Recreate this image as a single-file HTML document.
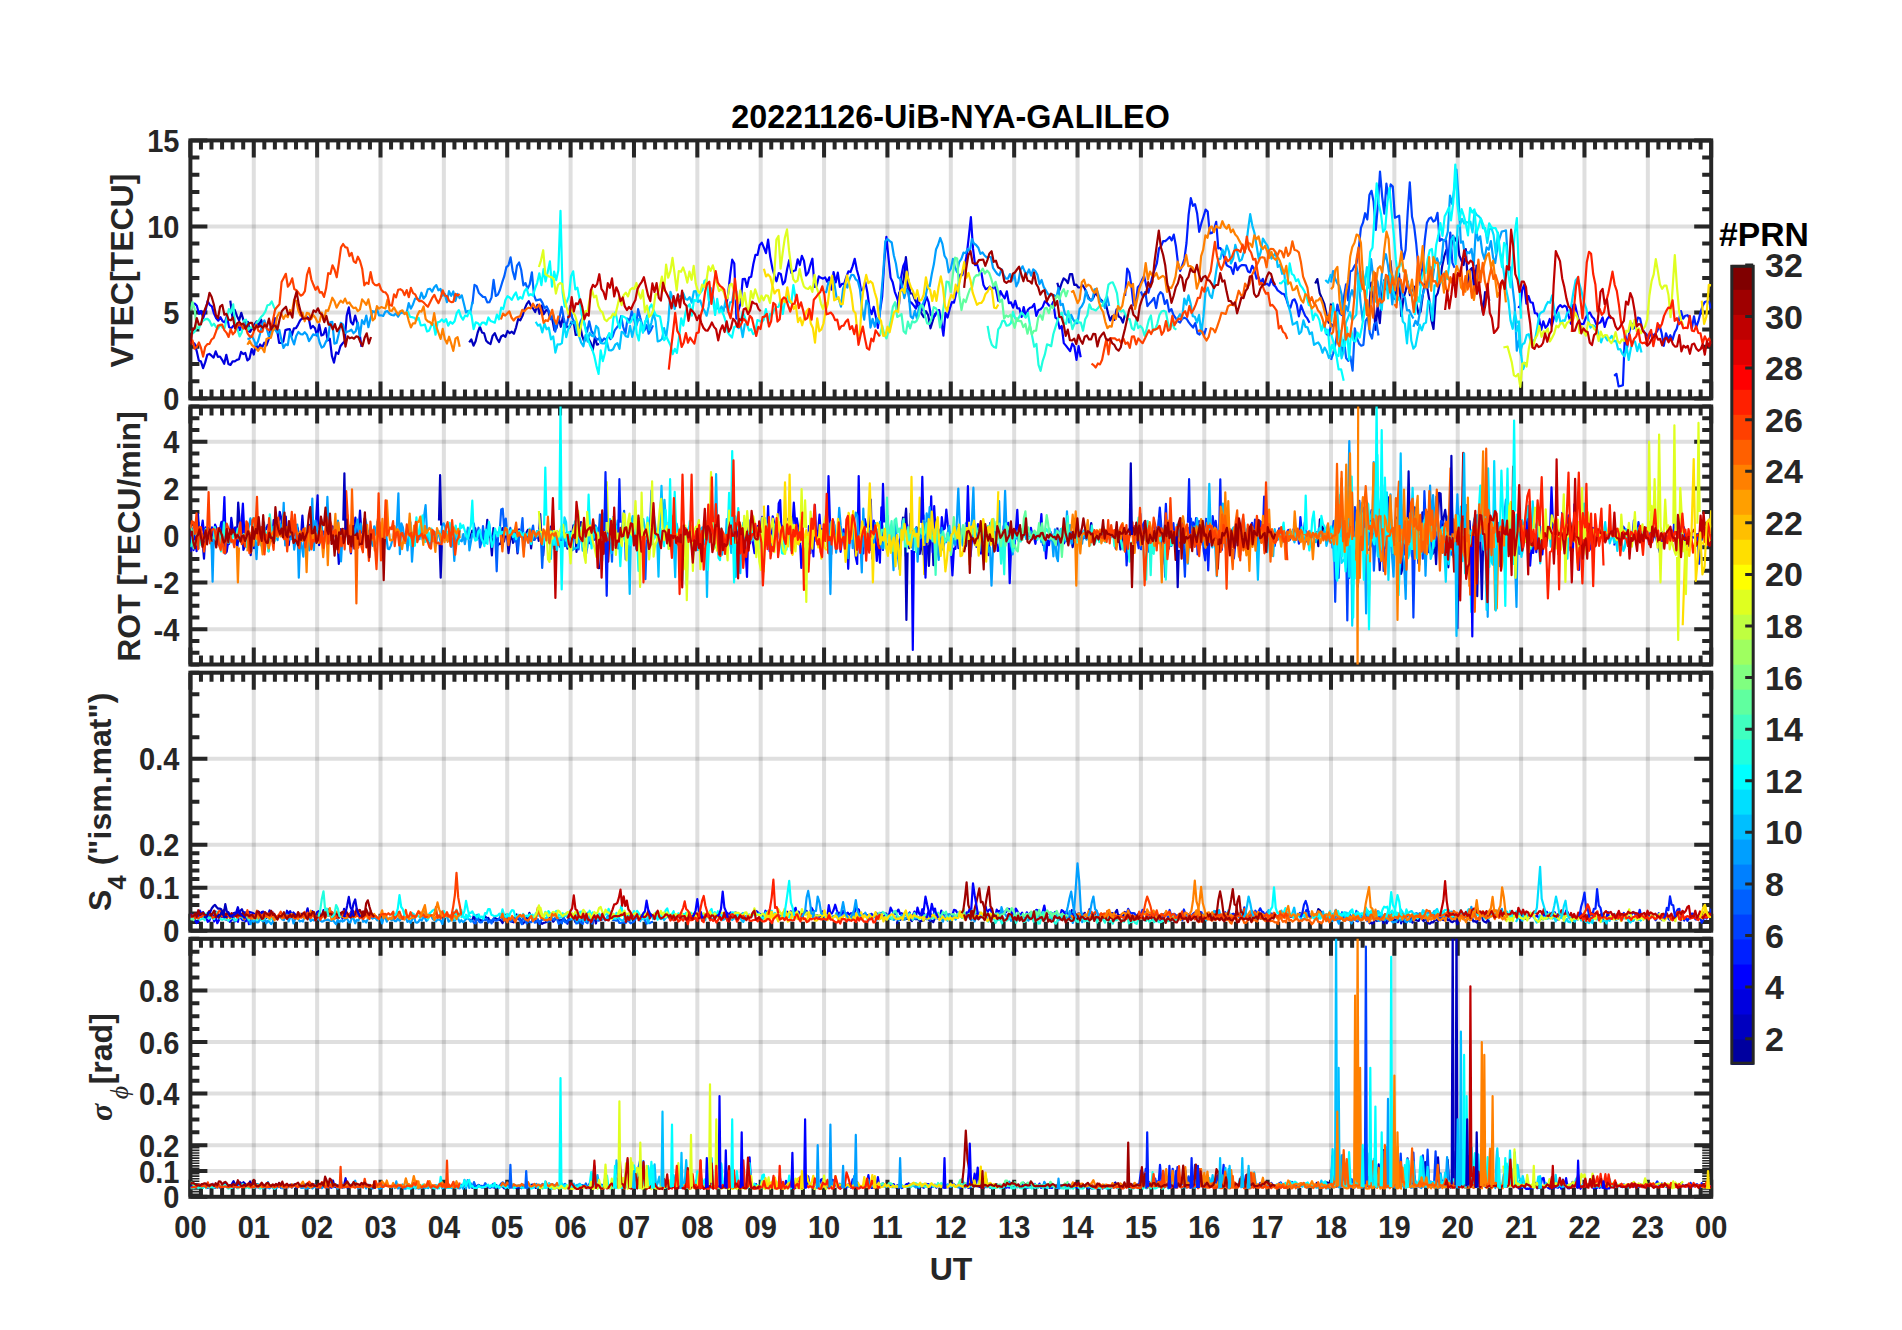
<!DOCTYPE html><html><head><meta charset="utf-8"><style>
html,body{margin:0;padding:0;background:#fff;width:1902px;height:1330px;overflow:hidden}
text{font-family:"Liberation Sans",sans-serif;font-weight:bold}
.tl{font-size:29px;fill:#262626}
.yl{font-size:32px;fill:#262626}
</style></head><body>
<svg width="1902" height="1330" viewBox="0 0 1902 1330" style="position:absolute;left:0;top:0">
<rect width="1902" height="1330" fill="#fff"/>
<clipPath id="c0"><rect x="190.4" y="140.4" width="1520.8" height="258.0"/></clipPath>
<path d="M253.77 140.4V398.4M317.13 140.4V398.4M380.50 140.4V398.4M443.87 140.4V398.4M507.23 140.4V398.4M570.60 140.4V398.4M633.97 140.4V398.4M697.33 140.4V398.4M760.70 140.4V398.4M824.07 140.4V398.4M887.43 140.4V398.4M950.80 140.4V398.4M1014.17 140.4V398.4M1077.53 140.4V398.4M1140.90 140.4V398.4M1204.27 140.4V398.4M1267.63 140.4V398.4M1331.00 140.4V398.4M1394.37 140.4V398.4M1457.73 140.4V398.4M1521.10 140.4V398.4M1584.47 140.4V398.4M1647.83 140.4V398.4" stroke="#262626" stroke-opacity="0.15" stroke-width="4" fill="none"/>
<path d="M190.4 312.40H1711.2M190.4 226.40H1711.2" stroke="#262626" stroke-opacity="0.15" stroke-width="4" fill="none"/>
<path d="M190.40 140.4v17.0M190.40 398.4v-17.0M200.96 140.4v9.0M200.96 398.4v-9.0M211.52 140.4v9.0M211.52 398.4v-9.0M222.08 140.4v9.0M222.08 398.4v-9.0M232.64 140.4v9.0M232.64 398.4v-9.0M243.21 140.4v9.0M243.21 398.4v-9.0M253.77 140.4v17.0M253.77 398.4v-17.0M264.33 140.4v9.0M264.33 398.4v-9.0M274.89 140.4v9.0M274.89 398.4v-9.0M285.45 140.4v9.0M285.45 398.4v-9.0M296.01 140.4v9.0M296.01 398.4v-9.0M306.57 140.4v9.0M306.57 398.4v-9.0M317.13 140.4v17.0M317.13 398.4v-17.0M327.69 140.4v9.0M327.69 398.4v-9.0M338.26 140.4v9.0M338.26 398.4v-9.0M348.82 140.4v9.0M348.82 398.4v-9.0M359.38 140.4v9.0M359.38 398.4v-9.0M369.94 140.4v9.0M369.94 398.4v-9.0M380.50 140.4v17.0M380.50 398.4v-17.0M391.06 140.4v9.0M391.06 398.4v-9.0M401.62 140.4v9.0M401.62 398.4v-9.0M412.18 140.4v9.0M412.18 398.4v-9.0M422.74 140.4v9.0M422.74 398.4v-9.0M433.31 140.4v9.0M433.31 398.4v-9.0M443.87 140.4v17.0M443.87 398.4v-17.0M454.43 140.4v9.0M454.43 398.4v-9.0M464.99 140.4v9.0M464.99 398.4v-9.0M475.55 140.4v9.0M475.55 398.4v-9.0M486.11 140.4v9.0M486.11 398.4v-9.0M496.67 140.4v9.0M496.67 398.4v-9.0M507.23 140.4v17.0M507.23 398.4v-17.0M517.79 140.4v9.0M517.79 398.4v-9.0M528.36 140.4v9.0M528.36 398.4v-9.0M538.92 140.4v9.0M538.92 398.4v-9.0M549.48 140.4v9.0M549.48 398.4v-9.0M560.04 140.4v9.0M560.04 398.4v-9.0M570.60 140.4v17.0M570.60 398.4v-17.0M581.16 140.4v9.0M581.16 398.4v-9.0M591.72 140.4v9.0M591.72 398.4v-9.0M602.28 140.4v9.0M602.28 398.4v-9.0M612.84 140.4v9.0M612.84 398.4v-9.0M623.41 140.4v9.0M623.41 398.4v-9.0M633.97 140.4v17.0M633.97 398.4v-17.0M644.53 140.4v9.0M644.53 398.4v-9.0M655.09 140.4v9.0M655.09 398.4v-9.0M665.65 140.4v9.0M665.65 398.4v-9.0M676.21 140.4v9.0M676.21 398.4v-9.0M686.77 140.4v9.0M686.77 398.4v-9.0M697.33 140.4v17.0M697.33 398.4v-17.0M707.89 140.4v9.0M707.89 398.4v-9.0M718.46 140.4v9.0M718.46 398.4v-9.0M729.02 140.4v9.0M729.02 398.4v-9.0M739.58 140.4v9.0M739.58 398.4v-9.0M750.14 140.4v9.0M750.14 398.4v-9.0M760.70 140.4v17.0M760.70 398.4v-17.0M771.26 140.4v9.0M771.26 398.4v-9.0M781.82 140.4v9.0M781.82 398.4v-9.0M792.38 140.4v9.0M792.38 398.4v-9.0M802.94 140.4v9.0M802.94 398.4v-9.0M813.51 140.4v9.0M813.51 398.4v-9.0M824.07 140.4v17.0M824.07 398.4v-17.0M834.63 140.4v9.0M834.63 398.4v-9.0M845.19 140.4v9.0M845.19 398.4v-9.0M855.75 140.4v9.0M855.75 398.4v-9.0M866.31 140.4v9.0M866.31 398.4v-9.0M876.87 140.4v9.0M876.87 398.4v-9.0M887.43 140.4v17.0M887.43 398.4v-17.0M897.99 140.4v9.0M897.99 398.4v-9.0M908.56 140.4v9.0M908.56 398.4v-9.0M919.12 140.4v9.0M919.12 398.4v-9.0M929.68 140.4v9.0M929.68 398.4v-9.0M940.24 140.4v9.0M940.24 398.4v-9.0M950.80 140.4v17.0M950.80 398.4v-17.0M961.36 140.4v9.0M961.36 398.4v-9.0M971.92 140.4v9.0M971.92 398.4v-9.0M982.48 140.4v9.0M982.48 398.4v-9.0M993.04 140.4v9.0M993.04 398.4v-9.0M1003.61 140.4v9.0M1003.61 398.4v-9.0M1014.17 140.4v17.0M1014.17 398.4v-17.0M1024.73 140.4v9.0M1024.73 398.4v-9.0M1035.29 140.4v9.0M1035.29 398.4v-9.0M1045.85 140.4v9.0M1045.85 398.4v-9.0M1056.41 140.4v9.0M1056.41 398.4v-9.0M1066.97 140.4v9.0M1066.97 398.4v-9.0M1077.53 140.4v17.0M1077.53 398.4v-17.0M1088.09 140.4v9.0M1088.09 398.4v-9.0M1098.66 140.4v9.0M1098.66 398.4v-9.0M1109.22 140.4v9.0M1109.22 398.4v-9.0M1119.78 140.4v9.0M1119.78 398.4v-9.0M1130.34 140.4v9.0M1130.34 398.4v-9.0M1140.90 140.4v17.0M1140.90 398.4v-17.0M1151.46 140.4v9.0M1151.46 398.4v-9.0M1162.02 140.4v9.0M1162.02 398.4v-9.0M1172.58 140.4v9.0M1172.58 398.4v-9.0M1183.14 140.4v9.0M1183.14 398.4v-9.0M1193.71 140.4v9.0M1193.71 398.4v-9.0M1204.27 140.4v17.0M1204.27 398.4v-17.0M1214.83 140.4v9.0M1214.83 398.4v-9.0M1225.39 140.4v9.0M1225.39 398.4v-9.0M1235.95 140.4v9.0M1235.95 398.4v-9.0M1246.51 140.4v9.0M1246.51 398.4v-9.0M1257.07 140.4v9.0M1257.07 398.4v-9.0M1267.63 140.4v17.0M1267.63 398.4v-17.0M1278.19 140.4v9.0M1278.19 398.4v-9.0M1288.76 140.4v9.0M1288.76 398.4v-9.0M1299.32 140.4v9.0M1299.32 398.4v-9.0M1309.88 140.4v9.0M1309.88 398.4v-9.0M1320.44 140.4v9.0M1320.44 398.4v-9.0M1331.00 140.4v17.0M1331.00 398.4v-17.0M1341.56 140.4v9.0M1341.56 398.4v-9.0M1352.12 140.4v9.0M1352.12 398.4v-9.0M1362.68 140.4v9.0M1362.68 398.4v-9.0M1373.24 140.4v9.0M1373.24 398.4v-9.0M1383.81 140.4v9.0M1383.81 398.4v-9.0M1394.37 140.4v17.0M1394.37 398.4v-17.0M1404.93 140.4v9.0M1404.93 398.4v-9.0M1415.49 140.4v9.0M1415.49 398.4v-9.0M1426.05 140.4v9.0M1426.05 398.4v-9.0M1436.61 140.4v9.0M1436.61 398.4v-9.0M1447.17 140.4v9.0M1447.17 398.4v-9.0M1457.73 140.4v17.0M1457.73 398.4v-17.0M1468.29 140.4v9.0M1468.29 398.4v-9.0M1478.86 140.4v9.0M1478.86 398.4v-9.0M1489.42 140.4v9.0M1489.42 398.4v-9.0M1499.98 140.4v9.0M1499.98 398.4v-9.0M1510.54 140.4v9.0M1510.54 398.4v-9.0M1521.10 140.4v17.0M1521.10 398.4v-17.0M1531.66 140.4v9.0M1531.66 398.4v-9.0M1542.22 140.4v9.0M1542.22 398.4v-9.0M1552.78 140.4v9.0M1552.78 398.4v-9.0M1563.34 140.4v9.0M1563.34 398.4v-9.0M1573.91 140.4v9.0M1573.91 398.4v-9.0M1584.47 140.4v17.0M1584.47 398.4v-17.0M1595.03 140.4v9.0M1595.03 398.4v-9.0M1605.59 140.4v9.0M1605.59 398.4v-9.0M1616.15 140.4v9.0M1616.15 398.4v-9.0M1626.71 140.4v9.0M1626.71 398.4v-9.0M1637.27 140.4v9.0M1637.27 398.4v-9.0M1647.83 140.4v17.0M1647.83 398.4v-17.0M1658.39 140.4v9.0M1658.39 398.4v-9.0M1668.96 140.4v9.0M1668.96 398.4v-9.0M1679.52 140.4v9.0M1679.52 398.4v-9.0M1690.08 140.4v9.0M1690.08 398.4v-9.0M1700.64 140.4v9.0M1700.64 398.4v-9.0M1711.20 140.4v17.0M1711.20 398.4v-17.0M190.4 381.20h9.0M1711.2 381.20h-9.0M190.4 364.00h9.0M1711.2 364.00h-9.0M190.4 346.80h9.0M1711.2 346.80h-9.0M190.4 329.60h9.0M1711.2 329.60h-9.0M190.4 295.20h9.0M1711.2 295.20h-9.0M190.4 278.00h9.0M1711.2 278.00h-9.0M190.4 260.80h9.0M1711.2 260.80h-9.0M190.4 243.60h9.0M1711.2 243.60h-9.0M190.4 209.20h9.0M1711.2 209.20h-9.0M190.4 192.00h9.0M1711.2 192.00h-9.0M190.4 174.80h9.0M1711.2 174.80h-9.0M190.4 157.60h9.0M1711.2 157.60h-9.0" stroke="#262626" stroke-width="4" fill="none"/>
<path d="M190.4 398.40h17.0M1711.2 398.40h-17.0M190.4 312.40h17.0M1711.2 312.40h-17.0M190.4 226.40h17.0M1711.2 226.40h-17.0M190.4 140.40h17.0M1711.2 140.40h-17.0" stroke="#262626" stroke-width="4" fill="none"/>
<rect x="190.4" y="140.4" width="1520.8" height="258.0" stroke="#262626" stroke-width="4" fill="none"/>
<g clip-path="url(#c0)"><g fill="none" stroke-width="2.2" stroke-linejoin="round"><path d="M1315.2 283.6L1317.4 279.1L1319.7 293.1L1321.9 298.3L1324.2 303.6L1326.5 314.2L1328.7 322.7L1331.0 303.5" stroke="#00009f"/><path d="M230.3 300.6L232.5 317.8L234.7 309.8L236.9 315.9L239.1 320.5L241.3 312.8L243.5 320.4L245.7 322.6L247.9 321.8L250.1 331.9L252.3 328.2L254.5 324.5L256.7 321.5L258.9 325.7L261.1 319.6L263.3 326.9" stroke="#0000bf"/><path d="M469.2 342.3L471.3 339.3L473.5 345.7L475.6 341.3L477.7 332.5L479.9 326.6L482.0 332.5L484.1 333.3L486.2 340.7L488.4 342.9L490.5 344.0L492.6 335.9L494.8 333.2L496.9 338.5L499.0 342.0L501.2 336.5L503.3 335.2L505.4 336.8L507.5 331.0L509.7 333.2L511.8 331.7L513.9 333.8L516.1 327.3L518.2 319.1L520.3 320.3L522.5 315.8L524.6 309.1L526.7 304.1L528.8 301.2L531.0 305.9L533.1 308.5L535.2 312.0L537.4 304.9L539.5 313.8L541.6 305.6L543.7 314.3L545.9 310.4L548.0 309.9L550.1 318.6L552.3 319.3L554.4 330.2L556.5 328.0L558.7 318.0L560.8 326.8L562.9 316.9L565.0 327.3L567.2 326.5L569.3 327.5L571.4 322.5L573.6 321.9L575.7 335.0L577.8 334.4L579.9 324.2L582.1 335.6L584.2 341.7L586.3 335.7L588.5 338.5L590.6 342.4L592.7 350.2L594.9 337.2L597.0 344.6L599.1 344.0" stroke="#0000bf"/><path d="M896.9 310.4L899.2 292.8L901.4 289.3L903.6 279.6L905.9 257.0L908.1 279.3L910.4 293.5L912.6 293.5L914.8 299.3L917.1 304.3L919.3 308.6L921.5 313.4L923.8 317.2L926.0 311.2L928.2 315.2L930.5 328.3L932.7 320.9L935.0 313.4" stroke="#0000bf"/><path d="M1057.3 282.7L1059.4 290.1L1061.5 283.7L1063.6 278.3L1065.7 279.9L1067.9 283.1L1070.0 274.1L1072.1 274.0L1074.2 284.8L1076.3 284.6L1078.4 287.5L1080.6 287.3L1082.7 285.2L1084.8 288.7L1086.9 293.7L1089.0 298.5L1091.2 300.6L1093.3 297.9L1095.4 292.5L1097.5 295.8L1099.6 298.6L1101.8 300.6L1103.9 304.1L1106.0 304.6L1108.1 313.5L1110.2 320.4L1112.3 316.1L1114.5 319.9L1116.6 309.3L1118.7 316.6L1120.8 317.7L1122.9 322.6L1125.1 314.3" stroke="#0000bf"/><path d="M1369.0 310.5L1371.2 282.5L1373.3 298.1L1375.5 329.8L1377.6 305.9L1379.8 323.1L1381.9 295.3L1384.1 280.3L1386.2 289.2L1388.4 280.6L1390.5 260.8L1392.7 285.9L1394.8 298.6L1397.0 288.8L1399.1 273.5L1401.3 316.2L1403.4 298.3L1405.6 291.1L1407.7 281.5L1409.9 295.1L1412.0 290.2L1414.2 286.6L1416.3 303.2L1418.5 313.8L1420.6 311.7L1422.8 295.4L1424.9 281.8L1427.1 287.1L1429.2 299.3L1431.4 320.1L1433.5 328.9L1435.7 296.8L1437.8 292.9L1440.0 282.2L1442.1 266.6L1444.3 256.2L1446.4 249.8L1448.6 253.8L1450.7 249.7L1452.9 235.7L1455.0 240.8L1457.2 236.2L1459.3 255.4L1461.5 260.7L1463.6 265.1L1465.8 249.1L1467.9 283.4L1470.1 269.9L1472.2 267.9L1474.4 292.3L1476.5 265.5L1478.7 288.7L1480.8 297.3L1483.0 312.8L1485.1 292.2L1487.3 293.4L1489.4 300.8" stroke="#0000bf"/><path d="M190.4 340.7L192.5 342.4L194.6 343.7L196.7 351.1L198.8 360.5L201.0 361.6L203.1 368.1L205.2 362.4L207.3 354.8L209.4 353.9L211.5 355.7L213.6 357.6L215.7 351.4L217.9 356.8L220.0 356.5L222.1 359.8L224.2 363.8L226.3 354.8L228.4 363.9L230.5 364.9L232.6 361.4L234.8 361.3L236.9 359.9L239.0 359.2L241.1 351.9L243.2 354.1L245.3 353.0L247.4 360.5L249.5 358.6L251.7 349.0L253.8 354.5L255.9 343.9L258.0 349.7L260.1 344.5L262.2 347.3L264.3 342.7L266.4 345.3L268.6 339.6L270.7 327.5L272.8 330.4L274.9 318.0L277.0 329.2L279.1 342.9L281.2 343.0L283.3 341.5L285.4 330.1L287.6 329.4L289.7 329.2L291.8 335.4L293.9 328.4L296.0 328.1L298.1 324.6L300.2 320.3L302.3 318.4L304.5 317.7L306.6 316.9L308.7 318.2L310.8 328.4L312.9 325.9L315.0 328.3L317.1 335.7L319.2 324.4L321.4 335.5L323.5 334.5L325.6 328.1L327.7 340.4L329.8 338.6L331.9 355.9L334.0 362.6L336.1 352.4L338.3 353.8L340.4 346.2L342.5 343.5L344.6 341.3L346.7 315.8L348.8 307.4L350.9 322.0L353.0 324.5L355.2 315.5L357.3 323.5L359.4 331.9L361.5 346.8" stroke="#0000df"/><path d="M190.4 304.5L192.5 303.9L194.7 303.6L196.8 305.7L199.0 313.7L201.1 311.0L203.3 317.9L205.4 311.4L207.6 301.1L209.7 304.8L211.9 306.4L214.0 313.6L216.2 318.3L218.3 320.7L220.5 317.2L222.6 321.3L224.8 322.4L226.9 316.1L229.1 327.1L231.2 328.4L233.4 325.8L235.5 324.0L237.7 324.3L239.8 330.0L242.0 325.2L244.1 326.2L246.3 325.0L248.4 331.3L250.6 327.7" stroke="#0000ff"/><path d="M725.8 307.6L728.0 295.1L730.1 275.6L732.2 259.7L734.3 263.6L736.4 318.6L738.5 310.3L740.6 303.2L742.7 279.1L744.9 278.8L747.0 287.0L749.1 277.6L751.2 276.8L753.3 264.2L755.4 254.9L757.5 255.0L759.6 245.2L761.8 242.6L763.9 247.6L766.0 253.1L768.1 239.6L770.2 256.6L772.3 267.9L774.4 275.3L776.5 281.3L778.7 273.0L780.8 273.9L782.9 284.3L785.0 281.5L787.1 269.3L789.2 260.2L791.3 272.8L793.4 271.0L795.6 270.3L797.7 259.3L799.8 265.0L801.9 255.8L804.0 260.9L806.1 275.5L808.2 272.7L810.3 265.1L812.4 258.7L814.6 287.0L816.7 285.7L818.8 276.4L820.9 277.8L823.0 278.6L825.1 277.4L827.2 281.9L829.3 277.3L831.5 289.7L833.6 272.0L835.7 282.5L837.8 272.7L839.9 286.8L842.0 283.9L844.1 284.0L846.2 277.3L848.4 271.3L850.5 272.0L852.6 266.4L854.7 258.8L856.8 269.7L858.9 277.2L861.0 290.4L863.1 289.4L865.3 281.9L867.4 292.5L869.5 308.3L871.6 314.1L873.7 306.8L875.8 316.6L877.9 327.9L880.0 311.2L882.2 296.3L884.3 261.5L886.4 236.8L888.5 257.9L890.6 277.6L892.7 282.3L894.8 291.8L896.9 297.4L899.1 304.1L901.2 276.8L903.3 265.9L905.4 261.4L907.5 286.4L909.6 301.5L911.7 303.0L913.8 305.6L915.9 308.5L918.1 298.0L920.2 307.0L922.3 310.3L924.4 304.2L926.5 296.6L928.6 302.2L930.7 314.2L932.8 318.0L935.0 315.8L937.1 311.0L939.2 310.1L941.3 321.2L943.4 335.6L945.5 312.9L947.6 317.6L949.7 308.9L951.9 302.2L954.0 302.6L956.1 293.6L958.2 287.7L960.3 274.6L962.4 275.1L964.5 266.5L966.6 255.8L968.8 236.8L970.9 217.2L973.0 248.4L975.1 265.1L977.2 264.5L979.3 271.8L981.4 272.7L983.5 285.1L985.7 289.2L987.8 288.3L989.9 286.7L992.0 289.9L994.1 285.4L996.2 290.4L998.3 300.8L1000.4 291.1L1002.5 295.2L1004.7 298.4L1006.8 291.3L1008.9 303.1L1011.0 302.4L1013.1 307.7L1015.2 300.8L1017.3 308.4L1019.4 308.4L1021.6 317.0L1023.7 307.1L1025.8 316.6L1027.9 309.8L1030.0 307.8L1032.1 307.2L1034.2 304.0L1036.3 315.8L1038.5 310.1L1040.6 309.3L1042.7 306.9L1044.8 301.3L1046.9 302.8L1049.0 305.5L1051.1 306.5L1053.2 301.9L1055.4 317.6L1057.5 319.2L1059.6 328.5L1061.7 326.0L1063.8 343.1L1065.9 345.6L1068.0 348.4L1070.1 351.2L1072.3 343.6L1074.4 346.6L1076.5 359.8L1078.6 346.1L1080.7 357.2" stroke="#0000ff"/><path d="M1517.9 306.7L1520.0 307.4L1522.2 289.7L1524.3 284.8L1526.4 303.6L1528.5 296.0L1530.6 302.3L1532.8 302.9L1534.9 313.2L1537.0 313.5L1539.1 318.5L1541.2 329.9L1543.3 321.3L1545.5 327.8L1547.6 325.4L1549.7 319.0L1551.8 326.0L1553.9 317.7L1556.0 312.6L1558.2 307.3L1560.3 305.1L1562.4 307.2L1564.5 305.6L1566.6 307.1L1568.7 316.1L1570.9 323.8L1573.0 305.0L1575.1 304.7L1577.2 314.4L1579.3 322.0L1581.4 324.2L1583.6 323.9L1585.7 318.1L1587.8 313.9L1589.9 312.5L1592.0 316.7L1594.1 318.8L1596.3 324.4L1598.4 323.4L1600.5 322.2L1602.6 317.5L1604.7 327.0L1606.8 319.7L1609.0 316.5L1611.1 318.4" stroke="#0000ff"/><path d="M1125.1 296.0L1127.2 268.5L1129.3 272.5L1131.4 286.2L1133.5 305.2L1135.7 303.1L1137.8 287.2L1139.9 285.0L1142.0 280.1L1144.1 275.9L1146.3 285.5L1148.4 292.7L1150.5 284.5L1152.6 275.4L1154.7 269.7L1156.9 263.1L1159.0 248.3L1161.1 246.2L1163.2 241.0L1165.3 241.1L1167.4 239.2L1169.6 236.9L1171.7 240.4L1173.8 234.6L1175.9 246.0L1178.0 263.4L1180.2 271.0L1182.3 265.2L1184.4 259.0L1186.5 243.0L1188.6 214.9L1190.8 198.1L1192.9 205.8L1195.0 204.1L1197.1 213.2L1199.2 231.8L1201.4 223.2L1203.5 216.5L1205.6 209.6L1207.7 211.6L1209.8 233.5L1212.0 232.9L1214.1 229.3L1216.2 221.9L1218.3 248.4L1220.4 248.0L1222.6 252.2L1224.7 259.2L1226.8 265.3L1228.9 266.6L1231.0 267.6L1233.2 274.0L1235.3 262.8L1237.4 270.2L1239.5 266.6L1241.6 265.1L1243.8 265.2L1245.9 265.4L1248.0 271.4L1250.1 272.4L1252.2 265.8L1254.3 269.6L1256.5 278.6L1258.6 277.1L1260.7 283.1L1262.8 278.8L1264.9 284.6L1267.1 283.7L1269.2 285.6L1271.3 278.9L1273.4 284.6L1275.5 286.6L1277.7 290.4L1279.8 291.9L1281.9 293.7L1284.0 294.0L1286.1 298.2L1288.3 305.4L1290.4 307.7L1292.5 300.5L1294.6 299.3L1296.7 304.2L1298.9 316.4L1301.0 305.4L1303.1 310.9L1305.2 315.9L1307.3 318.4L1309.5 322.7" stroke="#0020ff"/><path d="M1614.2 375.9L1616.4 373.8L1618.6 386.4L1620.7 385.9L1622.9 385.3L1625.0 331.6L1627.2 347.1L1629.3 332.1L1631.5 323.4L1633.6 328.5L1635.8 325.8L1637.9 317.5L1640.1 318.6L1642.3 328.8L1644.4 332.4L1646.6 334.6L1648.7 338.5L1650.9 333.0L1653.0 335.4L1655.2 333.9L1657.3 330.8L1659.5 325.4L1661.6 332.9L1663.8 345.8L1666.0 333.3L1668.1 339.4L1670.3 335.2L1672.4 340.1L1674.6 332.6L1676.7 328.7L1678.9 320.3L1681.0 311.0L1683.2 318.7L1685.3 315.7L1687.5 315.2L1689.7 318.7L1691.8 328.8L1694.0 316.3L1696.1 327.6L1698.3 321.4L1700.4 313.1L1702.6 305.9L1704.7 302.1L1706.9 301.2L1709.0 301.7L1711.2 308.4" stroke="#0020ff"/><path d="M1140.9 291.5L1143.1 297.1L1145.3 291.9L1147.4 306.2L1149.6 303.2L1151.8 300.9L1154.0 297.8L1156.1 308.1L1158.3 295.5L1160.5 292.2L1162.7 294.0L1164.8 303.9L1167.0 300.1L1169.2 311.6L1171.4 309.1L1173.5 315.0L1175.7 318.1L1177.9 321.3L1180.1 322.5L1182.2 318.8L1184.4 317.7L1186.6 318.7L1188.8 322.4L1190.9 325.1L1193.1 327.6L1195.3 323.1L1197.5 333.2L1199.6 334.5L1201.8 329.8L1204.0 335.1L1206.2 328.0" stroke="#0040ff"/><path d="M1324.7 326.5L1326.8 334.3L1328.9 335.5L1331.1 323.9L1333.2 326.4L1335.3 319.9L1337.4 304.5L1339.6 313.1L1341.7 315.0L1343.8 298.0L1346.0 284.4L1348.1 300.4L1350.2 271.5L1352.3 270.6L1354.5 265.9L1356.6 263.2L1358.7 249.0L1360.9 227.9L1363.0 222.7L1365.1 213.2L1367.3 219.5L1369.4 195.1L1371.5 190.8L1373.6 201.9L1375.8 230.0L1377.9 204.7L1380.0 171.6L1382.2 196.8L1384.3 213.6L1386.4 183.6L1388.5 197.5L1390.7 184.4L1392.8 186.6L1394.9 217.8L1397.1 216.8L1399.2 215.7L1401.3 248.0L1403.5 259.0L1405.6 249.7L1407.7 212.2L1409.8 182.3L1412.0 216.8L1414.1 225.9L1416.2 243.5L1418.4 267.9L1420.5 285.1L1422.6 265.5L1424.8 240.0L1426.9 222.8L1429.0 218.7L1431.1 217.4L1433.3 221.5L1435.4 220.2L1437.5 212.8L1439.7 240.9L1441.8 239.1L1443.9 240.6L1446.0 240.2L1448.2 264.0L1450.3 232.6L1452.4 262.9L1454.6 267.8" stroke="#0040ff"/><path d="M472.4 304.2L474.5 284.8L476.6 286.2L478.8 292.7L480.9 294.9L483.0 296.9L485.1 297.0L487.3 302.4L489.4 302.2L491.5 297.6L493.6 279.8L495.8 296.0L497.9 294.6L500.0 289.8L502.1 282.7L504.3 276.2L506.4 267.1L508.5 265.3L510.6 257.3L512.7 271.0L514.9 279.1L517.0 265.6L519.1 262.5L521.2 270.0L523.4 285.3L525.5 283.1L527.6 288.9L529.7 284.4L531.9 272.3L534.0 295.3L536.1 300.5L538.2 299.9L540.4 299.4L542.5 302.8L544.6 308.3L546.7 306.4L548.9 311.1L551.0 319.3L553.1 314.5L555.2 331.7L557.4 322.1L559.5 317.5L561.6 306.8L563.7 318.0L565.9 327.4L568.0 319.4L570.1 306.0L572.2 317.7L574.4 322.4L576.5 326.7L578.6 327.4L580.7 321.1L582.9 317.1L585.0 326.0L587.1 331.8L589.2 321.3L591.4 331.0L593.5 334.0L595.6 338.2L597.7 339.7L599.9 337.5L602.0 341.2L604.1 338.5L606.2 339.9L608.4 335.5L610.5 339.1L612.6 336.6L614.7 330.4L616.9 327.4L619.0 324.6L621.1 316.2L623.2 327.0L625.4 333.8L627.5 318.5L629.6 321.1L631.7 311.4L633.9 318.1L636.0 327.3L638.1 309.2L640.2 317.6L642.4 325.5L644.5 330.4L646.6 325.2L648.7 333.7L650.9 330.1L653.0 325.4" stroke="#0060ff"/><path d="M1331.0 359.8L1333.2 353.5L1335.3 344.6L1337.5 331.6L1339.6 338.2L1341.8 355.8L1344.0 340.2L1346.1 358.0L1348.3 360.9L1350.4 356.6L1352.6 370.7L1354.8 328.3L1356.9 337.8L1359.1 343.6L1361.2 345.7L1363.4 344.9L1365.6 320.8L1367.7 317.7L1369.9 333.5L1372.0 338.6L1374.2 324.3L1376.4 322.3L1378.5 335.5" stroke="#0060ff"/><path d="M247.4 338.9L249.6 338.6L251.7 335.4L253.8 339.7L255.9 345.1L258.0 341.4L260.2 333.2L262.3 323.9L264.4 320.4L266.5 327.7L268.7 336.0L270.8 332.6L272.9 328.3L275.0 329.5L277.1 332.7L279.3 329.8L281.4 339.9L283.5 347.9L285.6 344.3L287.8 345.1L289.9 331.5L292.0 338.9L294.1 344.4L296.2 336.1L298.4 331.9L300.5 334.1L302.6 334.4L304.7 332.2L306.9 334.7L309.0 341.2L311.1 337.8L313.2 334.4L315.3 335.2L317.5 333.7L319.6 342.5L321.7 347.7L323.8 346.3L326.0 341.5L328.1 338.5L330.2 322.4L332.3 321.9L334.4 343.6L336.6 342.9L338.7 333.9L340.8 322.9L342.9 324.3L345.1 333.1L347.2 331.7L349.3 331.0L351.4 329.7L353.5 333.3L355.7 331.3L357.8 322.5L359.9 336.1L362.0 320.2L364.2 324.0L366.3 315.5L368.4 327.2L370.5 318.4L372.6 311.1L374.8 312.3L376.9 308.6L379.0 315.4L381.1 315.3L383.2 316.0L385.4 311.6L387.5 311.1L389.6 313.7L391.7 315.0L393.9 315.4L396.0 313.3L398.1 316.7L400.2 313.2L402.3 312.4L404.5 313.4L406.6 313.0L408.7 303.2L410.8 308.7L413.0 304.4L415.1 298.5L417.2 298.7L419.3 299.8L421.4 292.7L423.6 298.5L425.7 296.0L427.8 289.2L429.9 288.7L432.1 291.7L434.2 287.2L436.3 285.1L438.4 290.3L440.5 288.8L442.7 295.6L444.8 293.9L446.9 302.2L449.0 291.1L451.2 295.9L453.3 291.5L455.4 301.0L457.5 294.0L459.6 298.0L461.8 295.3L463.9 303.7L466.0 312.4L468.1 311.0L470.3 312.9L472.4 301.9" stroke="#009fff"/><path d="M824.1 292.2L826.2 292.2L828.3 282.7L830.4 281.6L832.5 278.7L834.6 285.2L836.7 298.3L838.9 299.1L841.0 306.6L843.1 288.7L845.2 283.4L847.3 287.6L849.4 279.5L851.5 274.8L853.6 275.0L855.8 279.4L857.9 281.2L860.0 289.6L862.1 308.6L864.2 319.6L866.3 300.5L868.4 304.5L870.5 327.6L872.6 318.8L874.8 326.8L876.9 318.1L879.0 323.1L881.1 297.3L883.2 272.7L885.3 241.2L887.4 239.1L889.5 240.9L891.7 242.5L893.8 255.3L895.9 263.5L898.0 277.1L900.1 278.9L902.2 287.0L904.3 298.1L906.4 289.2L908.6 292.4L910.7 316.4L912.8 318.5L914.9 310.9L917.0 318.7L919.1 306.6L921.2 307.2L923.3 302.6L925.5 297.1L927.6 285.5L929.7 286.3L931.8 274.0L933.9 264.1L936.0 249.5L938.1 244.8L940.2 238.0L942.4 243.9L944.5 255.7L946.6 259.2L948.7 272.3L950.8 268.7L952.9 258.9L955.0 267.4L957.1 272.0L959.2 262.1L961.4 258.8L963.5 252.6L965.6 253.2L967.7 248.9L969.8 251.7L971.9 239.2L974.0 243.5L976.1 245.0L978.3 247.7L980.4 253.9L982.5 252.3L984.6 255.5L986.7 257.3L988.8 257.0L990.9 257.0L993.0 267.8L995.2 271.1L997.3 274.0L999.4 275.4L1001.5 269.1L1003.6 274.7L1005.7 278.5L1007.8 278.7L1009.9 274.1L1012.1 280.6L1014.2 273.2L1016.3 286.4L1018.4 281.8L1020.5 269.7L1022.6 266.3L1024.7 271.4L1026.8 274.7L1029.0 269.4L1031.1 275.7L1033.2 269.4L1035.3 271.1L1037.4 274.7L1039.5 284.1L1041.6 280.0L1043.7 286.9L1045.8 290.4L1048.0 294.0L1050.1 295.5L1052.2 294.9L1054.3 295.2L1056.4 297.3L1058.5 288.0L1060.6 305.2L1062.7 303.8L1064.9 313.9L1067.0 315.7L1069.1 322.5L1071.2 314.9L1073.3 319.7L1075.4 323.1L1077.5 323.2L1079.6 308.9L1081.8 306.3L1083.9 302.1L1086.0 290.5L1088.1 298.6L1090.2 300.1L1092.3 300.1L1094.4 289.6L1096.5 288.7L1098.7 295.3L1100.8 301.3L1102.9 302.4L1105.0 308.1L1107.1 296.4L1109.2 305.9" stroke="#009fff"/><path d="M1331.0 282.5L1333.1 271.0L1335.2 278.7L1337.3 283.0L1339.4 286.0L1341.6 294.5L1343.7 320.7L1345.8 305.8L1347.9 311.0L1350.0 296.9L1352.1 290.2L1354.2 298.2L1356.3 265.1L1358.5 277.4L1360.6 303.1L1362.7 320.5L1364.8 304.7L1366.9 289.6L1369.0 285.6L1371.1 259.1L1373.2 276.3L1375.4 277.5L1377.5 281.5L1379.6 297.6L1381.7 275.4L1383.8 261.2L1385.9 254.2L1388.0 265.6L1390.1 281.8L1392.3 304.4L1394.4 284.7L1396.5 271.2L1398.6 282.5L1400.7 287.2L1402.8 296.1L1404.9 297.5L1407.0 310.4L1409.2 310.2L1411.3 314.7L1413.4 318.6" stroke="#009fff"/><path d="M1413.4 326.8L1415.5 320.8L1417.7 324.9L1419.8 312.4L1422.0 296.6L1424.1 290.4L1426.3 283.9L1428.5 287.0L1430.6 266.8L1432.8 277.9L1434.9 262.3L1437.1 258.3L1439.2 265.3L1441.4 261.6L1443.5 240.6L1445.7 239.3L1447.8 231.8L1450.0 195.6L1452.2 204.0L1454.3 188.6L1456.5 169.5L1458.6 197.8L1460.8 242.7L1462.9 241.5L1465.1 257.0L1467.2 252.0L1469.4 253.2L1471.5 249.0L1473.7 265.5L1475.9 228.5L1478.0 240.5L1480.2 236.3L1482.3 252.4L1484.5 259.3L1486.6 247.4L1488.8 249.7L1490.9 241.1L1493.1 257.7L1495.2 263.0L1497.4 247.8L1499.6 238.3L1501.7 231.6L1503.9 231.0L1506.0 230.4L1508.2 264.9L1510.3 267.9L1512.5 286.6L1514.6 304.1L1516.8 350.7L1518.9 340.3L1521.1 355.7" stroke="#009fff"/><path d="M570.6 320.9L572.7 323.5L574.9 321.4L577.0 332.0L579.1 336.3L581.2 342.6L583.4 346.3L585.5 335.2L587.6 341.7L589.7 332.8L591.9 335.9L594.0 336.3L596.1 325.9L598.2 328.2L600.4 342.9L602.5 343.3L604.6 343.5L606.7 340.8L608.9 350.2L611.0 350.5L613.1 349.3L615.2 344.7L617.4 343.2L619.5 348.9L621.6 331.8L623.7 332.9L625.9 336.3L628.0 336.9L630.1 325.9L632.2 336.9L634.4 326.7L636.5 325.1L638.6 319.1L640.7 320.5L642.9 332.6L645.0 324.6L647.1 315.5L649.2 329.8L651.4 322.8L653.5 313.0L655.6 321.5L657.7 341.5L659.9 340.7L662.0 339.0L664.1 328.2L666.2 337.1L668.4 320.2L670.5 291.8L672.6 298.5L674.7 309.0L676.9 297.9L679.0 296.3L681.1 296.2L683.2 293.2L685.4 299.0L687.5 299.8L689.6 297.1L691.7 302.7L693.9 291.3L696.0 291.2L698.1 302.0L700.2 300.4L702.4 307.1L704.5 310.7L706.6 315.7L708.7 306.5L710.9 288.0L713.0 296.9L715.1 309.2L717.2 307.2L719.4 310.3L721.5 306.5L723.6 311.2L725.7 299.6L727.9 312.1L730.0 302.4L732.1 302.0L734.2 289.0L736.4 291.4L738.5 328.2L740.6 324.7L742.7 337.1L744.9 323.3" stroke="#00bfff"/><path d="M1175.8 323.7L1177.9 317.7L1180.0 314.2L1182.1 318.5L1184.3 298.7L1186.4 304.6L1188.5 295.4L1190.6 303.6L1192.8 316.2L1194.9 316.8L1197.0 322.5L1199.1 314.8L1201.3 333.1L1203.4 316.9L1205.5 292.4L1207.7 287.6L1209.8 295.3L1211.9 298.0L1214.0 286.3L1216.2 271.1L1218.3 259.2L1220.4 258.8L1222.5 249.6L1224.7 255.1L1226.8 245.5L1228.9 251.3L1231.0 263.5L1233.2 258.6L1235.3 244.9L1237.4 252.5L1239.6 261.1L1241.7 259.6L1243.8 252.4L1245.9 248.1L1248.1 229.3L1250.2 214.2L1252.3 225.5L1254.4 232.8L1256.6 245.7L1258.7 258.8L1260.8 251.6L1262.9 238.5L1265.1 242.4L1267.2 245.3L1269.3 251.4L1271.5 258.6L1273.6 255.6L1275.7 252.5L1277.8 267.0L1280.0 264.9L1282.1 273.8L1284.2 271.3L1286.3 295.9L1288.5 305.9L1290.6 313.3L1292.7 324.6L1294.8 323.6L1297.0 321.8L1299.1 333.9L1301.2 331.7L1303.4 320.4L1305.5 326.9L1307.6 327.4L1309.7 334.1L1311.9 332.3L1314.0 344.8L1316.1 343.5L1318.2 342.4L1320.4 345.9L1322.5 352.8L1324.6 347.6L1326.7 351.2L1328.9 358.0L1331.0 354.2" stroke="#00bfff"/><path d="M1325.3 280.0L1328.1 282.7L1331.0 274.2" stroke="#00bfff"/><path d="M535.7 321.8L537.9 325.5L540.1 324.4L542.3 332.4L544.5 323.6L546.6 329.3L548.8 327.7L551.0 339.3L553.2 336.3L555.4 352.6L557.5 344.3L559.7 344.5L561.9 343.1L564.1 323.8L566.2 337.2L568.4 328.5L570.6 323.9" stroke="#00dfff"/><path d="M1516.0 332.2L1518.2 325.4L1520.3 351.8L1522.4 344.4L1524.5 343.0L1526.7 335.0L1528.8 334.2L1530.9 341.9L1533.0 341.5L1535.2 338.8L1537.3 327.2L1539.4 314.2L1541.5 312.3L1543.7 311.3L1545.8 305.8L1547.9 301.9L1550.1 302.8L1552.2 295.3L1554.3 310.0L1556.4 321.3L1558.6 312.6L1560.7 323.6L1562.8 320.4L1564.9 320.8L1567.1 313.1L1569.2 311.6L1571.3 305.1L1573.4 292.2L1575.6 280.4L1577.7 277.7L1579.8 285.2L1582.0 293.4L1584.1 303.0L1586.2 308.3L1588.3 320.1L1590.5 327.6L1592.6 325.2L1594.7 326.1L1596.8 328.3L1599.0 336.4L1601.1 342.4L1603.2 336.2L1605.3 336.8L1607.5 340.3L1609.6 338.7L1611.7 335.9L1613.9 341.3L1616.0 340.7L1618.1 349.3L1620.2 349.0L1622.4 353.7L1624.5 356.4L1626.6 346.6L1628.7 360.0L1630.9 348.1L1633.0 341.4L1635.1 341.7L1637.2 351.1L1639.4 343.9L1641.5 352.4" stroke="#00dfff"/><path d="M1331.0 321.8L1333.1 303.4L1335.2 317.1L1337.3 312.6L1339.4 339.2L1341.6 358.3L1343.7 351.0L1345.8 323.0L1347.9 318.0L1350.0 312.2L1352.1 320.3L1354.2 317.7L1356.3 314.6L1358.5 274.8L1360.6 291.5L1362.7 271.3L1364.8 284.9L1366.9 267.2L1369.0 286.5L1371.1 290.7L1373.2 286.9L1375.4 300.7L1377.5 303.4L1379.6 303.6L1381.7 310.0L1383.8 282.5L1385.9 276.9L1388.0 298.4L1390.1 273.2L1392.3 289.3L1394.4 294.7L1396.5 302.4L1398.6 297.4L1400.7 302.7L1402.8 321.6L1404.9 323.8L1407.0 343.4L1409.2 315.1L1411.3 340.8L1413.4 348.6L1415.5 346.0L1417.6 334.9L1419.7 324.7L1421.8 330.3L1423.9 323.7L1426.0 322.6L1428.2 300.6L1430.3 303.5L1432.4 320.6L1434.5 285.3L1436.6 285.8L1438.7 264.3L1440.8 282.7L1442.9 280.5L1445.1 272.0L1447.2 279.0L1449.3 264.6L1451.4 239.7L1453.5 236.1L1455.6 264.2L1457.7 225.5L1459.8 226.0L1462.0 218.8L1464.1 223.5L1466.2 222.2L1468.3 222.5L1470.4 221.7L1472.5 232.3L1474.6 211.2L1476.7 214.9L1478.9 216.4L1481.0 218.9L1483.1 228.2L1485.2 228.2L1487.3 242.8L1489.4 229.5L1491.5 228.1L1493.6 234.8L1495.8 253.4L1497.9 232.5L1500.0 251.5L1502.1 260.5L1504.2 275.2L1506.3 290.3L1508.4 300.5L1510.5 320.4L1512.7 328.8L1514.8 312.2L1516.9 322.7L1519.0 321.4L1521.1 354.9L1523.2 369.1L1525.3 363.1L1527.4 364.8" stroke="#00dfff"/><path d="M405.8 312.9L408.0 312.0L410.1 316.9L412.2 317.2L414.3 317.8L416.4 320.3L418.6 317.8L420.7 325.3L422.8 325.1L424.9 324.5L427.0 331.5L429.1 330.7L431.3 325.3L433.4 323.8L435.5 334.7L437.6 322.4L439.7 321.8L441.9 319.5L444.0 322.0L446.1 319.1L448.2 325.6L450.3 321.8L452.4 323.8L454.6 321.3L456.7 313.2L458.8 310.1L460.9 316.3L463.0 319.7L465.1 315.6L467.3 316.3L469.4 310.7L471.5 315.4L473.6 329.1L475.7 322.4L477.9 323.1L480.0 325.7L482.1 322.7L484.2 322.6L486.3 324.6L488.4 317.5L490.6 321.0L492.7 321.8L494.8 322.7L496.9 314.5L499.0 319.3L501.2 307.6L503.3 309.1L505.4 300.0L507.5 296.2L509.6 297.5L511.7 299.9L513.9 295.5L516.0 292.5L518.1 299.5L520.2 297.0L522.3 298.7L524.5 291.1L526.6 288.4L528.7 295.5L530.8 294.2L532.9 295.7L535.0 288.6L537.2 282.8L539.3 273.3L541.4 285.1L543.5 269.2L545.6 281.5L547.8 271.6L549.9 261.4L552.0 286.7L554.1 271.6L556.2 280.1L558.3 270.6L560.5 210.8L562.6 292.6L564.7 306.7L566.8 301.9L568.9 296.3L571.0 276.3L573.2 271.3L575.3 289.4L577.4 287.7L579.5 298.4L581.6 314.3L583.8 321.6L585.9 331.5L588.0 338.8L590.1 345.5L592.2 349.5L594.3 355.9L596.5 366.1L598.6 374.0L600.7 350.4L602.8 361.1L604.9 353.2L607.1 339.0L609.2 333.1L611.3 338.2L613.4 318.1L615.5 312.1L617.6 322.3L619.8 328.2L621.9 316.1L624.0 316.8L626.1 318.2L628.2 322.4L630.4 322.6L632.5 318.5L634.6 314.1L636.7 333.2L638.8 340.5L640.9 322.9L643.1 332.0L645.2 321.0L647.3 318.8L649.4 307.9L651.5 304.5L653.6 310.3L655.8 314.9L657.9 315.9L660.0 316.5L662.1 328.2L664.2 340.2L666.4 336.8L668.5 341.2L670.6 345.4L672.7 354.2L674.8 348.8L676.9 352.9L679.1 337.1L681.2 318.4L683.3 325.6L685.4 313.3L687.5 306.4L689.7 304.2L691.8 315.6L693.9 300.1L696.0 301.1L698.1 296.8L700.2 293.0L702.4 290.1L704.5 280.8L706.6 279.3L708.7 300.2L710.8 299.8L713.0 299.5L715.1 315.0L717.2 298.8L719.3 312.5L721.4 310.0L723.5 314.7L725.7 321.4L727.8 332.4L729.9 335.3L732.0 337.6L734.1 327.3L736.2 326.1L738.4 322.0L740.5 321.4L742.6 312.1L744.7 316.8L746.8 324.0L749.0 330.5L751.1 329.1L753.2 334.2L755.3 332.7L757.4 320.1L759.5 320.7L761.7 322.3L763.8 319.5L765.9 309.0L768.0 322.7L770.1 313.9L772.3 313.9L774.4 309.6L776.5 307.0L778.6 306.8L780.7 299.8L782.8 314.0L785.0 300.5L787.1 294.2L789.2 301.7L791.3 303.1L793.4 285.1L795.6 298.4" stroke="#00ffff"/><path d="M1279.0 283.0L1281.2 283.3L1283.3 281.1L1285.4 279.5L1287.5 284.3L1289.7 263.4L1291.8 273.9L1293.9 275.3L1296.0 281.1L1298.1 279.2L1300.3 285.3L1302.4 287.9L1304.5 291.5L1306.6 297.0L1308.8 305.0L1310.9 305.9L1313.0 319.8L1315.1 313.6L1317.3 315.6L1319.4 320.1L1321.5 330.7L1323.6 323.1L1325.8 333.4L1327.9 329.6L1330.0 353.4L1332.1 344.9L1334.2 350.2L1336.4 355.0L1338.5 356.0L1340.6 330.8L1342.7 345.9L1344.9 345.8L1347.0 327.4L1349.1 359.8L1351.2 330.2L1353.4 340.6L1355.5 341.6L1357.6 332.6L1359.7 337.5L1361.8 327.7L1364.0 314.6L1366.1 299.3L1368.2 276.0L1370.3 251.7L1372.5 247.7L1374.6 214.0L1376.7 183.4L1378.8 203.9L1381.0 214.0L1383.1 231.8L1385.2 228.9L1387.3 203.3L1389.5 187.8L1391.6 212.1L1393.7 233.6L1395.8 259.4L1397.9 275.6L1400.1 262.2L1402.2 264.7L1404.3 272.2L1406.4 275.0L1408.6 287.9L1410.7 289.5L1412.8 301.8L1414.9 314.1L1417.1 296.5L1419.2 301.8L1421.3 279.8L1423.4 272.2L1425.5 273.0L1427.7 259.1L1429.8 250.1L1431.9 249.0L1434.0 267.7L1436.2 245.1L1438.3 235.6L1440.4 223.2L1442.5 235.8L1444.7 216.2L1446.8 212.4L1448.9 207.4L1451.0 220.3L1453.2 203.1L1455.3 164.6L1457.4 204.0L1459.5 219.8L1461.6 209.2L1463.8 215.9L1465.9 223.8L1468.0 235.3L1470.1 207.8L1472.3 212.5L1474.4 209.3L1476.5 233.2L1478.6 226.7L1480.8 218.6L1482.9 223.8L1485.0 230.2L1487.1 235.9L1489.2 223.4L1491.4 227.3L1493.5 228.2L1495.6 228.2L1497.7 233.3L1499.9 252.8L1502.0 267.2L1504.1 242.8L1506.2 246.0L1508.4 274.6L1510.5 287.4L1512.6 262.1L1514.7 233.7L1516.9 218.0L1519.0 277.6L1521.1 318.6" stroke="#00ffff"/><path d="M1331.0 333.8L1333.5 342.1L1336.1 353.7L1338.6 369.4L1341.1 369.3L1343.7 380.7" stroke="#00ffff"/><path d="M190.4 330.8L192.5 333.6L194.7 331.6L196.8 327.4L199.0 328.1L201.1 322.5L203.2 320.6L205.4 319.2L207.5 318.9L209.6 320.9L211.8 325.7L213.9 323.7L216.1 327.1L218.2 328.5L220.3 324.6L222.5 327.6L224.6 328.2L226.8 318.1L228.9 309.1L231.0 312.7L233.2 304.4L235.3 325.8L237.4 328.8L239.6 336.5L241.7 332.4L243.9 320.6L246.0 319.7L248.1 329.9L250.3 327.4L252.4 327.6L254.6 328.3L256.7 322.6L258.8 320.4L261.0 317.1L263.1 314.9L265.3 311.7L267.4 305.3L269.5 304.8L271.7 301.5L273.8 306.7L275.9 310.6" stroke="#20ffdf"/><path d="M987.6 325.9L989.7 338.0L991.8 344.8L993.9 347.0L996.0 347.8L998.2 329.4L1000.3 326.7L1002.4 320.9L1004.5 321.0L1006.6 325.7L1008.8 325.1L1010.9 323.1L1013.0 311.8L1015.1 318.1L1017.3 320.9L1019.4 316.5L1021.5 312.4L1023.6 315.0L1025.7 317.7L1027.9 313.0L1030.0 325.4L1032.1 335.9L1034.2 346.7L1036.4 343.8L1038.5 364.8L1040.6 370.9L1042.7 360.8L1044.8 354.7L1047.0 344.4L1049.1 345.0L1051.2 346.2L1053.3 334.2L1055.4 327.4L1057.6 320.4L1059.7 314.1L1061.8 312.7L1063.9 322.9L1066.1 323.8L1068.2 311.2L1070.3 318.2L1072.4 329.1L1074.5 323.7L1076.7 319.6L1078.8 322.3L1080.9 322.7L1083.0 330.7L1085.2 319.2L1087.3 315.5L1089.4 304.3L1091.5 309.0L1093.6 309.4L1095.8 310.4L1097.9 308.3L1100.0 305.3L1102.1 306.0L1104.2 301.6L1106.4 296.9L1108.5 284.5L1110.6 282.8L1112.7 282.3L1114.9 287.1L1117.0 293.4L1119.1 310.7L1121.2 311.6L1123.3 310.1L1125.5 314.7L1127.6 319.4L1129.7 319.0L1131.8 328.1L1134.0 329.9L1136.1 319.6L1138.2 328.1L1140.3 325.9L1142.4 328.2L1144.6 335.8L1146.7 328.8L1148.8 320.0L1150.9 315.4L1153.0 331.0L1155.2 329.2L1157.3 323.8L1159.4 315.0L1161.5 311.5L1163.7 310.8L1165.8 311.7L1167.9 322.7L1170.0 328.9L1172.1 322.9L1174.3 328.4L1176.4 329.6" stroke="#20ffdf"/><path d="M877.9 335.3L880.1 334.8L882.2 325.8L884.4 334.8L886.5 338.4L888.6 330.4L890.8 320.5L892.9 306.7L895.1 302.2L897.2 316.9L899.4 315.8L901.5 314.0L903.6 331.2L905.8 333.6L907.9 321.6L910.1 328.4L912.2 321.3L914.4 322.5L916.5 321.0L918.7 316.2L920.8 305.0L922.9 305.9L925.1 316.3L927.2 323.5L929.4 323.8L931.5 318.7L933.7 307.1L935.8 308.2L937.9 311.8L940.1 327.5L942.2 317.1L944.4 301.0L946.5 281.7L948.7 282.1L950.8 291.8" stroke="#40ffbf"/><path d="M190.4 310.5L192.5 302.1L194.6 308.8L196.7 328.7" stroke="#60ff9f"/><path d="M950.8 292.8L952.9 274.1L955.1 257.7L957.2 258.5L959.3 295.4L961.5 310.1L963.6 299.4L965.7 302.2L967.9 294.9L970.0 289.0L972.1 287.4L974.2 277.8L976.4 275.2L978.5 275.4L980.6 271.8L982.8 268.6L984.9 273.6L987.0 270.6L989.2 272.9L991.3 279.0L993.4 286.5L995.6 281.8L997.7 289.8L999.8 302.1L1002.0 299.4L1004.1 318.7L1006.2 315.4L1008.3 316.8L1010.5 314.7L1012.6 321.2L1014.7 327.8L1016.9 318.0L1019.0 321.1L1021.1 321.0L1023.3 327.2L1025.4 324.0L1027.5 333.7L1029.7 325.1L1031.8 334.6L1033.9 330.8L1036.1 330.7L1038.2 317.6L1040.3 314.8L1042.5 319.8L1044.6 308.6L1046.7 307.8L1048.8 313.2L1051.0 305.6L1053.1 308.3L1055.2 298.8L1057.4 295.4L1059.5 299.3L1061.6 292.6L1063.8 289.1L1065.9 296.3L1068.0 290.2" stroke="#60ff9f"/><path d="M538.9 267.0L541.0 260.3L543.2 250.2L545.3 274.0L547.4 275.5L549.5 276.7L551.6 277.0L553.8 279.5L555.9 293.6L558.0 284.9L560.1 283.0L562.2 284.0L564.4 297.8L566.5 307.0L568.6 314.3L570.7 308.8L572.8 312.2L575.0 315.2L577.1 322.2L579.2 336.2L581.3 324.6L583.4 316.1L585.6 311.0L587.7 311.2L589.8 298.6L591.9 289.8L594.0 297.4L596.2 295.6L598.3 305.9L600.4 310.6L602.5 312.3L604.6 319.4L606.8 321.1L608.9 318.4L611.0 317.4L613.1 313.6L615.2 315.5L617.4 306.2L619.5 296.9L621.6 305.1L623.7 295.1L625.8 292.6L628.0 296.4L630.1 289.8L632.2 288.0L634.3 288.9L636.4 283.0L638.6 293.0L640.7 298.5L642.8 290.2L644.9 311.8L647.0 305.6L649.2 316.8L651.3 314.7L653.4 309.7L655.5 294.0L657.6 294.5L659.8 287.3L661.9 276.7L664.0 290.7L666.1 264.7L668.2 277.7L670.4 271.1L672.5 257.8L674.6 273.6L676.7 290.3L678.8 271.0L681.0 271.8L683.1 267.4L685.2 273.5L687.3 282.6L689.4 271.6L691.6 279.8L693.7 265.9L695.8 283.8L697.9 291.0L700.0 293.3L702.2 284.5L704.3 287.2L706.4 281.3L708.5 266.4L710.6 270.9L712.8 265.3L714.9 272.7L717.0 284.0L719.1 291.1L721.2 288.9L723.4 291.4L725.5 297.8L727.6 298.3L729.7 284.9L731.8 283.8L734.0 290.7L736.1 298.4L738.2 302.7L740.3 290.4L742.4 305.9L744.6 292.9L746.7 306.8L748.8 313.1L750.9 291.1L753.0 298.4L755.2 289.3L757.3 295.5L759.4 301.9L761.5 295.7L763.6 300.3L765.8 295.4L767.9 295.9L770.0 303.0L772.1 288.4L774.2 275.8L776.4 239.6L778.5 236.0L780.6 268.6L782.7 252.5L784.8 238.1L787.0 229.4L789.1 250.9L791.2 267.5L793.3 279.4L795.4 282.0L797.6 280.5L799.7 269.2L801.8 279.6L803.9 286.5L806.0 288.3L808.2 289.0L810.3 286.4L812.4 291.9L814.5 274.8L816.6 287.3L818.8 294.0L820.9 303.3L823.0 309.0L825.1 302.3L827.2 304.5" stroke="#dfff20"/><path d="M1503.4 347.5L1505.5 347.0L1507.6 346.6L1509.7 354.5L1511.8 362.4L1513.9 375.3L1516.1 376.4L1518.2 373.9L1520.3 386.9L1522.4 363.7L1524.5 362.7L1526.6 366.6L1528.8 348.7L1530.9 338.7L1533.0 347.5L1535.1 338.8L1537.2 335.3L1539.3 326.1L1541.5 336.9L1543.6 331.4L1545.7 332.2L1547.8 328.5L1549.9 341.5L1552.1 337.8L1554.2 333.5L1556.3 325.7L1558.4 327.3L1560.5 323.2L1562.6 322.7L1564.8 327.8L1566.9 323.0L1569.0 321.6L1571.1 319.0L1573.2 319.6L1575.3 312.7L1577.5 317.6L1579.6 332.8L1581.7 326.3L1583.8 331.5L1585.9 335.7L1588.0 322.3L1590.2 324.8L1592.3 325.3L1594.4 329.1L1596.5 330.6L1598.6 340.9L1600.7 331.5L1602.9 337.1L1605.0 335.0L1607.1 335.4L1609.2 340.3L1611.3 343.2L1613.5 339.2L1615.6 332.1L1617.7 341.0L1619.8 343.2L1621.9 339.5L1624.0 340.8L1626.2 330.7L1628.3 331.8L1630.4 320.8L1632.5 329.0L1634.6 319.9L1636.7 331.1L1638.9 328.4L1641.0 333.3L1643.1 329.2L1645.2 326.1L1647.3 319.1L1649.4 295.5L1651.6 281.1L1653.7 274.4L1655.8 259.2L1657.9 271.4L1660.0 284.6L1662.1 288.8L1664.3 285.6L1666.4 285.5L1668.5 295.1L1670.6 317.1L1672.7 286.9L1674.8 255.1L1677.0 287.3L1679.1 310.9L1681.2 320.7L1683.3 325.6" stroke="#dfff20"/><path d="M763.9 268.8L766.0 276.4L768.1 274.4L770.3 277.0L772.4 285.7L774.5 293.5L776.7 290.4L778.8 289.9L780.9 304.8L783.1 300.3L785.2 302.2L787.3 287.3L789.4 299.5L791.6 302.5L793.7 309.0L795.8 305.2L798.0 322.1L800.1 317.6L802.2 325.3L804.4 317.3L806.5 311.4L808.6 308.7L810.8 323.6L812.9 327.9L815.0 342.7L817.2 318.3L819.3 331.3L821.4 329.4L823.5 323.5L825.7 310.8L827.8 303.7L829.9 285.7L832.1 275.7L834.2 300.3L836.3 299.3L838.5 297.1L840.6 304.1L842.7 304.2L844.9 287.0L847.0 275.4L849.1 283.2L851.3 293.7L853.4 310.6L855.5 313.1L857.7 336.0L859.8 334.4L861.9 301.8L864.0 285.2L866.2 274.9L868.3 283.1L870.4 281.2L872.6 283.4L874.7 292.3L876.8 299.1L879.0 317.6L881.1 321.0L883.2 335.8L885.4 335.5L887.5 326.7L889.6 332.3L891.8 322.2L893.9 312.5L896.0 310.6L898.1 311.9L900.3 291.0L902.4 289.2L904.5 293.1L906.7 271.7L908.8 281.0L910.9 287.2L913.1 291.3L915.2 298.5L917.3 290.2L919.5 300.8L921.6 299.9L923.7 294.6L925.9 277.3L928.0 287.8L930.1 289.7L932.3 301.0L934.4 291.1L936.5 300.9L938.6 287.0L940.8 276.4L942.9 287.2L945.0 306.0L947.2 311.3L949.3 300.7L951.4 294.7L953.6 298.3L955.7 284.7L957.8 291.6L960.0 279.8L962.1 272.6L964.2 262.2L966.4 277.7L968.5 273.0L970.6 280.7L972.7 292.7L974.9 299.0L977.0 304.8L979.1 303.2L981.3 303.0L983.4 300.2L985.5 293.9L987.7 291.5L989.8 286.9L991.9 289.5L994.1 307.7L996.2 308.2L998.3 304.5" stroke="#ffdf00"/><path d="M1701.7 300.7L1704.1 324.0L1706.4 316.7L1708.8 284.9L1711.2 285.4" stroke="#ffdf00"/><path d="M247.4 344.8L249.6 340.8L251.7 344.7L253.8 346.6L255.9 348.1L258.0 350.8L260.2 347.6L262.3 348.3L264.4 352.1L266.5 338.9L268.7 338.0L270.8 338.0L272.9 330.4L275.0 328.3L277.1 316.8L279.3 312.6L281.4 314.0L283.5 318.9L285.6 315.0L287.8 317.2L289.9 310.0L292.0 311.9L294.1 299.9L296.3 301.0L298.4 310.8L300.5 315.5L302.6 312.7L304.7 321.3L306.9 312.9L309.0 313.5L311.1 319.2L313.2 314.9L315.4 317.7L317.5 322.3L319.6 321.7L321.7 312.6L323.9 320.8L326.0 310.4L328.1 310.8L330.2 304.5L332.3 297.7L334.5 301.3L336.6 307.7L338.7 303.7L340.8 300.7L343.0 302.7L345.1 298.6L347.2 303.6L349.3 302.4L351.4 305.8L353.6 308.2L355.7 307.5L357.8 311.1L359.9 309.5L362.1 299.4L364.2 301.9L366.3 304.8L368.4 299.4L370.6 309.5L372.7 320.3L374.8 318.5L376.9 306.2L379.0 308.7L381.2 307.0L383.3 307.8L385.4 308.5L387.5 299.7L389.7 310.7L391.8 310.9L393.9 307.4L396.0 311.1L398.1 314.5L400.3 311.2L402.4 310.3L404.5 314.0L406.6 312.5L408.8 321.1L410.9 327.4L413.0 323.3L415.1 323.4L417.3 315.5L419.4 311.2L421.5 311.6L423.6 306.5L425.7 319.0L427.9 321.4L430.0 322.1L432.1 324.9L434.2 313.2L436.4 326.8L438.5 332.8L440.6 338.9L442.7 328.9L444.8 339.0L447.0 343.5L449.1 336.7L451.2 343.5L453.3 350.9L455.5 338.7L457.6 337.2L459.7 346.8" stroke="#ff8000"/><path d="M1071.2 292.4L1073.3 290.9L1075.5 297.2L1077.6 303.2L1079.7 299.3L1081.8 282.2L1084.0 279.6L1086.1 286.6L1088.2 284.7L1090.4 285.9L1092.5 290.5L1094.6 293.0L1096.8 288.6L1098.9 301.9L1101.0 308.5L1103.1 312.0L1105.3 321.8L1107.4 328.2L1109.5 326.1L1111.7 326.6L1113.8 314.9L1115.9 319.1L1118.0 306.0L1120.2 309.4L1122.3 305.8L1124.4 293.8L1126.6 288.1L1128.7 282.2L1130.8 286.8L1133.0 283.8L1135.1 309.1L1137.2 299.6L1139.3 288.8L1141.5 283.2L1143.6 278.9L1145.7 263.0L1147.9 279.6L1150.0 271.6L1152.1 275.5L1154.2 276.5L1156.4 273.0L1158.5 278.9L1160.6 277.3L1162.8 275.9L1164.9 277.3L1167.0 291.9L1169.2 287.4L1171.3 288.1L1173.4 283.6L1175.5 276.6L1177.7 261.5L1179.8 269.2L1181.9 267.3L1184.1 264.4L1186.2 254.9L1188.3 266.1L1190.5 266.2L1192.6 267.5L1194.7 272.2L1196.8 288.6L1199.0 281.9L1201.1 256.2L1203.2 249.7L1205.4 235.3L1207.5 237.9L1209.6 227.7L1211.7 226.4L1213.9 232.1L1216.0 226.0L1218.1 227.5L1220.3 227.8L1222.4 221.2L1224.5 226.2L1226.7 228.7L1228.8 224.9L1230.9 232.3L1233.0 229.5L1235.2 234.5L1237.3 236.7L1239.4 240.9L1241.6 244.7L1243.7 247.4L1245.8 248.5L1247.9 243.1L1250.1 243.6L1252.2 247.0L1254.3 235.4L1256.5 239.3L1258.6 236.4L1260.7 245.5L1262.9 249.0L1265.0 245.9L1267.1 251.2L1269.2 257.9L1271.4 251.8L1273.5 257.9L1275.6 259.8L1277.8 257.1L1279.9 261.1L1282.0 267.3L1284.2 273.7L1286.3 265.8L1288.4 283.7L1290.5 282.3L1292.7 290.2L1294.8 289.4L1296.9 285.9L1299.1 294.3L1301.2 300.0L1303.3 302.6L1305.4 294.0L1307.6 295.9L1309.7 302.4L1311.8 308.5L1314.0 306.3L1316.1 300.6L1318.2 300.3L1320.4 297.8L1322.5 303.5L1324.6 311.6L1326.7 319.8L1328.9 315.1L1331.0 327.4" stroke="#ff8000"/><path d="M1331.0 289.3L1333.1 286.7L1335.3 270.0L1337.4 266.8L1339.5 299.9L1341.7 314.0L1343.8 310.6L1345.9 292.7L1348.1 279.9L1350.2 256.5L1352.3 247.1L1354.5 242.8L1356.6 234.5L1358.7 235.8L1360.9 242.8L1363.0 277.2L1365.1 299.6L1367.3 300.3L1369.4 329.1L1371.5 291.6L1373.7 271.5L1375.8 285.4L1377.9 268.6L1380.1 266.2L1382.2 272.5L1384.3 249.4L1386.5 231.7L1388.6 239.1L1390.7 270.6L1392.9 276.8L1395.0 290.2L1397.1 268.4L1399.3 266.3L1401.4 251.7L1403.5 271.3L1405.6 270.2L1407.8 285.6L1409.9 292.8L1412.0 279.7L1414.2 295.6L1416.3 300.6L1418.4 273.6L1420.6 267.5L1422.7 246.1L1424.8 281.7L1427.0 287.7L1429.1 257.1L1431.2 290.8L1433.4 257.2L1435.5 262.8L1437.6 262.5L1439.8 282.6L1441.9 275.9L1444.0 292.7L1446.2 271.2L1448.3 278.1L1450.4 282.2L1452.6 279.4L1454.7 276.6L1456.8 266.0L1459.0 272.5L1461.1 287.6L1463.2 290.3L1465.4 291.7L1467.5 271.4L1469.6 270.5L1471.8 289.3L1473.9 300.0L1476.0 286.6L1478.2 286.9L1480.3 271.1L1482.4 271.5L1484.6 262.8L1486.7 255.7L1488.8 253.2L1491.0 267.2L1493.1 260.8L1495.2 279.1L1497.4 296.8L1499.5 291.6L1501.6 283.1L1503.8 282.7L1505.9 302.4" stroke="#ff8000"/><path d="M500.9 319.5L503.0 313.6L505.2 315.6L507.3 313.4L509.4 311.4L511.6 317.8L513.7 320.5L515.8 317.7L518.0 316.8L520.1 316.4L522.3 309.8L524.4 311.3L526.5 308.9L528.7 307.7L530.8 308.4L532.9 303.6L535.1 307.4L537.2 307.5L539.3 304.4L541.5 311.7L543.6 322.8L545.7 320.2L547.9 321.1L550.0 315.9L552.2 309.8L554.3 319.1L556.4 323.8L558.6 315.6" stroke="#ff6000"/><path d="M1197.9 331.1L1200.1 330.4L1202.2 332.0L1204.4 337.2L1206.5 340.5L1208.7 336.8L1210.8 328.2L1213.0 329.0L1215.1 332.4L1217.2 326.7L1219.4 320.2L1221.5 312.8L1223.7 313.4L1225.8 314.0L1228.0 306.4L1230.1 304.8L1232.3 304.9L1234.4 305.4L1236.6 299.0L1238.7 290.7L1240.9 295.1L1243.0 295.7L1245.1 283.5L1247.3 287.4L1249.4 284.3L1251.6 275.9L1253.7 271.5L1255.9 266.6L1258.0 262.7L1260.2 257.8L1262.3 257.2L1264.5 257.9L1266.6 267.3L1268.8 250.5L1270.9 248.9L1273.1 249.0L1275.2 251.7L1277.3 255.9L1279.5 250.4L1281.6 251.5L1283.8 257.4L1285.9 247.5L1288.1 256.0L1290.2 252.6L1292.4 241.3L1294.5 250.0L1296.7 250.5L1298.8 252.3L1301.0 262.6L1303.1 276.6L1305.2 282.0L1307.4 287.6L1309.5 301.7L1311.7 297.1L1313.8 303.2L1316.0 305.4L1318.1 310.6L1320.3 312.9L1322.4 318.5L1324.6 326.6L1326.7 318.2L1328.9 320.5L1331.0 305.3" stroke="#ff6000"/><path d="M1331.0 334.4L1333.1 332.1L1335.2 311.8L1337.3 342.3L1339.4 346.2L1341.6 331.1L1343.7 311.5L1345.8 339.7L1347.9 333.7L1350.0 336.6L1352.1 321.5L1354.2 299.7L1356.3 260.6L1358.5 247.7L1360.6 278.8L1362.7 288.8L1364.8 290.5L1366.9 315.1L1369.0 315.8L1371.1 306.1L1373.2 317.7L1375.4 273.1L1377.5 306.5L1379.6 298.5L1381.7 302.6L1383.8 300.3L1385.9 274.9L1388.0 276.7L1390.1 292.6L1392.3 278.0L1394.4 285.4" stroke="#ff6000"/><path d="M1394.4 304.2L1396.5 307.3L1398.7 278.3L1400.8 279.8L1403.0 292.3L1405.1 270.9L1407.3 286.6L1409.4 288.0L1411.6 294.3L1413.8 312.2L1415.9 289.0L1418.1 256.5L1420.2 281.2L1422.4 283.8L1424.5 287.7L1426.7 283.4L1428.8 277.2L1431.0 270.4L1433.1 281.3L1435.3 281.2L1437.5 286.7L1439.6 281.0L1441.8 275.9L1443.9 273.6L1446.1 289.0L1448.2 290.8L1450.4 277.1L1452.5 283.4L1454.7 283.3L1456.8 275.0L1459.0 275.3L1461.2 267.3L1463.3 294.9L1465.5 276.0L1467.6 289.6L1469.8 280.5L1471.9 297.8L1474.1 286.2L1476.2 286.7L1478.4 259.7L1480.5 282.1L1482.7 262.8L1484.9 281.3L1487.0 289.9L1489.2 277.6L1491.3 268.0L1493.5 279.0L1495.6 275.0L1497.8 282.3L1499.9 290.7L1502.1 280.6" stroke="#ff6000"/><path d="M190.4 343.4L192.5 340.4L194.6 348.7L196.8 346.8L198.9 342.4L201.0 347.9L203.1 356.6L205.2 346.9L207.4 344.1L209.5 343.9L211.6 339.5L213.7 337.9L215.8 332.2L218.0 325.6L220.1 325.1L222.2 324.6L224.3 330.1L226.4 332.6L228.6 336.9L230.7 329.1L232.8 334.4L234.9 332.0L237.1 326.1L239.2 324.8L241.3 325.4L243.4 328.6L245.5 326.9L247.7 333.7L249.8 336.5L251.9 337.0L254.0 331.0L256.1 324.9L258.3 330.7L260.4 332.0L262.5 331.6L264.6 323.2L266.7 328.3L268.9 330.2L271.0 329.3L273.1 319.4L275.2 309.2L277.3 306.8L279.5 304.2L281.6 282.0L283.7 277.9L285.8 273.8L287.9 286.7L290.1 283.6L292.2 278.3L294.3 289.1L296.4 290.2L298.5 292.8L300.7 295.7L302.8 294.5L304.9 291.2L307.0 274.9L309.2 268.0L311.3 279.3L313.4 284.8L315.5 289.8L317.6 286.7L319.8 292.6L321.9 292.2L324.0 296.9L326.1 288.3L328.2 273.2L330.4 273.9L332.5 265.3L334.6 269.8L336.7 277.3L338.8 263.5L341.0 247.3L343.1 244.0L345.2 247.1L347.3 247.8L349.4 256.1L351.6 252.8L353.7 261.3L355.8 262.8L357.9 256.7L360.0 261.0L362.2 268.7L364.3 285.3L366.4 282.6L368.5 283.9L370.6 272.1L372.8 282.5L374.9 284.9L377.0 285.4L379.1 284.0L381.2 289.7L383.4 292.0L385.5 292.3L387.6 295.3L389.7 305.0L391.9 305.8L394.0 294.4L396.1 297.3L398.2 289.7L400.3 289.2L402.5 290.6L404.6 295.2L406.7 290.1L408.8 297.2L410.9 287.9L413.1 293.1L415.2 294.4L417.3 299.0L419.4 301.1L421.5 300.8L423.7 302.5L425.8 304.9L427.9 306.8L430.0 302.5L432.1 298.2L434.3 294.8L436.4 299.6L438.5 303.1L440.6 298.1L442.7 290.3L444.9 295.6L447.0 296.0L449.1 300.9L451.2 302.1L453.3 301.8L455.5 293.8L457.6 295.7L459.7 294.0" stroke="#ff4000"/><path d="M1091.5 363.6L1093.6 365.1L1095.7 367.5L1097.9 363.5L1100.0 364.4L1102.1 359.8L1104.2 349.3L1106.4 339.0L1108.5 354.3L1110.6 338.2L1112.8 338.4L1114.9 338.4L1117.0 340.3L1119.1 339.5L1121.3 343.3L1123.4 338.4L1125.5 343.9L1127.7 342.4L1129.8 347.9L1131.9 336.6L1134.0 336.4L1136.2 344.4L1138.3 338.5L1140.4 340.9L1142.6 343.2L1144.7 339.1L1146.8 334.5L1148.9 330.3L1151.1 334.0L1153.2 329.5L1155.3 329.6L1157.5 328.5L1159.6 325.8L1161.7 334.8L1163.8 331.2L1166.0 321.0L1168.1 330.7L1170.2 329.4L1172.3 315.9L1174.5 325.3L1176.6 321.0L1178.7 318.5L1180.9 319.5L1183.0 313.2L1185.1 311.2L1187.2 316.9L1189.4 306.0L1191.5 313.0L1193.6 309.5L1195.8 304.4L1197.9 297.8L1200.0 297.8L1202.1 287.3L1204.3 291.7L1206.4 280.6L1208.5 276.8L1210.7 271.4L1212.8 256.2L1214.9 241.9L1217.0 256.0L1219.2 265.0L1221.3 269.9L1223.4 264.7L1225.6 256.7L1227.7 261.3L1229.8 259.5L1231.9 256.8L1234.1 250.9L1236.2 249.7L1238.3 250.1L1240.5 252.0L1242.6 244.6L1244.7 252.7L1246.8 236.5L1249.0 249.4L1251.1 252.5L1253.2 259.6L1255.4 258.8L1257.5 271.7L1259.6 284.6L1261.7 282.9L1263.9 289.5L1266.0 293.7L1268.1 292.8L1270.3 305.6L1272.4 304.9L1274.5 307.5L1276.6 310.7L1278.8 328.5L1280.9 325.9L1283.0 331.9L1285.1 333.5L1287.3 339.0" stroke="#ff4000"/><path d="M668.8 369.7L670.9 350.1L673.1 331.5L675.2 312.9L677.3 330.9L679.5 334.8L681.6 346.9L683.7 342.7L685.9 333.1L688.0 342.7L690.1 337.6L692.3 340.8L694.4 343.6L696.5 333.1L698.7 332.4L700.8 315.1L702.9 307.9L705.1 291.8L707.2 283.6L709.3 281.7L711.4 303.8L713.6 286.6L715.7 271.2L717.8 282.5L720.0 285.8L722.1 287.3L724.2 289.7L726.4 301.6L728.5 311.8L730.6 318.3L732.8 304.3L734.9 278.7L737.0 298.7L739.2 327.2L741.3 323.9L743.4 318.6L745.5 320.7L747.7 324.9L749.8 315.7L751.9 318.0L754.1 327.5L756.2 336.0L758.3 326.9L760.5 329.0L762.6 317.1L764.7 316.6L766.9 313.8L769.0 326.5L771.1 321.3L773.3 302.8L775.4 304.5L777.5 321.6L779.7 319.3L781.8 300.0L783.9 297.4L786.0 298.9L788.2 305.9L790.3 311.5L792.4 304.1L794.6 303.7L796.7 294.7L798.8 308.1L801.0 302.4L803.1 310.3L805.2 319.6L807.4 318.0L809.5 309.1L811.6 319.6L813.8 299.8L815.9 297.3L818.0 294.3L820.1 292.3L822.3 286.4L824.4 294.5L826.5 314.3L828.7 313.6L830.8 312.6L832.9 314.9L835.1 320.2L837.2 319.6L839.3 329.3L841.5 326.0L843.6 325.7L845.7 321.8L847.9 319.5L850.0 329.2L852.1 326.2L854.3 334.1L856.4 325.2L858.5 344.9L860.6 334.7L862.8 326.5L864.9 338.1L867.0 348.2L869.2 349.7L871.3 338.6L873.4 341.3L875.6 330.4L877.7 333.4L879.8 336.5" stroke="#ff2000"/><path d="M1571.8 332.0L1573.9 308.7L1576.1 286.0L1578.2 276.9L1580.4 299.0L1582.5 318.3L1584.7 290.8L1586.8 262.2L1589.0 251.8L1591.1 253.8L1593.2 274.1L1595.4 284.5L1597.5 311.4L1599.7 308.8L1601.8 314.8L1604.0 312.3L1606.1 301.7L1608.3 293.3L1610.4 282.7L1612.5 271.6L1614.7 284.8L1616.8 290.8L1619.0 305.3L1621.1 322.7L1623.3 328.7L1625.4 338.9L1627.6 344.6L1629.7 334.6L1631.8 346.0L1634.0 338.9L1636.1 336.6L1638.3 329.9L1640.4 342.1L1642.6 343.3L1644.7 342.5L1646.9 344.9L1649.0 334.0L1651.1 330.0L1653.3 346.2L1655.4 336.1L1657.6 323.1L1659.7 328.0L1661.9 323.9L1664.0 315.9L1666.2 311.1L1668.3 307.5L1670.5 308.1L1672.6 300.3L1674.7 320.8L1676.9 318.1L1679.0 324.3L1681.2 322.0L1683.3 328.3L1685.5 327.7L1687.6 328.1L1689.8 315.9L1691.9 330.7L1694.0 331.2L1696.2 326.2L1698.3 333.0L1700.5 333.4L1702.6 343.7L1704.8 336.3L1706.9 340.9L1709.1 338.5L1711.2 344.1" stroke="#ff2000"/><path d="M567.4 317.8L569.6 316.4L571.7 297.2L573.8 311.5L575.9 303.3L578.1 304.1L580.2 299.3L582.3 307.1L584.4 319.2L586.5 313.6L588.7 315.7L590.8 290.4L592.9 284.8L595.0 287.0L597.2 283.8L599.3 274.2L601.4 288.9L603.5 291.9L605.7 299.1L607.8 283.1L609.9 287.8L612.0 278.4L614.2 296.5L616.3 287.3L618.4 292.2L620.5 301.2L622.7 297.5L624.8 306.4L626.9 310.0L629.0 307.0L631.1 309.2L633.3 304.0L635.4 300.0L637.5 288.9L639.6 284.9L641.8 281.8L643.9 277.2L646.0 286.6L648.1 295.5L650.3 301.2L652.4 283.4L654.5 291.9L656.6 283.1L658.8 297.9L660.9 300.6L663.0 282.6L665.1 290.5L667.3 294.7L669.4 299.3L671.5 308.5L673.6 296.2L675.7 306.1L677.9 294.3L680.0 307.3L682.1 290.7L684.2 303.2L686.4 305.7L688.5 320.9L690.6 309.3L692.7 311.4L694.9 314.2L697.0 320.2L699.1 315.5L701.2 322.6L703.4 327.7L705.5 330.3L707.6 330.6L709.7 327.1L711.9 322.5L714.0 326.9L716.1 329.3L718.2 340.4L720.3 330.4L722.5 325.3L724.6 332.0L726.7 321.4L728.8 331.7L731.0 327.8L733.1 318.7L735.2 321.2L737.3 326.9L739.5 319.1L741.6 320.4L743.7 309.3L745.8 308.3L748.0 314.2L750.1 310.4L752.2 301.7L754.3 303.5L756.5 303.9L758.6 309.1L760.7 311.3" stroke="#bf0000"/><path d="M1445.1 310.0L1447.2 290.7L1449.3 308.4L1451.4 294.4L1453.6 274.2L1455.7 296.9L1457.8 273.2L1460.0 276.0L1462.1 262.8L1464.2 250.3L1466.4 261.0L1468.5 263.6L1470.6 260.7L1472.7 262.4L1474.9 277.4L1477.0 293.9L1479.1 282.3L1481.3 303.4L1483.4 314.9L1485.5 304.2L1487.6 283.9L1489.8 312.8L1491.9 318.2L1494.0 333.0L1496.2 330.6L1498.3 327.2L1500.4 284.0L1502.5 280.4L1504.7 288.9L1506.8 266.1L1508.9 269.7L1511.1 229.7L1513.2 246.4L1515.3 274.1L1517.5 279.8L1519.6 292.0L1521.7 281.7L1523.8 281.7L1526.0 287.1L1528.1 309.0L1530.2 323.7L1532.4 347.4L1534.5 348.9L1536.6 344.2L1538.7 347.1L1540.9 346.1L1543.0 343.0L1545.1 333.4L1547.3 341.8L1549.4 334.1L1551.5 331.0L1553.6 285.6L1555.8 251.1L1557.9 256.3L1560.0 261.1L1562.2 278.4L1564.3 287.1L1566.4 298.4L1568.5 306.2L1570.7 308.9L1572.8 331.0L1574.9 330.7L1577.1 324.0L1579.2 320.3L1581.3 333.3L1583.5 328.4L1585.6 331.2L1587.7 332.1L1589.8 342.8L1592.0 345.1L1594.1 335.1L1596.2 333.1L1598.4 314.3L1600.5 291.9L1602.6 289.0L1604.7 304.0L1606.9 299.2L1609.0 314.7L1611.1 317.4L1613.3 318.7L1615.4 326.1L1617.5 329.7L1619.6 327.7L1621.8 323.8L1623.9 320.8L1626.0 301.5L1628.2 304.6L1630.3 293.0L1632.4 298.1L1634.6 310.7L1636.7 326.5L1638.8 324.0L1640.9 324.6L1643.1 331.3L1645.2 333.6L1647.3 345.7L1649.5 343.5L1651.6 339.2L1653.7 337.0L1655.8 334.3L1658.0 339.6L1660.1 338.9L1662.2 345.3L1664.4 338.9L1666.5 337.7L1668.6 342.3L1670.7 338.3L1672.9 344.2L1675.0 346.6L1677.1 346.4L1679.3 335.2L1681.4 351.3L1683.5 345.7L1685.7 347.6L1687.8 345.9L1689.9 353.8L1692.0 344.6L1694.2 343.6L1696.3 348.5L1698.4 350.8L1700.6 349.2L1702.7 344.2L1704.8 354.7L1706.9 341.3L1709.1 346.5L1711.2 341.0" stroke="#bf0000"/><path d="M190.4 345.1L192.5 328.9L194.6 328.6L196.8 318.1L198.9 324.7L201.0 324.3L203.1 314.8L205.3 308.3L207.4 303.1L209.5 292.8L211.6 296.7L213.8 304.3L215.9 315.1L218.0 318.2L220.1 306.6L222.3 304.9L224.4 314.7L226.5 313.8L228.6 319.7L230.8 320.3L232.9 317.4L235.0 328.4L237.1 323.4L239.3 321.9L241.4 324.5L243.5 323.6L245.6 328.8L247.8 324.7L249.9 322.9L252.0 322.9L254.1 330.0L256.3 326.0L258.4 327.2L260.5 325.5L262.6 327.8L264.8 325.2L266.9 326.5L269.0 318.6L271.1 329.4L273.3 325.4L275.4 325.9L277.5 329.4L279.6 319.2L281.8 311.2L283.9 308.8L286.0 306.7L288.1 314.5L290.3 312.3L292.4 317.7L294.5 299.4L296.6 291.6L298.8 304.6L300.9 312.7L303.0 318.7L305.1 318.5L307.3 318.1L309.4 320.1L311.5 316.5L313.6 310.3L315.8 312.0L317.9 308.3L320.0 313.2L322.1 314.6L324.3 322.1L326.4 316.0L328.5 324.6L330.6 324.3L332.8 329.4L334.9 324.1L337.0 331.3L339.1 328.2L341.2 324.1L343.4 332.0L345.5 346.6L347.6 336.3L349.7 338.3L351.9 337.4L354.0 338.7L356.1 336.4L358.2 336.9L360.4 342.0L362.5 346.0L364.6 337.7L366.7 333.3L368.9 343.4L371.0 337.0" stroke="#9f0000"/><path d="M964.1 287.8L966.2 268.5L968.3 255.3L970.5 251.2L972.6 262.9L974.7 263.8L976.8 263.6L978.9 260.2L981.0 259.8L983.2 259.5L985.3 265.8L987.4 260.1L989.5 253.4L991.6 251.2L993.7 261.8L995.9 260.7L998.0 267.2L1000.1 268.5L1002.2 270.3L1004.3 281.3L1006.4 282.9L1008.6 281.1L1010.7 281.6L1012.8 273.7L1014.9 272.5L1017.0 269.5L1019.1 266.7L1021.3 274.3L1023.4 281.3L1025.5 273.4L1027.6 280.7L1029.7 281.3L1031.8 283.6L1034.0 272.6L1036.1 283.7L1038.2 287.2L1040.3 294.6L1042.4 291.3L1044.5 290.2L1046.7 301.4L1048.8 297.1L1050.9 293.7L1053.0 295.2L1055.1 305.6L1057.2 301.0L1059.4 316.9L1061.5 317.1L1063.6 324.1L1065.7 335.8L1067.8 329.6L1069.9 340.2L1072.1 340.5L1074.2 338.6L1076.3 344.0L1078.4 334.9L1080.5 340.2L1082.6 343.8L1084.7 336.7L1086.9 335.5L1089.0 339.4L1091.1 339.3L1093.2 333.9L1095.3 334.2L1097.4 346.5L1099.6 337.8L1101.7 334.8L1103.8 332.5L1105.9 338.7L1108.0 340.4L1110.1 338.5L1112.3 343.4L1114.4 344.9L1116.5 349.0L1118.6 350.7L1120.7 347.5L1122.8 337.5L1125.0 328.8L1127.1 319.2L1129.2 309.4L1131.3 305.3L1133.4 314.7L1135.5 316.7L1137.7 320.6L1139.8 306.1L1141.9 299.6L1144.0 294.3L1146.1 293.9L1148.2 282.2L1150.4 287.2L1152.5 281.6L1154.6 261.1L1156.7 245.6L1158.8 230.7L1160.9 247.3L1163.1 254.7L1165.2 265.2L1167.3 283.8L1169.4 291.6L1171.5 302.8L1173.6 296.0L1175.8 287.3L1177.9 283.2L1180.0 275.0L1182.1 277.8L1184.2 290.9L1186.3 280.1L1188.5 276.8L1190.6 268.6L1192.7 271.6L1194.8 272.2L1196.9 264.9L1199.0 274.5L1201.2 281.3L1203.3 276.9L1205.4 276.0L1207.5 280.0L1209.6 280.6L1211.7 283.8L1213.9 288.1L1216.0 285.0L1218.1 284.8L1220.2 273.1L1222.3 281.6L1224.4 280.4L1226.6 291.6L1228.7 301.0L1230.8 301.1L1232.9 304.6L1235.0 302.3L1237.1 313.3L1239.3 305.5L1241.4 297.4L1243.5 298.1L1245.6 291.0L1247.7 288.2L1249.8 276.6L1252.0 276.1L1254.1 293.7L1256.2 296.8L1258.3 295.4L1260.4 288.5L1262.5 285.2L1264.7 284.0L1266.8 276.8L1268.9 272.3L1271.0 273.8L1273.1 281.2L1275.2 285.0" stroke="#9f0000"/></g></g>
<text transform="translate(179.4,410.0) scale(1,1.05)" text-anchor="end" class="tl">0</text>
<text transform="translate(179.4,324.0) scale(1,1.05)" text-anchor="end" class="tl">5</text>
<text transform="translate(179.4,238.0) scale(1,1.05)" text-anchor="end" class="tl">10</text>
<text transform="translate(179.4,152.0) scale(1,1.05)" text-anchor="end" class="tl">15</text>
<clipPath id="c1"><rect x="190.4" y="406.5" width="1520.8" height="258.0"/></clipPath>
<path d="M253.77 406.5V664.5M317.13 406.5V664.5M380.50 406.5V664.5M443.87 406.5V664.5M507.23 406.5V664.5M570.60 406.5V664.5M633.97 406.5V664.5M697.33 406.5V664.5M760.70 406.5V664.5M824.07 406.5V664.5M887.43 406.5V664.5M950.80 406.5V664.5M1014.17 406.5V664.5M1077.53 406.5V664.5M1140.90 406.5V664.5M1204.27 406.5V664.5M1267.63 406.5V664.5M1331.00 406.5V664.5M1394.37 406.5V664.5M1457.73 406.5V664.5M1521.10 406.5V664.5M1584.47 406.5V664.5M1647.83 406.5V664.5" stroke="#262626" stroke-opacity="0.15" stroke-width="4" fill="none"/>
<path d="M190.4 629.32H1711.2M190.4 582.41H1711.2M190.4 535.50H1711.2M190.4 488.59H1711.2M190.4 441.68H1711.2" stroke="#262626" stroke-opacity="0.15" stroke-width="4" fill="none"/>
<path d="M190.40 406.5v17.0M190.40 664.5v-17.0M200.96 406.5v9.0M200.96 664.5v-9.0M211.52 406.5v9.0M211.52 664.5v-9.0M222.08 406.5v9.0M222.08 664.5v-9.0M232.64 406.5v9.0M232.64 664.5v-9.0M243.21 406.5v9.0M243.21 664.5v-9.0M253.77 406.5v17.0M253.77 664.5v-17.0M264.33 406.5v9.0M264.33 664.5v-9.0M274.89 406.5v9.0M274.89 664.5v-9.0M285.45 406.5v9.0M285.45 664.5v-9.0M296.01 406.5v9.0M296.01 664.5v-9.0M306.57 406.5v9.0M306.57 664.5v-9.0M317.13 406.5v17.0M317.13 664.5v-17.0M327.69 406.5v9.0M327.69 664.5v-9.0M338.26 406.5v9.0M338.26 664.5v-9.0M348.82 406.5v9.0M348.82 664.5v-9.0M359.38 406.5v9.0M359.38 664.5v-9.0M369.94 406.5v9.0M369.94 664.5v-9.0M380.50 406.5v17.0M380.50 664.5v-17.0M391.06 406.5v9.0M391.06 664.5v-9.0M401.62 406.5v9.0M401.62 664.5v-9.0M412.18 406.5v9.0M412.18 664.5v-9.0M422.74 406.5v9.0M422.74 664.5v-9.0M433.31 406.5v9.0M433.31 664.5v-9.0M443.87 406.5v17.0M443.87 664.5v-17.0M454.43 406.5v9.0M454.43 664.5v-9.0M464.99 406.5v9.0M464.99 664.5v-9.0M475.55 406.5v9.0M475.55 664.5v-9.0M486.11 406.5v9.0M486.11 664.5v-9.0M496.67 406.5v9.0M496.67 664.5v-9.0M507.23 406.5v17.0M507.23 664.5v-17.0M517.79 406.5v9.0M517.79 664.5v-9.0M528.36 406.5v9.0M528.36 664.5v-9.0M538.92 406.5v9.0M538.92 664.5v-9.0M549.48 406.5v9.0M549.48 664.5v-9.0M560.04 406.5v9.0M560.04 664.5v-9.0M570.60 406.5v17.0M570.60 664.5v-17.0M581.16 406.5v9.0M581.16 664.5v-9.0M591.72 406.5v9.0M591.72 664.5v-9.0M602.28 406.5v9.0M602.28 664.5v-9.0M612.84 406.5v9.0M612.84 664.5v-9.0M623.41 406.5v9.0M623.41 664.5v-9.0M633.97 406.5v17.0M633.97 664.5v-17.0M644.53 406.5v9.0M644.53 664.5v-9.0M655.09 406.5v9.0M655.09 664.5v-9.0M665.65 406.5v9.0M665.65 664.5v-9.0M676.21 406.5v9.0M676.21 664.5v-9.0M686.77 406.5v9.0M686.77 664.5v-9.0M697.33 406.5v17.0M697.33 664.5v-17.0M707.89 406.5v9.0M707.89 664.5v-9.0M718.46 406.5v9.0M718.46 664.5v-9.0M729.02 406.5v9.0M729.02 664.5v-9.0M739.58 406.5v9.0M739.58 664.5v-9.0M750.14 406.5v9.0M750.14 664.5v-9.0M760.70 406.5v17.0M760.70 664.5v-17.0M771.26 406.5v9.0M771.26 664.5v-9.0M781.82 406.5v9.0M781.82 664.5v-9.0M792.38 406.5v9.0M792.38 664.5v-9.0M802.94 406.5v9.0M802.94 664.5v-9.0M813.51 406.5v9.0M813.51 664.5v-9.0M824.07 406.5v17.0M824.07 664.5v-17.0M834.63 406.5v9.0M834.63 664.5v-9.0M845.19 406.5v9.0M845.19 664.5v-9.0M855.75 406.5v9.0M855.75 664.5v-9.0M866.31 406.5v9.0M866.31 664.5v-9.0M876.87 406.5v9.0M876.87 664.5v-9.0M887.43 406.5v17.0M887.43 664.5v-17.0M897.99 406.5v9.0M897.99 664.5v-9.0M908.56 406.5v9.0M908.56 664.5v-9.0M919.12 406.5v9.0M919.12 664.5v-9.0M929.68 406.5v9.0M929.68 664.5v-9.0M940.24 406.5v9.0M940.24 664.5v-9.0M950.80 406.5v17.0M950.80 664.5v-17.0M961.36 406.5v9.0M961.36 664.5v-9.0M971.92 406.5v9.0M971.92 664.5v-9.0M982.48 406.5v9.0M982.48 664.5v-9.0M993.04 406.5v9.0M993.04 664.5v-9.0M1003.61 406.5v9.0M1003.61 664.5v-9.0M1014.17 406.5v17.0M1014.17 664.5v-17.0M1024.73 406.5v9.0M1024.73 664.5v-9.0M1035.29 406.5v9.0M1035.29 664.5v-9.0M1045.85 406.5v9.0M1045.85 664.5v-9.0M1056.41 406.5v9.0M1056.41 664.5v-9.0M1066.97 406.5v9.0M1066.97 664.5v-9.0M1077.53 406.5v17.0M1077.53 664.5v-17.0M1088.09 406.5v9.0M1088.09 664.5v-9.0M1098.66 406.5v9.0M1098.66 664.5v-9.0M1109.22 406.5v9.0M1109.22 664.5v-9.0M1119.78 406.5v9.0M1119.78 664.5v-9.0M1130.34 406.5v9.0M1130.34 664.5v-9.0M1140.90 406.5v17.0M1140.90 664.5v-17.0M1151.46 406.5v9.0M1151.46 664.5v-9.0M1162.02 406.5v9.0M1162.02 664.5v-9.0M1172.58 406.5v9.0M1172.58 664.5v-9.0M1183.14 406.5v9.0M1183.14 664.5v-9.0M1193.71 406.5v9.0M1193.71 664.5v-9.0M1204.27 406.5v17.0M1204.27 664.5v-17.0M1214.83 406.5v9.0M1214.83 664.5v-9.0M1225.39 406.5v9.0M1225.39 664.5v-9.0M1235.95 406.5v9.0M1235.95 664.5v-9.0M1246.51 406.5v9.0M1246.51 664.5v-9.0M1257.07 406.5v9.0M1257.07 664.5v-9.0M1267.63 406.5v17.0M1267.63 664.5v-17.0M1278.19 406.5v9.0M1278.19 664.5v-9.0M1288.76 406.5v9.0M1288.76 664.5v-9.0M1299.32 406.5v9.0M1299.32 664.5v-9.0M1309.88 406.5v9.0M1309.88 664.5v-9.0M1320.44 406.5v9.0M1320.44 664.5v-9.0M1331.00 406.5v17.0M1331.00 664.5v-17.0M1341.56 406.5v9.0M1341.56 664.5v-9.0M1352.12 406.5v9.0M1352.12 664.5v-9.0M1362.68 406.5v9.0M1362.68 664.5v-9.0M1373.24 406.5v9.0M1373.24 664.5v-9.0M1383.81 406.5v9.0M1383.81 664.5v-9.0M1394.37 406.5v17.0M1394.37 664.5v-17.0M1404.93 406.5v9.0M1404.93 664.5v-9.0M1415.49 406.5v9.0M1415.49 664.5v-9.0M1426.05 406.5v9.0M1426.05 664.5v-9.0M1436.61 406.5v9.0M1436.61 664.5v-9.0M1447.17 406.5v9.0M1447.17 664.5v-9.0M1457.73 406.5v17.0M1457.73 664.5v-17.0M1468.29 406.5v9.0M1468.29 664.5v-9.0M1478.86 406.5v9.0M1478.86 664.5v-9.0M1489.42 406.5v9.0M1489.42 664.5v-9.0M1499.98 406.5v9.0M1499.98 664.5v-9.0M1510.54 406.5v9.0M1510.54 664.5v-9.0M1521.10 406.5v17.0M1521.10 664.5v-17.0M1531.66 406.5v9.0M1531.66 664.5v-9.0M1542.22 406.5v9.0M1542.22 664.5v-9.0M1552.78 406.5v9.0M1552.78 664.5v-9.0M1563.34 406.5v9.0M1563.34 664.5v-9.0M1573.91 406.5v9.0M1573.91 664.5v-9.0M1584.47 406.5v17.0M1584.47 664.5v-17.0M1595.03 406.5v9.0M1595.03 664.5v-9.0M1605.59 406.5v9.0M1605.59 664.5v-9.0M1616.15 406.5v9.0M1616.15 664.5v-9.0M1626.71 406.5v9.0M1626.71 664.5v-9.0M1637.27 406.5v9.0M1637.27 664.5v-9.0M1647.83 406.5v17.0M1647.83 664.5v-17.0M1658.39 406.5v9.0M1658.39 664.5v-9.0M1668.96 406.5v9.0M1668.96 664.5v-9.0M1679.52 406.5v9.0M1679.52 664.5v-9.0M1690.08 406.5v9.0M1690.08 664.5v-9.0M1700.64 406.5v9.0M1700.64 664.5v-9.0M1711.20 406.5v17.0M1711.20 664.5v-17.0M190.4 664.50h9.0M1711.2 664.50h-9.0M190.4 652.77h9.0M1711.2 652.77h-9.0M190.4 641.05h9.0M1711.2 641.05h-9.0M190.4 617.59h9.0M1711.2 617.59h-9.0M190.4 605.86h9.0M1711.2 605.86h-9.0M190.4 594.14h9.0M1711.2 594.14h-9.0M190.4 570.68h9.0M1711.2 570.68h-9.0M190.4 558.95h9.0M1711.2 558.95h-9.0M190.4 547.23h9.0M1711.2 547.23h-9.0M190.4 523.77h9.0M1711.2 523.77h-9.0M190.4 512.05h9.0M1711.2 512.05h-9.0M190.4 500.32h9.0M1711.2 500.32h-9.0M190.4 476.86h9.0M1711.2 476.86h-9.0M190.4 465.14h9.0M1711.2 465.14h-9.0M190.4 453.41h9.0M1711.2 453.41h-9.0M190.4 429.95h9.0M1711.2 429.95h-9.0M190.4 418.23h9.0M1711.2 418.23h-9.0M190.4 406.50h9.0M1711.2 406.50h-9.0" stroke="#262626" stroke-width="4" fill="none"/>
<path d="M190.4 629.32h17.0M1711.2 629.32h-17.0M190.4 582.41h17.0M1711.2 582.41h-17.0M190.4 535.50h17.0M1711.2 535.50h-17.0M190.4 488.59h17.0M1711.2 488.59h-17.0M190.4 441.68h17.0M1711.2 441.68h-17.0" stroke="#262626" stroke-width="4" fill="none"/>
<rect x="190.4" y="406.5" width="1520.8" height="258.0" stroke="#262626" stroke-width="4" fill="none"/>
<g clip-path="url(#c1)"><g fill="none" stroke-width="2.2" stroke-linejoin="round"><path d="M1315.2 532.4L1316.7 532.4L1318.3 546.2L1319.9 519.3L1321.5 535.8L1323.1 526.4L1324.7 535.6L1326.2 536.3L1327.8 532.8L1329.4 539.3L1331.0 536.5" stroke="#00009f"/><path d="M230.3 528.1L231.9 532.3L233.5 533.6L235.0 532.9L236.6 544.0L238.2 502.6L239.7 522.8L241.3 534.8L242.9 535.4L244.4 534.6L246.0 539.7L247.6 532.2L249.1 535.8L250.7 555.1L252.3 538.6L253.9 539.6L255.4 539.4L257.0 537.7L258.6 531.8L260.1 538.3L261.7 545.7L263.3 526.8" stroke="#0000bf"/><path d="M469.2 539.1L470.7 536.5L472.2 530.5L473.7 532.4L475.3 528.3L476.8 538.5L478.3 537.8L479.8 532.8L481.3 541.0L482.8 541.3L484.3 531.6L485.8 537.5L487.3 519.8L488.8 534.2L490.4 538.4L491.9 555.4L493.4 528.1L494.9 536.2L496.4 541.4L497.9 545.3L499.4 543.7L500.9 543.9L502.4 528.0L504.0 541.6L505.5 534.0L507.0 534.5L508.5 553.1L510.0 540.6L511.5 533.0L513.0 542.8L514.5 531.9L516.0 535.8L517.5 553.4L519.1 529.4L520.6 536.3L522.1 530.4L523.6 534.4L525.1 538.4L526.6 532.0L528.1 529.6L529.6 531.4L531.1 548.5L532.7 533.7L534.2 539.9L535.7 537.9L537.2 531.2L538.7 540.8L540.2 514.1L541.7 543.2L543.2 555.4L544.7 532.4L546.2 537.0L547.8 536.7L549.3 540.5L550.8 526.6L552.3 534.9L553.8 536.4L555.3 540.0L556.8 543.3L558.3 536.1L559.8 546.6L561.4 539.2L562.9 533.0L564.4 532.7L565.9 538.0L567.4 548.6L568.9 533.4L570.4 531.7L571.9 536.5L573.4 525.3L574.9 527.0L576.5 551.9L578.0 538.6L579.5 541.0L581.0 522.1L582.5 526.6L584.0 535.3L585.5 531.2L587.0 528.3L588.5 542.9L590.1 543.1L591.6 540.8L593.1 540.3L594.6 539.4L596.1 534.3L597.6 548.4L599.1 569.2" stroke="#0000bf"/><path d="M896.9 541.0L898.5 547.2L900.0 556.1L901.5 534.7L903.0 517.7L904.5 525.3L906.1 508.7L907.6 543.0L909.1 548.1L910.6 513.5L912.1 534.0L913.7 539.1L915.2 540.3L916.7 527.4L918.2 530.6L919.8 554.0L921.3 538.2L922.8 554.1L924.3 549.1L925.8 531.2L927.4 541.7L928.9 565.9L930.4 534.3L931.9 524.1L933.4 565.2L935.0 540.4" stroke="#0000bf"/><path d="M1057.3 527.5L1058.8 542.0L1060.3 535.7L1061.9 543.6L1063.4 532.3L1065.0 534.5L1066.5 532.4L1068.0 536.0L1069.6 537.4L1071.1 538.3L1072.7 547.2L1074.2 536.9L1075.7 526.0L1077.3 531.1L1078.8 537.0L1080.4 533.6L1081.9 532.2L1083.5 538.4L1085.0 536.1L1086.5 534.8L1088.1 538.1L1089.6 534.3L1091.2 523.0L1092.7 532.8L1094.2 535.0L1095.8 536.8L1097.3 533.2L1098.9 538.2L1100.4 538.6L1101.9 531.0L1103.5 537.5L1105.0 541.4L1106.6 532.7L1108.1 528.8L1109.6 531.6L1111.2 536.4L1112.7 531.5L1114.3 538.5L1115.8 548.7L1117.4 536.7L1118.9 535.0L1120.4 549.5L1122.0 539.2L1123.5 534.7L1125.1 549.0" stroke="#0000bf"/><path d="M1369.0 550.9L1370.5 546.2L1372.1 535.7L1373.6 519.3L1375.1 543.5L1376.6 506.9L1378.2 532.3L1379.7 570.2L1381.2 536.6L1382.7 523.6L1384.3 516.9L1385.8 548.2L1387.3 537.6L1388.8 497.4L1390.4 528.9L1391.9 551.7L1393.4 562.0L1394.9 543.3L1396.5 517.6L1398.0 591.8L1399.5 512.3L1401.0 573.9L1402.5 568.5L1404.1 524.5L1405.6 535.0L1407.1 539.6L1408.6 471.4L1410.2 545.9L1411.7 523.4L1413.2 562.4L1414.7 507.3L1416.3 535.4L1417.8 535.0L1419.3 525.2L1420.8 539.4L1422.4 512.4L1423.9 539.5L1425.4 524.7L1426.9 534.3L1428.5 544.7L1430.0 525.5L1431.5 527.2L1433.0 553.6L1434.6 540.5L1436.1 564.2L1437.6 529.6L1439.1 492.9L1440.6 493.6L1442.2 530.4L1443.7 517.3L1445.2 509.9L1446.7 522.7L1448.3 567.3L1449.8 543.2L1451.3 529.4L1452.8 530.1L1454.4 533.1L1455.9 550.7L1457.4 628.2L1458.9 528.8L1460.5 515.3L1462.0 543.4L1463.5 525.7L1465.0 544.4L1466.6 537.7L1468.1 545.1L1469.6 521.1L1471.1 551.0L1472.7 532.7L1474.2 519.6L1475.7 535.5L1477.2 596.2L1478.7 528.5L1480.3 538.3L1481.8 599.2L1483.3 538.4L1484.8 540.3L1486.4 504.1L1487.9 543.5L1489.4 533.6" stroke="#0000bf"/><path d="M190.4 552.0L191.9 545.5L193.4 539.9L194.9 539.9L196.5 539.1L198.0 514.1L199.5 538.4L201.0 538.4L202.5 541.0L204.0 558.6L205.5 532.7L207.1 538.6L208.6 538.2L210.1 533.3L211.6 535.0L213.1 529.6L214.6 529.9L216.1 545.0L217.7 541.3L219.2 528.3L220.7 538.3L222.2 521.6L223.7 542.0L225.2 553.5L226.7 551.8L228.3 540.6L229.8 538.6L231.3 517.9L232.8 529.8L234.3 530.1L235.8 528.5L237.3 547.2L238.9 534.8L240.4 537.1L241.9 520.6L243.4 549.9L244.9 546.1L246.4 534.6L247.9 538.6L249.4 534.4L251.0 533.4L252.5 533.9L254.0 548.1L255.5 538.4L257.0 517.8L258.5 539.7L260.0 531.2L261.6 542.5L263.1 547.8L264.6 528.2L266.1 529.4L267.6 525.0L269.1 526.9L270.6 527.6L272.2 540.2L273.7 520.2L275.2 534.0L276.7 518.4L278.2 529.1L279.7 511.8L281.2 518.0L282.8 530.6L284.3 535.5L285.8 516.5L287.3 540.5L288.8 545.1L290.3 531.6L291.8 538.7L293.4 526.6L294.9 535.2L296.4 525.1L297.9 528.5L299.4 547.5L300.9 537.7L302.4 515.5L304.0 538.4L305.5 540.1L307.0 535.3L308.5 531.6L310.0 524.8L311.5 530.8L313.0 527.6L314.6 535.1L316.1 520.3L317.6 495.3L319.1 545.2L320.6 532.2L322.1 534.9L323.6 531.6L325.2 537.8L326.7 539.2L328.2 543.6L329.7 537.8L331.2 533.9L332.7 526.4L334.2 529.8L335.8 537.1L337.3 538.9L338.8 563.9L340.3 529.0L341.8 533.4L343.3 529.6L344.8 528.5L346.3 530.1L347.9 534.9L349.4 537.9L350.9 553.3L352.4 538.9L353.9 531.1L355.4 517.5L356.9 537.3L358.5 532.5L360.0 510.6L361.5 533.6" stroke="#0000df"/><path d="M190.4 542.7L191.9 528.5L193.5 550.2L195.0 535.0L196.6 551.1L198.1 530.7L199.7 533.0L201.2 531.1L202.7 520.6L204.3 537.2L205.8 527.3L207.4 531.2L208.9 527.9L210.5 540.6L212.0 527.3L213.6 537.4L215.1 524.6L216.6 528.3L218.2 532.3L219.7 530.6L221.3 522.2L222.8 533.1L224.4 497.1L225.9 550.1L227.4 544.2L229.0 543.9L230.5 537.8L232.1 534.8L233.6 529.6L235.2 527.4L236.7 532.6L238.2 529.1L239.8 541.0L241.3 527.2L242.9 503.5L244.4 535.1L246.0 529.2L247.5 538.7L249.1 534.4L250.6 533.5" stroke="#0000ff"/><path d="M725.8 554.4L727.4 547.1L728.9 542.2L730.4 526.3L731.9 526.7L733.4 515.5L734.9 552.1L736.4 528.3L737.9 535.7L739.4 538.6L740.9 537.1L742.5 558.6L744.0 532.4L745.5 549.7L747.0 576.9L748.5 520.0L750.0 543.4L751.5 533.2L753.0 543.5L754.5 553.1L756.0 540.9L757.6 526.2L759.1 547.0L760.6 530.2L762.1 516.8L763.6 522.5L765.1 539.2L766.6 544.5L768.1 506.0L769.6 551.1L771.1 547.2L772.7 516.3L774.2 522.8L775.7 529.9L777.2 538.5L778.7 503.5L780.2 500.1L781.7 536.7L783.2 525.6L784.7 538.0L786.2 518.3L787.8 519.7L789.3 520.3L790.8 537.3L792.3 530.0L793.8 502.7L795.3 523.6L796.8 518.3L798.3 527.9L799.8 535.4L801.3 567.9L802.9 545.3L804.4 553.0L805.9 546.6L807.4 561.0L808.9 526.1L810.4 553.1L811.9 529.7L813.4 556.5L814.9 505.1L816.4 540.9L818.0 532.7L819.5 514.6L821.0 536.6L822.5 529.0L824.0 532.8L825.5 528.1L827.0 540.0L828.5 476.1L830.0 521.5L831.5 532.8L833.1 520.6L834.6 535.5L836.1 549.5L837.6 535.5L839.1 529.1L840.6 551.8L842.1 538.0L843.6 529.3L845.1 546.8L846.6 530.7L848.2 568.8L849.7 532.2L851.2 535.3L852.7 530.6L854.2 542.8L855.7 556.8L857.2 563.9L858.7 476.1L860.2 551.2L861.7 544.5L863.3 553.5L864.8 519.0L866.3 526.6L867.8 525.1L869.3 547.6L870.8 499.6L872.3 558.6L873.8 520.7L875.3 535.8L876.8 560.9L878.4 536.1L879.9 562.7L881.4 507.4L882.9 550.0L884.4 538.3L885.9 543.3L887.4 544.6L888.9 543.3L890.4 535.7L891.9 531.1L893.5 540.0L895.0 538.2L896.5 535.2L898.0 546.0L899.5 542.5L901.0 534.8L902.5 523.5L904.0 527.5L905.5 529.6L907.1 524.8L908.6 544.1L910.1 522.4L911.6 547.2L913.1 537.0L914.6 540.0L916.1 527.9L917.6 542.6L919.1 528.8L920.6 546.8L922.2 541.1L923.7 531.0L925.2 563.8L926.7 522.0L928.2 543.6L929.7 541.0L931.2 496.3L932.7 552.3L934.2 506.2L935.7 534.9L937.3 534.7L938.8 529.6L940.3 546.0L941.8 517.2L943.3 529.7L944.8 528.4L946.3 509.6L947.8 524.9L949.3 532.3L950.8 546.4L952.4 575.4L953.9 548.7L955.4 548.9L956.9 526.5L958.4 548.1L959.9 546.3L961.4 530.3L962.9 539.1L964.4 538.5L965.9 546.0L967.5 534.5L969.0 541.5L970.5 556.4L972.0 539.9L973.5 532.7L975.0 527.0L976.5 546.9L978.0 524.0L979.5 546.5L981.0 553.6L982.6 542.4L984.1 535.6L985.6 539.0L987.1 527.3L988.6 555.1L990.1 523.2L991.6 528.5L993.1 519.2L994.6 551.0L996.1 531.9L997.7 551.0L999.2 550.5L1000.7 536.0L1002.2 551.0L1003.7 526.0L1005.2 526.5L1006.7 528.5L1008.2 522.9L1009.7 583.1L1011.2 545.0L1012.8 539.1L1014.3 547.4L1015.8 530.1L1017.3 509.9L1018.8 540.7L1020.3 533.0L1021.8 534.9L1023.3 533.8L1024.8 534.5L1026.3 532.4L1027.9 538.6L1029.4 537.5L1030.9 527.8L1032.4 535.6L1033.9 535.7L1035.4 543.9L1036.9 533.4L1038.4 532.7L1039.9 532.1L1041.4 514.2L1043.0 545.0L1044.5 531.4L1046.0 558.5L1047.5 540.6L1049.0 545.1L1050.5 531.9L1052.0 536.4L1053.5 537.9L1055.0 535.9L1056.5 545.7L1058.1 538.8L1059.6 534.9L1061.1 544.9L1062.6 536.2L1064.1 543.4L1065.6 535.1L1067.1 541.0L1068.6 534.9L1070.1 528.6L1071.6 535.9L1073.2 538.8L1074.7 534.2L1076.2 541.3L1077.7 528.3L1079.2 536.0L1080.7 536.0" stroke="#0000ff"/><path d="M1517.9 542.4L1519.5 545.4L1521.0 534.2L1522.5 529.3L1524.0 527.6L1525.6 541.5L1527.1 518.0L1528.6 541.1L1530.1 565.7L1531.7 544.2L1533.2 553.0L1534.7 535.3L1536.3 552.1L1537.8 533.9L1539.3 512.1L1540.8 544.0L1542.4 554.4L1543.9 532.4L1545.4 545.0L1546.9 536.1L1548.5 535.7L1550.0 533.7L1551.5 487.3L1553.1 527.7L1554.6 533.3L1556.1 536.4L1557.6 542.1L1559.2 541.1L1560.7 544.9L1562.2 512.8L1563.7 536.8L1565.3 529.4L1566.8 532.4L1568.3 515.4L1569.9 536.1L1571.4 529.7L1572.9 550.6L1574.4 504.4L1576.0 539.6L1577.5 534.8L1579.0 570.0L1580.5 530.1L1582.1 520.1L1583.6 522.9L1585.1 544.7L1586.6 527.0L1588.2 541.2L1589.7 549.6L1591.2 545.3L1592.8 527.8L1594.3 536.4L1595.8 539.9L1597.3 533.9L1598.9 534.0L1600.4 538.2L1601.9 529.2L1603.4 536.7L1605.0 530.5L1606.5 532.2L1608.0 535.5L1609.6 533.9L1611.1 531.8" stroke="#0000ff"/><path d="M1125.1 526.9L1126.6 565.4L1128.1 541.5L1129.6 534.7L1131.1 530.8L1132.6 534.1L1134.1 526.3L1135.6 542.5L1137.1 539.1L1138.7 548.2L1140.2 513.5L1141.7 536.2L1143.2 524.2L1144.7 521.2L1146.2 530.7L1147.7 538.0L1149.2 539.7L1150.8 537.1L1152.3 552.6L1153.8 540.0L1155.3 526.4L1156.8 531.3L1158.3 525.7L1159.8 507.7L1161.3 526.9L1162.8 533.2L1164.4 532.4L1165.9 503.9L1167.4 538.2L1168.9 548.6L1170.4 525.6L1171.9 534.0L1173.4 523.1L1174.9 541.3L1176.4 551.8L1178.0 536.3L1179.5 541.2L1181.0 544.7L1182.5 518.4L1184.0 524.1L1185.5 546.9L1187.0 551.3L1188.5 535.7L1190.1 528.4L1191.6 531.6L1193.1 522.3L1194.6 531.2L1196.1 518.1L1197.6 554.5L1199.1 521.1L1200.6 540.3L1202.1 524.8L1203.7 550.8L1205.2 560.3L1206.7 522.1L1208.2 570.5L1209.7 532.7L1211.2 538.6L1212.7 516.2L1214.2 530.4L1215.7 520.9L1217.3 534.8L1218.8 552.2L1220.3 479.4L1221.8 549.9L1223.3 530.8L1224.8 534.8L1226.3 551.0L1227.8 527.0L1229.3 538.5L1230.9 553.0L1232.4 550.1L1233.9 558.4L1235.4 542.9L1236.9 536.8L1238.4 544.8L1239.9 535.2L1241.4 538.6L1243.0 518.1L1244.5 535.0L1246.0 536.8L1247.5 543.5L1249.0 547.5L1250.5 544.6L1252.0 522.8L1253.5 540.2L1255.0 519.7L1256.6 526.5L1258.1 549.4L1259.6 520.7L1261.1 522.1L1262.6 542.0L1264.1 496.7L1265.6 542.8L1267.1 518.5L1268.6 530.5L1270.2 536.7L1271.7 543.5L1273.2 535.9L1274.7 545.9L1276.2 533.5L1277.7 539.7L1279.2 528.3L1280.7 537.7L1282.2 532.5L1283.8 531.3L1285.3 534.5L1286.8 532.9L1288.3 529.9L1289.8 540.0L1291.3 532.4L1292.8 531.4L1294.3 527.4L1295.9 536.2L1297.4 530.5L1298.9 543.6L1300.4 517.0L1301.9 533.2L1303.4 533.4L1304.9 522.1L1306.4 541.5L1307.9 536.4L1309.5 534.9" stroke="#0020ff"/><path d="M1614.2 545.4L1615.8 539.0L1617.3 530.8L1618.8 542.4L1620.3 531.8L1621.8 535.0L1623.3 526.6L1624.9 529.1L1626.4 538.4L1627.9 537.4L1629.4 530.5L1630.9 534.5L1632.4 535.0L1633.9 520.3L1635.5 533.0L1637.0 534.8L1638.5 522.1L1640.0 533.6L1641.5 541.3L1643.0 530.9L1644.5 534.2L1646.1 527.9L1647.6 533.9L1649.1 544.1L1650.6 529.3L1652.1 542.1L1653.6 537.4L1655.2 533.4L1656.7 540.1L1658.2 546.5L1659.7 552.1L1661.2 548.5L1662.7 532.3L1664.2 538.1L1665.8 535.9L1667.3 540.7L1668.8 535.2L1670.3 539.1L1671.8 532.5L1673.3 534.3L1674.8 512.7L1676.4 532.5L1677.9 537.5L1679.4 540.5L1680.9 534.6L1682.4 531.7L1683.9 527.2L1685.4 545.2L1687.0 543.0L1688.5 545.9L1690.0 541.3L1691.5 536.9L1693.0 537.4L1694.5 537.6L1696.1 536.2L1697.6 534.1L1699.1 563.8L1700.6 536.2L1702.1 539.7L1703.6 537.0L1705.1 538.4L1706.7 546.3L1708.2 533.5L1709.7 538.7L1711.2 536.7" stroke="#0020ff"/><path d="M1140.9 550.2L1142.4 537.0L1143.9 529.1L1145.5 540.1L1147.0 536.8L1148.5 551.7L1150.0 532.6L1151.5 540.4L1153.0 540.2L1154.6 531.5L1156.1 528.6L1157.6 537.4L1159.1 518.4L1160.6 522.3L1162.1 564.5L1163.7 536.1L1165.2 577.0L1166.7 534.1L1168.2 526.0L1169.7 538.0L1171.3 546.0L1172.8 541.2L1174.3 533.6L1175.8 548.8L1177.3 548.1L1178.8 533.2L1180.4 547.7L1181.9 536.3L1183.4 545.4L1184.9 576.7L1186.4 530.5L1188.0 528.0L1189.5 543.1L1191.0 518.6L1192.5 535.6L1194.0 532.6L1195.5 535.3L1197.1 545.3L1198.6 528.5L1200.1 535.5L1201.6 526.9L1203.1 535.4L1204.6 539.7L1206.2 517.9" stroke="#0040ff"/><path d="M1324.7 531.3L1326.2 537.8L1327.7 525.2L1329.2 532.0L1330.7 538.2L1332.2 534.3L1333.7 521.1L1335.2 601.8L1336.7 533.2L1338.3 547.0L1339.8 536.0L1341.3 546.2L1342.8 533.7L1344.3 528.6L1345.8 525.4L1347.3 620.4L1348.8 523.9L1350.3 538.2L1351.9 548.7L1353.4 538.0L1354.9 507.0L1356.4 539.8L1357.9 586.8L1359.4 500.9L1360.9 550.1L1362.4 523.6L1363.9 531.9L1365.4 514.8L1367.0 545.7L1368.5 542.2L1370.0 519.5L1371.5 510.1L1373.0 533.0L1374.5 517.6L1376.0 528.9L1377.5 536.0L1379.0 561.6L1380.6 503.8L1382.1 484.9L1383.6 571.0L1385.1 524.0L1386.6 545.3L1388.1 551.8L1389.6 545.0L1391.1 524.9L1392.6 537.1L1394.1 539.5L1395.7 538.9L1397.2 542.2L1398.7 528.2L1400.2 567.7L1401.7 556.8L1403.2 545.5L1404.7 554.4L1406.2 533.9L1407.7 542.2L1409.3 530.4L1410.8 539.0L1412.3 527.1L1413.8 537.9L1415.3 525.0L1416.8 541.5L1418.3 563.1L1419.8 536.4L1421.3 535.6L1422.8 558.7L1424.4 491.2L1425.9 527.6L1427.4 511.9L1428.9 552.2L1430.4 552.8L1431.9 527.5L1433.4 512.4L1434.9 545.9L1436.4 527.6L1437.9 535.6L1439.5 539.7L1441.0 521.0L1442.5 521.5L1444.0 524.1L1445.5 544.9L1447.0 534.9L1448.5 560.5L1450.0 526.6L1451.5 554.6L1453.1 539.0L1454.6 521.9" stroke="#0040ff"/><path d="M472.4 521.2L473.9 524.0L475.4 535.5L476.9 534.2L478.5 527.7L480.0 547.5L481.5 542.2L483.0 526.1L484.5 540.6L486.0 542.8L487.6 526.5L489.1 524.0L490.6 535.5L492.1 537.3L493.6 535.3L495.1 531.6L496.7 571.3L498.2 532.2L499.7 531.8L501.2 509.5L502.7 508.7L504.3 529.8L505.8 518.7L507.3 534.8L508.8 535.7L510.3 527.9L511.8 534.6L513.4 537.7L514.9 541.5L516.4 534.6L517.9 551.8L519.4 530.8L520.9 533.8L522.5 518.2L524.0 547.6L525.5 536.7L527.0 538.0L528.5 532.8L530.1 533.5L531.6 531.9L533.1 525.5L534.6 539.9L536.1 533.9L537.6 534.8L539.2 535.2L540.7 532.4L542.2 567.9L543.7 539.3L545.2 536.8L546.7 540.2L548.3 542.2L549.8 529.5L551.3 529.8L552.8 524.8L554.3 540.9L555.8 549.4L557.4 531.3L558.9 537.5L560.4 542.0L561.9 532.3L563.4 536.0L565.0 546.1L566.5 535.1L568.0 545.7L569.5 532.4L571.0 544.3L572.5 550.2L574.1 527.7L575.6 525.2L577.1 539.0L578.6 549.3L580.1 529.2L581.6 534.6L583.2 533.4L584.7 540.6L586.2 553.3L587.7 541.6L589.2 519.8L590.8 543.8L592.3 541.2L593.8 539.4L595.3 525.4L596.8 528.0L598.3 541.0L599.9 514.6L601.4 534.2L602.9 532.6L604.4 543.7L605.9 553.5L607.4 531.0L609.0 540.1L610.5 532.5L612.0 561.6L613.5 516.9L615.0 535.6L616.6 526.9L618.1 548.4L619.6 533.8L621.1 534.3L622.6 523.3L624.1 510.9L625.7 559.4L627.2 533.6L628.7 534.5L630.2 539.7L631.7 533.5L633.2 529.3L634.8 525.0L636.3 549.0L637.8 545.7L639.3 535.5L640.8 528.4L642.4 547.0L643.9 535.9L645.4 579.1L646.9 535.5L648.4 538.0L649.9 530.1L651.5 490.7L653.0 544.8" stroke="#0060ff"/><path d="M1331.0 525.9L1332.5 547.6L1334.1 537.5L1335.6 540.6L1337.1 528.4L1338.7 577.9L1340.2 534.3L1341.7 519.3L1343.3 531.4L1344.8 550.0L1346.3 530.7L1347.9 579.0L1349.4 577.8L1350.9 539.5L1352.5 520.8L1354.0 570.5L1355.5 536.0L1357.1 510.5L1358.6 532.2L1360.1 544.5L1361.7 530.5L1363.2 507.8L1364.7 537.7L1366.3 564.5L1367.8 523.9L1369.3 539.0L1370.9 545.4L1372.4 523.1L1373.9 570.7L1375.5 539.7L1377.0 515.7L1378.5 533.0" stroke="#0060ff"/><path d="M247.4 533.0L248.9 526.6L250.4 518.4L252.0 526.6L253.5 530.9L255.0 536.7L256.5 559.2L258.0 532.3L259.5 526.2L261.0 533.2L262.5 539.9L264.0 522.4L265.5 536.3L267.1 540.4L268.6 551.3L270.1 531.4L271.6 540.9L273.1 526.5L274.6 540.7L276.1 535.0L277.6 540.1L279.1 521.7L280.6 524.9L282.2 535.7L283.7 502.8L285.2 545.5L286.7 530.4L288.2 540.0L289.7 538.9L291.2 539.2L292.7 530.9L294.2 549.7L295.7 539.2L297.3 524.7L298.8 577.7L300.3 537.2L301.8 546.1L303.3 556.7L304.8 532.4L306.3 546.8L307.8 525.4L309.3 550.3L310.8 532.5L312.3 498.7L313.9 550.2L315.4 520.5L316.9 530.0L318.4 533.8L319.9 524.3L321.4 519.6L322.9 541.1L324.4 541.5L325.9 536.5L327.4 496.9L329.0 536.4L330.5 528.2L332.0 536.4L333.5 530.3L335.0 531.0L336.5 525.5L338.0 520.7L339.5 546.3L341.0 561.4L342.5 536.5L344.1 535.5L345.6 533.1L347.1 527.2L348.6 538.5L350.1 535.1L351.6 535.0L353.1 526.3L354.6 538.5L356.1 525.5L357.6 519.6L359.2 536.8L360.7 523.7L362.2 530.6L363.7 535.3L365.2 518.8L366.7 525.0L368.2 537.3L369.7 530.3L371.2 540.1L372.7 545.8L374.2 526.4L375.8 534.7L377.3 521.6L378.8 533.4L380.3 532.5L381.8 535.6L383.3 533.3L384.8 540.9L386.3 536.5L387.8 548.6L389.3 549.1L390.9 545.6L392.4 539.7L393.9 535.5L395.4 537.5L396.9 525.4L398.4 493.3L399.9 554.1L401.4 523.3L402.9 527.4L404.4 539.4L406.0 533.6L407.5 550.4L409.0 536.7L410.5 522.4L412.0 561.6L413.5 539.7L415.0 534.2L416.5 529.6L418.0 534.6L419.5 539.2L421.1 529.8L422.6 539.7L424.1 515.9L425.6 505.1L427.1 534.2L428.6 541.5L430.1 547.3L431.6 540.9L433.1 537.7L434.6 531.7L436.1 545.4L437.7 530.5L439.2 535.0L440.7 542.7L442.2 524.9L443.7 523.3L445.2 527.0L446.7 539.7L448.2 541.0L449.7 534.9L451.2 546.8L452.8 532.4L454.3 561.0L455.8 535.4L457.3 530.0L458.8 541.0L460.3 540.4L461.8 541.3L463.3 534.2L464.8 544.2L466.3 536.3L467.9 527.7L469.4 550.4L470.9 541.7L472.4 533.3" stroke="#009fff"/><path d="M824.1 531.3L825.6 524.2L827.1 524.2L828.6 550.5L830.1 524.1L831.6 521.6L833.1 520.9L834.6 525.4L836.1 552.6L837.6 538.2L839.2 507.8L840.7 525.7L842.2 535.9L843.7 533.4L845.2 547.1L846.7 530.3L848.2 558.1L849.7 540.4L851.2 523.9L852.7 548.1L854.2 520.4L855.8 512.6L857.3 515.7L858.8 540.4L860.3 540.0L861.8 572.4L863.3 508.7L864.8 547.0L866.3 532.4L867.8 546.8L869.3 528.5L870.8 550.0L872.3 535.9L873.9 542.6L875.4 523.1L876.9 539.0L878.4 536.3L879.9 521.9L881.4 547.0L882.9 548.5L884.4 535.3L885.9 546.2L887.4 515.9L888.9 533.2L890.5 531.9L892.0 538.5L893.5 570.1L895.0 520.5L896.5 536.2L898.0 557.7L899.5 569.2L901.0 535.2L902.5 521.0L904.0 531.1L905.5 530.8L907.0 531.3L908.6 545.0L910.1 542.4L911.6 534.8L913.1 550.0L914.6 534.6L916.1 527.5L917.6 561.6L919.1 537.6L920.6 538.1L922.1 534.0L923.6 515.4L925.2 550.6L926.7 513.3L928.2 527.4L929.7 507.2L931.2 539.3L932.7 531.0L934.2 536.4L935.7 529.4L937.2 545.1L938.7 560.0L940.2 537.0L941.7 527.9L943.3 549.8L944.8 538.9L946.3 542.2L947.8 531.9L949.3 525.8L950.8 552.0L952.3 545.7L953.8 538.6L955.3 544.8L956.8 522.0L958.3 488.6L959.9 528.3L961.4 530.5L962.9 545.7L964.4 544.4L965.9 523.6L967.4 521.4L968.9 538.7L970.4 532.7L971.9 520.3L973.4 487.7L974.9 544.8L976.4 532.9L978.0 528.4L979.5 550.9L981.0 540.0L982.5 530.3L984.0 540.5L985.5 530.6L987.0 539.2L988.5 551.7L990.0 547.4L991.5 585.7L993.0 548.3L994.6 530.4L996.1 528.7L997.6 531.2L999.1 501.0L1000.6 546.6L1002.1 540.6L1003.6 534.7L1005.1 490.8L1006.6 533.3L1008.1 537.2L1009.6 533.1L1011.1 544.4L1012.7 554.4L1014.2 531.5L1015.7 538.9L1017.2 533.5L1018.7 541.4L1020.2 540.1L1021.7 532.1L1023.2 534.8L1024.7 531.2L1026.2 539.0L1027.7 535.4L1029.3 532.4L1030.8 531.4L1032.3 536.0L1033.8 534.4L1035.3 537.4L1036.8 536.4L1038.3 536.0L1039.8 533.6L1041.3 542.1L1042.8 536.0L1044.3 550.6L1045.8 535.8L1047.4 537.1L1048.9 535.0L1050.4 540.2L1051.9 536.7L1053.4 556.3L1054.9 529.3L1056.4 556.0L1057.9 561.1L1059.4 534.4L1060.9 529.0L1062.4 536.5L1064.0 537.7L1065.5 541.5L1067.0 511.4L1068.5 544.3L1070.0 525.0L1071.5 543.7L1073.0 541.0L1074.5 537.3L1076.0 538.2L1077.5 533.8L1079.0 540.2L1080.6 537.8L1082.1 543.7L1083.6 530.5L1085.1 537.5L1086.6 539.7L1088.1 536.0L1089.6 531.7L1091.1 531.9L1092.6 539.4L1094.1 535.2L1095.6 532.0L1097.1 533.9L1098.7 537.4L1100.2 532.6L1101.7 541.1L1103.2 535.2L1104.7 539.7L1106.2 535.5L1107.7 538.6L1109.2 532.5" stroke="#009fff"/><path d="M1331.0 540.2L1332.5 544.4L1334.1 533.9L1335.6 529.0L1337.1 552.3L1338.6 533.7L1340.2 518.0L1341.7 528.3L1343.2 523.3L1344.7 522.4L1346.3 567.1L1347.8 518.5L1349.3 441.1L1350.8 546.1L1352.4 568.1L1353.9 547.4L1355.4 552.3L1356.9 530.4L1358.5 512.6L1360.0 524.0L1361.5 503.4L1363.0 526.1L1364.6 532.9L1366.1 613.5L1367.6 528.5L1369.1 543.6L1370.7 542.1L1372.2 538.2L1373.7 462.1L1375.2 521.4L1376.8 533.9L1378.3 555.3L1379.8 540.5L1381.3 543.1L1382.9 521.3L1384.4 508.1L1385.9 526.4L1387.4 548.1L1389.0 520.2L1390.5 494.4L1392.0 554.9L1393.5 576.7L1395.1 529.4L1396.6 520.0L1398.1 530.7L1399.6 533.0L1401.2 512.7L1402.7 550.4L1404.2 564.9L1405.7 599.0L1407.3 522.9L1408.8 520.8L1410.3 540.6L1411.9 556.3L1413.4 547.9" stroke="#009fff"/><path d="M1413.4 529.5L1414.9 524.4L1416.4 550.8L1417.9 505.8L1419.4 564.8L1421.0 533.6L1422.5 531.9L1424.0 520.1L1425.5 575.8L1427.0 535.0L1428.5 524.3L1430.1 485.7L1431.6 528.7L1433.1 495.2L1434.6 540.3L1436.1 496.8L1437.7 535.3L1439.2 535.5L1440.7 529.3L1442.2 552.9L1443.7 548.2L1445.2 541.9L1446.8 545.2L1448.3 516.4L1449.8 540.3L1451.3 496.4L1452.8 528.0L1454.3 544.3L1455.9 529.9L1457.4 494.3L1458.9 532.6L1460.4 525.6L1461.9 536.5L1463.4 545.5L1465.0 532.9L1466.5 505.1L1468.0 547.5L1469.5 534.3L1471.0 557.8L1472.5 543.9L1474.1 528.3L1475.6 539.1L1477.1 515.1L1478.6 518.2L1480.1 541.0L1481.7 535.5L1483.2 499.7L1484.7 513.9L1486.2 538.8L1487.7 616.8L1489.2 512.0L1490.8 529.8L1492.3 531.3L1493.8 564.2L1495.3 510.2L1496.8 535.7L1498.3 522.8L1499.9 566.2L1501.4 541.5L1502.9 535.1L1504.4 513.5L1505.9 499.7L1507.4 537.5L1509.0 518.0L1510.5 536.4L1512.0 537.1L1513.5 534.6L1515.0 560.6L1516.5 607.0L1518.1 514.9L1519.6 554.0L1521.1 541.7" stroke="#009fff"/><path d="M570.6 533.7L572.1 537.5L573.6 549.1L575.1 548.6L576.7 547.7L578.2 547.3L579.7 534.6L581.2 536.6L582.7 550.6L584.2 538.7L585.8 533.6L587.3 547.9L588.8 527.3L590.3 532.3L591.8 527.8L593.3 537.9L594.8 536.5L596.4 532.6L597.9 533.0L599.4 538.5L600.9 537.8L602.4 540.0L603.9 538.2L605.5 542.4L607.0 557.3L608.5 545.1L610.0 519.1L611.5 553.2L613.0 535.3L614.5 545.0L616.1 532.6L617.6 520.7L619.1 542.1L620.6 532.4L622.1 534.9L623.6 524.6L625.2 535.0L626.7 535.2L628.2 536.6L629.7 593.9L631.2 523.2L632.7 516.0L634.2 543.1L635.8 524.6L637.3 530.8L638.8 518.0L640.3 539.6L641.8 528.9L643.3 519.2L644.8 527.6L646.4 531.3L647.9 534.0L649.4 540.1L650.9 531.9L652.4 543.9L653.9 515.2L655.5 527.1L657.0 534.8L658.5 576.6L660.0 521.6L661.5 485.8L663.0 528.1L664.5 499.9L666.1 523.3L667.6 528.8L669.1 536.0L670.6 531.5L672.1 519.2L673.6 538.9L675.2 577.2L676.7 523.7L678.2 531.6L679.7 533.7L681.2 530.9L682.7 545.5L684.2 542.1L685.8 540.2L687.3 533.7L688.8 527.5L690.3 525.1L691.8 530.9L693.3 534.5L694.9 543.6L696.4 543.4L697.9 550.0L699.4 540.9L700.9 528.8L702.4 527.3L703.9 544.3L705.5 520.8L707.0 597.0L708.5 527.8L710.0 533.5L711.5 535.3L713.0 517.2L714.6 538.0L716.1 474.0L717.6 544.5L719.1 540.5L720.6 530.3L722.1 554.7L723.6 535.1L725.2 548.9L726.7 519.2L728.2 546.0L729.7 535.2L731.2 552.9L732.7 514.4L734.3 552.5L735.8 576.9L737.3 542.0L738.8 558.4L740.3 573.2L741.8 538.7L743.3 522.8L744.9 522.3" stroke="#00bfff"/><path d="M1175.8 535.5L1177.3 524.5L1178.8 530.3L1180.3 538.4L1181.8 529.1L1183.4 525.5L1184.9 538.5L1186.4 548.9L1187.9 563.7L1189.5 535.3L1191.0 543.7L1192.5 534.6L1194.0 526.7L1195.5 534.0L1197.1 518.4L1198.6 536.7L1200.1 545.3L1201.6 534.1L1203.1 527.8L1204.7 546.6L1206.2 532.0L1207.7 522.5L1209.2 533.9L1210.8 521.2L1212.3 547.4L1213.8 531.1L1215.3 548.8L1216.8 576.1L1218.4 547.2L1219.9 527.3L1221.4 528.9L1222.9 503.6L1224.5 542.4L1226.0 549.1L1227.5 528.8L1229.0 541.2L1230.5 547.7L1232.1 529.6L1233.6 527.4L1235.1 541.8L1236.6 532.6L1238.2 531.3L1239.7 557.9L1241.2 542.2L1242.7 533.5L1244.2 522.6L1245.8 543.4L1247.3 529.1L1248.8 530.9L1250.3 534.0L1251.9 537.1L1253.4 542.2L1254.9 530.1L1256.4 536.4L1257.9 579.8L1259.5 532.8L1261.0 541.8L1262.5 538.5L1264.0 519.2L1265.6 532.7L1267.1 552.2L1268.6 538.4L1270.1 540.8L1271.6 531.7L1273.2 556.2L1274.7 529.2L1276.2 535.3L1277.7 539.4L1279.3 533.9L1280.8 528.7L1282.3 542.5L1283.8 537.4L1285.3 535.5L1286.9 535.3L1288.4 538.1L1289.9 533.6L1291.4 533.7L1292.9 537.0L1294.5 542.4L1296.0 532.8L1297.5 529.8L1299.0 530.8L1300.6 533.7L1302.1 530.7L1303.6 540.9L1305.1 532.2L1306.6 533.9L1308.2 535.2L1309.7 530.8L1311.2 535.8L1312.7 536.6L1314.3 539.0L1315.8 542.1L1317.3 536.9L1318.8 528.5L1320.3 528.1L1321.9 537.4L1323.4 534.5L1324.9 529.3L1326.4 545.9L1328.0 539.5L1329.5 540.5L1331.0 529.0" stroke="#00bfff"/><path d="M1325.3 540.0L1327.2 537.0L1329.1 539.4L1331.0 533.8" stroke="#00bfff"/><path d="M535.7 536.6L537.3 536.3L538.8 530.4L540.3 534.4L541.8 539.5L543.3 531.8L544.8 533.5L546.4 535.6L547.9 536.6L549.4 534.3L550.9 558.9L552.4 528.6L553.9 548.7L555.4 540.9L557.0 550.9L558.5 533.5L560.0 535.4L561.5 533.7L563.0 542.1L564.5 517.4L566.1 522.0L567.6 546.7L569.1 533.0L570.6 545.9" stroke="#00dfff"/><path d="M1516.0 531.4L1517.5 540.2L1519.1 533.2L1520.6 544.2L1522.1 520.0L1523.6 526.4L1525.1 521.4L1526.6 516.3L1528.1 505.9L1529.6 538.7L1531.1 548.7L1532.7 501.4L1534.2 527.4L1535.7 526.9L1537.2 521.9L1538.7 537.3L1540.2 563.5L1541.7 531.3L1543.2 540.1L1544.8 544.2L1546.3 531.6L1547.8 538.1L1549.3 530.3L1550.8 546.7L1552.3 536.7L1553.8 538.2L1555.3 535.8L1556.8 541.7L1558.4 528.8L1559.9 550.4L1561.4 522.4L1562.9 524.3L1564.4 535.7L1565.9 534.8L1567.4 558.7L1568.9 528.0L1570.4 522.6L1572.0 533.8L1573.5 531.8L1575.0 530.0L1576.5 533.2L1578.0 554.2L1579.5 547.1L1581.0 538.9L1582.5 513.6L1584.1 503.6L1585.6 535.8L1587.1 541.5L1588.6 540.0L1590.1 529.6L1591.6 538.2L1593.1 534.6L1594.6 546.8L1596.1 537.4L1597.7 539.9L1599.2 539.0L1600.7 537.1L1602.2 530.4L1603.7 534.0L1605.2 522.2L1606.7 537.6L1608.2 534.3L1609.8 543.3L1611.3 538.0L1612.8 536.2L1614.3 542.6L1615.8 535.3L1617.3 550.9L1618.8 533.4L1620.3 538.3L1621.8 542.4L1623.4 550.8L1624.9 547.0L1626.4 529.3L1627.9 541.1L1629.4 537.3L1630.9 533.6L1632.4 536.4L1633.9 535.9L1635.5 532.6L1637.0 538.7L1638.5 528.1L1640.0 529.7L1641.5 534.7" stroke="#00dfff"/><path d="M1331.0 531.3L1332.5 532.9L1334.0 561.0L1335.5 527.9L1337.0 496.0L1338.6 530.4L1340.1 495.1L1341.6 562.9L1343.1 560.9L1344.6 558.9L1346.1 517.7L1347.6 520.1L1349.1 576.6L1350.6 492.2L1352.2 625.7L1353.7 558.7L1355.2 537.2L1356.7 569.3L1358.2 538.3L1359.7 532.2L1361.2 516.3L1362.7 543.6L1364.2 545.7L1365.8 545.4L1367.3 502.5L1368.8 519.4L1370.3 518.9L1371.8 512.2L1373.3 531.8L1374.8 477.3L1376.3 536.2L1377.8 556.1L1379.4 557.2L1380.9 500.6L1382.4 549.6L1383.9 544.6L1385.4 537.5L1386.9 492.3L1388.4 580.0L1389.9 538.4L1391.4 519.8L1393.0 553.1L1394.5 534.4L1396.0 520.3L1397.5 532.1L1399.0 534.1L1400.5 515.3L1402.0 536.4L1403.5 541.6L1405.0 542.9L1406.6 524.0L1408.1 558.3L1409.6 552.3L1411.1 524.7L1412.6 487.8L1414.1 534.3L1415.6 547.5L1417.1 558.1L1418.6 527.6L1420.2 533.4L1421.7 531.3L1423.2 530.3L1424.7 550.6L1426.2 546.8L1427.7 537.8L1429.2 539.0L1430.7 558.9L1432.2 553.8L1433.8 539.3L1435.3 517.4L1436.8 503.6L1438.3 533.2L1439.8 541.2L1441.3 532.6L1442.8 535.7L1444.3 548.6L1445.8 581.8L1447.4 534.3L1448.9 564.2L1450.4 541.5L1451.9 550.3L1453.4 541.4L1454.9 534.5L1456.4 555.3L1457.9 546.5L1459.4 527.9L1461.0 506.7L1462.5 561.1L1464.0 525.2L1465.5 518.1L1467.0 530.3L1468.5 529.7L1470.0 534.1L1471.5 530.5L1473.0 542.5L1474.5 518.0L1476.1 536.2L1477.6 556.0L1479.1 515.1L1480.6 523.5L1482.1 530.3L1483.6 549.7L1485.1 511.6L1486.6 610.0L1488.1 468.3L1489.7 528.3L1491.2 561.0L1492.7 564.7L1494.2 461.0L1495.7 532.8L1497.2 546.2L1498.7 531.5L1500.2 539.2L1501.7 538.9L1503.3 524.8L1504.8 532.1L1506.3 550.8L1507.8 532.0L1509.3 533.2L1510.8 549.7L1512.3 522.8L1513.8 528.7L1515.3 576.0L1516.9 516.2L1518.4 530.6L1519.9 522.7L1521.4 556.9L1522.9 549.4L1524.4 534.5L1525.9 541.1L1527.4 537.7" stroke="#00dfff"/><path d="M405.8 531.1L407.4 532.7L408.9 529.3L410.4 545.3L411.9 532.3L413.4 539.9L414.9 545.8L416.4 517.3L417.9 535.6L419.4 532.3L421.0 520.0L422.5 515.5L424.0 541.7L425.5 541.9L427.0 533.5L428.5 532.3L430.0 540.3L431.5 528.6L433.0 541.1L434.5 537.4L436.1 536.3L437.6 534.1L439.1 531.2L440.6 537.5L442.1 534.3L443.6 540.5L445.1 530.5L446.6 531.5L448.1 538.4L449.7 522.8L451.2 535.3L452.7 536.4L454.2 537.3L455.7 525.7L457.2 533.6L458.7 544.2L460.2 523.6L461.7 527.8L463.2 525.2L464.8 530.7L466.3 536.1L467.8 538.8L469.3 530.6L470.8 526.0L472.3 500.7L473.8 535.8L475.3 540.6L476.8 540.0L478.3 531.7L479.9 529.7L481.4 538.5L482.9 541.4L484.4 546.1L485.9 529.6L487.4 543.9L488.9 521.8L490.4 535.6L491.9 546.9L493.5 541.9L495.0 528.5L496.5 533.3L498.0 536.3L499.5 527.1L501.0 534.3L502.5 531.8L504.0 534.2L505.5 534.4L507.0 528.0L508.6 537.7L510.1 531.1L511.6 529.9L513.1 536.9L514.6 533.6L516.1 539.1L517.6 534.9L519.1 531.0L520.6 532.0L522.2 536.6L523.7 533.2L525.2 533.5L526.7 534.8L528.2 534.6L529.7 528.5L531.2 544.1L532.7 537.2L534.2 532.2L535.7 535.6L537.3 531.2L538.8 534.2L540.3 536.1L541.8 535.0L543.3 544.9L544.8 534.5L546.3 531.5L547.8 530.3L549.3 532.6L550.9 536.3L552.4 537.0L553.9 543.2L555.4 537.0L556.9 539.7L558.4 544.2L559.9 536.8L561.4 534.9L562.9 534.5L564.4 535.1L566.0 540.6L567.5 537.4L569.0 532.0L570.5 535.7L572.0 532.4L573.5 534.5L575.0 521.5L576.5 520.0L578.0 511.8L579.6 538.1L581.1 527.5L582.6 546.3L584.1 528.2L585.6 530.5L587.1 543.0L588.6 494.7L590.1 533.1L591.6 548.4L593.1 521.2L594.7 533.6L596.2 527.3L597.7 540.3L599.2 541.3L600.7 545.4L602.2 560.6L603.7 513.6L605.2 518.1L606.7 549.2L608.3 534.5L609.8 534.3L611.3 541.5L612.8 525.6L614.3 541.8L615.8 526.2L617.3 537.5L618.8 533.5L620.3 566.2L621.8 539.6L623.4 535.4L624.9 541.3L626.4 537.7L627.9 544.3L629.4 528.2L630.9 545.2L632.4 538.8L633.9 523.3L635.4 525.7L637.0 536.4L638.5 570.9L640.0 553.3L641.5 532.5L643.0 534.3L644.5 538.9L646.0 538.9L647.5 517.4L649.0 528.3L650.5 536.1L652.1 538.0L653.6 539.2L655.1 533.1L656.6 538.4L658.1 535.1L659.6 540.0L661.1 529.3L662.6 533.8L664.1 546.2L665.6 510.0L667.2 533.4L668.7 548.8L670.2 546.9L671.7 535.1L673.2 541.3L674.7 491.8L676.2 531.1L677.7 541.2L679.2 551.7L680.8 528.5L682.3 580.4L683.8 531.4L685.3 534.6L686.8 585.5L688.3 538.1L689.8 521.0L691.3 543.9L692.8 556.2L694.3 551.3L695.9 536.7L697.4 529.1L698.9 528.4L700.4 533.5L701.9 544.5L703.4 539.9L704.9 538.0L706.4 537.4L707.9 570.0L709.5 530.2L711.0 526.1L712.5 537.1L714.0 534.5L715.5 547.4L717.0 534.0L718.5 557.9L720.0 560.2L721.5 528.6L723.0 534.6L724.6 540.1L726.1 550.8L727.6 535.7L729.1 492.8L730.6 527.7L732.1 533.6L733.6 524.6L735.1 516.4L736.6 530.3L738.2 508.0L739.7 533.5L741.2 530.8L742.7 531.2L744.2 525.1L745.7 539.5L747.2 532.2L748.7 532.3L750.2 535.9L751.7 540.5L753.3 527.6L754.8 538.5L756.3 549.1L757.8 528.4L759.3 548.1L760.8 527.8L762.3 557.9L763.8 534.8L765.3 518.4L766.9 539.1L768.4 524.2L769.9 538.4L771.4 541.8L772.9 537.4L774.4 526.1L775.9 523.0L777.4 521.7L778.9 526.6L780.4 535.0L782.0 553.2L783.5 553.7L785.0 521.0L786.5 549.6L788.0 530.5L789.5 531.0L791.0 550.4L792.5 524.8L794.0 538.6L795.6 528.9" stroke="#00ffff"/><path d="M1279.0 538.6L1280.6 536.9L1282.1 531.1L1283.6 522.7L1285.1 541.8L1286.6 543.0L1288.1 533.7L1289.6 537.1L1291.1 537.8L1292.7 531.0L1294.2 533.7L1295.7 538.0L1297.2 532.9L1298.7 539.0L1300.2 538.0L1301.7 527.3L1303.2 536.8L1304.8 533.2L1306.3 536.8L1307.8 537.1L1309.3 550.5L1310.8 540.7L1312.3 519.4L1313.8 511.7L1315.3 532.6L1316.9 533.0L1318.4 538.0L1319.9 535.8L1321.4 515.9L1322.9 523.9L1324.4 526.3L1325.9 530.2L1327.5 530.5L1329.0 534.8L1330.5 538.9L1332.0 539.4L1333.5 543.1L1335.0 542.0L1336.5 578.9L1338.0 568.4L1339.6 520.6L1341.1 483.4L1342.6 520.3L1344.1 547.4L1345.6 571.4L1347.1 536.2L1348.6 529.5L1350.1 544.3L1351.7 476.5L1353.2 548.0L1354.7 578.6L1356.2 522.9L1357.7 518.8L1359.2 538.6L1360.7 516.2L1362.2 513.4L1363.8 579.8L1365.3 528.8L1366.8 553.6L1368.3 504.2L1369.8 531.3L1371.3 522.5L1372.8 539.3L1374.4 544.4L1375.9 522.3L1377.4 454.9L1378.9 528.5L1380.4 551.0L1381.9 535.7L1383.4 545.5L1384.9 477.6L1386.5 533.1L1388.0 539.8L1389.5 532.4L1391.0 545.8L1392.5 527.8L1394.0 551.6L1395.5 542.0L1397.0 531.8L1398.6 595.1L1400.1 555.4L1401.6 546.8L1403.1 512.7L1404.6 522.1L1406.1 530.9L1407.6 519.5L1409.1 521.6L1410.7 544.0L1412.2 551.6L1413.7 516.4L1415.2 544.8L1416.7 524.9L1418.2 558.4L1419.7 536.0L1421.2 553.6L1422.8 524.6L1424.3 523.0L1425.8 515.4L1427.3 522.6L1428.8 542.9L1430.3 528.5L1431.8 525.5L1433.4 548.0L1434.9 525.4L1436.4 530.4L1437.9 527.5L1439.4 538.3L1440.9 535.5L1442.4 527.3L1443.9 527.8L1445.5 526.0L1447.0 555.1L1448.5 520.2L1450.0 546.8L1451.5 486.5L1453.0 556.7L1454.5 544.2L1456.0 530.9L1457.6 515.5L1459.1 553.7L1460.6 548.6L1462.1 525.4L1463.6 519.0L1465.1 573.3L1466.6 553.2L1468.1 544.0L1469.7 536.8L1471.2 612.1L1472.7 550.5L1474.2 524.9L1475.7 547.0L1477.2 570.3L1478.7 511.8L1480.3 485.7L1481.8 509.5L1483.3 534.9L1484.8 539.8L1486.3 541.2L1487.8 557.1L1489.3 566.9L1490.8 536.1L1492.4 546.7L1493.9 525.2L1495.4 520.0L1496.9 557.9L1498.4 555.7L1499.9 531.3L1501.4 470.5L1502.9 510.8L1504.5 545.0L1506.0 529.8L1507.5 468.7L1509.0 545.9L1510.5 549.5L1512.0 514.0L1513.5 564.0L1515.0 552.1L1516.6 514.7L1518.1 539.1L1519.6 545.4L1521.1 528.5" stroke="#00ffff"/><path d="M1331.0 525.6L1332.6 534.8L1334.2 529.3L1335.8 519.6L1337.3 580.7L1338.9 551.5L1340.5 538.1L1342.1 556.2L1343.7 538.9" stroke="#00ffff"/><path d="M190.4 547.1L191.9 542.3L193.5 531.0L195.0 529.6L196.5 536.1L198.0 534.1L199.6 545.1L201.1 533.1L202.6 536.9L204.1 540.0L205.7 529.1L207.2 528.8L208.7 539.0L210.3 534.3L211.8 548.7L213.3 542.9L214.8 527.2L216.4 543.4L217.9 542.1L219.4 528.4L221.0 551.3L222.5 540.5L224.0 522.3L225.5 539.0L227.1 541.8L228.6 542.9L230.1 532.8L231.6 542.3L233.2 534.0L234.7 537.0L236.2 535.9L237.8 528.5L239.3 539.1L240.8 542.2L242.3 535.9L243.9 534.1L245.4 537.1L246.9 547.1L248.4 531.4L250.0 547.5L251.5 549.0L253.0 518.1L254.6 525.8L256.1 537.7L257.6 541.3L259.1 526.5L260.7 544.6L262.2 535.9L263.7 539.6L265.3 531.7L266.8 533.6L268.3 551.1L269.8 514.4L271.4 530.7L272.9 535.6L274.4 541.5L275.9 536.1" stroke="#20ffdf"/><path d="M987.6 525.0L989.1 531.2L990.6 531.7L992.1 538.9L993.6 532.6L995.1 543.8L996.6 543.4L998.1 530.9L999.6 539.6L1001.1 563.6L1002.7 536.5L1004.2 574.3L1005.7 523.4L1007.2 541.8L1008.7 541.7L1010.2 523.6L1011.7 546.3L1013.2 551.7L1014.7 535.2L1016.3 536.7L1017.8 531.5L1019.3 535.6L1020.8 541.5L1022.3 533.9L1023.8 536.4L1025.3 521.3L1026.8 534.2L1028.3 538.9L1029.9 538.0L1031.4 535.3L1032.9 537.0L1034.4 532.8L1035.9 534.3L1037.4 539.8L1038.9 534.5L1040.4 532.2L1041.9 539.9L1043.4 540.8L1045.0 532.4L1046.5 528.9L1048.0 531.8L1049.5 528.6L1051.0 536.3L1052.5 539.3L1054.0 534.5L1055.5 537.8L1057.0 530.7L1058.6 532.5L1060.1 534.9L1061.6 528.5L1063.1 534.7L1064.6 534.3L1066.1 539.6L1067.6 516.1L1069.1 537.8L1070.6 536.9L1072.1 538.0L1073.7 536.3L1075.2 539.8L1076.7 542.9L1078.2 529.4L1079.7 533.9L1081.2 536.4L1082.7 535.4L1084.2 531.4L1085.7 532.1L1087.3 534.2L1088.8 531.9L1090.3 545.1L1091.8 525.6L1093.3 537.7L1094.8 543.7L1096.3 539.3L1097.8 535.1L1099.3 542.0L1100.9 534.2L1102.4 538.4L1103.9 527.3L1105.4 542.2L1106.9 534.0L1108.4 537.2L1109.9 540.0L1111.4 530.8L1112.9 531.4L1114.4 546.1L1116.0 536.7L1117.5 530.0L1119.0 534.7L1120.5 538.0L1122.0 546.9L1123.5 549.8L1125.0 531.1L1126.5 528.3L1128.0 545.7L1129.6 561.6L1131.1 542.6L1132.6 550.8L1134.1 532.4L1135.6 536.3L1137.1 527.4L1138.6 517.7L1140.1 525.2L1141.6 539.6L1143.2 545.8L1144.7 569.3L1146.2 579.6L1147.7 521.0L1149.2 534.3L1150.7 575.1L1152.2 530.8L1153.7 553.8L1155.2 538.4L1156.7 536.2L1158.3 542.0L1159.8 541.0L1161.3 530.3L1162.8 541.1L1164.3 527.4L1165.8 579.6L1167.3 540.2L1168.8 522.7L1170.3 545.2L1171.9 545.1L1173.4 536.7L1174.9 540.6L1176.4 534.9" stroke="#20ffdf"/><path d="M877.9 528.4L879.4 537.9L881.0 536.8L882.5 525.8L884.0 531.0L885.5 548.3L887.0 497.5L888.6 543.2L890.1 533.7L891.6 521.0L893.1 551.0L894.6 520.2L896.1 518.4L897.7 532.2L899.2 528.6L900.7 537.8L902.2 529.3L903.7 518.9L905.3 555.7L906.8 546.6L908.3 527.2L909.8 545.2L911.3 530.8L912.8 537.3L914.4 529.2L915.9 551.9L917.4 534.6L918.9 535.7L920.4 528.8L922.0 533.6L923.5 535.1L925.0 532.4L926.5 523.4L928.0 540.9L929.5 522.7L931.1 535.6L932.6 541.3L934.1 529.7L935.6 574.9L937.1 526.1L938.7 539.0L940.2 535.0L941.7 535.6L943.2 531.6L944.7 541.9L946.2 540.3L947.8 532.9L949.3 541.8L950.8 536.7" stroke="#40ffbf"/><path d="M190.4 524.6L192.0 530.9L193.6 548.3L195.2 541.0L196.7 545.3" stroke="#60ff9f"/><path d="M950.8 556.0L952.3 536.3L953.8 517.2L955.4 539.3L956.9 532.8L958.4 527.7L959.9 547.8L961.5 533.0L963.0 525.2L964.5 545.2L966.0 525.0L967.5 535.8L969.1 547.4L970.6 531.5L972.1 528.9L973.6 536.2L975.2 524.3L976.7 530.4L978.2 534.0L979.7 533.4L981.2 527.2L982.8 527.8L984.3 534.6L985.8 550.6L987.3 545.7L988.9 537.8L990.4 524.5L991.9 519.7L993.4 519.0L995.0 530.4L996.5 521.5L998.0 537.2L999.5 523.7L1001.0 546.2L1002.6 531.4L1004.1 535.9L1005.6 545.7L1007.1 526.1L1008.7 528.5L1010.2 530.9L1011.7 537.1L1013.2 547.0L1014.7 545.2L1016.3 549.7L1017.8 551.4L1019.3 533.6L1020.8 528.8L1022.4 539.9L1023.9 517.9L1025.4 511.3L1026.9 530.1L1028.4 527.4L1030.0 535.1L1031.5 537.1L1033.0 533.7L1034.5 530.6L1036.1 532.8L1037.6 534.0L1039.1 523.1L1040.6 538.7L1042.1 523.3L1043.7 543.7L1045.2 528.4L1046.7 515.2L1048.2 524.3L1049.8 538.8L1051.3 537.3L1052.8 539.4L1054.3 541.3L1055.8 545.2L1057.4 531.3L1058.9 535.8L1060.4 535.4L1061.9 557.0L1063.5 534.1L1065.0 525.7L1066.5 534.1L1068.0 522.5" stroke="#60ff9f"/><path d="M538.9 511.0L540.4 531.7L541.9 532.1L543.4 537.4L545.0 531.1L546.5 530.2L548.0 559.2L549.5 561.9L551.0 531.4L552.5 538.6L554.0 530.9L555.5 531.8L557.0 531.0L558.5 536.6L560.0 531.1L561.6 525.8L563.1 524.6L564.6 537.4L566.1 534.3L567.6 534.5L569.1 544.6L570.6 563.4L572.1 536.1L573.6 529.4L575.1 525.5L576.7 542.8L578.2 510.9L579.7 536.4L581.2 540.3L582.7 523.1L584.2 555.4L585.7 562.8L587.2 511.8L588.7 535.5L590.2 525.6L591.7 536.3L593.3 543.4L594.8 549.0L596.3 556.8L597.8 532.7L599.3 547.7L600.8 536.5L602.3 531.7L603.8 535.9L605.3 534.0L606.8 482.1L608.4 531.6L609.9 532.2L611.4 537.1L612.9 517.8L614.4 519.6L615.9 555.0L617.4 530.4L618.9 536.7L620.4 540.4L621.9 545.9L623.4 513.4L625.0 514.8L626.5 560.5L628.0 522.2L629.5 513.7L631.0 533.5L632.5 535.7L634.0 528.4L635.5 501.1L637.0 541.6L638.5 519.7L640.1 586.9L641.6 492.7L643.1 548.6L644.6 539.5L646.1 530.1L647.6 522.9L649.1 559.5L650.6 543.3L652.1 481.3L653.6 556.7L655.1 545.0L656.7 541.3L658.2 527.0L659.7 509.8L661.2 498.9L662.7 530.0L664.2 540.1L665.7 529.7L667.2 526.0L668.7 549.0L670.2 542.6L671.8 535.4L673.3 515.4L674.8 538.9L676.3 534.3L677.8 534.6L679.3 530.6L680.8 527.3L682.3 547.4L683.8 569.3L685.3 525.7L686.8 600.2L688.4 531.4L689.9 530.0L691.4 526.5L692.9 570.9L694.4 531.0L695.9 526.9L697.4 526.7L698.9 520.0L700.4 569.2L701.9 541.3L703.5 538.3L705.0 535.6L706.5 522.7L708.0 525.0L709.5 530.3L711.0 472.2L712.5 527.6L714.0 548.9L715.5 519.3L717.0 550.6L718.5 550.3L720.1 540.0L721.6 540.7L723.1 536.4L724.6 535.0L726.1 544.6L727.6 560.4L729.1 510.7L730.6 531.6L732.1 537.9L733.6 545.0L735.2 533.5L736.7 547.1L738.2 550.9L739.7 523.0L741.2 526.8L742.7 546.4L744.2 515.8L745.7 536.3L747.2 511.1L748.7 529.0L750.2 533.5L751.8 529.2L753.3 516.4L754.8 523.8L756.3 557.2L757.8 527.6L759.3 561.3L760.8 569.8L762.3 517.5L763.8 571.4L765.3 519.7L766.9 539.1L768.4 527.5L769.9 531.1L771.4 525.0L772.9 518.7L774.4 552.2L775.9 534.7L777.4 532.2L778.9 522.0L780.4 527.9L781.9 542.4L783.5 551.0L785.0 553.9L786.5 545.6L788.0 532.4L789.5 532.7L791.0 517.2L792.5 531.0L794.0 525.2L795.5 551.3L797.0 531.6L798.6 540.7L800.1 541.8L801.6 489.0L803.1 534.8L804.6 535.6L806.1 534.6L807.6 550.9L809.1 554.3L810.6 511.7L812.1 534.0L813.6 534.8L815.2 532.0L816.7 540.2L818.2 538.1L819.7 545.1L821.2 530.6L822.7 538.6L824.2 522.2L825.7 515.9L827.2 547.6" stroke="#dfff20"/><path d="M1503.4 529.2L1504.9 548.1L1506.4 545.5L1507.9 544.2L1509.4 506.0L1510.9 502.0L1512.4 555.2L1513.9 526.3L1515.5 577.8L1517.0 534.0L1518.5 527.7L1520.0 530.8L1521.5 528.4L1523.0 526.1L1524.5 542.7L1526.0 537.2L1527.6 541.6L1529.1 552.0L1530.6 533.8L1532.1 546.2L1533.6 526.9L1535.1 507.7L1536.6 509.1L1538.1 503.2L1539.7 539.0L1541.2 539.3L1542.7 526.5L1544.2 544.7L1545.7 509.4L1547.2 540.7L1548.7 530.2L1550.2 538.7L1551.8 515.4L1553.3 520.3L1554.8 524.4L1556.3 548.5L1557.8 519.5L1559.3 538.7L1560.8 549.8L1562.3 530.1L1563.8 494.3L1565.4 581.9L1566.9 524.6L1568.4 536.4L1569.9 536.0L1571.4 527.8L1572.9 537.6L1574.4 541.6L1575.9 520.8L1577.5 562.8L1579.0 521.9L1580.5 548.9L1582.0 488.1L1583.5 547.6L1585.0 517.4L1586.5 554.0L1588.0 512.4L1589.6 524.5L1591.1 536.8L1592.6 538.8L1594.1 529.4L1595.6 535.5L1597.1 531.5L1598.6 533.8L1600.1 540.2L1601.7 526.0L1603.2 535.4L1604.7 533.1L1606.2 533.2L1607.7 532.4L1609.2 525.9L1610.7 532.6L1612.2 535.9L1613.8 534.2L1615.3 536.2L1616.8 540.2L1618.3 528.9L1619.8 547.2L1621.3 514.6L1622.8 534.1L1624.3 530.4L1625.9 534.7L1627.4 536.1L1628.9 522.9L1630.4 536.5L1631.9 546.6L1633.4 532.4L1634.9 512.1L1636.4 541.1L1638.0 540.7L1639.5 530.2L1641.0 529.8L1642.5 524.4L1644.0 539.0L1645.5 533.5L1647.0 538.1L1648.5 521.5L1650.0 531.3L1651.6 505.8L1653.1 536.1L1654.6 479.0L1656.1 530.3L1657.6 547.7L1659.1 434.5L1660.6 526.5L1662.1 537.5L1663.7 535.2L1665.2 499.5L1666.7 529.8L1668.2 525.3L1669.7 549.3L1671.2 539.3L1672.7 544.6L1674.2 550.4L1675.8 555.0L1677.3 539.8L1678.8 560.4L1680.3 488.2L1681.8 516.4L1683.3 552.3" stroke="#dfff20"/><path d="M763.9 505.6L765.4 546.1L766.9 538.0L768.4 538.9L769.9 534.1L771.4 536.9L772.9 547.1L774.5 540.3L776.0 539.4L777.5 514.0L779.0 527.1L780.5 536.8L782.0 530.5L783.5 538.8L785.0 482.4L786.6 537.7L788.1 546.5L789.6 474.6L791.1 544.5L792.6 554.9L794.1 546.6L795.6 531.1L797.1 543.3L798.7 544.4L800.2 524.8L801.7 519.7L803.2 532.2L804.7 547.4L806.2 530.2L807.7 542.6L809.2 532.4L810.8 532.4L812.3 548.7L813.8 525.9L815.3 535.6L816.8 537.6L818.3 547.5L819.8 525.2L821.3 558.6L822.9 534.6L824.4 546.9L825.9 549.5L827.4 549.5L828.9 554.0L830.4 540.3L831.9 521.1L833.4 523.9L835.0 545.5L836.5 544.7L838.0 518.8L839.5 527.2L841.0 535.8L842.5 540.1L844.0 540.3L845.6 562.0L847.1 543.0L848.6 512.8L850.1 518.3L851.6 539.0L853.1 511.2L854.6 529.4L856.1 555.6L857.7 545.9L859.2 542.5L860.7 534.0L862.2 521.4L863.7 533.3L865.2 535.9L866.7 545.3L868.2 522.1L869.8 483.4L871.3 533.2L872.8 538.5L874.3 532.5L875.8 529.4L877.3 522.8L878.8 525.1L880.3 544.5L881.9 537.1L883.4 540.5L884.9 528.8L886.4 548.2L887.9 555.8L889.4 535.2L890.9 552.8L892.4 540.9L894.0 537.4L895.5 566.3L897.0 535.2L898.5 548.6L900.0 575.0L901.5 530.2L903.0 539.6L904.5 523.8L906.1 532.9L907.6 543.9L909.1 542.2L910.6 547.4L912.1 536.3L913.6 530.3L915.1 536.3L916.6 533.8L918.2 546.7L919.7 497.7L921.2 518.9L922.7 525.3L924.2 574.2L925.7 544.4L927.2 544.5L928.7 519.1L930.3 538.4L931.8 511.5L933.3 531.4L934.8 542.6L936.3 522.7L937.8 517.2L939.3 543.1L940.8 556.0L942.4 536.8L943.9 549.2L945.4 571.4L946.9 559.8L948.4 542.6L949.9 550.4L951.4 534.6L952.9 533.5L954.5 526.9L956.0 533.8L957.5 538.3L959.0 524.5L960.5 556.2L962.0 555.5L963.5 548.6L965.0 540.1L966.6 531.3L968.1 510.9L969.6 564.4L971.1 526.5L972.6 527.4L974.1 520.7L975.6 545.4L977.1 538.4L978.7 555.7L980.2 535.2L981.7 539.7L983.2 519.1L984.7 526.1L986.2 561.7L987.7 527.9L989.2 526.4L990.8 544.8L992.3 519.1L993.8 543.2L995.3 549.1L996.8 536.7L998.3 491.3" stroke="#ffdf00"/><path d="M1701.7 542.9L1703.3 543.9L1704.9 532.7L1706.4 545.3L1708.0 526.5L1709.6 541.2L1711.2 510.2" stroke="#ffdf00"/><path d="M247.4 551.4L248.9 531.1L250.5 535.4L252.0 534.4L253.5 545.7L255.0 523.9L256.5 539.2L258.0 534.7L259.6 529.7L261.1 541.4L262.6 554.4L264.1 533.5L265.6 534.2L267.1 540.8L268.7 548.5L270.2 541.7L271.7 534.8L273.2 531.7L274.7 538.5L276.2 526.9L277.8 536.9L279.3 531.0L280.8 536.4L282.3 535.2L283.8 515.4L285.3 530.6L286.9 527.1L288.4 527.5L289.9 534.6L291.4 519.0L292.9 523.6L294.4 531.6L296.0 529.4L297.5 534.0L299.0 533.6L300.5 531.2L302.0 540.8L303.5 529.1L305.0 528.1L306.6 572.2L308.1 529.7L309.6 539.3L311.1 548.9L312.6 530.4L314.1 540.8L315.7 533.3L317.2 539.1L318.7 542.9L320.2 523.1L321.7 540.0L323.2 557.1L324.8 537.4L326.3 523.1L327.8 565.1L329.3 527.5L330.8 539.8L332.3 533.5L333.9 535.4L335.4 513.9L336.9 548.7L338.4 522.5L339.9 537.5L341.4 544.2L343.0 533.7L344.5 529.6L346.0 530.4L347.5 515.2L349.0 536.3L350.5 525.3L352.1 529.2L353.6 540.9L355.1 537.5L356.6 539.6L358.1 536.6L359.6 533.3L361.2 537.7L362.7 535.9L364.2 518.9L365.7 529.1L367.2 525.1L368.7 555.5L370.2 538.9L371.8 539.4L373.3 538.3L374.8 550.5L376.3 540.8L377.8 519.2L379.3 526.2L380.9 541.9L382.4 518.8L383.9 549.2L385.4 522.7L386.9 500.6L388.4 528.4L390.0 540.1L391.5 540.5L393.0 539.1L394.5 526.2L396.0 532.3L397.5 529.2L399.1 531.3L400.6 541.9L402.1 549.1L403.6 538.7L405.1 543.1L406.6 532.9L408.2 534.5L409.7 513.5L411.2 537.8L412.7 538.6L414.2 525.5L415.7 534.5L417.3 521.8L418.8 522.0L420.3 516.6L421.8 529.6L423.3 545.0L424.8 525.8L426.4 533.2L427.9 530.3L429.4 527.9L430.9 529.7L432.4 540.9L433.9 537.9L435.4 552.0L437.0 528.2L438.5 533.0L440.0 534.0L441.5 541.8L443.0 535.4L444.5 542.2L446.1 533.8L447.6 541.8L449.1 532.7L450.6 537.8L452.1 531.6L453.6 527.4L455.2 531.5L456.7 533.5L458.2 528.9L459.7 538.2" stroke="#ff8000"/><path d="M1071.2 531.4L1072.7 514.5L1074.2 533.3L1075.7 511.4L1077.2 531.9L1078.7 539.2L1080.3 553.5L1081.8 535.2L1083.3 533.3L1084.8 534.0L1086.3 530.9L1087.8 520.2L1089.3 546.2L1090.8 535.4L1092.3 535.4L1093.9 532.7L1095.4 538.9L1096.9 530.2L1098.4 535.1L1099.9 529.5L1101.4 543.3L1102.9 536.7L1104.4 541.2L1105.9 539.6L1107.4 536.8L1109.0 537.8L1110.5 534.0L1112.0 533.4L1113.5 535.4L1115.0 535.3L1116.5 549.7L1118.0 537.3L1119.5 536.4L1121.0 538.7L1122.6 523.0L1124.1 531.0L1125.6 543.2L1127.1 539.8L1128.6 536.2L1130.1 534.7L1131.6 521.4L1133.1 541.5L1134.6 552.9L1136.1 532.3L1137.7 529.7L1139.2 524.3L1140.7 545.1L1142.2 538.3L1143.7 530.7L1145.2 534.2L1146.7 550.5L1148.2 532.1L1149.7 522.2L1151.3 530.1L1152.8 537.3L1154.3 545.8L1155.8 545.4L1157.3 536.3L1158.8 543.2L1160.3 543.1L1161.8 582.5L1163.3 531.9L1164.8 528.1L1166.4 536.8L1167.9 520.6L1169.4 534.1L1170.9 520.6L1172.4 537.1L1173.9 536.3L1175.4 547.5L1176.9 536.7L1178.4 540.0L1180.0 540.8L1181.5 522.0L1183.0 516.2L1184.5 526.5L1186.0 533.2L1187.5 562.8L1189.0 535.8L1190.5 526.4L1192.0 544.1L1193.5 537.7L1195.1 536.2L1196.6 526.4L1198.1 535.7L1199.6 529.0L1201.1 519.0L1202.6 538.5L1204.1 533.9L1205.6 547.8L1207.1 540.5L1208.7 521.2L1210.2 524.9L1211.7 526.1L1213.2 535.2L1214.7 527.6L1216.2 529.5L1217.7 534.7L1219.2 550.5L1220.7 506.7L1222.2 513.5L1223.8 543.0L1225.3 492.4L1226.8 537.4L1228.3 501.0L1229.8 543.2L1231.3 534.8L1232.8 539.5L1234.3 528.0L1235.8 526.4L1237.3 533.9L1238.9 556.7L1240.4 534.3L1241.9 545.1L1243.4 520.2L1244.9 539.8L1246.4 555.3L1247.9 536.3L1249.4 571.0L1250.9 530.7L1252.5 547.0L1254.0 531.3L1255.5 550.7L1257.0 524.0L1258.5 535.6L1260.0 528.3L1261.5 541.1L1263.0 515.8L1264.5 537.3L1266.0 516.8L1267.6 536.4L1269.1 509.5L1270.6 542.4L1272.1 556.0L1273.6 533.2L1275.1 538.8L1276.6 540.0L1278.1 533.5L1279.6 535.7L1281.2 546.7L1282.7 534.6L1284.2 538.1L1285.7 540.4L1287.2 532.3L1288.7 533.1L1290.2 529.5L1291.7 538.1L1293.2 539.9L1294.7 511.4L1296.3 531.9L1297.8 532.5L1299.3 539.7L1300.8 542.1L1302.3 532.2L1303.8 549.1L1305.3 541.6L1306.8 534.5L1308.3 544.4L1309.9 532.7L1311.4 536.9L1312.9 559.3L1314.4 537.1L1315.9 536.6L1317.4 538.2L1318.9 533.4L1320.4 543.1L1321.9 538.5L1323.4 533.8L1325.0 533.8L1326.5 535.1L1328.0 523.3L1329.5 537.9L1331.0 538.7" stroke="#ff8000"/><path d="M1331.0 533.0L1332.5 538.3L1334.0 544.3L1335.6 520.1L1337.1 544.4L1338.6 505.0L1340.1 515.9L1341.6 478.3L1343.2 521.7L1344.7 552.0L1346.2 464.5L1347.7 545.2L1349.2 534.2L1350.8 519.1L1352.3 540.9L1353.8 542.4L1355.3 559.5L1356.9 513.3L1358.4 501.0L1359.9 578.0L1361.4 511.5L1362.9 497.1L1364.5 502.9L1366.0 517.0L1367.5 560.0L1369.0 596.2L1370.5 544.1L1372.1 525.2L1373.6 463.2L1375.1 467.3L1376.6 534.6L1378.1 525.7L1379.7 546.5L1381.2 561.0L1382.7 557.2L1384.2 515.7L1385.7 520.0L1387.3 530.6L1388.8 532.0L1390.3 495.4L1391.8 524.9L1393.4 536.9L1394.9 554.5L1396.4 542.4L1397.9 507.9L1399.4 550.8L1401.0 504.1L1402.5 540.2L1404.0 489.5L1405.5 539.1L1407.0 518.1L1408.6 544.4L1410.1 513.3L1411.6 518.6L1413.1 529.2L1414.6 559.6L1416.2 509.7L1417.7 495.9L1419.2 570.9L1420.7 540.7L1422.2 523.5L1423.8 546.4L1425.3 523.9L1426.8 554.1L1428.3 532.4L1429.9 521.4L1431.4 541.1L1432.9 532.2L1434.4 528.3L1435.9 511.4L1437.5 515.2L1439.0 530.9L1440.5 530.1L1442.0 540.5L1443.5 540.9L1445.1 542.1L1446.6 543.9L1448.1 521.5L1449.6 539.4L1451.1 549.0L1452.7 548.7L1454.2 541.0L1455.7 515.1L1457.2 545.0L1458.7 552.0L1460.3 532.9L1461.8 520.8L1463.3 552.2L1464.8 557.3L1466.4 566.2L1467.9 497.7L1469.4 586.0L1470.9 555.4L1472.4 532.4L1474.0 541.8L1475.5 524.1L1477.0 576.9L1478.5 534.6L1480.0 532.9L1481.6 513.1L1483.1 451.3L1484.6 536.8L1486.1 549.5L1487.6 529.1L1489.2 547.5L1490.7 521.4L1492.2 524.5L1493.7 534.2L1495.2 609.7L1496.8 608.3L1498.3 545.6L1499.8 537.0L1501.3 569.0L1502.9 560.5L1504.4 527.8L1505.9 566.3" stroke="#ff8000"/><path d="M500.9 534.9L502.4 551.4L503.9 533.9L505.4 527.8L507.0 529.3L508.5 545.1L510.0 534.8L511.5 534.5L513.0 530.6L514.6 531.7L516.1 522.6L517.6 536.4L519.1 532.6L520.6 536.3L522.1 537.1L523.7 556.7L525.2 534.2L526.7 538.8L528.2 542.8L529.7 529.8L531.2 541.3L532.8 531.0L534.3 531.6L535.8 536.6L537.3 533.4L538.8 531.6L540.4 539.9L541.9 544.1L543.4 529.3L544.9 532.5L546.4 540.5L547.9 516.7L549.5 543.3L551.0 535.0L552.5 533.5L554.0 535.6L555.5 532.7L557.0 538.7L558.6 545.9" stroke="#ff6000"/><path d="M1197.9 531.3L1199.4 547.8L1201.0 542.7L1202.5 540.5L1204.0 526.7L1205.5 543.6L1207.0 523.2L1208.5 538.8L1210.0 542.1L1211.5 529.0L1213.1 532.9L1214.6 545.4L1216.1 529.6L1217.6 547.8L1219.1 531.0L1220.6 536.5L1222.1 514.6L1223.6 530.8L1225.1 515.6L1226.7 530.1L1228.2 539.3L1229.7 528.8L1231.2 549.4L1232.7 569.2L1234.2 536.6L1235.7 521.3L1237.2 510.4L1238.8 548.4L1240.3 554.9L1241.8 533.0L1243.3 550.5L1244.8 546.4L1246.3 541.9L1247.8 545.1L1249.3 543.9L1250.9 538.1L1252.4 526.9L1253.9 542.1L1255.4 535.6L1256.9 531.8L1258.4 531.3L1259.9 536.9L1261.4 543.0L1263.0 536.7L1264.5 549.8L1266.0 536.8L1267.5 524.3L1269.0 524.2L1270.5 561.6L1272.0 529.2L1273.5 533.3L1275.1 540.6L1276.6 532.7L1278.1 532.8L1279.6 536.4L1281.1 536.8L1282.6 540.8L1284.1 531.2L1285.6 559.1L1287.1 531.5L1288.7 540.9L1290.2 535.5L1291.7 537.6L1293.2 536.0L1294.7 539.6L1296.2 539.8L1297.7 528.5L1299.2 537.2L1300.8 529.8L1302.3 532.4L1303.8 533.6L1305.3 534.4L1306.8 535.9L1308.3 531.5L1309.8 536.2L1311.3 537.4L1312.9 532.8L1314.4 535.7L1315.9 533.4L1317.4 538.4L1318.9 535.9L1320.4 531.6L1321.9 531.6L1323.4 540.4L1325.0 536.2L1326.5 540.4L1328.0 532.3L1329.5 539.8L1331.0 543.5" stroke="#ff6000"/><path d="M1331.0 539.0L1332.5 535.9L1334.0 535.7L1335.5 535.0L1337.0 463.8L1338.5 532.8L1340.1 526.6L1341.6 471.9L1343.1 541.2L1344.6 521.2L1346.1 545.5L1347.6 533.3L1349.1 537.0L1350.6 519.2L1352.1 492.7L1353.6 547.2L1355.1 552.0L1356.6 554.3L1358.2 582.8L1359.7 546.5L1361.2 536.7L1362.7 549.8L1364.2 507.9L1365.7 486.0L1367.2 507.1L1368.7 528.8L1370.2 526.0L1371.7 538.2L1373.2 519.0L1374.8 527.6L1376.3 536.4L1377.8 529.6L1379.3 509.5L1380.8 512.6L1382.3 532.9L1383.8 561.5L1385.3 574.3L1386.8 536.6L1388.3 535.9L1389.8 535.8L1391.3 529.8L1392.9 527.8L1394.4 545.9" stroke="#ff6000"/><path d="M1394.4 542.0L1395.9 498.2L1397.4 506.4L1398.9 481.6L1400.4 562.8L1402.0 552.6L1403.5 531.8L1405.0 521.3L1406.5 569.6L1408.0 521.3L1409.5 541.9L1411.1 502.6L1412.6 498.7L1414.1 526.6L1415.6 518.8L1417.1 528.6L1418.6 530.3L1420.2 514.9L1421.7 551.6L1423.2 541.6L1424.7 552.6L1426.2 509.5L1427.7 543.7L1429.3 491.0L1430.8 525.2L1432.3 510.6L1433.8 538.8L1435.3 535.2L1436.8 489.6L1438.4 531.9L1439.9 570.7L1441.4 535.9L1442.9 552.8L1444.4 526.6L1446.0 521.7L1447.5 530.9L1449.0 513.0L1450.5 468.3L1452.0 536.5L1453.5 519.4L1455.1 537.8L1456.6 531.9L1458.1 537.5L1459.6 533.0L1461.1 550.9L1462.6 536.8L1464.2 551.9L1465.7 512.7L1467.2 541.3L1468.7 535.2L1470.2 594.7L1471.7 560.3L1473.3 526.9L1474.8 611.8L1476.3 529.7L1477.8 540.8L1479.3 504.4L1480.8 524.4L1482.4 521.2L1483.9 529.2L1485.4 519.2L1486.9 549.5L1488.4 509.9L1490.0 522.4L1491.5 555.3L1493.0 527.9L1494.5 532.7L1496.0 512.3L1497.5 536.7L1499.1 532.1L1500.6 526.6L1502.1 535.3" stroke="#ff6000"/><path d="M190.4 528.2L191.9 521.3L193.4 522.2L194.9 533.9L196.5 513.3L198.0 549.3L199.5 527.1L201.0 527.4L202.5 540.7L204.0 551.5L205.5 541.7L207.0 534.1L208.6 492.0L210.1 543.5L211.6 530.3L213.1 529.0L214.6 529.5L216.1 539.6L217.6 528.7L219.1 545.3L220.7 550.0L222.2 534.9L223.7 552.6L225.2 552.8L226.7 523.5L228.2 527.9L229.7 529.3L231.3 541.8L232.8 540.0L234.3 547.2L235.8 534.4L237.3 538.4L238.8 532.8L240.3 522.3L241.8 544.1L243.4 535.7L244.9 546.4L246.4 521.4L247.9 524.1L249.4 553.1L250.9 552.5L252.4 520.3L253.9 518.1L255.5 528.2L257.0 496.8L258.5 544.9L260.0 533.4L261.5 527.0L263.0 535.5L264.5 554.5L266.0 535.1L267.6 541.2L269.1 518.2L270.6 537.2L272.1 539.8L273.6 549.8L275.1 521.9L276.6 535.6L278.2 517.7L279.7 535.0L281.2 531.8L282.7 530.8L284.2 539.2L285.7 530.2L287.2 551.3L288.7 531.8L290.3 531.0L291.8 511.9L293.3 541.6L294.8 514.6L296.3 532.4L297.8 544.0L299.3 548.2L300.8 533.7L302.4 534.5L303.9 529.1L305.4 547.5L306.9 534.1L308.4 531.0L309.9 526.5L311.4 549.3L313.0 539.9L314.5 541.4L316.0 535.8L317.5 537.3L319.0 534.1L320.5 542.5L322.0 531.4L323.5 547.8L325.1 535.4L326.6 517.2L328.1 543.6L329.6 520.0L331.1 523.9L332.6 539.0L334.1 530.9L335.6 530.0L337.2 543.2L338.7 552.7L340.2 537.4L341.7 546.2L343.2 530.4L344.7 549.4L346.2 491.0L347.7 515.0L349.3 541.4L350.8 552.2L352.3 532.4L353.8 539.6L355.3 536.1L356.8 548.6L358.3 547.5L359.9 530.8L361.4 546.4L362.9 552.3L364.4 522.2L365.9 530.3L367.4 538.0L368.9 561.0L370.4 521.5L372.0 538.4L373.5 529.7L375.0 546.7L376.5 569.1L378.0 533.5L379.5 522.3L381.0 560.4L382.5 540.2L384.1 538.7L385.6 500.3L387.1 535.5L388.6 531.9L390.1 527.5L391.6 529.1L393.1 521.2L394.7 546.2L396.2 532.6L397.7 532.0L399.2 545.5L400.7 534.0L402.2 532.9L403.7 538.3L405.2 540.8L406.8 524.4L408.3 532.8L409.8 535.7L411.3 532.8L412.8 546.2L414.3 533.0L415.8 521.9L417.3 542.2L418.9 536.1L420.4 535.6L421.9 533.6L423.4 538.4L424.9 535.1L426.4 539.0L427.9 542.5L429.4 547.1L431.0 548.6L432.5 530.0L434.0 532.1L435.5 542.5L437.0 543.1L438.5 542.6L440.0 545.3L441.6 544.7L443.1 530.8L444.6 537.8L446.1 527.6L447.6 522.1L449.1 531.6L450.6 546.2L452.1 520.2L453.7 536.6L455.2 554.6L456.7 540.8L458.2 538.2L459.7 530.4" stroke="#ff4000"/><path d="M1091.5 543.3L1093.0 534.5L1094.5 530.1L1096.0 534.1L1097.5 531.1L1099.1 532.5L1100.6 536.5L1102.1 538.0L1103.6 535.0L1105.1 529.7L1106.7 541.8L1108.2 520.0L1109.7 543.3L1111.2 525.2L1112.7 535.2L1114.2 530.1L1115.8 536.5L1117.3 529.9L1118.8 537.7L1120.3 527.9L1121.8 524.3L1123.3 529.6L1124.9 551.7L1126.4 525.0L1127.9 548.8L1129.4 536.1L1130.9 530.8L1132.5 522.3L1134.0 543.7L1135.5 525.9L1137.0 527.8L1138.5 533.9L1140.0 507.8L1141.6 532.0L1143.1 536.5L1144.6 585.3L1146.1 557.2L1147.6 532.5L1149.2 526.2L1150.7 543.0L1152.2 536.1L1153.7 517.6L1155.2 524.8L1156.7 550.5L1158.3 526.8L1159.8 536.1L1161.3 528.3L1162.8 532.7L1164.3 543.0L1165.8 513.4L1167.4 559.2L1168.9 544.4L1170.4 498.0L1171.9 535.4L1173.4 531.5L1175.0 544.5L1176.5 527.0L1178.0 542.4L1179.5 546.9L1181.0 547.1L1182.5 524.3L1184.1 536.2L1185.6 528.4L1187.1 524.3L1188.6 537.3L1190.1 547.3L1191.7 532.6L1193.2 529.3L1194.7 546.9L1196.2 541.5L1197.7 544.2L1199.2 556.2L1200.8 532.5L1202.3 529.7L1203.8 536.4L1205.3 533.1L1206.8 533.8L1208.3 523.5L1209.9 527.3L1211.4 526.1L1212.9 543.0L1214.4 530.6L1215.9 535.6L1217.5 546.3L1219.0 530.9L1220.5 552.0L1222.0 546.6L1223.5 524.8L1225.0 528.8L1226.6 588.8L1228.1 531.7L1229.6 534.2L1231.1 538.2L1232.6 546.8L1234.2 538.5L1235.7 528.3L1237.2 517.5L1238.7 526.8L1240.2 560.4L1241.7 528.5L1243.3 514.6L1244.8 537.2L1246.3 547.9L1247.8 524.6L1249.3 541.3L1250.8 534.7L1252.4 531.9L1253.9 537.2L1255.4 535.4L1256.9 515.8L1258.4 527.9L1260.0 532.1L1261.5 527.5L1263.0 525.0L1264.5 553.3L1266.0 482.4L1267.5 531.7L1269.1 531.2L1270.6 529.9L1272.1 535.8L1273.6 541.6L1275.1 543.2L1276.7 540.3L1278.2 530.5L1279.7 533.5L1281.2 527.0L1282.7 537.5L1284.2 542.0L1285.8 536.6L1287.3 560.2" stroke="#ff4000"/><path d="M668.8 521.8L670.3 537.0L671.9 558.0L673.4 516.2L674.9 534.6L676.4 541.7L677.9 544.4L679.4 529.5L681.0 541.6L682.5 474.5L684.0 530.2L685.5 528.1L687.0 532.0L688.6 542.0L690.1 533.2L691.6 474.7L693.1 541.1L694.6 540.1L696.1 531.2L697.7 544.3L699.2 525.2L700.7 549.8L702.2 530.8L703.7 569.6L705.3 546.0L706.8 539.1L708.3 504.6L709.8 542.1L711.3 523.6L712.8 530.6L714.4 544.0L715.9 504.2L717.4 535.9L718.9 554.3L720.4 555.9L722.0 530.4L723.5 533.5L725.0 554.0L726.5 534.8L728.0 539.3L729.5 530.0L731.1 544.0L732.6 535.0L734.1 537.3L735.6 529.2L737.1 523.6L738.6 512.1L740.2 553.4L741.7 533.0L743.2 567.9L744.7 549.4L746.2 556.8L747.8 543.0L749.3 536.1L750.8 539.6L752.3 534.1L753.8 534.6L755.3 523.8L756.9 536.3L758.4 533.3L759.9 533.9L761.4 542.5L762.9 585.5L764.5 554.4L766.0 526.3L767.5 549.1L769.0 517.0L770.5 558.4L772.0 546.8L773.6 551.1L775.1 536.3L776.6 518.1L778.1 557.1L779.6 544.0L781.2 530.4L782.7 526.6L784.2 539.1L785.7 543.9L787.2 524.4L788.7 534.1L790.3 526.4L791.8 553.1L793.3 529.9L794.8 536.4L796.3 524.8L797.9 539.9L799.4 532.3L800.9 539.9L802.4 512.6L803.9 589.9L805.4 548.3L807.0 546.4L808.5 571.7L810.0 543.5L811.5 518.6L813.0 528.8L814.6 504.6L816.1 538.7L817.6 544.5L819.1 539.0L820.6 552.0L822.1 557.0L823.7 524.4L825.2 540.9L826.7 493.8L828.2 553.0L829.7 536.9L831.3 554.3L832.8 519.0L834.3 535.9L835.8 548.8L837.3 548.5L838.8 522.4L840.4 549.4L841.9 539.7L843.4 537.0L844.9 548.7L846.4 519.7L847.9 515.9L849.5 543.2L851.0 533.3L852.5 515.1L854.0 518.5L855.5 528.5L857.1 549.9L858.6 536.3L860.1 552.8L861.6 538.0L863.1 530.8L864.6 527.0L866.2 560.7L867.7 533.7L869.2 552.7L870.7 531.0L872.2 531.9L873.8 534.3L875.3 525.3L876.8 533.3L878.3 545.3L879.8 549.2" stroke="#ff2000"/><path d="M1571.8 528.8L1573.3 539.4L1574.8 533.4L1576.3 543.9L1577.9 569.6L1579.4 547.9L1580.9 545.9L1582.4 583.4L1583.9 540.1L1585.4 544.7L1586.9 543.6L1588.5 523.7L1590.0 530.6L1591.5 528.6L1593.0 536.8L1594.5 539.4L1596.0 545.6L1597.6 529.2L1599.1 545.9L1600.6 537.5L1602.1 534.9L1603.6 541.2L1605.1 531.9L1606.6 538.7L1608.2 536.1L1609.7 530.0L1611.2 532.5L1612.7 536.4L1614.2 536.0L1615.7 530.2L1617.3 528.6L1618.8 533.7L1620.3 555.5L1621.8 540.7L1623.3 531.7L1624.8 538.2L1626.3 538.7L1627.9 545.9L1629.4 539.9L1630.9 531.9L1632.4 532.9L1633.9 539.4L1635.4 530.8L1637.0 540.7L1638.5 531.9L1640.0 525.7L1641.5 540.2L1643.0 555.0L1644.5 531.7L1646.0 528.0L1647.6 532.6L1649.1 544.1L1650.6 533.6L1652.1 542.1L1653.6 524.4L1655.1 509.7L1656.6 536.2L1658.2 530.5L1659.7 546.4L1661.2 533.8L1662.7 536.2L1664.2 533.2L1665.7 536.7L1667.3 543.2L1668.8 530.5L1670.3 540.6L1671.8 530.3L1673.3 540.9L1674.8 531.7L1676.3 533.6L1677.9 537.7L1679.4 530.9L1680.9 531.7L1682.4 513.7L1683.9 532.3L1685.4 529.7L1687.0 544.8L1688.5 529.0L1690.0 536.5L1691.5 538.3L1693.0 552.7L1694.5 545.0L1696.0 536.8L1697.6 535.1L1699.1 535.1L1700.6 537.2L1702.1 534.7L1703.6 531.5L1705.1 542.0L1706.7 538.5L1708.2 521.0L1709.7 533.4L1711.2 539.8" stroke="#ff2000"/><path d="M567.4 534.0L568.9 544.0L570.5 547.1L572.0 538.9L573.5 534.9L575.0 538.0L576.5 501.8L578.0 515.5L579.5 536.1L581.0 539.0L582.5 541.1L584.0 517.9L585.6 536.7L587.1 530.5L588.6 528.7L590.1 527.3L591.6 532.8L593.1 519.4L594.6 531.4L596.1 534.9L597.6 567.8L599.1 539.9L600.6 540.1L602.2 510.3L603.7 554.0L605.2 532.4L606.7 538.4L608.2 561.6L609.7 534.2L611.2 520.8L612.7 550.0L614.2 507.6L615.7 548.0L617.3 540.6L618.8 541.6L620.3 527.9L621.8 536.6L623.3 536.0L624.8 527.9L626.3 527.3L627.8 537.6L629.3 531.7L630.8 523.3L632.4 524.0L633.9 545.5L635.4 535.5L636.9 550.4L638.4 515.6L639.9 534.3L641.4 551.6L642.9 540.4L644.4 532.2L645.9 529.5L647.5 537.6L649.0 549.0L650.5 545.1L652.0 527.9L653.5 503.2L655.0 533.1L656.5 534.4L658.0 534.8L659.5 541.4L661.0 548.1L662.6 531.0L664.1 530.6L665.6 532.2L667.1 543.3L668.6 529.0L670.1 546.0L671.6 524.6L673.1 538.0L674.6 529.5L676.1 542.9L677.7 537.2L679.2 543.5L680.7 534.9L682.2 587.4L683.7 525.6L685.2 534.5L686.7 529.8L688.2 537.5L689.7 531.6L691.2 543.0L692.8 562.6L694.3 540.3L695.8 550.3L697.3 528.9L698.8 547.8L700.3 544.1L701.8 561.5L703.3 531.4L704.8 508.9L706.3 539.5L707.9 526.1L709.4 528.9L710.9 534.3L712.4 552.2L713.9 544.8L715.4 525.0L716.9 526.2L718.4 515.4L719.9 554.2L721.4 528.5L723.0 550.2L724.5 544.0L726.0 546.2L727.5 543.8L729.0 527.9L730.5 522.2L732.0 533.9L733.5 547.4L735.0 523.0L736.5 532.2L738.1 578.5L739.6 522.4L741.1 534.2L742.6 528.2L744.1 552.6L745.6 540.4L747.1 531.5L748.6 550.7L750.1 534.9L751.6 510.8L753.2 523.1L754.7 537.6L756.2 539.4L757.7 539.4L759.2 521.4L760.7 532.8" stroke="#bf0000"/><path d="M1445.1 555.8L1446.6 536.4L1448.1 559.7L1449.6 537.5L1451.1 547.4L1452.6 538.0L1454.1 571.7L1455.6 554.8L1457.2 536.5L1458.7 527.5L1460.2 600.4L1461.7 528.5L1463.2 452.8L1464.7 540.8L1466.2 578.9L1467.7 567.1L1469.3 563.8L1470.8 547.3L1472.3 543.4L1473.8 530.1L1475.3 510.9L1476.8 583.6L1478.3 534.2L1479.8 515.1L1481.4 515.5L1482.9 533.9L1484.4 534.4L1485.9 557.0L1487.4 602.2L1488.9 525.1L1490.4 515.7L1491.9 520.1L1493.4 520.5L1495.0 511.2L1496.5 513.6L1498.0 541.7L1499.5 532.0L1501.0 570.7L1502.5 520.0L1504.0 533.4L1505.5 534.3L1507.1 520.6L1508.6 556.1L1510.1 529.7L1511.6 575.1L1513.1 466.7L1514.6 555.3L1516.1 543.6L1517.6 531.1L1519.2 485.1L1520.7 536.1L1522.2 550.7L1523.7 543.4L1525.2 532.4L1526.7 530.2L1528.2 574.5L1529.7 501.5L1531.3 545.1L1532.8 545.7L1534.3 538.0L1535.8 548.6L1537.3 548.7L1538.8 538.3L1540.3 561.2L1541.8 540.1L1543.4 548.8L1544.9 533.1L1546.4 546.1L1547.9 526.9L1549.4 527.1L1550.9 531.0L1552.4 533.9L1553.9 563.7L1555.4 532.2L1557.0 529.8L1558.5 535.0L1560.0 532.8L1561.5 532.6L1563.0 538.6L1564.5 553.4L1566.0 534.9L1567.5 534.5L1569.1 518.0L1570.6 523.5L1572.1 539.2L1573.6 540.7L1575.1 478.9L1576.6 536.5L1578.1 537.8L1579.6 544.5L1581.2 531.9L1582.7 558.7L1584.2 543.7L1585.7 538.5L1587.2 558.6L1588.7 530.2L1590.2 524.2L1591.7 532.9L1593.3 538.0L1594.8 546.5L1596.3 539.4L1597.8 530.3L1599.3 529.1L1600.8 533.3L1602.3 532.1L1603.8 532.3L1605.3 542.5L1606.9 537.8L1608.4 538.4L1609.9 533.3L1611.4 531.1L1612.9 535.8L1614.4 512.5L1615.9 536.6L1617.4 538.4L1619.0 538.5L1620.5 545.2L1622.0 532.9L1623.5 538.4L1625.0 533.2L1626.5 534.1L1628.0 530.1L1629.5 558.7L1631.1 537.8L1632.6 540.8L1634.1 534.7L1635.6 540.6L1637.1 551.0L1638.6 531.0L1640.1 542.5L1641.6 534.4L1643.2 541.1L1644.7 527.1L1646.2 538.3L1647.7 537.8L1649.2 540.9L1650.7 547.1L1652.2 526.5L1653.7 536.7L1655.3 528.1L1656.8 532.5L1658.3 541.7L1659.8 539.2L1661.3 533.1L1662.8 535.8L1664.3 548.7L1665.8 534.1L1667.3 531.4L1668.9 529.4L1670.4 526.7L1671.9 535.6L1673.4 538.0L1674.9 538.0L1676.4 550.3L1677.9 514.8L1679.4 526.8L1681.0 557.1L1682.5 535.2L1684.0 539.1L1685.5 537.5L1687.0 546.1L1688.5 536.9L1690.0 548.0L1691.5 532.8L1693.1 531.0L1694.6 529.3L1696.1 545.8L1697.6 543.1L1699.1 539.9L1700.6 515.6L1702.1 537.6L1703.6 512.4L1705.2 535.0L1706.7 527.2L1708.2 544.6L1709.7 545.9L1711.2 540.9" stroke="#bf0000"/><path d="M190.4 536.2L191.9 531.6L193.4 542.8L195.0 548.2L196.5 536.5L198.0 535.0L199.5 529.3L201.0 537.6L202.5 546.9L204.1 537.0L205.6 530.4L207.1 544.4L208.6 533.1L210.1 529.4L211.6 539.5L213.2 542.4L214.7 541.0L216.2 547.5L217.7 535.6L219.2 528.1L220.8 531.8L222.3 536.9L223.8 542.5L225.3 541.1L226.8 529.1L228.3 542.3L229.9 529.6L231.4 534.1L232.9 529.5L234.4 532.9L235.9 537.8L237.4 535.0L239.0 537.1L240.5 541.5L242.0 536.2L243.5 535.5L245.0 541.0L246.6 536.6L248.1 531.3L249.6 535.1L251.1 551.8L252.6 527.0L254.1 538.9L255.7 529.0L257.2 533.3L258.7 517.1L260.2 533.7L261.7 540.9L263.2 515.2L264.8 538.8L266.3 542.7L267.8 542.9L269.3 532.9L270.8 537.8L272.4 537.6L273.9 542.9L275.4 507.2L276.9 523.2L278.4 529.5L279.9 533.9L281.5 528.6L283.0 537.4L284.5 512.5L286.0 535.0L287.5 537.2L289.0 521.2L290.6 532.4L292.1 532.7L293.6 543.0L295.1 539.7L296.6 541.5L298.1 545.3L299.7 534.1L301.2 540.0L302.7 533.1L304.2 540.3L305.7 536.5L307.3 531.8L308.8 515.5L310.3 507.2L311.8 533.5L313.3 533.0L314.8 526.7L316.4 543.0L317.9 540.2L319.4 529.7L320.9 516.5L322.4 524.5L323.9 525.2L325.5 507.6L327.0 530.0L328.5 534.0L330.0 513.6L331.5 544.0L333.1 535.3L334.6 555.7L336.1 535.7L337.6 549.5L339.1 532.3L340.6 533.9L342.2 528.9L343.7 543.1L345.2 536.6L346.7 519.6L348.2 544.0L349.7 535.8L351.3 546.4L352.8 524.9L354.3 548.6L355.8 534.8L357.3 533.4L358.9 544.7L360.4 543.8L361.9 544.0L363.4 532.4L364.9 512.4L366.4 547.5L368.0 535.9L369.5 557.3L371.0 533.4" stroke="#9f0000"/><path d="M964.1 552.2L965.6 544.9L967.1 531.7L968.6 530.9L970.1 534.4L971.7 539.4L973.2 538.4L974.7 543.4L976.2 539.0L977.7 537.9L979.2 531.4L980.7 521.1L982.2 542.5L983.7 569.4L985.3 524.2L986.8 535.1L988.3 540.6L989.8 534.3L991.3 541.0L992.8 539.0L994.3 551.6L995.8 544.9L997.3 526.0L998.8 531.1L1000.4 537.8L1001.9 535.7L1003.4 531.9L1004.9 529.6L1006.4 541.4L1007.9 537.9L1009.4 535.1L1010.9 521.4L1012.4 538.4L1013.9 528.8L1015.5 532.1L1017.0 535.7L1018.5 531.5L1020.0 525.0L1021.5 539.6L1023.0 535.1L1024.5 534.7L1026.0 518.3L1027.5 541.8L1029.1 543.3L1030.6 540.4L1032.1 539.0L1033.6 534.8L1035.1 538.9L1036.6 536.2L1038.1 535.7L1039.6 536.5L1041.1 533.0L1042.6 532.9L1044.2 538.3L1045.7 540.2L1047.2 534.8L1048.7 537.6L1050.2 534.2L1051.7 535.8L1053.2 537.3L1054.7 536.7L1056.2 539.2L1057.7 534.7L1059.3 537.5L1060.8 542.6L1062.3 536.6L1063.8 518.3L1065.3 532.0L1066.8 537.7L1068.3 545.4L1069.8 533.4L1071.3 538.8L1072.9 531.9L1074.4 542.2L1075.9 532.1L1077.4 518.3L1078.9 536.5L1080.4 533.4L1081.9 528.3L1083.4 518.3L1084.9 527.6L1086.4 538.0L1088.0 531.2L1089.5 531.9L1091.0 534.3L1092.5 533.6L1094.0 544.7L1095.5 538.0L1097.0 535.6L1098.5 539.5L1100.0 534.0L1101.5 534.6L1103.1 520.2L1104.6 538.6L1106.1 530.8L1107.6 533.8L1109.1 534.1L1110.6 535.0L1112.1 534.9L1113.6 537.2L1115.1 538.0L1116.7 522.1L1118.2 542.2L1119.7 531.8L1121.2 533.7L1122.7 533.7L1124.2 528.1L1125.7 533.9L1127.2 532.3L1128.7 529.5L1130.2 534.8L1131.8 527.3L1133.3 527.9L1134.8 534.7L1136.3 522.6L1137.8 540.3L1139.3 525.7L1140.8 533.2L1142.3 544.0L1143.8 534.2L1145.3 520.9L1146.9 540.8L1148.4 543.2L1149.9 534.6L1151.4 538.3L1152.9 541.0L1154.4 531.0L1155.9 540.9L1157.4 529.9L1158.9 527.1L1160.5 532.2L1162.0 533.1L1163.5 541.3L1165.0 525.5L1166.5 536.1L1168.0 522.6L1169.5 538.1L1171.0 531.3L1172.5 543.2L1174.0 532.2L1175.6 560.0L1177.1 534.0L1178.6 523.0L1180.1 518.1L1181.6 558.6L1183.1 528.3L1184.6 542.8L1186.1 536.8L1187.6 538.4L1189.1 537.4L1190.7 535.1L1192.2 551.2L1193.7 527.7L1195.2 535.7L1196.7 542.1L1198.2 532.9L1199.7 525.1L1201.2 542.0L1202.7 520.8L1204.3 535.6L1205.8 534.4L1207.3 545.1L1208.8 534.7L1210.3 530.8L1211.8 545.7L1213.3 540.4L1214.8 538.7L1216.3 539.2L1217.8 568.8L1219.4 539.3L1220.9 543.3L1222.4 532.8L1223.9 535.5L1225.4 532.1L1226.9 527.8L1228.4 538.7L1229.9 555.5L1231.4 530.6L1232.9 538.3L1234.5 547.7L1236.0 524.3L1237.5 545.5L1239.0 518.4L1240.5 526.1L1242.0 537.7L1243.5 547.2L1245.0 532.8L1246.5 540.9L1248.1 549.0L1249.6 527.8L1251.1 524.4L1252.6 544.4L1254.1 530.5L1255.6 534.0L1257.1 535.5L1258.6 520.2L1260.1 538.2L1261.6 537.3L1263.2 534.2L1264.7 533.0L1266.2 551.8L1267.7 527.1L1269.2 532.3L1270.7 531.7L1272.2 536.4L1273.7 538.6L1275.2 533.6" stroke="#9f0000"/><path d="M1357.0 535.5L1357.6 676.2L1358.2 394.8" stroke="#ff8000"/><path d="M1521.1 520.0L1523.2 547.3L1525.2 517.5L1527.3 496.3L1529.3 489.9L1531.4 541.8L1533.5 529.9L1535.5 549.4L1537.6 500.4L1539.6 525.1L1541.7 477.2L1543.8 547.1L1545.8 538.2L1547.9 598.4L1549.9 552.2L1552.0 550.8L1554.1 527.1L1556.1 516.4L1558.2 554.2L1560.2 539.9L1562.3 513.6L1564.3 538.9L1566.4 523.1L1568.5 472.5L1570.5 550.5L1572.6 530.7L1574.6 512.6L1576.7 535.3L1578.8 472.5L1580.8 543.8L1582.9 513.2L1584.9 527.4L1587.0 524.0L1589.1 550.8L1591.1 513.6L1593.2 586.2L1595.2 514.0L1597.3 536.1L1599.4 530.8L1601.4 508.5L1603.5 565.5" stroke="#ff2000"/><path d="M1682.7 625.2L1684.9 559.3L1687.1 545.5L1689.3 555.9L1691.5 533.8L1693.7 459.1L1695.8 581.0L1698.0 557.3L1700.2 532.7L1702.4 574.4L1704.6 566.4L1706.8 522.2L1709.0 519.4L1711.2 527.5" stroke="#ffdf00"/><path d="M211.5 541.9L212.6 581.7L213.7 538.9" stroke="#009fff"/><path d="M236.8 546.0L237.9 582.4L239.0 547.5" stroke="#ff8000"/><path d="M343.3 520.6L344.4 473.3L345.5 529.7" stroke="#0000bf"/><path d="M350.9 535.5L352.0 489.3L353.1 525.1" stroke="#ff6000"/><path d="M355.3 536.1L356.4 603.5L357.5 539.7" stroke="#ff6000"/><path d="M377.5 534.6L378.6 493.3L379.7 529.3" stroke="#ff4000"/><path d="M382.6 537.7L383.7 580.1L384.8 539.0" stroke="#9f0000"/><path d="M439.0 520.5L440.1 475.2L441.2 525.4" stroke="#0000bf"/><path d="M439.6 544.9L440.7 577.7L441.8 545.3" stroke="#0000bf"/><path d="M544.1 525.4L545.3 467.5L546.4 515.7" stroke="#00ffff"/><path d="M559.4 509.9L560.5 404.2L561.6 534.3" stroke="#00ffff"/><path d="M560.6 540.9L561.7 589.4L562.8 540.9" stroke="#00ffff"/><path d="M551.7 530.4L552.9 498.0L554.0 530.0" stroke="#bf0000"/><path d="M554.3 545.8L555.4 597.9L556.5 550.8" stroke="#bf0000"/><path d="M604.3 531.0L605.5 472.2L606.6 522.0" stroke="#0020ff"/><path d="M605.6 542.4L606.7 595.8L607.8 541.3" stroke="#0020ff"/><path d="M618.3 532.6L619.4 479.2L620.5 522.8" stroke="#0020ff"/><path d="M600.5 538.8L601.6 577.7L602.8 540.5" stroke="#bf0000"/><path d="M669.0 528.8L670.1 479.2L671.2 534.3" stroke="#00ffff"/><path d="M672.8 534.9L673.9 498.0L675.0 535.1" stroke="#ff2000"/><path d="M678.5 542.6L679.6 594.1L680.7 543.2" stroke="#ff2000"/><path d="M710.8 524.9L711.9 477.3L713.0 522.4" stroke="#ff2000"/><path d="M731.1 524.4L732.2 451.1L733.3 511.4" stroke="#00ffff"/><path d="M732.3 516.8L733.5 460.4L734.6 531.2" stroke="#ff2000"/><path d="M733.0 536.9L734.1 582.4L735.2 543.8" stroke="#00ffff"/><path d="M642.4 536.1L643.5 582.4L644.6 535.8" stroke="#ff2000"/><path d="M805.2 538.6L806.3 601.9L807.4 536.1" stroke="#dfff20"/><path d="M803.9 527.6L805.1 500.3L806.2 528.4" stroke="#dfff20"/><path d="M829.3 541.2L830.4 594.1L831.5 545.6" stroke="#009fff"/><path d="M871.8 537.5L872.9 582.4L874.0 543.4" stroke="#ffdf00"/><path d="M881.9 528.8L883.0 483.9L884.1 522.5" stroke="#0000ff"/><path d="M905.3 547.5L906.4 619.9L907.6 552.6" stroke="#0000bf"/><path d="M911.7 549.9L912.8 650.0L913.9 550.9" stroke="#0000ff"/><path d="M910.4 533.8L911.5 476.9L912.6 530.6" stroke="#ffdf00"/><path d="M921.2 522.9L922.3 476.9L923.4 519.7" stroke="#0000ff"/><path d="M924.3 545.9L925.5 577.7L926.6 542.9" stroke="#0000ff"/><path d="M966.8 527.0L967.9 486.2L969.0 521.7" stroke="#0000ff"/><path d="M968.7 539.9L969.8 573.0L970.9 538.6" stroke="#9f0000"/><path d="M1075.2 538.8L1076.3 585.7L1077.4 543.5" stroke="#ff8000"/><path d="M1129.7 530.4L1130.8 463.3L1131.9 535.1" stroke="#0000bf"/><path d="M1130.9 542.4L1132.0 587.1L1133.1 544.9" stroke="#9f0000"/><path d="M1187.9 522.7L1189.1 479.2L1190.2 533.7" stroke="#0020ff"/><path d="M1176.5 536.4L1177.7 587.1L1178.8 549.6" stroke="#0000bf"/><path d="M1208.2 524.8L1209.3 483.9L1210.4 522.3" stroke="#00bfff"/><path d="M1215.8 538.3L1216.9 575.4L1218.0 545.1" stroke="#ff6000"/><path d="M1304.5 534.1L1305.7 495.6L1306.8 529.7" stroke="#00ffff"/><path d="M1375.5 514.4L1376.6 404.2L1377.7 515.5" stroke="#00ffff"/><path d="M1348.9 518.3L1350.0 453.4L1351.1 526.1" stroke="#ff8000"/><path d="M1352.1 540.1L1353.2 617.6L1354.3 537.2" stroke="#00ffff"/><path d="M1367.9 554.3L1369.0 629.3L1370.1 562.2" stroke="#00ffff"/><path d="M1380.6 515.3L1381.7 430.0L1382.8 528.3" stroke="#00ffff"/><path d="M1399.6 525.0L1400.7 453.4L1401.8 528.7" stroke="#00bfff"/><path d="M1396.4 537.8L1397.5 619.9L1398.6 542.1" stroke="#ff8000"/><path d="M1412.3 549.9L1413.4 617.6L1414.5 559.7" stroke="#0040ff"/><path d="M1455.4 542.3L1456.5 635.9L1457.6 545.5" stroke="#00bfff"/><path d="M1471.2 547.1L1472.3 636.4L1473.4 535.9" stroke="#0000ff"/><path d="M1450.3 535.5L1451.4 455.8L1452.5 533.3" stroke="#0000bf"/><path d="M1513.0 510.1L1514.1 420.6L1515.2 511.6" stroke="#00ffff"/><path d="M1494.6 547.9L1495.8 610.6L1496.9 545.3" stroke="#00dfff"/><path d="M1485.1 516.3L1486.2 448.7L1487.4 522.7" stroke="#ff6000"/><path d="M1463.0 515.6L1464.1 453.4L1465.2 528.1" stroke="#00bfff"/><path d="M1504.1 546.6L1505.3 605.9L1506.4 535.8" stroke="#00ffff"/><path d="M1555.5 535.1L1556.6 459.3L1557.7 516.1" stroke="#bf0000"/><path d="M1558.0 537.3L1559.1 589.4L1560.2 538.0" stroke="#ff2000"/><path d="M1585.3 524.6L1586.4 483.9L1587.5 531.4" stroke="#ff2000"/><path d="M1570.7 546.5L1571.8 582.4L1572.9 548.3" stroke="#bf0000"/><path d="M1608.7 532.7L1609.8 505.0L1610.9 530.1" stroke="#ff2000"/><path d="M1648.0 530.6L1649.1 441.7L1650.2 511.3" stroke="#dfff20"/><path d="M1673.3 523.8L1674.4 425.3L1675.6 530.9" stroke="#dfff20"/><path d="M1677.1 557.1L1678.2 639.9L1679.4 558.2" stroke="#dfff20"/><path d="M1697.4 523.7L1698.5 422.9L1699.6 512.0" stroke="#dfff20"/><path d="M1684.7 541.0L1685.9 594.1L1687.0 550.6" stroke="#dfff20"/><path d="M1659.4 541.1L1660.5 582.4L1661.6 541.9" stroke="#dfff20"/></g></g>
<text transform="translate(179.4,640.9) scale(1,1.05)" text-anchor="end" class="tl">-4</text>
<text transform="translate(179.4,594.0) scale(1,1.05)" text-anchor="end" class="tl">-2</text>
<text transform="translate(179.4,547.1) scale(1,1.05)" text-anchor="end" class="tl">0</text>
<text transform="translate(179.4,500.2) scale(1,1.05)" text-anchor="end" class="tl">2</text>
<text transform="translate(179.4,453.3) scale(1,1.05)" text-anchor="end" class="tl">4</text>
<clipPath id="c2"><rect x="190.4" y="672.7" width="1520.8" height="258.0"/></clipPath>
<path d="M253.77 672.7V930.7M317.13 672.7V930.7M380.50 672.7V930.7M443.87 672.7V930.7M507.23 672.7V930.7M570.60 672.7V930.7M633.97 672.7V930.7M697.33 672.7V930.7M760.70 672.7V930.7M824.07 672.7V930.7M887.43 672.7V930.7M950.80 672.7V930.7M1014.17 672.7V930.7M1077.53 672.7V930.7M1140.90 672.7V930.7M1204.27 672.7V930.7M1267.63 672.7V930.7M1331.00 672.7V930.7M1394.37 672.7V930.7M1457.73 672.7V930.7M1521.10 672.7V930.7M1584.47 672.7V930.7M1647.83 672.7V930.7" stroke="#262626" stroke-opacity="0.15" stroke-width="4" fill="none"/>
<path d="M190.4 887.70H1711.2M190.4 844.70H1711.2M190.4 758.70H1711.2" stroke="#262626" stroke-opacity="0.15" stroke-width="4" fill="none"/>
<path d="M190.40 672.7v17.0M190.40 930.7v-17.0M200.96 672.7v9.0M200.96 930.7v-9.0M211.52 672.7v9.0M211.52 930.7v-9.0M222.08 672.7v9.0M222.08 930.7v-9.0M232.64 672.7v9.0M232.64 930.7v-9.0M243.21 672.7v9.0M243.21 930.7v-9.0M253.77 672.7v17.0M253.77 930.7v-17.0M264.33 672.7v9.0M264.33 930.7v-9.0M274.89 672.7v9.0M274.89 930.7v-9.0M285.45 672.7v9.0M285.45 930.7v-9.0M296.01 672.7v9.0M296.01 930.7v-9.0M306.57 672.7v9.0M306.57 930.7v-9.0M317.13 672.7v17.0M317.13 930.7v-17.0M327.69 672.7v9.0M327.69 930.7v-9.0M338.26 672.7v9.0M338.26 930.7v-9.0M348.82 672.7v9.0M348.82 930.7v-9.0M359.38 672.7v9.0M359.38 930.7v-9.0M369.94 672.7v9.0M369.94 930.7v-9.0M380.50 672.7v17.0M380.50 930.7v-17.0M391.06 672.7v9.0M391.06 930.7v-9.0M401.62 672.7v9.0M401.62 930.7v-9.0M412.18 672.7v9.0M412.18 930.7v-9.0M422.74 672.7v9.0M422.74 930.7v-9.0M433.31 672.7v9.0M433.31 930.7v-9.0M443.87 672.7v17.0M443.87 930.7v-17.0M454.43 672.7v9.0M454.43 930.7v-9.0M464.99 672.7v9.0M464.99 930.7v-9.0M475.55 672.7v9.0M475.55 930.7v-9.0M486.11 672.7v9.0M486.11 930.7v-9.0M496.67 672.7v9.0M496.67 930.7v-9.0M507.23 672.7v17.0M507.23 930.7v-17.0M517.79 672.7v9.0M517.79 930.7v-9.0M528.36 672.7v9.0M528.36 930.7v-9.0M538.92 672.7v9.0M538.92 930.7v-9.0M549.48 672.7v9.0M549.48 930.7v-9.0M560.04 672.7v9.0M560.04 930.7v-9.0M570.60 672.7v17.0M570.60 930.7v-17.0M581.16 672.7v9.0M581.16 930.7v-9.0M591.72 672.7v9.0M591.72 930.7v-9.0M602.28 672.7v9.0M602.28 930.7v-9.0M612.84 672.7v9.0M612.84 930.7v-9.0M623.41 672.7v9.0M623.41 930.7v-9.0M633.97 672.7v17.0M633.97 930.7v-17.0M644.53 672.7v9.0M644.53 930.7v-9.0M655.09 672.7v9.0M655.09 930.7v-9.0M665.65 672.7v9.0M665.65 930.7v-9.0M676.21 672.7v9.0M676.21 930.7v-9.0M686.77 672.7v9.0M686.77 930.7v-9.0M697.33 672.7v17.0M697.33 930.7v-17.0M707.89 672.7v9.0M707.89 930.7v-9.0M718.46 672.7v9.0M718.46 930.7v-9.0M729.02 672.7v9.0M729.02 930.7v-9.0M739.58 672.7v9.0M739.58 930.7v-9.0M750.14 672.7v9.0M750.14 930.7v-9.0M760.70 672.7v17.0M760.70 930.7v-17.0M771.26 672.7v9.0M771.26 930.7v-9.0M781.82 672.7v9.0M781.82 930.7v-9.0M792.38 672.7v9.0M792.38 930.7v-9.0M802.94 672.7v9.0M802.94 930.7v-9.0M813.51 672.7v9.0M813.51 930.7v-9.0M824.07 672.7v17.0M824.07 930.7v-17.0M834.63 672.7v9.0M834.63 930.7v-9.0M845.19 672.7v9.0M845.19 930.7v-9.0M855.75 672.7v9.0M855.75 930.7v-9.0M866.31 672.7v9.0M866.31 930.7v-9.0M876.87 672.7v9.0M876.87 930.7v-9.0M887.43 672.7v17.0M887.43 930.7v-17.0M897.99 672.7v9.0M897.99 930.7v-9.0M908.56 672.7v9.0M908.56 930.7v-9.0M919.12 672.7v9.0M919.12 930.7v-9.0M929.68 672.7v9.0M929.68 930.7v-9.0M940.24 672.7v9.0M940.24 930.7v-9.0M950.80 672.7v17.0M950.80 930.7v-17.0M961.36 672.7v9.0M961.36 930.7v-9.0M971.92 672.7v9.0M971.92 930.7v-9.0M982.48 672.7v9.0M982.48 930.7v-9.0M993.04 672.7v9.0M993.04 930.7v-9.0M1003.61 672.7v9.0M1003.61 930.7v-9.0M1014.17 672.7v17.0M1014.17 930.7v-17.0M1024.73 672.7v9.0M1024.73 930.7v-9.0M1035.29 672.7v9.0M1035.29 930.7v-9.0M1045.85 672.7v9.0M1045.85 930.7v-9.0M1056.41 672.7v9.0M1056.41 930.7v-9.0M1066.97 672.7v9.0M1066.97 930.7v-9.0M1077.53 672.7v17.0M1077.53 930.7v-17.0M1088.09 672.7v9.0M1088.09 930.7v-9.0M1098.66 672.7v9.0M1098.66 930.7v-9.0M1109.22 672.7v9.0M1109.22 930.7v-9.0M1119.78 672.7v9.0M1119.78 930.7v-9.0M1130.34 672.7v9.0M1130.34 930.7v-9.0M1140.90 672.7v17.0M1140.90 930.7v-17.0M1151.46 672.7v9.0M1151.46 930.7v-9.0M1162.02 672.7v9.0M1162.02 930.7v-9.0M1172.58 672.7v9.0M1172.58 930.7v-9.0M1183.14 672.7v9.0M1183.14 930.7v-9.0M1193.71 672.7v9.0M1193.71 930.7v-9.0M1204.27 672.7v17.0M1204.27 930.7v-17.0M1214.83 672.7v9.0M1214.83 930.7v-9.0M1225.39 672.7v9.0M1225.39 930.7v-9.0M1235.95 672.7v9.0M1235.95 930.7v-9.0M1246.51 672.7v9.0M1246.51 930.7v-9.0M1257.07 672.7v9.0M1257.07 930.7v-9.0M1267.63 672.7v17.0M1267.63 930.7v-17.0M1278.19 672.7v9.0M1278.19 930.7v-9.0M1288.76 672.7v9.0M1288.76 930.7v-9.0M1299.32 672.7v9.0M1299.32 930.7v-9.0M1309.88 672.7v9.0M1309.88 930.7v-9.0M1320.44 672.7v9.0M1320.44 930.7v-9.0M1331.00 672.7v17.0M1331.00 930.7v-17.0M1341.56 672.7v9.0M1341.56 930.7v-9.0M1352.12 672.7v9.0M1352.12 930.7v-9.0M1362.68 672.7v9.0M1362.68 930.7v-9.0M1373.24 672.7v9.0M1373.24 930.7v-9.0M1383.81 672.7v9.0M1383.81 930.7v-9.0M1394.37 672.7v17.0M1394.37 930.7v-17.0M1404.93 672.7v9.0M1404.93 930.7v-9.0M1415.49 672.7v9.0M1415.49 930.7v-9.0M1426.05 672.7v9.0M1426.05 930.7v-9.0M1436.61 672.7v9.0M1436.61 930.7v-9.0M1447.17 672.7v9.0M1447.17 930.7v-9.0M1457.73 672.7v17.0M1457.73 930.7v-17.0M1468.29 672.7v9.0M1468.29 930.7v-9.0M1478.86 672.7v9.0M1478.86 930.7v-9.0M1489.42 672.7v9.0M1489.42 930.7v-9.0M1499.98 672.7v9.0M1499.98 930.7v-9.0M1510.54 672.7v9.0M1510.54 930.7v-9.0M1521.10 672.7v17.0M1521.10 930.7v-17.0M1531.66 672.7v9.0M1531.66 930.7v-9.0M1542.22 672.7v9.0M1542.22 930.7v-9.0M1552.78 672.7v9.0M1552.78 930.7v-9.0M1563.34 672.7v9.0M1563.34 930.7v-9.0M1573.91 672.7v9.0M1573.91 930.7v-9.0M1584.47 672.7v17.0M1584.47 930.7v-17.0M1595.03 672.7v9.0M1595.03 930.7v-9.0M1605.59 672.7v9.0M1605.59 930.7v-9.0M1616.15 672.7v9.0M1616.15 930.7v-9.0M1626.71 672.7v9.0M1626.71 930.7v-9.0M1637.27 672.7v9.0M1637.27 930.7v-9.0M1647.83 672.7v17.0M1647.83 930.7v-17.0M1658.39 672.7v9.0M1658.39 930.7v-9.0M1668.96 672.7v9.0M1668.96 930.7v-9.0M1679.52 672.7v9.0M1679.52 930.7v-9.0M1690.08 672.7v9.0M1690.08 930.7v-9.0M1700.64 672.7v9.0M1700.64 930.7v-9.0M1711.20 672.7v17.0M1711.20 930.7v-17.0M190.4 922.10h9.0M1711.2 922.10h-9.0M190.4 913.50h9.0M1711.2 913.50h-9.0M190.4 904.90h9.0M1711.2 904.90h-9.0M190.4 896.30h9.0M1711.2 896.30h-9.0M190.4 879.10h9.0M1711.2 879.10h-9.0M190.4 870.50h9.0M1711.2 870.50h-9.0M190.4 861.90h9.0M1711.2 861.90h-9.0M190.4 853.30h9.0M1711.2 853.30h-9.0M190.4 823.20h9.0M1711.2 823.20h-9.0M190.4 801.70h9.0M1711.2 801.70h-9.0M190.4 780.20h9.0M1711.2 780.20h-9.0M190.4 737.20h9.0M1711.2 737.20h-9.0M190.4 715.70h9.0M1711.2 715.70h-9.0M190.4 694.20h9.0M1711.2 694.20h-9.0M190.4 672.70h9.0M1711.2 672.70h-9.0" stroke="#262626" stroke-width="4" fill="none"/>
<path d="M190.4 930.70h17.0M1711.2 930.70h-17.0M190.4 887.70h17.0M1711.2 887.70h-17.0M190.4 844.70h17.0M1711.2 844.70h-17.0M190.4 758.70h17.0M1711.2 758.70h-17.0" stroke="#262626" stroke-width="4" fill="none"/>
<rect x="190.4" y="672.7" width="1520.8" height="258.0" stroke="#262626" stroke-width="4" fill="none"/>
<g clip-path="url(#c2)"><g fill="none" stroke-width="2.2" stroke-linejoin="round"><path d="M1315.2 914.5L1316.7 915.1L1318.3 909.0L1319.9 910.3L1321.5 912.9L1323.1 915.5L1324.7 915.0L1326.2 917.0L1327.8 915.1L1329.4 913.8L1331.0 915.0" stroke="#00009f"/><path d="M230.3 914.8L232.0 915.2L233.6 913.4L235.3 914.7L236.9 914.3L238.6 917.9L240.2 910.8L241.9 909.2L243.5 913.1L245.1 912.5L246.8 915.9L248.4 912.1L250.1 915.3L251.7 916.7L253.4 913.5L255.0 914.1L256.7 914.1L258.3 911.4L260.0 912.9L261.6 914.2L263.3 913.0" stroke="#0000bf"/><path d="M469.2 920.8L470.8 919.8L472.4 920.2L474.0 914.8L475.5 920.6L477.1 919.5L478.7 915.3L480.3 920.4L481.9 921.0L483.5 918.2L485.1 916.1L486.6 918.2L488.2 917.8L489.8 921.0L491.4 920.5L493.0 921.7L494.6 917.3L496.1 918.8L497.7 919.3L499.3 919.8L500.9 920.4L502.5 923.0L504.1 920.0L505.6 917.3L507.2 921.0L508.8 919.8L510.4 919.7L512.0 921.7L513.6 922.3L515.2 918.8L516.7 914.5L518.3 919.4L519.9 918.4L521.5 921.3L523.1 923.6L524.7 921.6L526.2 918.1L527.8 918.8L529.4 912.9L531.0 917.0L532.6 919.1L534.2 921.2L535.7 920.4L537.3 922.2L538.9 921.9L540.5 921.2L542.1 923.9L543.7 922.8L545.3 922.5L546.8 921.7L548.4 920.3L550.0 917.6L551.6 919.1L553.2 921.7L554.8 919.7L556.3 918.3L557.9 917.7L559.5 922.1L561.1 919.8L562.7 920.8L564.3 919.4L565.8 920.8L567.4 923.7L569.0 918.2L570.6 919.0L572.2 916.2L573.8 918.4L575.4 922.1L576.9 921.2L578.5 920.8L580.1 918.1L581.7 921.0L583.3 920.1L584.9 918.1L586.4 922.4L588.0 919.0L589.6 919.9L591.2 917.6L592.8 920.3L594.4 917.3L595.9 923.5L597.5 916.9L599.1 917.4" stroke="#0000bf"/><path d="M896.9 923.8L898.6 917.8L900.2 919.8L901.9 918.6L903.6 919.5L905.2 918.3L906.9 918.9L908.5 918.2L910.2 919.3L911.8 921.1L913.5 918.3L915.1 919.1L916.8 919.2L918.4 919.3L920.1 921.6L921.7 920.8L923.4 920.7L925.0 917.9L926.7 918.4L928.3 918.9L930.0 921.1L931.7 920.5L933.3 922.1L935.0 917.8" stroke="#0000bf"/><path d="M1057.3 916.2L1058.9 915.8L1060.5 915.0L1062.1 918.8L1063.7 913.4L1065.3 913.6L1066.9 917.4L1068.6 916.2L1070.2 917.6L1071.8 910.2L1073.4 916.4L1075.0 914.4L1076.6 916.3L1078.2 913.7L1079.9 916.3L1081.5 915.7L1083.1 915.7L1084.7 912.8L1086.3 916.4L1087.9 915.7L1089.5 909.2L1091.2 913.2L1092.8 914.9L1094.4 912.9L1096.0 918.4L1097.6 917.4L1099.2 914.6L1100.8 917.4L1102.5 914.4L1104.1 915.1L1105.7 914.9L1107.3 911.7L1108.9 915.9L1110.5 917.7L1112.1 913.0L1113.8 914.6L1115.4 912.3L1117.0 910.0L1118.6 917.7L1120.2 914.9L1121.8 915.9L1123.4 917.0L1125.1 911.1" stroke="#0000bf"/><path d="M1369.0 924.0L1370.6 922.3L1372.2 923.5L1373.8 922.3L1375.4 919.3L1377.0 921.0L1378.7 917.0L1380.3 919.9L1381.9 919.1L1383.5 923.0L1385.1 917.9L1386.7 923.3L1388.3 919.1L1389.9 917.5L1391.5 920.5L1393.1 917.2L1394.7 920.5L1396.3 916.0L1397.9 922.2L1399.5 914.4L1401.1 923.4L1402.7 918.5L1404.3 922.1L1405.9 921.4L1407.5 920.7L1409.2 919.4L1410.8 917.3L1412.4 922.7L1414.0 920.2L1415.6 919.8L1417.2 920.6L1418.8 920.9L1420.4 916.2L1422.0 918.9L1423.6 921.1L1425.2 918.6L1426.8 920.8L1428.4 923.3L1430.0 923.6L1431.6 922.2L1433.2 922.3L1434.8 920.1L1436.4 919.5L1438.0 920.8L1439.7 919.7L1441.3 917.6L1442.9 919.8L1444.5 920.1L1446.1 916.3L1447.7 920.2L1449.3 919.9L1450.9 921.4L1452.5 922.2L1454.1 920.8L1455.7 919.5L1457.3 924.2L1458.9 918.4L1460.5 916.9L1462.1 917.0L1463.7 919.2L1465.3 919.7L1466.9 920.3L1468.5 913.3L1470.2 919.1L1471.8 917.2L1473.4 921.5L1475.0 921.2L1476.6 922.5L1478.2 919.4L1479.8 916.4L1481.4 913.5L1483.0 920.5L1484.6 921.8L1486.2 922.6L1487.8 919.8L1489.4 922.0" stroke="#0000bf"/><path d="M190.4 913.4L192.0 917.4L193.6 915.6L195.2 914.4L196.7 914.5L198.3 911.9L199.9 914.2L201.5 916.6L203.1 912.1L204.7 915.0L206.2 914.0L207.8 913.5L209.4 917.3L211.0 915.1L212.6 916.5L214.2 915.3L215.7 911.6L217.3 916.1L218.9 916.0L220.5 917.5L222.1 913.5L223.7 917.5L225.3 916.1L226.8 917.3L228.4 912.4L230.0 916.9L231.6 915.2L233.2 913.5L234.8 912.6L236.3 915.4L237.9 912.0L239.5 911.2L241.1 914.8L242.7 915.7L244.3 912.4L245.8 916.2L247.4 915.2L249.0 911.8L250.6 912.2L252.2 912.7L253.8 914.3L255.4 914.9L256.9 912.9L258.5 916.1L260.1 915.5L261.7 912.1L263.3 911.6L264.9 915.0L266.4 917.9L268.0 915.2L269.6 910.3L271.2 913.4L272.8 912.3L274.4 915.8L275.9 918.5L277.5 916.9L279.1 915.9L280.7 917.3L282.3 917.6L283.9 916.0L285.4 917.4L287.0 910.7L288.6 913.7L290.2 911.2L291.8 914.9L293.4 912.5L295.0 914.2L296.5 917.5L298.1 913.7L299.7 916.7L301.3 913.8L302.9 915.1L304.5 914.3L306.0 914.0L307.6 908.3L309.2 917.2L310.8 912.9L312.4 911.1L314.0 915.0L315.5 916.4L317.1 912.2L318.7 911.1L320.3 915.1L321.9 915.9L323.5 910.1L325.1 914.1L326.6 910.2L328.2 909.4L329.8 915.5L331.4 911.7L333.0 916.2L334.6 916.4L336.1 917.9L337.7 915.9L339.3 914.0L340.9 912.9L342.5 918.7L344.1 908.8L345.6 915.7L347.2 917.7L348.8 915.5L350.4 913.6L352.0 909.7L353.6 911.7L355.2 912.8L356.7 915.2L358.3 913.0L359.9 916.1L361.5 912.3" stroke="#0000df"/><path d="M190.4 918.9L192.0 914.7L193.6 915.4L195.2 920.6L196.7 923.0L198.3 921.6L199.9 910.7L201.5 913.6L203.1 918.7L204.7 918.7L206.2 917.9L207.8 921.8L209.4 920.8L211.0 913.9L212.6 915.8L214.2 921.4L215.7 916.5L217.3 923.2L218.9 920.3L220.5 916.7L222.1 916.9L223.7 915.2L225.3 919.3L226.8 919.5L228.4 920.5L230.0 921.9L231.6 920.0L233.2 915.9L234.8 921.4L236.3 919.9L237.9 921.8L239.5 914.4L241.1 918.3L242.7 920.2L244.3 920.2L245.8 921.4L247.4 917.0L249.0 924.2L250.6 916.9" stroke="#0000ff"/><path d="M725.8 915.9L727.4 912.9L729.0 914.9L730.6 912.4L732.2 915.0L733.8 913.4L735.4 912.4L736.9 913.1L738.5 914.0L740.1 915.6L741.7 914.0L743.3 913.2L744.9 917.0L746.4 916.5L748.0 914.8L749.6 915.6L751.2 916.6L752.8 913.0L754.4 911.6L755.9 910.8L757.5 912.0L759.1 913.5L760.7 914.2L762.3 914.4L763.9 915.8L765.5 910.7L767.0 913.5L768.6 910.9L770.2 910.7L771.8 915.1L773.4 914.3L775.0 914.8L776.5 916.1L778.1 914.4L779.7 917.8L781.3 915.2L782.9 914.7L784.5 914.0L786.0 912.4L787.6 911.8L789.2 916.6L790.8 911.4L792.4 914.3L794.0 911.5L795.6 907.8L797.1 915.8L798.7 911.7L800.3 914.4L801.9 916.9L803.5 912.4L805.1 912.7L806.6 910.8L808.2 916.8L809.8 913.7L811.4 907.7L813.0 910.3L814.6 915.7L816.1 915.1L817.7 915.4L819.3 917.1L820.9 915.7L822.5 911.3L824.1 914.6L825.7 915.9L827.2 917.0L828.8 905.1L830.4 913.7L832.0 913.4L833.6 910.0L835.2 904.7L836.7 909.8L838.3 914.0L839.9 912.7L841.5 914.6L843.1 910.7L844.7 914.7L846.2 914.1L847.8 912.7L849.4 915.1L851.0 913.1L852.6 915.4L854.2 913.8L855.8 908.0L857.3 908.7L858.9 909.7L860.5 915.9L862.1 916.8L863.7 914.2L865.3 913.7L866.8 915.5L868.4 915.1L870.0 914.7L871.6 913.8L873.2 916.7L874.8 916.4L876.3 912.9L877.9 914.8L879.5 915.0L881.1 912.9L882.7 917.0L884.3 915.8L885.8 913.3L887.4 916.3L889.0 915.2L890.6 907.7L892.2 910.9L893.8 913.3L895.4 914.2L896.9 911.4L898.5 909.6L900.1 914.1L901.7 913.2L903.3 915.2L904.9 915.2L906.4 914.7L908.0 915.5L909.6 912.5L911.2 919.4L912.8 915.6L914.4 911.6L915.9 916.9L917.5 907.5L919.1 913.4L920.7 915.2L922.3 909.2L923.9 913.8L925.5 915.7L927.0 914.8L928.6 912.8L930.2 912.9L931.8 916.3L933.4 916.0L935.0 908.5L936.5 917.5L938.1 918.6L939.7 917.2L941.3 910.5L942.9 914.4L944.5 914.7L946.0 912.8L947.6 916.5L949.2 914.5L950.8 916.6L952.4 914.9L954.0 909.8L955.6 910.2L957.1 912.6L958.7 913.1L960.3 915.2L961.9 915.8L963.5 912.2L965.1 915.1L966.6 912.5L968.2 916.5L969.8 912.7L971.4 910.7L973.0 916.3L974.6 914.0L976.1 911.3L977.7 914.2L979.3 912.7L980.9 914.3L982.5 916.0L984.1 915.6L985.7 906.7L987.2 912.7L988.8 910.0L990.4 909.2L992.0 913.1L993.6 917.1L995.2 916.9L996.7 909.7L998.3 911.8L999.9 910.8L1001.5 912.9L1003.1 912.6L1004.7 911.6L1006.2 912.1L1007.8 908.7L1009.4 909.1L1011.0 911.2L1012.6 914.6L1014.2 916.4L1015.8 908.5L1017.3 911.0L1018.9 914.1L1020.5 914.9L1022.1 912.6L1023.7 917.2L1025.3 916.6L1026.8 912.3L1028.4 915.8L1030.0 913.1L1031.6 912.3L1033.2 916.2L1034.8 912.3L1036.3 909.9L1037.9 910.3L1039.5 916.3L1041.1 917.4L1042.7 911.9L1044.3 905.5L1045.8 913.4L1047.4 913.8L1049.0 913.4L1050.6 912.9L1052.2 913.3L1053.8 913.6L1055.4 911.8L1056.9 916.5L1058.5 917.1L1060.1 916.0L1061.7 910.1L1063.3 911.2L1064.9 913.2L1066.4 911.4L1068.0 916.7L1069.6 913.4L1071.2 915.4L1072.8 914.9L1074.4 911.1L1075.9 917.1L1077.5 914.1L1079.1 913.5L1080.7 913.7" stroke="#0000ff"/><path d="M1517.9 914.9L1519.5 913.8L1521.1 920.2L1522.7 916.3L1524.4 917.6L1526.0 919.0L1527.6 915.8L1529.2 918.2L1530.8 914.4L1532.4 915.9L1534.0 916.6L1535.6 916.4L1537.2 915.8L1538.8 917.7L1540.4 916.5L1542.0 919.0L1543.6 911.7L1545.2 916.0L1546.8 911.8L1548.4 917.5L1550.1 918.2L1551.7 912.9L1553.3 912.6L1554.9 912.4L1556.5 918.0L1558.1 919.6L1559.7 915.8L1561.3 915.2L1562.9 914.8L1564.5 916.7L1566.1 910.5L1567.7 912.2L1569.3 917.7L1570.9 919.1L1572.5 916.8L1574.1 919.5L1575.7 918.4L1577.4 919.4L1579.0 915.6L1580.6 912.8L1582.2 918.5L1583.8 919.6L1585.4 916.6L1587.0 915.5L1588.6 916.4L1590.2 916.2L1591.8 917.4L1593.4 915.8L1595.0 917.0L1596.6 918.1L1598.2 915.6L1599.8 915.4L1601.4 917.8L1603.1 920.0L1604.7 919.5L1606.3 917.7L1607.9 912.0L1609.5 918.8L1611.1 917.2" stroke="#0000ff"/><path d="M1125.1 911.8L1126.6 914.4L1128.2 908.9L1129.8 912.1L1131.4 913.4L1133.0 913.1L1134.6 913.4L1136.2 917.3L1137.8 914.4L1139.4 912.6L1141.0 915.2L1142.5 909.8L1144.1 911.4L1145.7 912.3L1147.3 915.8L1148.9 914.6L1150.5 914.6L1152.1 917.1L1153.7 915.1L1155.3 915.7L1156.9 913.5L1158.4 917.5L1160.0 917.8L1161.6 914.1L1163.2 914.9L1164.8 913.6L1166.4 913.2L1168.0 915.4L1169.6 910.0L1171.2 915.3L1172.7 914.0L1174.3 913.8L1175.9 915.4L1177.5 915.8L1179.1 914.8L1180.7 916.4L1182.3 914.4L1183.9 909.5L1185.5 914.2L1187.1 914.0L1188.6 914.3L1190.2 915.4L1191.8 915.1L1193.4 913.6L1195.0 912.4L1196.6 914.9L1198.2 912.8L1199.8 911.8L1201.4 912.2L1203.0 916.6L1204.5 917.6L1206.1 917.5L1207.7 915.6L1209.3 916.3L1210.9 914.7L1212.5 914.1L1214.1 915.6L1215.7 911.3L1217.3 914.4L1218.8 914.2L1220.4 916.4L1222.0 916.7L1223.6 914.6L1225.2 912.2L1226.8 915.3L1228.4 916.8L1230.0 916.7L1231.6 914.5L1233.2 913.7L1234.7 914.4L1236.3 913.9L1237.9 913.6L1239.5 917.7L1241.1 911.9L1242.7 917.8L1244.3 907.4L1245.9 914.1L1247.5 915.0L1249.0 915.1L1250.6 915.0L1252.2 914.8L1253.8 915.3L1255.4 910.7L1257.0 914.7L1258.6 911.4L1260.2 908.3L1261.8 911.4L1263.4 912.3L1264.9 916.3L1266.5 912.9L1268.1 911.5L1269.7 915.2L1271.3 913.5L1272.9 913.9L1274.5 915.1L1276.1 915.8L1277.7 916.6L1279.3 915.1L1280.8 918.2L1282.4 913.9L1284.0 913.4L1285.6 914.7L1287.2 912.7L1288.8 912.9L1290.4 917.0L1292.0 917.0L1293.6 915.4L1295.1 916.5L1296.7 916.3L1298.3 915.4L1299.9 912.9L1301.5 916.2L1303.1 913.0L1304.7 915.3L1306.3 910.1L1307.9 912.0L1309.5 911.1" stroke="#0020ff"/><path d="M1614.2 916.6L1615.8 919.6L1617.4 916.9L1619.0 913.1L1620.6 914.9L1622.2 915.5L1623.8 913.0L1625.4 917.4L1627.0 917.2L1628.6 916.6L1630.1 918.1L1631.7 914.0L1633.3 912.0L1634.9 913.9L1636.5 915.2L1638.1 917.0L1639.7 909.8L1641.3 916.5L1642.9 917.4L1644.4 918.3L1646.0 914.2L1647.6 915.4L1649.2 915.3L1650.8 917.5L1652.4 916.4L1654.0 917.4L1655.6 920.1L1657.2 918.1L1658.8 913.2L1660.3 917.9L1661.9 920.1L1663.5 916.1L1665.1 916.2L1666.7 916.4L1668.3 918.4L1669.9 920.2L1671.5 916.0L1673.1 919.2L1674.6 920.4L1676.2 912.2L1677.8 909.4L1679.4 908.9L1681.0 920.1L1682.6 917.5L1684.2 920.5L1685.8 916.9L1687.4 920.8L1688.9 918.7L1690.5 918.2L1692.1 913.5L1693.7 914.0L1695.3 919.3L1696.9 919.5L1698.5 917.7L1700.1 916.6L1701.7 922.6L1703.3 919.8L1704.8 914.6L1706.4 918.7L1708.0 916.1L1709.6 917.1L1711.2 908.6" stroke="#0020ff"/><path d="M1140.9 919.3L1142.5 915.7L1144.1 920.1L1145.7 919.1L1147.3 916.9L1148.9 917.6L1150.5 916.3L1152.0 913.1L1153.6 912.4L1155.2 915.3L1156.8 921.2L1158.4 917.7L1160.0 920.1L1161.6 918.6L1163.2 915.5L1164.8 914.1L1166.4 912.1L1168.0 917.6L1169.6 913.9L1171.1 920.5L1172.7 917.3L1174.3 917.9L1175.9 919.2L1177.5 916.7L1179.1 918.2L1180.7 916.9L1182.3 920.4L1183.9 917.3L1185.5 916.2L1187.1 916.6L1188.7 916.9L1190.2 915.6L1191.8 915.4L1193.4 916.0L1195.0 916.5L1196.6 916.9L1198.2 917.3L1199.8 914.6L1201.4 919.8L1203.0 917.2L1204.6 918.2L1206.2 912.7" stroke="#0040ff"/><path d="M1324.7 918.8L1326.2 917.1L1327.8 915.7L1329.4 918.2L1331.0 918.6L1332.6 918.8L1334.2 919.4L1335.8 916.1L1337.3 916.4L1338.9 918.4L1340.5 918.0L1342.1 916.3L1343.7 919.2L1345.3 914.6L1346.8 919.5L1348.4 918.7L1350.0 918.9L1351.6 919.0L1353.2 917.2L1354.8 918.4L1356.3 920.8L1357.9 921.4L1359.5 917.3L1361.1 915.5L1362.7 914.8L1364.3 915.7L1365.9 914.0L1367.4 921.2L1369.0 918.8L1370.6 916.8L1372.2 917.0L1373.8 912.1L1375.4 918.6L1376.9 918.8L1378.5 914.0L1380.1 914.9L1381.7 919.1L1383.3 917.9L1384.9 914.1L1386.4 915.6L1388.0 921.0L1389.6 917.6L1391.2 916.5L1392.8 912.6L1394.4 916.4L1396.0 916.0L1397.5 918.1L1399.1 913.5L1400.7 914.3L1402.3 915.7L1403.9 918.9L1405.5 918.1L1407.0 916.4L1408.6 915.7L1410.2 917.5L1411.8 915.7L1413.4 917.3L1415.0 917.4L1416.5 917.0L1418.1 915.2L1419.7 916.6L1421.3 916.5L1422.9 915.8L1424.5 915.7L1426.0 920.4L1427.6 917.0L1429.2 919.0L1430.8 915.4L1432.4 914.3L1434.0 915.0L1435.6 916.8L1437.1 917.1L1438.7 915.7L1440.3 920.1L1441.9 917.0L1443.5 918.0L1445.1 917.8L1446.6 917.4L1448.2 916.9L1449.8 918.0L1451.4 919.1L1453.0 917.2L1454.6 917.8" stroke="#0040ff"/><path d="M472.4 920.7L474.0 922.8L475.6 923.4L477.2 914.9L478.8 921.3L480.4 922.5L482.0 922.1L483.6 918.5L485.2 920.2L486.8 918.7L488.4 922.6L490.0 920.3L491.6 923.4L493.2 919.0L494.8 920.2L496.4 920.7L498.0 919.9L499.6 918.0L501.1 914.8L502.7 919.8L504.3 920.0L505.9 917.8L507.5 916.0L509.1 919.6L510.7 921.6L512.3 920.5L513.9 917.7L515.5 918.5L517.1 916.5L518.7 916.4L520.3 921.3L521.9 924.2L523.5 915.4L525.1 920.4L526.7 923.4L528.3 920.4L529.9 922.1L531.5 922.2L533.1 918.1L534.7 922.6L536.3 922.1L537.9 919.1L539.5 923.9L541.1 920.2L542.7 919.4L544.3 918.7L545.9 919.9L547.5 921.9L549.1 921.2L550.7 920.5L552.3 918.2L553.9 919.9L555.5 917.3L557.1 919.4L558.7 923.9L560.3 921.5L561.9 923.4L563.5 915.9L565.1 922.2L566.7 922.6L568.3 919.7L569.9 919.8L571.5 918.6L573.1 918.3L574.7 916.8L576.3 923.4L577.9 923.1L579.5 918.9L581.1 922.7L582.7 923.8L584.3 919.3L585.9 920.6L587.5 923.2L589.0 917.6L590.6 920.2L592.2 923.6L593.8 918.0L595.4 918.4L597.0 919.4L598.6 920.7L600.2 919.8L601.8 919.9L603.4 916.3L605.0 920.3L606.6 919.1L608.2 915.6L609.8 918.3L611.4 915.2L613.0 920.2L614.6 920.0L616.2 920.7L617.8 920.0L619.4 922.9L621.0 922.8L622.6 922.5L624.2 922.4L625.8 923.0L627.4 920.5L629.0 921.3L630.6 923.3L632.2 922.6L633.8 921.6L635.4 918.9L637.0 917.3L638.6 914.7L640.2 918.6L641.8 919.1L643.4 916.5L645.0 920.5L646.6 923.7L648.2 922.5L649.8 923.1L651.4 922.1L653.0 921.9" stroke="#0060ff"/><path d="M1331.0 913.8L1332.6 914.4L1334.2 914.0L1335.8 909.8L1337.3 916.0L1338.9 918.0L1340.5 918.6L1342.1 912.2L1343.7 915.1L1345.3 912.6L1346.8 914.0L1348.4 915.3L1350.0 914.6L1351.6 920.3L1353.2 913.8L1354.8 919.1L1356.3 910.9L1357.9 913.8L1359.5 917.0L1361.1 918.6L1362.7 917.7L1364.3 916.3L1365.9 916.8L1367.4 910.9L1369.0 911.9L1370.6 914.5L1372.2 914.3L1373.8 915.9L1375.4 913.3L1376.9 913.7L1378.5 910.4" stroke="#0060ff"/><path d="M247.4 919.1L249.0 920.3L250.6 924.2L252.2 919.4L253.8 921.6L255.4 918.5L256.9 922.4L258.5 922.2L260.1 918.3L261.7 920.3L263.3 921.4L264.9 918.7L266.4 923.3L268.0 920.6L269.6 922.1L271.2 924.1L272.8 921.8L274.4 915.0L275.9 917.3L277.5 918.6L279.1 916.9L280.7 917.4L282.3 919.5L283.9 920.1L285.4 916.4L287.0 914.6L288.6 921.5L290.2 917.3L291.8 915.6L293.4 923.3L295.0 919.6L296.5 917.9L298.1 918.4L299.7 921.4L301.3 920.8L302.9 921.6L304.5 916.1L306.0 917.5L307.6 914.7L309.2 917.7L310.8 921.0L312.4 919.6L314.0 920.4L315.5 919.8L317.1 918.1L318.7 919.6L320.3 920.6L321.9 921.7L323.5 921.1L325.1 920.0L326.6 919.9L328.2 919.6L329.8 920.7L331.4 921.0L333.0 920.0L334.6 922.5L336.1 924.2L337.7 919.5L339.3 922.1L340.9 920.4L342.5 921.6L344.1 920.8L345.6 918.9L347.2 918.8L348.8 922.3L350.4 922.3L352.0 917.2L353.6 918.6L355.2 923.3L356.7 919.8L358.3 920.7L359.9 917.6L361.5 914.0L363.1 921.7L364.7 920.8L366.2 922.5L367.8 919.1L369.4 916.5L371.0 917.3L372.6 918.6L374.2 917.6L375.7 918.3L377.3 920.4L378.9 917.6L380.5 917.7L382.1 923.4L383.7 917.6L385.3 917.2L386.8 921.7L388.4 918.8L390.0 917.6L391.6 920.4L393.2 919.0L394.8 921.1L396.3 921.2L397.9 918.4L399.5 920.7L401.1 918.7L402.7 918.9L404.3 918.7L405.8 917.8L407.4 921.9L409.0 920.3L410.6 922.8L412.2 919.6L413.8 914.4L415.4 922.0L416.9 922.7L418.5 921.7L420.1 919.2L421.7 920.6L423.3 917.4L424.9 917.8L426.4 921.1L428.0 919.0L429.6 914.2L431.2 915.9L432.8 919.0L434.4 920.1L435.9 921.4L437.5 919.6L439.1 919.6L440.7 920.4L442.3 923.9L443.9 916.9L445.5 916.3L447.0 916.4L448.6 921.7L450.2 920.6L451.8 917.2L453.4 920.7L455.0 920.6L456.5 917.6L458.1 918.5L459.7 922.3L461.3 920.1L462.9 922.1L464.5 920.8L466.0 919.1L467.6 918.2L469.2 919.3L470.8 921.7L472.4 919.7" stroke="#009fff"/><path d="M824.1 915.4L825.7 920.5L827.2 919.0L828.8 918.4L830.4 918.7L832.0 916.8L833.6 916.0L835.2 916.5L836.7 912.6L838.3 918.0L839.9 918.0L841.5 918.0L843.1 916.5L844.7 913.6L846.2 914.4L847.8 919.9L849.4 920.4L851.0 918.9L852.6 917.2L854.2 913.5L855.8 918.4L857.3 918.2L858.9 914.3L860.5 916.9L862.1 919.5L863.7 915.7L865.3 912.7L866.8 917.3L868.4 921.1L870.0 914.3L871.6 918.7L873.2 917.3L874.8 914.2L876.3 920.5L877.9 916.8L879.5 919.1L881.1 915.4L882.7 917.6L884.3 917.4L885.8 916.9L887.4 915.0L889.0 918.5L890.6 918.8L892.2 918.4L893.8 919.9L895.4 919.1L896.9 916.0L898.5 920.5L900.1 918.8L901.7 914.8L903.3 917.1L904.9 919.7L906.4 917.7L908.0 914.5L909.6 913.2L911.2 917.4L912.8 917.7L914.4 918.7L915.9 918.5L917.5 916.6L919.1 917.8L920.7 916.2L922.3 919.2L923.9 918.5L925.5 918.3L927.0 919.4L928.6 916.6L930.2 919.5L931.8 916.8L933.4 918.6L935.0 917.2L936.5 918.3L938.1 916.7L939.7 917.0L941.3 918.3L942.9 921.6L944.5 916.7L946.0 918.4L947.6 920.6L949.2 914.2L950.8 920.1L952.4 917.9L954.0 914.6L955.6 919.7L957.1 917.7L958.7 912.6L960.3 915.1L961.9 917.6L963.5 917.2L965.1 916.2L966.6 916.1L968.2 916.2L969.8 918.4L971.4 920.2L973.0 917.4L974.6 921.4L976.1 916.7L977.7 918.9L979.3 918.8L980.9 916.8L982.5 915.7L984.1 913.2L985.7 912.8L987.2 919.6L988.8 919.9L990.4 919.5L992.0 917.7L993.6 918.6L995.2 918.2L996.7 917.5L998.3 913.4L999.9 918.6L1001.5 907.2L1003.1 912.8L1004.7 913.7L1006.2 916.3L1007.8 915.0L1009.4 915.9L1011.0 920.8L1012.6 918.8L1014.2 913.6L1015.8 918.0L1017.3 920.3L1018.9 918.6L1020.5 915.9L1022.1 917.6L1023.7 920.5L1025.3 919.1L1026.8 918.9L1028.4 920.7L1030.0 917.1L1031.6 916.9L1033.2 916.9L1034.8 918.6L1036.3 919.9L1037.9 914.1L1039.5 916.5L1041.1 919.6L1042.7 913.7L1044.3 916.9L1045.8 917.4L1047.4 918.3L1049.0 918.2L1050.6 915.0L1052.2 919.5L1053.8 919.9L1055.4 916.1L1056.9 914.6L1058.5 920.4L1060.1 918.4L1061.7 916.7L1063.3 917.8L1064.9 918.6L1066.4 918.0L1068.0 918.9L1069.6 911.0L1071.2 916.2L1072.8 922.9L1074.4 918.5L1075.9 917.4L1077.5 913.8L1079.1 913.5L1080.7 919.3L1082.3 922.1L1083.9 917.3L1085.5 919.3L1087.0 918.3L1088.6 919.0L1090.2 917.6L1091.8 917.8L1093.4 913.0L1095.0 916.4L1096.5 917.3L1098.1 917.4L1099.7 917.9L1101.3 918.1L1102.9 919.2L1104.5 914.4L1106.0 916.3L1107.6 918.0L1109.2 914.1" stroke="#009fff"/><path d="M1331.0 920.1L1332.6 920.9L1334.2 916.9L1335.8 919.1L1337.3 920.4L1338.9 923.7L1340.5 916.1L1342.1 918.2L1343.7 921.0L1345.3 916.8L1346.8 918.1L1348.4 919.8L1350.0 920.4L1351.6 923.4L1353.2 919.1L1354.8 919.1L1356.3 919.0L1357.9 920.2L1359.5 919.8L1361.1 920.7L1362.7 917.5L1364.3 917.9L1365.9 917.7L1367.4 918.6L1369.0 915.5L1370.6 918.5L1372.2 915.5L1373.8 919.2L1375.4 919.2L1376.9 918.8L1378.5 920.8L1380.1 920.7L1381.7 913.9L1383.3 917.6L1384.9 920.4L1386.4 917.7L1388.0 919.4L1389.6 914.1L1391.2 920.0L1392.8 922.5L1394.4 921.9L1396.0 921.9L1397.5 919.8L1399.1 917.8L1400.7 920.5L1402.3 919.7L1403.9 918.6L1405.5 921.8L1407.0 922.3L1408.6 919.3L1410.2 921.9L1411.8 919.7L1413.4 917.0" stroke="#009fff"/><path d="M1413.4 916.9L1415.0 913.7L1416.6 913.0L1418.2 914.4L1419.8 913.1L1421.4 915.8L1423.0 914.4L1424.6 912.3L1426.2 915.7L1427.8 913.2L1429.5 911.0L1431.1 914.7L1432.7 913.5L1434.3 911.0L1435.9 913.1L1437.5 914.4L1439.1 913.6L1440.7 915.8L1442.3 915.4L1443.9 915.6L1445.5 916.1L1447.1 913.0L1448.7 912.3L1450.4 912.4L1452.0 911.6L1453.6 915.2L1455.2 914.2L1456.8 914.6L1458.4 914.4L1460.0 912.6L1461.6 916.6L1463.2 913.5L1464.8 913.9L1466.4 917.1L1468.0 917.9L1469.7 915.7L1471.3 906.9L1472.9 913.0L1474.5 916.5L1476.1 916.4L1477.7 909.0L1479.3 914.9L1480.9 914.7L1482.5 916.0L1484.1 914.2L1485.7 914.5L1487.3 911.8L1488.9 918.6L1490.6 911.8L1492.2 914.7L1493.8 913.9L1495.4 913.8L1497.0 913.2L1498.6 910.0L1500.2 915.5L1501.8 908.8L1503.4 915.2L1505.0 914.1L1506.6 913.7L1508.2 917.3L1509.8 915.4L1511.5 911.3L1513.1 913.5L1514.7 916.6L1516.3 912.8L1517.9 911.5L1519.5 914.4L1521.1 915.0" stroke="#009fff"/><path d="M570.6 919.5L572.2 918.8L573.8 919.4L575.4 917.8L576.9 921.4L578.5 918.5L580.1 920.3L581.7 917.9L583.3 921.1L584.9 916.6L586.4 921.1L588.0 912.5L589.6 918.4L591.2 920.3L592.8 918.6L594.4 917.9L595.9 918.1L597.5 919.3L599.1 915.1L600.7 917.9L602.3 918.4L603.9 918.7L605.5 920.3L607.0 917.0L608.6 918.7L610.2 914.7L611.8 918.4L613.4 914.0L615.0 917.7L616.5 918.4L618.1 916.9L619.7 919.1L621.3 920.0L622.9 920.8L624.5 918.5L626.0 916.8L627.6 919.1L629.2 920.6L630.8 919.7L632.4 917.8L634.0 916.8L635.6 913.7L637.1 917.3L638.7 918.6L640.3 921.0L641.9 915.9L643.5 916.6L645.1 914.8L646.6 917.5L648.2 923.2L649.8 915.4L651.4 914.3L653.0 919.0L654.6 917.3L656.1 918.3L657.7 917.8L659.3 918.3L660.9 919.1L662.5 917.7L664.1 920.0L665.6 918.1L667.2 916.3L668.8 917.6L670.4 917.5L672.0 919.6L673.6 918.9L675.2 919.9L676.7 918.3L678.3 916.6L679.9 915.6L681.5 918.1L683.1 918.8L684.7 917.7L686.2 915.5L687.8 918.1L689.4 917.4L691.0 917.0L692.6 916.3L694.2 918.7L695.7 918.9L697.3 919.5L698.9 917.4L700.5 916.0L702.1 919.9L703.7 916.6L705.3 920.2L706.8 913.3L708.4 917.4L710.0 917.4L711.6 918.8L713.2 919.1L714.8 919.2L716.3 915.9L717.9 916.3L719.5 918.0L721.1 915.3L722.7 920.0L724.3 919.2L725.8 917.7L727.4 919.3L729.0 919.7L730.6 916.4L732.2 920.0L733.8 918.3L735.4 918.3L736.9 918.6L738.5 917.4L740.1 916.6L741.7 920.7L743.3 921.8L744.9 918.6" stroke="#00bfff"/><path d="M1175.8 920.1L1177.4 916.3L1179.0 916.8L1180.6 916.4L1182.2 914.9L1183.8 915.1L1185.4 916.3L1187.0 918.2L1188.6 916.9L1190.2 918.6L1191.8 915.3L1193.4 918.0L1195.0 917.1L1196.6 916.5L1198.2 917.9L1199.8 916.4L1201.4 913.8L1203.0 917.5L1204.6 914.7L1206.2 920.5L1207.8 917.7L1209.4 916.2L1211.0 918.1L1212.6 914.8L1214.2 911.0L1215.8 916.3L1217.4 915.7L1219.0 910.0L1220.6 915.6L1222.2 917.8L1223.8 917.6L1225.4 918.3L1227.0 916.6L1228.6 910.0L1230.2 916.3L1231.8 917.6L1233.4 917.1L1235.0 917.2L1236.6 916.3L1238.2 915.1L1239.8 917.5L1241.4 910.0L1243.0 916.1L1244.6 910.8L1246.2 915.0L1247.8 916.1L1249.4 918.7L1251.0 912.9L1252.6 919.3L1254.2 918.0L1255.8 919.0L1257.4 919.8L1259.0 916.5L1260.6 918.9L1262.2 918.4L1263.8 919.1L1265.4 919.6L1267.0 915.0L1268.6 910.1L1270.2 914.9L1271.8 915.8L1273.4 917.2L1275.0 916.8L1276.6 916.3L1278.2 918.2L1279.8 916.5L1281.4 910.6L1283.0 915.0L1284.6 915.1L1286.2 913.2L1287.8 913.1L1289.4 916.5L1291.0 916.0L1292.6 912.7L1294.2 907.7L1295.8 916.5L1297.4 915.9L1299.0 916.0L1300.6 918.1L1302.2 919.3L1303.8 919.3L1305.4 917.6L1307.0 917.4L1308.6 913.6L1310.2 914.5L1311.8 917.5L1313.4 915.0L1315.0 918.1L1316.6 919.6L1318.2 918.8L1319.8 917.0L1321.4 916.5L1323.0 911.6L1324.6 918.6L1326.2 915.8L1327.8 921.0L1329.4 917.6L1331.0 920.5" stroke="#00bfff"/><path d="M1325.3 915.9L1327.2 918.8L1329.1 918.9L1331.0 916.9" stroke="#00bfff"/><path d="M535.7 916.1L537.4 910.0L539.1 913.2L540.7 914.5L542.4 916.3L544.0 917.3L545.7 918.5L547.4 917.4L549.0 911.9L550.7 915.6L552.3 914.8L554.0 915.3L555.7 911.8L557.3 914.1L559.0 918.1L560.6 917.4L562.3 916.4L564.0 914.2L565.6 915.9L567.3 916.8L568.9 914.3L570.6 909.9" stroke="#00dfff"/><path d="M1516.0 921.9L1517.6 918.8L1519.2 918.0L1520.8 917.6L1522.4 920.6L1524.0 914.6L1525.6 914.7L1527.1 916.4L1528.7 917.1L1530.3 913.1L1531.9 914.7L1533.5 916.6L1535.1 919.4L1536.7 922.5L1538.3 921.6L1539.9 915.2L1541.4 917.7L1543.0 919.6L1544.6 917.1L1546.2 918.9L1547.8 918.6L1549.4 912.5L1551.0 914.1L1552.6 918.5L1554.1 916.9L1555.7 921.4L1557.3 914.5L1558.9 914.1L1560.5 913.3L1562.1 917.6L1563.7 919.2L1565.3 921.5L1566.9 918.9L1568.4 921.9L1570.0 922.3L1571.6 917.9L1573.2 919.3L1574.8 921.7L1576.4 918.0L1578.0 919.1L1579.6 916.0L1581.1 920.5L1582.7 918.0L1584.3 918.9L1585.9 921.9L1587.5 922.1L1589.1 923.2L1590.7 920.2L1592.3 923.0L1593.9 916.6L1595.4 918.0L1597.0 919.3L1598.6 919.4L1600.2 915.3L1601.8 921.4L1603.4 920.9L1605.0 920.1L1606.6 923.4L1608.1 918.3L1609.7 920.8L1611.3 917.3L1612.9 919.2L1614.5 913.8L1616.1 919.5L1617.7 919.1L1619.3 918.4L1620.9 920.0L1622.4 918.2L1624.0 918.5L1625.6 918.0L1627.2 918.4L1628.8 921.2L1630.4 922.5L1632.0 920.6L1633.6 920.9L1635.1 916.7L1636.7 918.1L1638.3 920.0L1639.9 919.5L1641.5 921.2" stroke="#00dfff"/><path d="M1331.0 914.9L1332.6 914.6L1334.2 916.5L1335.8 910.3L1337.3 915.9L1338.9 916.9L1340.5 914.2L1342.1 915.8L1343.7 914.8L1345.3 916.0L1346.8 912.7L1348.4 916.0L1350.0 911.5L1351.6 910.0L1353.2 914.5L1354.8 916.9L1356.3 915.5L1357.9 912.1L1359.5 917.8L1361.1 913.6L1362.7 913.9L1364.3 912.6L1365.9 907.6L1367.4 915.0L1369.0 914.6L1370.6 916.1L1372.2 914.6L1373.8 915.7L1375.4 917.9L1376.9 916.2L1378.5 911.3L1380.1 914.2L1381.7 912.5L1383.3 919.4L1384.9 915.1L1386.4 915.2L1388.0 914.7L1389.6 915.8L1391.2 917.4L1392.8 916.6L1394.4 915.1L1396.0 916.8L1397.5 914.7L1399.1 916.2L1400.7 909.4L1402.3 911.7L1403.9 915.3L1405.5 914.0L1407.0 914.3L1408.6 912.6L1410.2 911.6L1411.8 911.1L1413.4 914.1L1415.0 913.8L1416.5 915.1L1418.1 917.0L1419.7 914.5L1421.3 915.2L1422.9 910.2L1424.5 911.3L1426.0 917.2L1427.6 915.2L1429.2 915.9L1430.8 915.0L1432.4 913.2L1434.0 913.2L1435.6 910.7L1437.1 909.0L1438.7 913.3L1440.3 915.0L1441.9 914.5L1443.5 911.3L1445.1 915.0L1446.6 916.8L1448.2 914.0L1449.8 915.8L1451.4 913.2L1453.0 913.9L1454.6 913.9L1456.1 913.5L1457.7 913.9L1459.3 915.4L1460.9 913.4L1462.5 914.4L1464.1 913.3L1465.7 913.3L1467.2 911.7L1468.8 909.1L1470.4 916.5L1472.0 913.9L1473.6 915.5L1475.2 916.0L1476.7 915.1L1478.3 911.3L1479.9 914.4L1481.5 911.9L1483.1 916.1L1484.7 915.7L1486.2 914.7L1487.8 913.4L1489.4 914.3L1491.0 916.2L1492.6 915.3L1494.2 915.0L1495.8 914.0L1497.3 913.7L1498.9 913.7L1500.5 912.4L1502.1 911.7L1503.7 914.1L1505.3 912.4L1506.8 911.5L1508.4 915.6L1510.0 914.9L1511.6 911.6L1513.2 914.4L1514.8 916.0L1516.3 914.0L1517.9 912.8L1519.5 914.1L1521.1 911.9L1522.7 911.7L1524.3 917.0L1525.9 914.6L1527.4 914.4" stroke="#00dfff"/><path d="M405.8 915.4L407.4 917.4L409.0 917.5L410.6 915.8L412.2 912.9L413.8 914.8L415.4 915.6L416.9 916.1L418.5 915.8L420.1 917.7L421.7 916.1L423.3 913.9L424.9 916.4L426.4 915.4L428.0 919.4L429.6 913.4L431.2 912.0L432.8 910.4L434.4 909.6L435.9 911.0L437.5 916.2L439.1 917.2L440.7 912.4L442.3 913.8L443.9 910.9L445.5 916.9L447.0 913.9L448.6 915.9L450.2 916.4L451.8 915.7L453.4 912.1L455.0 919.4L456.5 909.5L458.1 917.6L459.7 914.9L461.3 910.0L462.9 916.6L464.5 918.3L466.0 914.7L467.6 918.2L469.2 912.9L470.8 912.8L472.4 911.4L474.0 915.0L475.5 915.3L477.1 917.4L478.7 914.3L480.3 918.0L481.9 916.5L483.5 918.8L485.1 913.0L486.6 913.7L488.2 909.2L489.8 909.1L491.4 914.7L493.0 915.4L494.6 916.4L496.1 915.8L497.7 915.6L499.3 913.6L500.9 916.6L502.5 909.3L504.1 915.1L505.6 917.2L507.2 914.0L508.8 917.3L510.4 912.6L512.0 910.2L513.6 910.5L515.2 916.2L516.7 917.2L518.3 914.9L519.9 915.4L521.5 917.2L523.1 913.9L524.7 916.5L526.2 915.6L527.8 916.5L529.4 914.5L531.0 915.3L532.6 914.7L534.2 919.9L535.7 913.3L537.3 915.4L538.9 915.8L540.5 914.2L542.1 916.3L543.7 917.0L545.3 911.9L546.8 915.9L548.4 911.1L550.0 913.4L551.6 917.7L553.2 912.1L554.8 913.7L556.3 910.9L557.9 915.3L559.5 915.0L561.1 914.8L562.7 913.2L564.3 916.2L565.8 913.4L567.4 913.6L569.0 912.0L570.6 912.7L572.2 917.5L573.8 918.1L575.4 913.5L576.9 914.4L578.5 916.8L580.1 911.8L581.7 911.5L583.3 915.0L584.9 917.9L586.4 915.4L588.0 915.9L589.6 910.7L591.2 915.8L592.8 912.4L594.4 915.8L595.9 916.4L597.5 918.5L599.1 913.6L600.7 915.9L602.3 915.3L603.9 915.0L605.5 914.5L607.0 914.4L608.6 908.9L610.2 912.7L611.8 915.5L613.4 918.4L615.0 918.6L616.5 912.8L618.1 917.4L619.7 913.6L621.3 905.9L622.9 913.7L624.5 917.4L626.0 916.5L627.6 914.1L629.2 917.0L630.8 914.0L632.4 915.5L634.0 911.1L635.6 915.9L637.1 910.8L638.7 913.2L640.3 915.7L641.9 916.7L643.5 919.3L645.1 912.8L646.6 918.2L648.2 915.7L649.8 916.5L651.4 916.6L653.0 915.2L654.6 915.5L656.1 912.3L657.7 919.7L659.3 914.2L660.9 917.0L662.5 913.5L664.1 914.2L665.6 910.5L667.2 908.4L668.8 914.4L670.4 915.6L672.0 914.0L673.6 911.2L675.2 917.6L676.7 918.2L678.3 913.3L679.9 914.0L681.5 915.5L683.1 913.9L684.7 914.7L686.2 912.6L687.8 915.7L689.4 915.5L691.0 912.7L692.6 914.2L694.2 913.7L695.7 917.4L697.3 916.6L698.9 914.6L700.5 917.3L702.1 914.0L703.7 915.2L705.3 915.9L706.8 917.5L708.4 915.7L710.0 910.9L711.6 909.0L713.2 916.4L714.8 912.1L716.3 916.3L717.9 911.2L719.5 913.4L721.1 916.4L722.7 915.6L724.3 914.5L725.8 915.7L727.4 916.2L729.0 917.0L730.6 915.8L732.2 912.3L733.8 912.5L735.4 917.5L736.9 913.0L738.5 916.9L740.1 914.7L741.7 915.2L743.3 913.1L744.9 917.7L746.4 917.8L748.0 916.4L749.6 914.5L751.2 916.7L752.8 915.0L754.4 913.1L755.9 915.4L757.5 914.1L759.1 913.6L760.7 916.4L762.3 917.8L763.9 918.9L765.5 912.4L767.0 918.2L768.6 913.1L770.2 910.8L771.8 910.8L773.4 916.3L775.0 913.0L776.5 917.2L778.1 917.4L779.7 916.2L781.3 917.5L782.9 915.3L784.5 918.2L786.0 914.0L787.6 917.1L789.2 914.5L790.8 920.5L792.4 914.9L794.0 916.1L795.6 915.1" stroke="#00ffff"/><path d="M1279.0 916.7L1280.6 914.1L1282.2 914.8L1283.8 912.5L1285.4 908.1L1287.0 915.8L1288.6 912.5L1290.2 914.6L1291.8 913.7L1293.4 917.8L1295.0 917.1L1296.6 917.2L1298.1 916.1L1299.7 914.3L1301.3 914.8L1302.9 916.4L1304.5 912.6L1306.1 916.6L1307.7 912.7L1309.3 916.1L1310.9 914.7L1312.5 916.8L1314.1 918.6L1315.7 915.5L1317.3 916.5L1318.9 913.4L1320.4 918.7L1322.0 916.2L1323.6 917.9L1325.2 914.7L1326.8 913.9L1328.4 917.6L1330.0 910.9L1331.6 916.3L1333.2 914.3L1334.8 914.2L1336.4 914.6L1338.0 910.9L1339.6 915.9L1341.1 915.7L1342.7 914.7L1344.3 912.1L1345.9 915.3L1347.5 915.9L1349.1 913.1L1350.7 912.6L1352.3 909.4L1353.9 916.1L1355.5 913.7L1357.1 913.1L1358.7 913.2L1360.3 914.3L1361.8 913.5L1363.4 915.3L1365.0 911.4L1366.6 909.1L1368.2 911.2L1369.8 914.5L1371.4 910.4L1373.0 913.9L1374.6 913.8L1376.2 915.4L1377.8 915.6L1379.4 914.8L1381.0 914.4L1382.6 909.5L1384.1 906.7L1385.7 907.4L1387.3 906.7L1388.9 913.0L1390.5 912.3L1392.1 910.6L1393.7 917.2L1395.3 917.8L1396.9 912.6L1398.5 914.7L1400.1 918.2L1401.7 913.5L1403.3 916.4L1404.8 915.9L1406.4 909.4L1408.0 913.2L1409.6 917.0L1411.2 915.8L1412.8 915.4L1414.4 915.7L1416.0 914.5L1417.6 918.5L1419.2 915.9L1420.8 917.3L1422.4 914.0L1424.0 914.4L1425.5 913.0L1427.1 914.9L1428.7 917.7L1430.3 917.6L1431.9 914.8L1433.5 917.6L1435.1 918.8L1436.7 911.6L1438.3 913.1L1439.9 915.8L1441.5 915.3L1443.1 912.2L1444.7 910.2L1446.3 910.1L1447.8 909.4L1449.4 910.9L1451.0 915.4L1452.6 916.7L1454.2 915.6L1455.8 915.1L1457.4 914.3L1459.0 915.6L1460.6 910.0L1462.2 916.7L1463.8 916.8L1465.4 913.8L1467.0 915.7L1468.5 917.1L1470.1 915.8L1471.7 914.4L1473.3 911.6L1474.9 910.0L1476.5 914.3L1478.1 914.5L1479.7 915.0L1481.3 916.2L1482.9 913.9L1484.5 918.7L1486.1 915.8L1487.7 916.5L1489.2 917.7L1490.8 911.7L1492.4 912.8L1494.0 914.2L1495.6 914.2L1497.2 913.9L1498.8 913.6L1500.4 916.4L1502.0 912.7L1503.6 918.0L1505.2 912.8L1506.8 914.1L1508.4 917.9L1510.0 910.9L1511.5 918.2L1513.1 915.7L1514.7 916.9L1516.3 911.5L1517.9 916.0L1519.5 917.5L1521.1 915.7" stroke="#00ffff"/><path d="M1331.0 915.0L1332.8 916.0L1334.6 913.0L1336.4 913.9L1338.2 914.5L1340.1 916.7L1341.9 914.2L1343.7 915.3" stroke="#00ffff"/><path d="M190.4 918.6L192.0 918.7L193.6 915.7L195.2 915.7L196.7 918.4L198.3 918.7L199.9 919.9L201.5 919.0L203.1 917.2L204.7 920.2L206.2 913.6L207.8 917.3L209.4 918.4L211.0 916.3L212.6 918.4L214.2 919.0L215.7 913.6L217.3 911.9L218.9 916.7L220.5 919.0L222.1 919.9L223.7 918.8L225.3 919.1L226.8 919.1L228.4 920.8L230.0 918.9L231.6 918.3L233.2 917.5L234.8 920.6L236.3 920.3L237.9 915.4L239.5 917.7L241.1 914.9L242.7 918.4L244.3 919.4L245.8 917.0L247.4 917.2L249.0 919.6L250.6 917.7L252.2 916.4L253.8 919.3L255.4 916.4L256.9 920.0L258.5 917.9L260.1 916.2L261.7 920.2L263.3 919.5L264.9 918.3L266.4 914.5L268.0 916.0L269.6 920.1L271.2 919.0L272.8 915.2L274.4 916.2L275.9 917.9" stroke="#20ffdf"/><path d="M987.6 922.6L989.1 919.6L990.7 920.2L992.3 917.7L993.9 918.0L995.5 922.9L997.1 920.2L998.7 919.6L1000.2 919.0L1001.8 923.4L1003.4 919.0L1005.0 918.7L1006.6 920.7L1008.2 919.3L1009.8 918.1L1011.4 917.8L1012.9 916.8L1014.5 915.9L1016.1 922.8L1017.7 918.5L1019.3 916.7L1020.9 919.6L1022.5 916.8L1024.0 921.9L1025.6 921.1L1027.2 916.7L1028.8 917.9L1030.4 913.3L1032.0 917.2L1033.6 921.7L1035.2 917.0L1036.7 915.6L1038.3 923.6L1039.9 923.5L1041.5 915.2L1043.1 912.1L1044.7 920.2L1046.3 918.0L1047.9 917.7L1049.4 921.0L1051.0 912.3L1052.6 918.3L1054.2 922.2L1055.8 923.7L1057.4 920.5L1059.0 915.1L1060.5 917.8L1062.1 915.5L1063.7 918.7L1065.3 921.0L1066.9 919.4L1068.5 920.0L1070.1 919.2L1071.7 921.1L1073.2 917.7L1074.8 918.6L1076.4 921.3L1078.0 922.0L1079.6 918.5L1081.2 919.5L1082.8 916.9L1084.3 921.5L1085.9 920.6L1087.5 920.1L1089.1 921.4L1090.7 918.2L1092.3 919.1L1093.9 914.5L1095.5 918.0L1097.0 922.5L1098.6 918.5L1100.2 918.6L1101.8 917.8L1103.4 920.0L1105.0 922.6L1106.6 916.5L1108.2 919.0L1109.7 921.7L1111.3 920.8L1112.9 923.6L1114.5 917.4L1116.1 920.4L1117.7 919.5L1119.3 918.6L1120.8 919.6L1122.4 921.2L1124.0 921.8L1125.6 915.0L1127.2 915.4L1128.8 923.4L1130.4 921.3L1132.0 922.2L1133.5 920.2L1135.1 922.9L1136.7 923.9L1138.3 919.3L1139.9 918.4L1141.5 918.9L1143.1 917.4L1144.6 919.8L1146.2 920.9L1147.8 917.8L1149.4 921.8L1151.0 920.5L1152.6 919.1L1154.2 922.0L1155.8 920.8L1157.3 919.4L1158.9 922.2L1160.5 922.1L1162.1 921.5L1163.7 918.9L1165.3 922.8L1166.9 920.9L1168.5 921.1L1170.0 921.0L1171.6 920.0L1173.2 916.3L1174.8 920.7L1176.4 917.1" stroke="#20ffdf"/><path d="M877.9 915.0L879.5 912.7L881.1 918.4L882.7 911.9L884.3 913.0L885.8 914.7L887.4 919.4L889.0 915.8L890.6 917.2L892.2 919.4L893.8 911.7L895.4 911.0L896.9 914.5L898.5 917.6L900.1 917.3L901.7 917.6L903.3 916.6L904.9 912.6L906.4 915.4L908.0 915.1L909.6 914.2L911.2 916.3L912.8 919.8L914.4 913.1L915.9 917.2L917.5 916.9L919.1 919.3L920.7 917.3L922.3 915.1L923.9 916.1L925.5 914.8L927.0 915.1L928.6 916.1L930.2 916.1L931.8 918.0L933.4 918.1L935.0 912.4L936.5 913.3L938.1 912.7L939.7 915.5L941.3 915.6L942.9 911.9L944.5 913.7L946.0 911.7L947.6 919.9L949.2 917.1L950.8 915.1" stroke="#40ffbf"/><path d="M190.4 919.7L192.0 918.9L193.6 920.0L195.2 914.6L196.7 919.1" stroke="#60ff9f"/><path d="M950.8 913.6L952.4 914.5L954.0 914.1L955.6 916.5L957.2 914.3L958.8 913.1L960.4 915.5L962.0 917.9L963.6 908.9L965.3 917.5L966.9 915.8L968.5 914.8L970.1 909.0L971.7 909.5L973.3 915.0L974.9 913.1L976.5 909.3L978.1 913.8L979.7 913.9L981.3 914.0L982.9 915.6L984.5 910.9L986.1 912.8L987.7 914.5L989.3 915.6L990.9 913.7L992.6 914.1L994.2 914.9L995.8 913.7L997.4 913.5L999.0 916.3L1000.6 915.1L1002.2 914.3L1003.8 914.0L1005.4 911.1L1007.0 908.3L1008.6 911.3L1010.2 911.3L1011.8 908.1L1013.4 910.3L1015.0 914.6L1016.6 918.5L1018.2 912.7L1019.9 917.8L1021.5 917.4L1023.1 913.8L1024.7 916.4L1026.3 913.8L1027.9 914.0L1029.5 915.5L1031.1 911.6L1032.7 913.8L1034.3 917.1L1035.9 911.4L1037.5 915.9L1039.1 909.9L1040.7 915.6L1042.3 916.0L1043.9 916.4L1045.5 913.0L1047.2 910.4L1048.8 913.3L1050.4 912.3L1052.0 916.3L1053.6 913.1L1055.2 914.2L1056.8 910.9L1058.4 915.1L1060.0 915.4L1061.6 913.9L1063.2 914.4L1064.8 916.3L1066.4 915.0L1068.0 916.6" stroke="#60ff9f"/><path d="M538.9 914.5L540.5 907.7L542.1 914.3L543.7 917.9L545.3 912.6L546.8 912.5L548.4 916.0L550.0 915.1L551.6 913.4L553.2 911.9L554.8 912.8L556.3 916.8L557.9 910.5L559.5 911.4L561.1 914.1L562.7 916.4L564.3 914.4L565.8 914.5L567.4 912.2L569.0 912.0L570.6 917.1L572.2 913.2L573.8 916.4L575.4 911.6L576.9 913.0L578.5 913.3L580.1 917.9L581.7 914.7L583.3 909.8L584.9 911.7L586.4 915.5L588.0 914.3L589.6 913.6L591.2 917.9L592.8 915.3L594.4 912.0L595.9 913.5L597.5 912.7L599.1 907.9L600.7 907.0L602.3 911.8L603.9 915.0L605.5 909.7L607.0 912.0L608.6 912.6L610.2 914.0L611.8 919.1L613.4 913.9L615.0 916.0L616.5 916.8L618.1 913.8L619.7 910.1L621.3 916.1L622.9 912.6L624.5 910.6L626.0 914.4L627.6 913.8L629.2 913.1L630.8 915.6L632.4 915.3L634.0 914.0L635.6 913.0L637.1 915.9L638.7 916.1L640.3 917.4L641.9 914.6L643.5 916.0L645.1 913.6L646.6 914.9L648.2 915.1L649.8 915.3L651.4 915.7L653.0 915.8L654.6 913.5L656.1 915.1L657.7 912.4L659.3 914.6L660.9 910.9L662.5 914.8L664.1 912.4L665.6 917.1L667.2 912.5L668.8 916.9L670.4 914.5L672.0 916.0L673.6 916.3L675.2 914.1L676.7 914.5L678.3 915.3L679.9 914.8L681.5 913.0L683.1 916.6L684.7 915.7L686.2 917.2L687.8 911.6L689.4 912.1L691.0 919.1L692.6 914.6L694.2 918.7L695.7 913.5L697.3 917.6L698.9 910.7L700.5 911.8L702.1 914.6L703.7 913.2L705.3 913.7L706.8 917.4L708.4 913.6L710.0 911.6L711.6 915.9L713.2 915.2L714.8 913.3L716.3 915.9L717.9 917.0L719.5 913.4L721.1 912.7L722.7 913.1L724.3 912.7L725.8 915.8L727.4 915.1L729.0 917.1L730.6 917.8L732.2 917.5L733.8 915.9L735.4 912.6L736.9 912.8L738.5 912.8L740.1 914.3L741.7 914.8L743.3 916.5L744.9 912.6L746.4 912.3L748.0 917.3L749.6 914.8L751.2 915.3L752.8 914.1L754.4 908.4L755.9 914.1L757.5 914.6L759.1 914.9L760.7 915.7L762.3 913.7L763.9 914.3L765.5 917.1L767.0 917.0L768.6 915.9L770.2 912.0L771.8 915.8L773.4 918.9L775.0 914.1L776.5 918.3L778.1 908.9L779.7 911.5L781.3 914.5L782.9 912.4L784.5 913.3L786.0 913.3L787.6 915.9L789.2 911.6L790.8 912.5L792.4 914.8L794.0 917.6L795.6 913.5L797.1 911.4L798.7 916.8L800.3 915.4L801.9 909.1L803.5 913.4L805.1 915.0L806.6 912.6L808.2 912.5L809.8 912.1L811.4 916.1L813.0 912.6L814.6 915.2L816.1 915.2L817.7 915.6L819.3 915.5L820.9 914.5L822.5 916.3L824.1 914.2L825.7 915.7L827.2 914.2" stroke="#dfff20"/><path d="M1503.4 917.5L1504.9 910.8L1506.5 921.2L1508.1 915.8L1509.7 920.9L1511.3 917.9L1512.9 920.9L1514.5 914.3L1516.1 916.5L1517.7 916.8L1519.3 916.1L1520.9 917.9L1522.5 918.5L1524.1 919.3L1525.7 915.3L1527.2 920.5L1528.8 917.5L1530.4 912.6L1532.0 916.1L1533.6 914.6L1535.2 919.0L1536.8 920.3L1538.4 921.9L1540.0 920.5L1541.6 916.1L1543.2 919.4L1544.8 918.0L1546.4 918.8L1547.9 914.3L1549.5 917.6L1551.1 918.5L1552.7 916.9L1554.3 913.3L1555.9 916.2L1557.5 918.0L1559.1 919.9L1560.7 914.7L1562.3 913.7L1563.9 920.7L1565.5 915.2L1567.1 916.1L1568.7 916.9L1570.2 917.8L1571.8 920.8L1573.4 917.9L1575.0 918.8L1576.6 916.5L1578.2 919.6L1579.8 916.4L1581.4 918.4L1583.0 918.3L1584.6 911.4L1586.2 919.9L1587.8 918.4L1589.4 916.1L1590.9 916.5L1592.5 912.8L1594.1 918.4L1595.7 919.2L1597.3 913.6L1598.9 918.1L1600.5 922.0L1602.1 917.0L1603.7 913.1L1605.3 919.1L1606.9 918.6L1608.5 917.6L1610.1 916.4L1611.7 916.5L1613.2 919.2L1614.8 919.5L1616.4 918.8L1618.0 918.5L1619.6 916.9L1621.2 921.0L1622.8 915.3L1624.4 915.1L1626.0 919.1L1627.6 915.4L1629.2 909.3L1630.8 915.2L1632.4 919.0L1633.9 918.1L1635.5 917.6L1637.1 919.9L1638.7 919.0L1640.3 918.5L1641.9 916.4L1643.5 919.8L1645.1 915.8L1646.7 916.8L1648.3 917.6L1649.9 918.2L1651.5 915.3L1653.1 916.3L1654.7 917.9L1656.2 917.7L1657.8 917.4L1659.4 913.8L1661.0 918.4L1662.6 920.1L1664.2 920.7L1665.8 918.8L1667.4 916.6L1669.0 915.6L1670.6 919.8L1672.2 915.7L1673.8 918.7L1675.4 921.2L1676.9 913.9L1678.5 916.8L1680.1 912.4L1681.7 916.0L1683.3 919.7" stroke="#dfff20"/><path d="M763.9 919.1L765.5 919.9L767.1 913.2L768.7 911.0L770.2 920.1L771.8 911.8L773.4 918.8L775.0 913.9L776.6 916.6L778.2 921.4L779.8 917.5L781.4 918.8L783.0 914.1L784.6 908.8L786.2 912.7L787.8 921.6L789.4 920.4L791.0 918.1L792.6 912.1L794.2 917.8L795.8 913.7L797.4 918.9L799.0 917.8L800.6 919.3L802.1 919.5L803.7 918.7L805.3 918.4L806.9 922.1L808.5 913.1L810.1 917.5L811.7 913.3L813.3 915.0L814.9 920.4L816.5 920.7L818.1 919.2L819.7 918.8L821.3 918.4L822.9 914.1L824.5 910.5L826.1 917.4L827.7 920.0L829.3 913.1L830.9 917.4L832.5 918.7L834.0 916.7L835.6 915.3L837.2 917.5L838.8 920.9L840.4 917.3L842.0 917.5L843.6 916.0L845.2 914.6L846.8 918.6L848.4 916.1L850.0 919.3L851.6 914.8L853.2 917.4L854.8 919.3L856.4 913.1L858.0 916.8L859.6 918.1L861.2 912.4L862.8 918.7L864.3 915.2L865.9 916.7L867.5 918.4L869.1 914.3L870.7 916.6L872.3 917.9L873.9 916.1L875.5 912.1L877.1 917.5L878.7 919.1L880.3 919.0L881.9 914.2L883.5 921.4L885.1 917.1L886.7 919.7L888.3 916.7L889.9 915.4L891.5 914.3L893.1 914.7L894.7 917.8L896.2 918.8L897.8 918.6L899.4 918.8L901.0 917.2L902.6 919.7L904.2 913.4L905.8 910.4L907.4 916.1L909.0 920.0L910.6 914.8L912.2 918.1L913.8 915.1L915.4 916.0L917.0 916.5L918.6 917.4L920.2 918.3L921.8 914.9L923.4 920.7L925.0 917.2L926.6 918.4L928.1 918.7L929.7 917.5L931.3 916.7L932.9 914.8L934.5 916.1L936.1 918.0L937.7 914.3L939.3 920.0L940.9 919.0L942.5 916.5L944.1 918.2L945.7 919.7L947.3 917.6L948.9 919.7L950.5 917.4L952.1 920.1L953.7 917.7L955.3 917.5L956.9 918.0L958.5 917.8L960.0 911.3L961.6 917.1L963.2 914.6L964.8 919.6L966.4 916.5L968.0 916.2L969.6 915.7L971.2 915.0L972.8 917.8L974.4 916.1L976.0 916.3L977.6 917.2L979.2 914.5L980.8 912.4L982.4 914.0L984.0 916.9L985.6 916.4L987.2 920.9L988.8 920.1L990.4 913.6L991.9 916.0L993.5 917.5L995.1 918.4L996.7 917.4L998.3 914.1" stroke="#ffdf00"/><path d="M1701.7 919.2L1703.6 916.1L1705.5 907.3L1707.4 915.7L1709.3 916.9L1711.2 916.9" stroke="#ffdf00"/><path d="M247.4 917.4L249.0 917.5L250.6 918.4L252.2 918.7L253.8 917.7L255.4 918.5L256.9 910.6L258.5 918.4L260.1 914.5L261.7 916.4L263.3 918.6L264.9 912.8L266.4 916.9L268.0 916.8L269.6 918.6L271.2 914.4L272.8 917.5L274.4 920.3L275.9 918.8L277.5 915.8L279.1 917.0L280.7 916.9L282.3 918.4L283.9 915.7L285.4 915.9L287.0 917.5L288.6 917.2L290.2 915.4L291.8 913.9L293.4 917.8L295.0 916.7L296.5 917.6L298.1 919.2L299.7 913.3L301.3 917.5L302.9 915.3L304.5 918.6L306.0 917.4L307.6 916.2L309.2 915.4L310.8 910.7L312.4 916.1L314.0 914.7L315.5 919.7L317.1 917.9L318.7 914.7L320.3 916.6L321.9 916.8L323.5 915.1L325.1 918.5L326.6 915.2L328.2 914.2L329.8 908.0L331.4 919.7L333.0 918.4L334.6 919.0L336.1 911.5L337.7 912.2L339.3 914.5L340.9 916.1L342.5 916.9L344.1 917.5L345.6 918.2L347.2 917.5L348.8 915.6L350.4 913.8L352.0 914.1L353.6 917.1L355.2 917.1L356.7 912.8L358.3 911.0L359.9 911.9L361.5 914.1L363.1 918.3L364.7 917.1L366.2 913.1L367.8 918.3L369.4 915.3L371.0 914.3L372.6 915.5L374.2 914.0L375.7 916.4L377.3 917.9L378.9 919.1L380.5 915.4L382.1 910.3L383.7 918.2L385.3 914.5L386.8 917.6L388.4 919.5L390.0 917.9L391.6 919.2L393.2 914.3L394.8 918.5L396.3 917.0L397.9 913.7L399.5 917.9L401.1 918.4L402.7 918.6L404.3 919.5L405.8 917.3L407.4 916.0L409.0 919.1L410.6 918.4L412.2 917.6L413.8 917.6L415.4 916.8L416.9 915.6L418.5 911.0L420.1 912.5L421.7 914.3L423.3 910.1L424.9 912.1L426.4 916.8L428.0 917.7L429.6 915.6L431.2 915.2L432.8 915.6L434.4 919.9L435.9 917.0L437.5 917.9L439.1 916.9L440.7 915.6L442.3 912.8L443.9 917.1L445.5 914.1L447.0 916.3L448.6 915.3L450.2 917.3L451.8 920.5L453.4 916.3L455.0 915.9L456.5 919.1L458.1 915.3L459.7 916.1" stroke="#ff8000"/><path d="M1071.2 915.0L1072.8 917.7L1074.4 917.0L1075.9 915.2L1077.5 914.3L1079.1 913.5L1080.7 915.7L1082.3 915.1L1083.9 916.0L1085.5 914.1L1087.0 917.7L1088.6 911.1L1090.2 917.2L1091.8 918.1L1093.4 918.4L1095.0 917.2L1096.5 916.9L1098.1 916.1L1099.7 917.9L1101.3 913.3L1102.9 916.6L1104.5 914.1L1106.0 918.5L1107.6 916.0L1109.2 913.5L1110.8 913.6L1112.4 915.5L1114.0 913.2L1115.6 916.7L1117.1 917.3L1118.7 916.2L1120.3 916.2L1121.9 913.9L1123.5 912.5L1125.1 913.2L1126.6 916.8L1128.2 910.3L1129.8 916.9L1131.4 916.0L1133.0 919.6L1134.6 916.5L1136.1 917.5L1137.7 916.8L1139.3 917.8L1140.9 918.3L1142.5 914.6L1144.1 913.8L1145.7 914.7L1147.2 909.4L1148.8 912.5L1150.4 912.9L1152.0 912.3L1153.6 910.5L1155.2 914.4L1156.7 918.7L1158.3 916.7L1159.9 915.0L1161.5 914.1L1163.1 915.4L1164.7 914.4L1166.2 911.0L1167.8 914.9L1169.4 912.1L1171.0 920.0L1172.6 917.9L1174.2 917.6L1175.8 917.4L1177.3 917.5L1178.9 913.9L1180.5 920.0L1182.1 917.1L1183.7 918.1L1185.3 912.6L1186.8 913.1L1188.4 915.1L1190.0 915.6L1191.6 917.2L1193.2 917.4L1194.8 914.7L1196.3 910.4L1197.9 916.8L1199.5 914.1L1201.1 917.6L1202.7 914.9L1204.3 917.2L1205.9 914.3L1207.4 912.9L1209.0 912.3L1210.6 915.3L1212.2 912.2L1213.8 915.5L1215.4 917.8L1216.9 915.5L1218.5 917.5L1220.1 919.0L1221.7 915.6L1223.3 916.4L1224.9 913.3L1226.4 914.2L1228.0 912.7L1229.6 917.9L1231.2 915.0L1232.8 916.5L1234.4 917.7L1236.0 917.2L1237.5 914.3L1239.1 913.5L1240.7 917.0L1242.3 916.9L1243.9 917.8L1245.5 915.4L1247.0 915.9L1248.6 913.6L1250.2 911.1L1251.8 912.8L1253.4 918.1L1255.0 912.2L1256.5 917.1L1258.1 911.8L1259.7 915.2L1261.3 918.3L1262.9 914.3L1264.5 915.4L1266.0 916.6L1267.6 915.9L1269.2 913.6L1270.8 917.8L1272.4 917.3L1274.0 912.7L1275.6 916.1L1277.1 918.1L1278.7 919.5L1280.3 911.3L1281.9 918.0L1283.5 913.2L1285.1 917.8L1286.6 910.5L1288.2 906.0L1289.8 914.6L1291.4 916.5L1293.0 914.4L1294.6 914.8L1296.1 919.4L1297.7 913.9L1299.3 914.6L1300.9 914.9L1302.5 913.1L1304.1 912.5L1305.7 913.3L1307.2 917.8L1308.8 914.9L1310.4 918.5L1312.0 911.2L1313.6 915.9L1315.2 913.8L1316.7 915.4L1318.3 911.2L1319.9 912.0L1321.5 914.7L1323.1 917.6L1324.7 915.8L1326.2 914.4L1327.8 916.0L1329.4 912.3L1331.0 916.5" stroke="#ff8000"/><path d="M1331.0 919.5L1332.6 917.0L1334.2 916.5L1335.8 910.2L1337.4 916.0L1338.9 916.6L1340.5 917.4L1342.1 918.5L1343.7 920.9L1345.3 919.1L1346.9 918.3L1348.5 918.7L1350.1 916.4L1351.7 919.3L1353.3 914.8L1354.8 917.0L1356.4 919.0L1358.0 915.8L1359.6 919.7L1361.2 918.8L1362.8 919.7L1364.4 916.2L1366.0 918.8L1367.6 918.0L1369.2 922.3L1370.7 919.5L1372.3 917.0L1373.9 917.8L1375.5 909.5L1377.1 919.3L1378.7 918.4L1380.3 919.4L1381.9 919.1L1383.5 919.7L1385.1 914.2L1386.6 917.9L1388.2 918.7L1389.8 920.4L1391.4 914.9L1393.0 917.8L1394.6 912.9L1396.2 916.6L1397.8 918.7L1399.4 913.6L1401.0 915.8L1402.5 919.5L1404.1 915.7L1405.7 917.0L1407.3 919.9L1408.9 919.1L1410.5 915.9L1412.1 914.4L1413.7 920.4L1415.3 917.7L1416.9 916.9L1418.4 916.8L1420.0 917.1L1421.6 916.4L1423.2 917.0L1424.8 918.3L1426.4 916.5L1428.0 921.2L1429.6 915.6L1431.2 919.8L1432.8 918.1L1434.3 919.2L1435.9 915.3L1437.5 917.7L1439.1 920.0L1440.7 920.1L1442.3 918.4L1443.9 918.1L1445.5 920.9L1447.1 912.2L1448.7 913.0L1450.2 917.2L1451.8 919.2L1453.4 918.9L1455.0 919.3L1456.6 914.4L1458.2 916.6L1459.8 920.9L1461.4 915.8L1463.0 919.2L1464.6 919.4L1466.1 922.2L1467.7 916.8L1469.3 919.8L1470.9 920.1L1472.5 916.2L1474.1 912.4L1475.7 919.0L1477.3 919.0L1478.9 919.1L1480.5 915.1L1482.0 914.6L1483.6 916.7L1485.2 916.7L1486.8 918.1L1488.4 917.7L1490.0 916.7L1491.6 916.4L1493.2 914.8L1494.8 919.2L1496.4 914.9L1497.9 914.0L1499.5 917.1L1501.1 917.1L1502.7 919.4L1504.3 916.8L1505.9 920.5" stroke="#ff8000"/><path d="M500.9 918.3L502.5 913.7L504.1 920.6L505.7 918.8L507.3 922.3L508.9 918.0L510.5 919.7L512.1 915.9L513.7 919.2L515.3 922.3L516.9 917.9L518.5 916.4L520.1 914.8L521.7 916.7L523.3 914.6L524.9 918.8L526.5 920.1L528.1 920.8L529.7 918.1L531.3 915.8L532.9 921.2L534.5 919.2L536.1 918.9L537.7 907.8L539.3 913.8L540.9 917.9L542.5 918.1L544.1 919.8L545.7 919.9L547.3 920.4L548.9 918.6L550.6 920.1L552.2 913.9L553.8 915.6L555.4 913.9L557.0 918.2L558.6 918.1" stroke="#ff6000"/><path d="M1197.9 922.6L1199.5 921.8L1201.1 921.3L1202.7 919.6L1204.3 918.6L1205.9 918.1L1207.5 919.4L1209.2 919.3L1210.8 920.0L1212.4 920.6L1214.0 918.4L1215.6 919.3L1217.2 918.6L1218.8 919.3L1220.4 914.9L1222.0 914.4L1223.6 918.7L1225.2 919.4L1226.8 919.9L1228.4 918.9L1230.0 922.3L1231.6 923.5L1233.2 918.5L1234.8 918.4L1236.4 917.8L1238.0 921.5L1239.6 919.1L1241.2 918.1L1242.8 919.6L1244.4 923.0L1246.0 922.8L1247.6 920.7L1249.2 919.0L1250.8 918.3L1252.4 921.1L1254.0 918.8L1255.6 920.7L1257.3 921.6L1258.9 914.6L1260.5 916.8L1262.1 918.7L1263.7 919.4L1265.3 921.0L1266.9 919.8L1268.5 915.1L1270.1 921.2L1271.7 920.7L1273.3 921.3L1274.9 922.3L1276.5 922.4L1278.1 924.1L1279.7 911.5L1281.3 919.0L1282.9 921.8L1284.5 920.9L1286.1 922.4L1287.7 914.0L1289.3 920.8L1290.9 919.8L1292.5 921.5L1294.1 920.3L1295.7 918.9L1297.3 918.6L1298.9 921.2L1300.5 920.2L1302.1 920.9L1303.7 918.8L1305.3 919.4L1307.0 920.3L1308.6 919.9L1310.2 921.5L1311.8 924.2L1313.4 922.4L1315.0 919.5L1316.6 918.0L1318.2 921.8L1319.8 922.0L1321.4 923.4L1323.0 921.5L1324.6 915.2L1326.2 921.2L1327.8 918.0L1329.4 922.3L1331.0 918.8" stroke="#ff6000"/><path d="M1331.0 920.3L1332.6 915.3L1334.2 920.1L1335.8 919.8L1337.3 918.7L1338.9 918.7L1340.5 918.9L1342.1 918.2L1343.7 920.5L1345.3 920.8L1346.8 917.9L1348.4 919.9L1350.0 919.9L1351.6 920.5L1353.2 918.1L1354.8 919.9L1356.3 916.9L1357.9 916.9L1359.5 919.7L1361.1 920.6L1362.7 918.8L1364.3 915.5L1365.9 920.2L1367.4 917.4L1369.0 919.9L1370.6 914.8L1372.2 914.7L1373.8 920.3L1375.4 918.4L1376.9 918.3L1378.5 918.1L1380.1 919.6L1381.7 918.4L1383.3 916.9L1384.9 914.4L1386.4 916.3L1388.0 915.2L1389.6 916.5L1391.2 919.9L1392.8 919.1L1394.4 916.2" stroke="#ff6000"/><path d="M1394.4 912.9L1396.0 917.6L1397.6 918.0L1399.2 915.8L1400.8 915.7L1402.4 914.4L1404.0 916.8L1405.6 917.1L1407.2 915.0L1408.8 914.7L1410.4 916.5L1412.1 915.0L1413.7 917.5L1415.3 916.0L1416.9 915.6L1418.5 916.8L1420.1 913.6L1421.7 919.3L1423.3 916.1L1424.9 914.7L1426.5 910.0L1428.1 910.9L1429.7 911.1L1431.3 916.1L1433.0 914.8L1434.6 918.6L1436.2 916.1L1437.8 913.8L1439.4 916.1L1441.0 915.9L1442.6 915.2L1444.2 914.5L1445.8 913.5L1447.4 912.6L1449.0 915.2L1450.6 912.6L1452.2 914.8L1453.9 911.0L1455.5 912.8L1457.1 912.7L1458.7 914.8L1460.3 915.7L1461.9 915.2L1463.5 916.8L1465.1 917.0L1466.7 916.5L1468.3 914.3L1469.9 909.3L1471.5 914.1L1473.1 916.7L1474.8 914.0L1476.4 918.0L1478.0 918.3L1479.6 920.0L1481.2 913.2L1482.8 911.1L1484.4 915.9L1486.0 918.5L1487.6 915.0L1489.2 915.7L1490.8 910.7L1492.4 910.7L1494.1 915.3L1495.7 914.5L1497.3 914.8L1498.9 917.8L1500.5 912.7L1502.1 914.8" stroke="#ff6000"/><path d="M190.4 916.7L192.0 916.8L193.6 915.0L195.2 918.4L196.7 916.9L198.3 918.5L199.9 917.0L201.5 916.8L203.1 915.4L204.7 915.5L206.2 915.1L207.8 914.9L209.4 914.1L211.0 914.4L212.6 917.8L214.2 917.0L215.7 916.0L217.3 914.2L218.9 911.3L220.5 910.6L222.1 916.5L223.7 913.4L225.3 914.8L226.8 918.0L228.4 914.8L230.0 917.9L231.6 916.1L233.2 915.9L234.8 914.2L236.3 916.5L237.9 917.7L239.5 914.2L241.1 916.3L242.7 914.7L244.3 919.3L245.8 915.5L247.4 910.2L249.0 916.5L250.6 917.6L252.2 915.1L253.8 915.6L255.4 915.1L256.9 913.7L258.5 914.5L260.1 915.7L261.7 916.1L263.3 914.3L264.9 916.4L266.4 916.0L268.0 913.5L269.6 913.6L271.2 916.0L272.8 912.8L274.4 916.7L275.9 916.5L277.5 916.5L279.1 914.4L280.7 911.7L282.3 916.5L283.9 917.7L285.4 917.4L287.0 915.4L288.6 916.7L290.2 916.9L291.8 915.5L293.4 916.5L295.0 918.6L296.5 917.3L298.1 916.8L299.7 917.3L301.3 917.4L302.9 916.2L304.5 912.0L306.0 917.6L307.6 912.7L309.2 916.1L310.8 918.0L312.4 914.5L314.0 915.6L315.5 920.2L317.1 916.4L318.7 913.5L320.3 919.8L321.9 917.1L323.5 915.3L325.1 911.1L326.6 915.5L328.2 915.8L329.8 914.7L331.4 911.9L333.0 912.8L334.6 915.2L336.1 915.5L337.7 918.1L339.3 914.0L340.9 916.1L342.5 915.8L344.1 911.4L345.6 914.7L347.2 915.8L348.8 914.5L350.4 913.2L352.0 916.8L353.6 915.2L355.2 911.6L356.7 916.2L358.3 915.7L359.9 918.1L361.5 917.1L363.1 919.2L364.7 914.0L366.2 915.5L367.8 914.1L369.4 919.0L371.0 915.1L372.6 916.8L374.2 916.5L375.7 915.9L377.3 917.8L378.9 918.8L380.5 915.5L382.1 914.2L383.7 914.2L385.3 913.9L386.8 914.8L388.4 913.2L390.0 914.8L391.6 914.2L393.2 911.6L394.8 918.4L396.3 915.3L397.9 912.2L399.5 911.7L401.1 916.1L402.7 919.1L404.3 914.7L405.8 910.0L407.4 917.3L409.0 916.7L410.6 912.2L412.2 916.0L413.8 915.7L415.4 917.4L416.9 914.2L418.5 911.6L420.1 913.8L421.7 916.0L423.3 914.3L424.9 916.9L426.4 916.9L428.0 915.2L429.6 916.0L431.2 915.7L432.8 915.4L434.4 915.5L435.9 907.2L437.5 917.9L439.1 915.3L440.7 918.5L442.3 911.4L443.9 917.1L445.5 915.3L447.0 912.2L448.6 916.6L450.2 915.4L451.8 918.6L453.4 913.5L455.0 912.3L456.5 910.3L458.1 914.0L459.7 914.1" stroke="#ff4000"/><path d="M1091.5 911.3L1093.1 915.5L1094.7 913.0L1096.2 910.5L1097.8 914.3L1099.4 915.6L1101.0 913.5L1102.6 914.4L1104.2 913.5L1105.8 917.6L1107.4 910.8L1109.0 913.0L1110.6 917.5L1112.2 916.3L1113.8 918.8L1115.4 915.8L1116.9 915.6L1118.5 918.6L1120.1 916.9L1121.7 916.9L1123.3 917.9L1124.9 916.5L1126.5 919.0L1128.1 917.1L1129.7 914.5L1131.3 917.4L1132.9 915.8L1134.5 917.6L1136.0 919.3L1137.6 918.7L1139.2 911.6L1140.8 918.4L1142.4 917.7L1144.0 918.5L1145.6 917.4L1147.2 913.9L1148.8 915.4L1150.4 916.1L1152.0 913.5L1153.6 915.1L1155.1 914.8L1156.7 910.4L1158.3 916.2L1159.9 919.3L1161.5 914.0L1163.1 915.2L1164.7 916.9L1166.3 915.0L1167.9 912.9L1169.5 911.6L1171.1 916.2L1172.7 914.1L1174.3 914.4L1175.8 918.1L1177.4 917.0L1179.0 915.1L1180.6 914.6L1182.2 911.4L1183.8 919.3L1185.4 916.6L1187.0 920.2L1188.6 916.2L1190.2 915.1L1191.8 918.4L1193.4 914.3L1194.9 919.5L1196.5 918.1L1198.1 913.0L1199.7 918.8L1201.3 919.3L1202.9 918.3L1204.5 916.5L1206.1 917.1L1207.7 916.8L1209.3 918.6L1210.9 918.9L1212.5 919.7L1214.0 914.3L1215.6 920.1L1217.2 914.3L1218.8 915.6L1220.4 914.7L1222.0 916.4L1223.6 914.8L1225.2 918.0L1226.8 916.2L1228.4 916.1L1230.0 917.3L1231.6 918.3L1233.2 917.6L1234.7 915.3L1236.3 916.0L1237.9 916.1L1239.5 913.7L1241.1 917.4L1242.7 917.2L1244.3 908.9L1245.9 918.8L1247.5 919.4L1249.1 916.2L1250.7 916.0L1252.3 911.0L1253.8 913.8L1255.4 914.9L1257.0 917.3L1258.6 916.4L1260.2 918.6L1261.8 917.8L1263.4 916.8L1265.0 915.8L1266.6 913.7L1268.2 917.4L1269.8 912.6L1271.4 915.9L1272.9 915.5L1274.5 913.1L1276.1 915.9L1277.7 917.4L1279.3 913.7L1280.9 914.4L1282.5 915.2L1284.1 917.6L1285.7 913.4L1287.3 916.6" stroke="#ff4000"/><path d="M668.8 916.4L670.4 920.5L672.0 918.5L673.6 920.3L675.2 920.0L676.8 917.2L678.3 921.6L679.9 920.3L681.5 918.6L683.1 920.7L684.7 917.9L686.3 918.1L687.9 924.2L689.4 918.1L691.0 920.3L692.6 919.9L694.2 918.7L695.8 917.8L697.4 921.0L699.0 917.4L700.5 914.1L702.1 920.9L703.7 922.1L705.3 914.7L706.9 916.1L708.5 915.6L710.1 920.4L711.7 919.1L713.2 921.0L714.8 919.2L716.4 922.6L718.0 920.2L719.6 916.8L721.2 920.2L722.8 917.4L724.3 916.9L725.9 917.3L727.5 921.0L729.1 921.4L730.7 914.7L732.3 914.2L733.9 915.5L735.5 917.1L737.0 921.6L738.6 919.1L740.2 915.0L741.8 917.0L743.4 916.0L745.0 918.6L746.6 919.7L748.1 915.9L749.7 920.9L751.3 921.0L752.9 920.1L754.5 920.0L756.1 919.4L757.7 921.4L759.3 918.6L760.8 920.1L762.4 921.3L764.0 921.4L765.6 920.9L767.2 919.2L768.8 918.9L770.4 920.8L771.9 923.1L773.5 918.8L775.1 917.3L776.7 915.7L778.3 914.7L779.9 919.6L781.5 918.3L783.0 918.0L784.6 920.1L786.2 917.3L787.8 920.0L789.4 920.1L791.0 920.2L792.6 920.5L794.2 919.9L795.7 915.1L797.3 914.3L798.9 919.0L800.5 921.4L802.1 914.0L803.7 919.1L805.3 918.9L806.8 922.0L808.4 921.3L810.0 918.8L811.6 919.3L813.2 917.9L814.8 919.0L816.4 917.7L818.0 918.7L819.5 918.9L821.1 919.4L822.7 919.3L824.3 918.8L825.9 919.9L827.5 919.0L829.1 915.2L830.6 919.6L832.2 919.5L833.8 921.0L835.4 922.1L837.0 922.4L838.6 920.7L840.2 923.5L841.8 919.2L843.3 919.2L844.9 919.2L846.5 921.6L848.1 919.5L849.7 920.3L851.3 920.8L852.9 919.5L854.4 920.1L856.0 922.1L857.6 917.4L859.2 920.5L860.8 917.6L862.4 920.0L864.0 921.6L865.6 921.5L867.1 922.1L868.7 919.3L870.3 919.3L871.9 918.2L873.5 922.5L875.1 922.1L876.7 916.3L878.2 918.9L879.8 913.8" stroke="#ff2000"/><path d="M1571.8 917.3L1573.4 917.0L1575.0 916.9L1576.6 918.5L1578.2 912.6L1579.8 915.7L1581.4 916.8L1583.0 919.9L1584.6 917.1L1586.2 921.0L1587.8 916.5L1589.4 921.2L1591.0 918.3L1592.6 917.5L1594.2 916.0L1595.8 913.2L1597.4 911.3L1599.0 920.3L1600.6 917.3L1602.2 917.6L1603.8 917.2L1605.4 917.3L1607.0 919.0L1608.6 918.1L1610.3 918.4L1611.9 918.9L1613.5 916.1L1615.1 917.0L1616.7 914.5L1618.3 918.6L1619.9 913.9L1621.5 920.5L1623.1 916.5L1624.7 913.9L1626.3 918.3L1627.9 917.7L1629.5 917.6L1631.1 920.0L1632.7 917.2L1634.3 916.8L1635.9 915.4L1637.5 917.9L1639.1 914.9L1640.7 915.7L1642.3 915.4L1643.9 917.2L1645.5 918.3L1647.1 916.0L1648.7 919.5L1650.3 918.0L1651.9 916.3L1653.5 917.6L1655.1 919.2L1656.7 918.1L1658.3 915.6L1659.9 918.6L1661.5 917.3L1663.1 915.1L1664.7 918.6L1666.3 914.6L1667.9 916.8L1669.5 915.8L1671.1 919.1L1672.7 920.4L1674.3 916.3L1675.9 916.2L1677.6 911.8L1679.2 919.3L1680.8 919.9L1682.4 912.3L1684.0 918.9L1685.6 917.2L1687.2 916.1L1688.8 916.6L1690.4 918.5L1692.0 918.0L1693.6 917.7L1695.2 917.5L1696.8 919.2L1698.4 920.0L1700.0 917.1L1701.6 916.4L1703.2 918.1L1704.8 916.5L1706.4 917.7L1708.0 917.0L1709.6 915.5L1711.2 913.6" stroke="#ff2000"/><path d="M567.4 918.5L569.0 915.1L570.6 913.8L572.2 916.9L573.8 918.8L575.4 915.6L576.9 919.9L578.5 916.3L580.1 916.8L581.7 918.0L583.3 913.7L584.9 920.0L586.4 913.7L588.0 919.8L589.6 919.8L591.2 922.0L592.8 918.1L594.4 915.3L595.9 919.0L597.5 915.2L599.1 917.6L600.7 920.1L602.3 913.8L603.9 917.9L605.5 920.0L607.0 920.0L608.6 920.5L610.2 917.7L611.8 917.9L613.4 916.4L615.0 916.2L616.5 916.0L618.1 916.3L619.7 915.9L621.3 914.7L622.9 914.9L624.5 912.9L626.0 922.0L627.6 916.5L629.2 920.1L630.8 915.2L632.4 919.0L634.0 918.6L635.6 916.8L637.1 914.1L638.7 920.2L640.3 918.2L641.9 915.4L643.5 917.1L645.1 916.9L646.6 915.5L648.2 910.9L649.8 918.3L651.4 914.7L653.0 915.3L654.6 919.2L656.1 913.5L657.7 910.7L659.3 916.8L660.9 918.5L662.5 917.8L664.1 916.5L665.6 914.3L667.2 914.6L668.8 916.7L670.4 915.1L672.0 918.4L673.6 915.3L675.2 919.4L676.7 916.8L678.3 915.3L679.9 918.0L681.5 916.4L683.1 916.3L684.7 916.1L686.2 919.8L687.8 919.1L689.4 913.4L691.0 917.5L692.6 919.2L694.2 913.5L695.7 913.4L697.3 913.7L698.9 918.3L700.5 917.1L702.1 917.2L703.7 917.6L705.3 917.1L706.8 913.7L708.4 914.3L710.0 918.0L711.6 915.4L713.2 915.5L714.8 919.0L716.3 915.9L717.9 915.5L719.5 916.6L721.1 919.3L722.7 918.4L724.3 912.5L725.8 917.3L727.4 914.4L729.0 921.2L730.6 916.3L732.2 917.7L733.8 917.2L735.4 915.6L736.9 919.3L738.5 918.0L740.1 915.7L741.7 917.3L743.3 918.5L744.9 917.9L746.4 920.0L748.0 917.3L749.6 917.8L751.2 917.4L752.8 912.4L754.4 910.7L755.9 919.6L757.5 918.3L759.1 917.1L760.7 920.5" stroke="#bf0000"/><path d="M1445.1 915.7L1446.7 914.9L1448.2 916.5L1449.8 914.6L1451.4 914.6L1453.0 913.8L1454.6 915.1L1456.2 914.3L1457.8 916.1L1459.4 913.9L1461.0 910.3L1462.6 913.1L1464.2 915.2L1465.8 912.0L1467.4 915.8L1469.0 914.6L1470.6 918.1L1472.2 910.2L1473.7 908.7L1475.3 908.6L1476.9 912.4L1478.5 913.2L1480.1 911.3L1481.7 913.5L1483.3 911.8L1484.9 914.3L1486.5 911.1L1488.1 915.5L1489.7 914.1L1491.3 911.1L1492.9 913.7L1494.5 917.7L1496.1 916.7L1497.7 914.9L1499.2 916.5L1500.8 910.6L1502.4 915.9L1504.0 912.3L1505.6 914.4L1507.2 914.1L1508.8 914.5L1510.4 914.2L1512.0 910.8L1513.6 913.6L1515.2 912.8L1516.8 917.7L1518.4 907.8L1520.0 911.4L1521.6 914.0L1523.1 909.7L1524.7 914.4L1526.3 911.4L1527.9 912.3L1529.5 915.8L1531.1 916.2L1532.7 913.2L1534.3 911.3L1535.9 913.2L1537.5 914.0L1539.1 911.4L1540.7 911.2L1542.3 913.9L1543.9 908.8L1545.5 913.9L1547.1 915.7L1548.6 916.1L1550.2 914.3L1551.8 913.3L1553.4 915.5L1555.0 916.1L1556.6 916.8L1558.2 914.0L1559.8 914.5L1561.4 910.3L1563.0 914.0L1564.6 914.0L1566.2 912.8L1567.8 914.1L1569.4 916.2L1571.0 912.9L1572.6 917.3L1574.1 913.9L1575.7 917.6L1577.3 917.1L1578.9 913.2L1580.5 918.1L1582.1 915.3L1583.7 916.7L1585.3 914.9L1586.9 919.0L1588.5 915.0L1590.1 914.8L1591.7 913.0L1593.3 914.7L1594.9 913.6L1596.5 912.6L1598.1 914.7L1599.6 915.7L1601.2 914.0L1602.8 916.4L1604.4 912.7L1606.0 911.1L1607.6 913.1L1609.2 912.7L1610.8 911.9L1612.4 915.0L1614.0 914.1L1615.6 918.5L1617.2 915.0L1618.8 910.8L1620.4 915.3L1622.0 913.8L1623.5 915.3L1625.1 914.6L1626.7 914.3L1628.3 911.7L1629.9 913.2L1631.5 912.8L1633.1 912.2L1634.7 912.7L1636.3 913.2L1637.9 913.5L1639.5 917.2L1641.1 914.1L1642.7 913.7L1644.3 912.9L1645.9 915.9L1647.5 910.7L1649.0 914.7L1650.6 912.3L1652.2 913.5L1653.8 914.6L1655.4 913.6L1657.0 916.1L1658.6 916.8L1660.2 917.5L1661.8 914.1L1663.4 913.7L1665.0 915.6L1666.6 913.1L1668.2 916.4L1669.8 915.8L1671.4 913.6L1673.0 918.4L1674.5 917.7L1676.1 915.9L1677.7 913.5L1679.3 911.6L1680.9 914.4L1682.5 910.8L1684.1 912.8L1685.7 911.1L1687.3 907.2L1688.9 906.0L1690.5 917.2L1692.1 915.8L1693.7 916.6L1695.3 910.7L1696.9 917.6L1698.5 915.4L1700.0 911.5L1701.6 916.7L1703.2 918.0L1704.8 914.6L1706.4 914.9L1708.0 915.2L1709.6 913.4L1711.2 915.1" stroke="#bf0000"/><path d="M190.4 913.8L192.0 916.4L193.6 916.1L195.2 913.5L196.7 917.0L198.3 910.2L199.9 914.8L201.5 913.8L203.1 912.7L204.7 914.8L206.2 915.3L207.8 914.2L209.4 910.8L211.0 915.6L212.6 913.3L214.2 910.6L215.7 917.2L217.3 915.9L218.9 917.7L220.5 914.3L222.1 912.1L223.7 910.1L225.3 916.7L226.8 913.5L228.4 914.3L230.0 915.8L231.6 913.1L233.2 915.1L234.8 915.7L236.3 916.1L237.9 914.7L239.5 915.5L241.1 915.4L242.7 913.1L244.3 916.9L245.8 914.3L247.4 915.0L249.0 916.1L250.6 915.4L252.2 914.7L253.8 917.5L255.4 918.1L256.9 911.4L258.5 911.8L260.1 915.4L261.7 918.9L263.3 918.1L264.9 912.0L266.4 913.6L268.0 914.5L269.6 915.5L271.2 910.8L272.8 914.9L274.4 914.0L275.9 917.2L277.5 919.6L279.1 915.7L280.7 916.6L282.3 915.1L283.9 912.2L285.4 916.5L287.0 918.9L288.6 916.5L290.2 914.6L291.8 916.9L293.4 914.4L295.0 916.9L296.5 916.4L298.1 912.1L299.7 916.5L301.3 915.6L302.9 913.4L304.5 913.1L306.0 916.7L307.6 919.4L309.2 913.5L310.8 915.4L312.4 912.2L314.0 912.0L315.5 920.3L317.1 917.3L318.7 913.6L320.3 916.2L321.9 914.9L323.5 911.5L325.1 917.6L326.6 911.3L328.2 913.7L329.8 913.9L331.4 913.8L333.0 916.4L334.6 914.2L336.1 913.7L337.7 914.8L339.3 917.6L340.9 913.2L342.5 911.8L344.1 913.9L345.6 910.3L347.2 913.2L348.8 915.7L350.4 917.6L352.0 915.1L353.6 916.3L355.2 913.8L356.7 908.7L358.3 911.4L359.9 909.9L361.5 912.9L363.1 916.1L364.7 914.9L366.2 909.1L367.8 913.0L369.4 915.0L371.0 910.4" stroke="#9f0000"/><path d="M964.1 914.5L965.7 920.1L967.3 915.6L968.9 914.9L970.5 919.2L972.0 910.9L973.6 917.9L975.2 919.3L976.8 915.7L978.4 919.4L980.0 916.8L981.6 917.3L983.2 917.8L984.7 920.1L986.3 915.8L987.9 913.6L989.5 916.4L991.1 921.8L992.7 915.4L994.3 915.3L995.9 915.8L997.4 919.0L999.0 917.6L1000.6 918.6L1002.2 916.2L1003.8 920.9L1005.4 920.3L1007.0 918.7L1008.6 913.8L1010.1 914.3L1011.7 915.1L1013.3 919.8L1014.9 917.2L1016.5 920.3L1018.1 915.6L1019.7 920.6L1021.3 917.1L1022.8 921.2L1024.4 920.6L1026.0 918.0L1027.6 915.3L1029.2 918.0L1030.8 919.1L1032.4 917.9L1034.0 911.3L1035.5 921.1L1037.1 919.7L1038.7 918.8L1040.3 917.6L1041.9 917.1L1043.5 921.1L1045.1 918.6L1046.7 913.2L1048.2 921.6L1049.8 919.6L1051.4 921.8L1053.0 921.1L1054.6 916.1L1056.2 917.6L1057.8 918.3L1059.4 917.2L1060.9 919.6L1062.5 920.3L1064.1 916.1L1065.7 922.5L1067.3 919.7L1068.9 918.7L1070.5 920.6L1072.1 921.0L1073.6 919.8L1075.2 914.1L1076.8 915.1L1078.4 917.7L1080.0 920.3L1081.6 915.9L1083.2 917.6L1084.7 919.0L1086.3 919.1L1087.9 917.9L1089.5 920.5L1091.1 919.2L1092.7 914.5L1094.3 920.9L1095.9 917.1L1097.4 917.0L1099.0 918.0L1100.6 921.3L1102.2 916.7L1103.8 917.7L1105.4 917.6L1107.0 920.0L1108.6 920.3L1110.1 916.8L1111.7 917.0L1113.3 921.3L1114.9 918.5L1116.5 918.1L1118.1 916.6L1119.7 918.9L1121.3 921.8L1122.8 920.3L1124.4 920.6L1126.0 918.0L1127.6 914.7L1129.2 917.6L1130.8 920.9L1132.4 915.4L1134.0 919.9L1135.5 919.5L1137.1 915.5L1138.7 919.2L1140.3 916.0L1141.9 915.3L1143.5 919.5L1145.1 920.3L1146.7 916.8L1148.2 919.0L1149.8 917.5L1151.4 918.4L1153.0 915.6L1154.6 918.7L1156.2 920.8L1157.8 918.3L1159.4 915.6L1160.9 918.4L1162.5 918.7L1164.1 918.1L1165.7 922.9L1167.3 918.4L1168.9 919.0L1170.5 920.7L1172.1 918.7L1173.6 920.1L1175.2 922.2L1176.8 922.5L1178.4 919.2L1180.0 913.7L1181.6 918.1L1183.2 918.6L1184.8 918.7L1186.3 917.8L1187.9 922.2L1189.5 916.1L1191.1 920.0L1192.7 918.5L1194.3 916.8L1195.9 916.9L1197.5 921.3L1199.0 921.4L1200.6 913.4L1202.2 921.9L1203.8 918.6L1205.4 918.0L1207.0 913.8L1208.6 916.4L1210.2 914.2L1211.7 920.3L1213.3 917.3L1214.9 919.5L1216.5 918.6L1218.1 918.4L1219.7 920.2L1221.3 917.7L1222.9 920.0L1224.4 921.3L1226.0 917.2L1227.6 919.2L1229.2 918.0L1230.8 920.2L1232.4 920.5L1234.0 918.3L1235.6 917.5L1237.1 922.4L1238.7 922.0L1240.3 918.1L1241.9 918.2L1243.5 919.5L1245.1 918.5L1246.7 918.6L1248.3 919.8L1249.8 917.9L1251.4 922.1L1253.0 917.7L1254.6 918.0L1256.2 916.7L1257.8 919.1L1259.4 913.4L1261.0 913.3L1262.5 917.8L1264.1 919.3L1265.7 918.4L1267.3 921.2L1268.9 920.5L1270.5 918.9L1272.1 917.7L1273.6 918.6L1275.2 913.8" stroke="#9f0000"/><path d="M203.9 916.6L205.4 917.4L207.0 916.6L208.6 912.2L210.2 912.2L211.8 908.2L213.4 906.2L215.0 904.9L216.5 907.0L218.1 908.6L219.7 908.5L221.3 909.2L222.9 914.5L224.5 917.2L226.0 916.8L227.6 917.2" stroke="#0000bf"/><path d="M217.3 917.3L218.9 914.9L220.5 914.6L222.1 911.5L223.7 914.0L225.3 904.2L226.8 911.5L228.4 912.7L230.0 916.1L231.6 915.7L233.2 917.8" stroke="#0000bf"/><path d="M230.0 916.8L231.6 916.1L233.2 914.9L234.8 914.5L236.3 912.2L237.9 907.2L239.5 913.7L241.1 914.4L242.7 916.0L244.3 917.5L245.8 917.9" stroke="#0000df"/><path d="M318.4 916.8L320.1 911.2L321.8 898.9L323.5 891.3L325.2 910.3L326.8 908.6L328.5 916.7" stroke="#20ffdf"/><path d="M331.1 917.4L332.8 916.3L334.5 914.3L336.1 905.0L337.8 908.5L339.5 916.1L341.2 917.1" stroke="#20ffdf"/><path d="M343.7 917.0L345.4 913.6L347.1 905.9L348.8 896.9L350.5 907.4L352.2 910.1L353.9 916.0" stroke="#0000df"/><path d="M350.1 916.7L351.8 911.8L353.5 903.7L355.2 899.5L356.8 909.3L358.5 913.5L360.2 917.0" stroke="#0000df"/><path d="M361.5 918.0L363.1 911.4L364.7 914.2L366.2 903.2L367.8 900.3L369.4 906.5L371.0 911.9L372.6 914.9L374.2 916.8" stroke="#9f0000"/><path d="M394.4 915.7L396.1 914.0L397.8 908.7L399.5 895.1L401.2 907.0L402.9 909.4L404.6 915.9" stroke="#00ffff"/><path d="M419.8 918.0L421.5 914.3L423.2 909.7L424.9 905.1L426.5 914.7L428.2 914.9L429.9 917.4" stroke="#ff8000"/><path d="M432.5 917.3L434.2 913.7L435.8 910.0L437.5 902.4L439.2 909.3L440.9 913.5L442.6 916.6" stroke="#ff8000"/><path d="M451.5 915.5L453.2 906.6L454.9 895.0L456.5 872.8L458.2 897.4L459.9 906.4L461.6 916.0" stroke="#ff4000"/><path d="M461.0 917.9L462.7 915.3L464.4 911.3L466.0 900.8L467.7 909.3L469.4 915.7L471.1 917.2" stroke="#00ffff"/><path d="M533.8 917.3L535.5 915.5L537.2 911.5L538.9 905.4L540.6 912.7L542.3 915.9L544.0 917.0" stroke="#dfff20"/><path d="M568.7 916.9L570.4 911.2L572.1 908.4L573.8 895.4L575.5 909.2L577.1 910.3L578.8 916.8" stroke="#bf0000"/><path d="M609.4 917.5L611.0 913.7L612.6 909.3L614.2 904.3L615.7 904.1L617.3 902.8L618.9 897.7L620.5 889.6L622.1 905.7L623.7 896.4L625.3 906.0L626.8 900.5L628.4 909.5L630.0 911.5L631.6 914.4L633.2 916.8" stroke="#bf0000"/><path d="M641.6 917.3L643.3 913.2L645.0 911.1L646.6 900.7L648.3 910.1L650.0 913.5L651.7 916.8" stroke="#0000ff"/><path d="M678.3 916.4L679.9 915.6L681.5 911.6L683.1 908.1L684.7 901.4L686.2 909.1L687.8 910.5L689.4 913.2L691.0 917.3" stroke="#ff2000"/><path d="M692.3 916.6L694.0 915.0L695.6 910.5L697.3 899.2L699.0 911.5L700.7 911.9L702.4 918.4" stroke="#0000ff"/><path d="M717.6 916.2L719.3 913.8L721.0 908.9L722.7 891.7L724.4 907.5L726.1 911.6L727.7 917.8" stroke="#0000ff"/><path d="M698.6 917.3L700.3 909.6L702.0 901.1L703.7 896.0L705.4 905.8L707.0 911.2L708.7 917.4" stroke="#ff2000"/><path d="M768.3 914.7L770.0 908.2L771.7 897.3L773.4 879.7L775.1 907.9L776.8 907.1L778.4 913.6" stroke="#ff2000"/><path d="M784.1 916.0L785.8 905.4L787.5 893.5L789.2 880.9L790.9 902.5L792.6 907.6L794.3 915.8" stroke="#00ffff"/><path d="M801.9 917.0L803.5 914.0L805.1 911.4L806.6 897.5L808.2 890.9L809.8 900.5L811.4 913.3L813.0 914.3L814.6 915.6" stroke="#009fff"/><path d="M812.7 917.8L814.4 911.1L816.0 910.8L817.7 896.5L819.4 902.1L821.1 913.0L822.8 914.5" stroke="#009fff"/><path d="M838.0 916.3L839.7 915.8L841.4 911.3L843.1 902.2L844.8 911.9L846.5 915.5L848.1 917.9" stroke="#009fff"/><path d="M850.7 917.7L852.4 914.2L854.1 909.9L855.8 900.0L857.4 910.9L859.1 914.0L860.8 916.3" stroke="#009fff"/><path d="M920.4 915.8L922.1 914.9L923.8 909.9L925.5 896.6L927.1 904.5L928.8 911.4L930.5 917.5" stroke="#0000ff"/><path d="M925.5 917.5L927.0 917.1L928.6 911.2L930.2 913.6L931.8 903.9L933.4 910.4L935.0 911.7L936.5 913.9L938.1 917.8" stroke="#0000ff"/><path d="M961.6 913.1L963.3 910.1L965.0 897.6L966.6 882.3L968.3 904.9L970.0 910.0L971.7 915.6" stroke="#9f0000"/><path d="M973.0 915.4L974.6 908.9L976.1 903.4L977.7 896.0L979.3 888.4L980.9 902.3L982.5 901.9L984.1 907.3L985.7 916.1" stroke="#9f0000"/><path d="M983.8 916.7L985.4 905.7L987.1 895.0L988.8 886.9L990.5 906.3L992.2 908.9L993.9 917.2" stroke="#9f0000"/><path d="M967.9 912.7L969.6 909.6L971.3 908.6L973.0 883.3L974.7 895.2L976.4 905.1L978.0 914.7" stroke="#0000ff"/><path d="M1072.5 912.9L1074.2 909.6L1075.8 887.4L1077.5 863.3L1079.2 880.6L1080.9 911.0L1082.6 915.7" stroke="#009fff"/><path d="M1066.1 913.7L1067.8 906.8L1069.5 898.3L1071.2 891.6L1072.9 903.7L1074.6 914.0L1076.3 917.7" stroke="#009fff"/><path d="M1088.3 916.1L1090.0 912.1L1091.7 902.9L1093.4 896.5L1095.1 909.1L1096.8 910.8L1098.4 916.0" stroke="#009fff"/><path d="M1104.1 917.6L1105.8 914.9L1107.5 911.9L1109.2 909.8L1110.9 915.6L1112.6 917.1L1114.3 917.6" stroke="#ff8000"/><path d="M1140.9 917.1L1142.5 913.3L1144.1 909.6L1145.7 901.9L1147.2 896.5L1148.8 901.2L1150.4 906.0L1152.0 912.8L1153.6 916.8" stroke="#ff4000"/><path d="M1189.7 913.7L1191.4 910.9L1193.1 899.9L1194.8 880.5L1196.5 901.4L1198.1 906.8L1199.8 916.2" stroke="#ff8000"/><path d="M1196.0 914.9L1197.7 912.5L1199.4 902.9L1201.1 886.8L1202.8 903.3L1204.5 909.2L1206.2 916.8" stroke="#ff8000"/><path d="M1215.0 915.3L1216.7 913.5L1218.4 899.7L1220.1 891.4L1221.8 900.5L1223.5 913.4L1225.2 916.4" stroke="#9f0000"/><path d="M1227.7 915.2L1229.4 909.2L1231.1 899.9L1232.8 889.0L1234.5 904.5L1236.2 905.3L1237.9 915.3" stroke="#9f0000"/><path d="M1234.0 915.9L1235.7 915.0L1237.4 901.6L1239.1 896.2L1240.8 911.9L1242.5 912.5L1244.2 917.2" stroke="#9f0000"/><path d="M1243.6 917.3L1245.2 914.4L1246.9 906.6L1248.6 896.5L1250.3 903.5L1252.0 912.6L1253.7 916.3" stroke="#00bfff"/><path d="M1268.9 914.3L1270.6 909.6L1272.3 906.9L1274.0 887.3L1275.7 907.9L1277.3 912.8L1279.0 913.7" stroke="#00ffff"/><path d="M1300.6 917.2L1302.3 913.3L1304.0 904.6L1305.7 901.0L1307.3 906.0L1309.0 915.7L1310.7 917.1" stroke="#0020ff"/><path d="M1364.0 915.6L1365.6 904.3L1367.3 895.6L1369.0 887.1L1370.7 907.1L1372.4 908.7L1374.1 915.7" stroke="#ff8000"/><path d="M1386.1 917.5L1387.8 911.7L1389.5 909.8L1391.2 892.2L1392.9 905.0L1394.6 907.9L1396.3 916.1" stroke="#00ffff"/><path d="M1392.5 916.5L1394.2 914.4L1395.8 904.7L1397.5 895.0L1399.2 901.2L1400.9 914.4L1402.6 915.7" stroke="#00ffff"/><path d="M1440.0 916.0L1441.7 908.5L1443.4 900.5L1445.1 881.1L1446.7 900.8L1448.4 912.6L1450.1 914.2" stroke="#bf0000"/><path d="M1471.7 917.7L1473.4 911.9L1475.1 911.9L1476.7 900.1L1478.4 912.9L1480.1 914.9L1481.8 916.7" stroke="#ff8000"/><path d="M1487.5 915.3L1489.2 910.9L1490.9 908.4L1492.6 896.9L1494.3 911.6L1496.0 910.2L1497.7 917.5" stroke="#ff8000"/><path d="M1497.0 915.9L1498.7 909.9L1500.4 905.6L1502.1 887.3L1503.8 897.0L1505.5 911.7L1507.2 917.7" stroke="#ff8000"/><path d="M1533.8 912.7L1535.4 912.4L1536.9 907.7L1538.5 887.2L1540.1 866.9L1541.7 898.7L1543.3 904.2L1544.9 909.8L1546.4 915.4" stroke="#00dfff"/><path d="M1550.9 916.1L1552.6 913.2L1554.3 905.7L1556.0 896.6L1557.6 903.9L1559.3 913.4L1561.0 915.4" stroke="#00dfff"/><path d="M1560.4 918.7L1562.1 915.7L1563.8 906.4L1565.5 900.7L1567.1 912.7L1568.8 917.4L1570.5 916.9" stroke="#00dfff"/><path d="M1579.4 916.4L1581.1 906.8L1582.8 901.1L1584.5 892.6L1586.2 909.6L1587.8 908.7L1589.5 917.6" stroke="#0020ff"/><path d="M1592.1 916.2L1593.8 908.9L1595.5 908.7L1597.1 889.1L1598.8 905.4L1600.5 907.8L1602.2 916.5" stroke="#0020ff"/><path d="M1579.7 917.1L1581.3 916.0L1582.9 914.7L1584.5 912.8L1586.1 909.8L1587.6 904.3L1589.2 907.7L1590.8 914.2L1592.4 913.8L1594.0 915.1L1595.6 916.8" stroke="#ff2000"/><path d="M1663.7 917.9L1665.3 915.8L1666.8 907.9L1668.4 910.2L1670.0 896.4L1671.6 904.7L1673.2 905.2L1674.8 915.8L1676.3 916.7" stroke="#0020ff"/><path d="M1699.8 918.0L1701.5 913.7L1703.2 907.7L1704.9 904.8L1706.6 912.0L1708.2 915.5L1709.9 917.4" stroke="#ffdf00"/></g></g>
<text transform="translate(179.4,899.3) scale(1,1.05)" text-anchor="end" class="tl">0.1</text>
<text transform="translate(179.4,856.3) scale(1,1.05)" text-anchor="end" class="tl">0.2</text>
<text transform="translate(179.4,770.3) scale(1,1.05)" text-anchor="end" class="tl">0.4</text>
<text transform="translate(179.4,942.3) scale(1,1.05)" text-anchor="end" class="tl">0</text>
<clipPath id="c3"><rect x="190.4" y="938.8" width="1520.8" height="258.0"/></clipPath>
<path d="M253.77 938.8V1196.8M317.13 938.8V1196.8M380.50 938.8V1196.8M443.87 938.8V1196.8M507.23 938.8V1196.8M570.60 938.8V1196.8M633.97 938.8V1196.8M697.33 938.8V1196.8M760.70 938.8V1196.8M824.07 938.8V1196.8M887.43 938.8V1196.8M950.80 938.8V1196.8M1014.17 938.8V1196.8M1077.53 938.8V1196.8M1140.90 938.8V1196.8M1204.27 938.8V1196.8M1267.63 938.8V1196.8M1331.00 938.8V1196.8M1394.37 938.8V1196.8M1457.73 938.8V1196.8M1521.10 938.8V1196.8M1584.47 938.8V1196.8M1647.83 938.8V1196.8" stroke="#262626" stroke-opacity="0.15" stroke-width="4" fill="none"/>
<path d="M190.4 1171.00H1711.2M190.4 1145.20H1711.2M190.4 1093.60H1711.2M190.4 1042.00H1711.2M190.4 990.40H1711.2" stroke="#262626" stroke-opacity="0.15" stroke-width="4" fill="none"/>
<path d="M190.40 938.8v17.0M190.40 1196.8v-17.0M200.96 938.8v9.0M200.96 1196.8v-9.0M211.52 938.8v9.0M211.52 1196.8v-9.0M222.08 938.8v9.0M222.08 1196.8v-9.0M232.64 938.8v9.0M232.64 1196.8v-9.0M243.21 938.8v9.0M243.21 1196.8v-9.0M253.77 938.8v17.0M253.77 1196.8v-17.0M264.33 938.8v9.0M264.33 1196.8v-9.0M274.89 938.8v9.0M274.89 1196.8v-9.0M285.45 938.8v9.0M285.45 1196.8v-9.0M296.01 938.8v9.0M296.01 1196.8v-9.0M306.57 938.8v9.0M306.57 1196.8v-9.0M317.13 938.8v17.0M317.13 1196.8v-17.0M327.69 938.8v9.0M327.69 1196.8v-9.0M338.26 938.8v9.0M338.26 1196.8v-9.0M348.82 938.8v9.0M348.82 1196.8v-9.0M359.38 938.8v9.0M359.38 1196.8v-9.0M369.94 938.8v9.0M369.94 1196.8v-9.0M380.50 938.8v17.0M380.50 1196.8v-17.0M391.06 938.8v9.0M391.06 1196.8v-9.0M401.62 938.8v9.0M401.62 1196.8v-9.0M412.18 938.8v9.0M412.18 1196.8v-9.0M422.74 938.8v9.0M422.74 1196.8v-9.0M433.31 938.8v9.0M433.31 1196.8v-9.0M443.87 938.8v17.0M443.87 1196.8v-17.0M454.43 938.8v9.0M454.43 1196.8v-9.0M464.99 938.8v9.0M464.99 1196.8v-9.0M475.55 938.8v9.0M475.55 1196.8v-9.0M486.11 938.8v9.0M486.11 1196.8v-9.0M496.67 938.8v9.0M496.67 1196.8v-9.0M507.23 938.8v17.0M507.23 1196.8v-17.0M517.79 938.8v9.0M517.79 1196.8v-9.0M528.36 938.8v9.0M528.36 1196.8v-9.0M538.92 938.8v9.0M538.92 1196.8v-9.0M549.48 938.8v9.0M549.48 1196.8v-9.0M560.04 938.8v9.0M560.04 1196.8v-9.0M570.60 938.8v17.0M570.60 1196.8v-17.0M581.16 938.8v9.0M581.16 1196.8v-9.0M591.72 938.8v9.0M591.72 1196.8v-9.0M602.28 938.8v9.0M602.28 1196.8v-9.0M612.84 938.8v9.0M612.84 1196.8v-9.0M623.41 938.8v9.0M623.41 1196.8v-9.0M633.97 938.8v17.0M633.97 1196.8v-17.0M644.53 938.8v9.0M644.53 1196.8v-9.0M655.09 938.8v9.0M655.09 1196.8v-9.0M665.65 938.8v9.0M665.65 1196.8v-9.0M676.21 938.8v9.0M676.21 1196.8v-9.0M686.77 938.8v9.0M686.77 1196.8v-9.0M697.33 938.8v17.0M697.33 1196.8v-17.0M707.89 938.8v9.0M707.89 1196.8v-9.0M718.46 938.8v9.0M718.46 1196.8v-9.0M729.02 938.8v9.0M729.02 1196.8v-9.0M739.58 938.8v9.0M739.58 1196.8v-9.0M750.14 938.8v9.0M750.14 1196.8v-9.0M760.70 938.8v17.0M760.70 1196.8v-17.0M771.26 938.8v9.0M771.26 1196.8v-9.0M781.82 938.8v9.0M781.82 1196.8v-9.0M792.38 938.8v9.0M792.38 1196.8v-9.0M802.94 938.8v9.0M802.94 1196.8v-9.0M813.51 938.8v9.0M813.51 1196.8v-9.0M824.07 938.8v17.0M824.07 1196.8v-17.0M834.63 938.8v9.0M834.63 1196.8v-9.0M845.19 938.8v9.0M845.19 1196.8v-9.0M855.75 938.8v9.0M855.75 1196.8v-9.0M866.31 938.8v9.0M866.31 1196.8v-9.0M876.87 938.8v9.0M876.87 1196.8v-9.0M887.43 938.8v17.0M887.43 1196.8v-17.0M897.99 938.8v9.0M897.99 1196.8v-9.0M908.56 938.8v9.0M908.56 1196.8v-9.0M919.12 938.8v9.0M919.12 1196.8v-9.0M929.68 938.8v9.0M929.68 1196.8v-9.0M940.24 938.8v9.0M940.24 1196.8v-9.0M950.80 938.8v17.0M950.80 1196.8v-17.0M961.36 938.8v9.0M961.36 1196.8v-9.0M971.92 938.8v9.0M971.92 1196.8v-9.0M982.48 938.8v9.0M982.48 1196.8v-9.0M993.04 938.8v9.0M993.04 1196.8v-9.0M1003.61 938.8v9.0M1003.61 1196.8v-9.0M1014.17 938.8v17.0M1014.17 1196.8v-17.0M1024.73 938.8v9.0M1024.73 1196.8v-9.0M1035.29 938.8v9.0M1035.29 1196.8v-9.0M1045.85 938.8v9.0M1045.85 1196.8v-9.0M1056.41 938.8v9.0M1056.41 1196.8v-9.0M1066.97 938.8v9.0M1066.97 1196.8v-9.0M1077.53 938.8v17.0M1077.53 1196.8v-17.0M1088.09 938.8v9.0M1088.09 1196.8v-9.0M1098.66 938.8v9.0M1098.66 1196.8v-9.0M1109.22 938.8v9.0M1109.22 1196.8v-9.0M1119.78 938.8v9.0M1119.78 1196.8v-9.0M1130.34 938.8v9.0M1130.34 1196.8v-9.0M1140.90 938.8v17.0M1140.90 1196.8v-17.0M1151.46 938.8v9.0M1151.46 1196.8v-9.0M1162.02 938.8v9.0M1162.02 1196.8v-9.0M1172.58 938.8v9.0M1172.58 1196.8v-9.0M1183.14 938.8v9.0M1183.14 1196.8v-9.0M1193.71 938.8v9.0M1193.71 1196.8v-9.0M1204.27 938.8v17.0M1204.27 1196.8v-17.0M1214.83 938.8v9.0M1214.83 1196.8v-9.0M1225.39 938.8v9.0M1225.39 1196.8v-9.0M1235.95 938.8v9.0M1235.95 1196.8v-9.0M1246.51 938.8v9.0M1246.51 1196.8v-9.0M1257.07 938.8v9.0M1257.07 1196.8v-9.0M1267.63 938.8v17.0M1267.63 1196.8v-17.0M1278.19 938.8v9.0M1278.19 1196.8v-9.0M1288.76 938.8v9.0M1288.76 1196.8v-9.0M1299.32 938.8v9.0M1299.32 1196.8v-9.0M1309.88 938.8v9.0M1309.88 1196.8v-9.0M1320.44 938.8v9.0M1320.44 1196.8v-9.0M1331.00 938.8v17.0M1331.00 1196.8v-17.0M1341.56 938.8v9.0M1341.56 1196.8v-9.0M1352.12 938.8v9.0M1352.12 1196.8v-9.0M1362.68 938.8v9.0M1362.68 1196.8v-9.0M1373.24 938.8v9.0M1373.24 1196.8v-9.0M1383.81 938.8v9.0M1383.81 1196.8v-9.0M1394.37 938.8v17.0M1394.37 1196.8v-17.0M1404.93 938.8v9.0M1404.93 1196.8v-9.0M1415.49 938.8v9.0M1415.49 1196.8v-9.0M1426.05 938.8v9.0M1426.05 1196.8v-9.0M1436.61 938.8v9.0M1436.61 1196.8v-9.0M1447.17 938.8v9.0M1447.17 1196.8v-9.0M1457.73 938.8v17.0M1457.73 1196.8v-17.0M1468.29 938.8v9.0M1468.29 1196.8v-9.0M1478.86 938.8v9.0M1478.86 1196.8v-9.0M1489.42 938.8v9.0M1489.42 1196.8v-9.0M1499.98 938.8v9.0M1499.98 1196.8v-9.0M1510.54 938.8v9.0M1510.54 1196.8v-9.0M1521.10 938.8v17.0M1521.10 1196.8v-17.0M1531.66 938.8v9.0M1531.66 1196.8v-9.0M1542.22 938.8v9.0M1542.22 1196.8v-9.0M1552.78 938.8v9.0M1552.78 1196.8v-9.0M1563.34 938.8v9.0M1563.34 1196.8v-9.0M1573.91 938.8v9.0M1573.91 1196.8v-9.0M1584.47 938.8v17.0M1584.47 1196.8v-17.0M1595.03 938.8v9.0M1595.03 1196.8v-9.0M1605.59 938.8v9.0M1605.59 1196.8v-9.0M1616.15 938.8v9.0M1616.15 1196.8v-9.0M1626.71 938.8v9.0M1626.71 1196.8v-9.0M1637.27 938.8v9.0M1637.27 1196.8v-9.0M1647.83 938.8v17.0M1647.83 1196.8v-17.0M1658.39 938.8v9.0M1658.39 1196.8v-9.0M1668.96 938.8v9.0M1668.96 1196.8v-9.0M1679.52 938.8v9.0M1679.52 1196.8v-9.0M1690.08 938.8v9.0M1690.08 1196.8v-9.0M1700.64 938.8v9.0M1700.64 1196.8v-9.0M1711.20 938.8v17.0M1711.20 1196.8v-17.0M190.4 1132.30h9.0M1711.2 1132.30h-9.0M190.4 1119.40h9.0M1711.2 1119.40h-9.0M190.4 1106.50h9.0M1711.2 1106.50h-9.0M190.4 1080.70h9.0M1711.2 1080.70h-9.0M190.4 1067.80h9.0M1711.2 1067.80h-9.0M190.4 1054.90h9.0M1711.2 1054.90h-9.0M190.4 1029.10h9.0M1711.2 1029.10h-9.0M190.4 1016.20h9.0M1711.2 1016.20h-9.0M190.4 1003.30h9.0M1711.2 1003.30h-9.0M190.4 977.50h9.0M1711.2 977.50h-9.0M190.4 964.60h9.0M1711.2 964.60h-9.0M190.4 951.70h9.0M1711.2 951.70h-9.0M190.4 938.80h9.0M1711.2 938.80h-9.0" stroke="#262626" stroke-width="4" fill="none"/>
<path d="M190.4 1194.22h9.0M1711.2 1194.22h-9.0M190.4 1191.64h9.0M1711.2 1191.64h-9.0M190.4 1189.06h9.0M1711.2 1189.06h-9.0M190.4 1186.48h9.0M1711.2 1186.48h-9.0M190.4 1183.90h9.0M1711.2 1183.90h-9.0M190.4 1181.32h9.0M1711.2 1181.32h-9.0M190.4 1178.74h9.0M1711.2 1178.74h-9.0M190.4 1176.16h9.0M1711.2 1176.16h-9.0M190.4 1173.58h9.0M1711.2 1173.58h-9.0M190.4 1168.42h9.0M1711.2 1168.42h-9.0M190.4 1165.84h9.0M1711.2 1165.84h-9.0M190.4 1163.26h9.0M1711.2 1163.26h-9.0M190.4 1160.68h9.0M1711.2 1160.68h-9.0M190.4 1158.10h9.0M1711.2 1158.10h-9.0M190.4 1155.52h9.0M1711.2 1155.52h-9.0M190.4 1152.94h9.0M1711.2 1152.94h-9.0M190.4 1150.36h9.0M1711.2 1150.36h-9.0M190.4 1147.78h9.0M1711.2 1147.78h-9.0" stroke="#262626" stroke-width="1.6" fill="none"/>
<path d="M190.4 1196.80h17.0M1711.2 1196.80h-17.0M190.4 1171.00h17.0M1711.2 1171.00h-17.0M190.4 1145.20h17.0M1711.2 1145.20h-17.0M190.4 1093.60h17.0M1711.2 1093.60h-17.0M190.4 1042.00h17.0M1711.2 1042.00h-17.0M190.4 990.40h17.0M1711.2 990.40h-17.0" stroke="#262626" stroke-width="4" fill="none"/>
<rect x="190.4" y="938.8" width="1520.8" height="258.0" stroke="#262626" stroke-width="4" fill="none"/>
<g clip-path="url(#c3)"><g fill="none" stroke-width="2.2" stroke-linejoin="round"><path d="M1315.2 1186.4L1316.7 1182.9L1318.3 1184.6L1319.9 1185.5L1321.5 1185.3L1323.1 1184.5L1324.7 1185.3L1326.2 1182.4L1327.8 1182.7L1329.4 1183.0L1331.0 1184.3" stroke="#00009f"/><path d="M230.3 1186.0L232.0 1183.9L233.6 1181.1L235.3 1185.7L236.9 1182.8L238.6 1183.9L240.2 1182.3L241.9 1184.5L243.5 1182.2L245.1 1183.7L246.8 1186.0L248.4 1184.6L250.1 1181.5L251.7 1185.2L253.4 1183.0L255.0 1185.9L256.7 1184.0L258.3 1184.8L260.0 1185.7L261.6 1184.4L263.3 1184.7" stroke="#0000bf"/><path d="M469.2 1187.5L470.8 1186.6L472.4 1187.8L474.0 1187.4L475.5 1185.7L477.1 1186.2L478.7 1184.8L480.3 1186.1L481.9 1187.3L483.5 1187.5L485.1 1185.7L486.6 1186.2L488.2 1187.3L489.8 1187.8L491.4 1186.8L493.0 1187.1L494.6 1187.7L496.1 1184.9L497.7 1188.1L499.3 1187.0L500.9 1185.7L502.5 1186.5L504.1 1188.3L505.6 1188.1L507.2 1186.1L508.8 1188.0L510.4 1187.3L512.0 1187.5L513.6 1187.3L515.2 1188.0L516.7 1188.0L518.3 1188.1L519.9 1186.6L521.5 1188.1L523.1 1187.0L524.7 1186.1L526.2 1186.5L527.8 1186.5L529.4 1186.8L531.0 1185.1L532.6 1184.5L534.2 1185.6L535.7 1188.0L537.3 1187.5L538.9 1187.8L540.5 1187.0L542.1 1187.9L543.7 1187.7L545.3 1187.4L546.8 1186.1L548.4 1187.0L550.0 1184.5L551.6 1187.8L553.2 1188.4L554.8 1186.5L556.3 1187.3L557.9 1188.2L559.5 1186.7L561.1 1187.6L562.7 1185.4L564.3 1186.2L565.8 1185.3L567.4 1187.3L569.0 1187.4L570.6 1188.2L572.2 1186.3L573.8 1186.8L575.4 1187.6L576.9 1187.6L578.5 1187.7L580.1 1188.0L581.7 1188.1L583.3 1186.6L584.9 1185.0L586.4 1186.8L588.0 1188.2L589.6 1183.6L591.2 1186.1L592.8 1179.9L594.4 1166.1L595.9 1186.9L597.5 1186.4L599.1 1186.8" stroke="#0000bf"/><path d="M896.9 1185.9L898.6 1185.0L900.2 1186.8L901.9 1185.8L903.6 1186.4L905.2 1186.9L906.9 1186.4L908.5 1183.3L910.2 1186.6L911.8 1185.8L913.5 1184.1L915.1 1183.8L916.8 1185.5L918.4 1187.1L920.1 1185.9L921.7 1186.7L923.4 1186.7L925.0 1185.6L926.7 1183.8L928.3 1185.0L930.0 1186.9L931.7 1186.3L933.3 1185.5L935.0 1185.5" stroke="#0000bf"/><path d="M1057.3 1186.1L1058.9 1188.3L1060.5 1188.0L1062.1 1185.4L1063.7 1188.1L1065.3 1185.1L1066.9 1186.3L1068.6 1186.8L1070.2 1188.1L1071.8 1186.6L1073.4 1183.8L1075.0 1186.2L1076.6 1183.7L1078.2 1187.3L1079.9 1185.7L1081.5 1184.4L1083.1 1187.1L1084.7 1185.5L1086.3 1184.5L1087.9 1188.4L1089.5 1187.4L1091.2 1188.3L1092.8 1188.3L1094.4 1186.3L1096.0 1188.1L1097.6 1187.8L1099.2 1188.1L1100.8 1185.5L1102.5 1188.5L1104.1 1187.8L1105.7 1185.1L1107.3 1188.6L1108.9 1188.3L1110.5 1187.3L1112.1 1187.2L1113.8 1184.3L1115.4 1182.5L1117.0 1187.7L1118.6 1185.5L1120.2 1185.8L1121.8 1185.2L1123.4 1187.1L1125.1 1187.3" stroke="#0000bf"/><path d="M1369.0 1184.6L1370.6 1186.1L1372.2 1185.9L1373.8 1160.6L1375.4 1186.6L1377.0 1187.2L1378.7 1164.3L1380.3 1186.4L1381.9 1184.8L1383.5 1150.0L1385.1 1186.7L1386.7 1186.0L1388.3 1185.6L1389.9 1183.4L1391.5 1172.3L1393.1 1186.8L1394.7 1184.5L1396.3 1185.7L1397.9 1186.2L1399.5 1186.2L1401.1 1185.4L1402.7 1183.0L1404.3 1184.4L1405.9 1186.5L1407.5 1158.3L1409.2 1186.3L1410.8 1187.3L1412.4 1181.1L1414.0 1175.0L1415.6 1182.4L1417.2 1185.2L1418.8 1186.1L1420.4 1185.2L1422.0 1185.1L1423.6 1183.4L1425.2 1162.1L1426.8 1185.5L1428.4 1186.3L1430.0 1187.1L1431.6 1184.3L1433.2 1185.2L1434.8 1187.1L1436.4 1186.2L1438.0 1157.3L1439.7 1185.3L1441.3 1185.2L1442.9 1180.7L1444.5 1185.2L1446.1 1185.5L1447.7 1159.9L1449.3 1184.7L1450.9 1187.6L1452.5 1186.0L1454.1 1185.2L1455.7 1151.4L1457.3 1185.0L1458.9 1186.3L1460.5 1184.8L1462.1 1183.7L1463.7 1186.1L1465.3 1183.6L1466.9 1186.3L1468.5 1184.8L1470.2 1183.7L1471.8 1185.6L1473.4 1187.6L1475.0 1186.5L1476.6 1186.2L1478.2 1181.3L1479.8 1184.0L1481.4 1185.7L1483.0 1171.3L1484.6 1186.1L1486.2 1187.3L1487.8 1186.4L1489.4 1181.8" stroke="#0000bf"/><path d="M190.4 1187.7L192.0 1188.0L193.6 1185.9L195.2 1187.3L196.7 1186.2L198.3 1186.9L199.9 1185.5L201.5 1185.4L203.1 1186.9L204.7 1186.5L206.2 1186.6L207.8 1187.9L209.4 1185.4L211.0 1186.4L212.6 1183.8L214.2 1187.9L215.7 1187.3L217.3 1186.8L218.9 1187.3L220.5 1187.3L222.1 1187.0L223.7 1186.4L225.3 1185.6L226.8 1186.3L228.4 1187.1L230.0 1187.7L231.6 1187.8L233.2 1187.6L234.8 1184.3L236.3 1184.4L237.9 1187.2L239.5 1186.2L241.1 1185.3L242.7 1185.4L244.3 1187.0L245.8 1187.2L247.4 1186.3L249.0 1185.6L250.6 1186.9L252.2 1185.9L253.8 1187.0L255.4 1185.4L256.9 1187.3L258.5 1186.3L260.1 1187.5L261.7 1185.5L263.3 1185.6L264.9 1184.9L266.4 1187.0L268.0 1187.5L269.6 1187.6L271.2 1185.7L272.8 1187.8L274.4 1186.7L275.9 1187.7L277.5 1186.8L279.1 1182.9L280.7 1187.6L282.3 1183.5L283.9 1187.4L285.4 1187.7L287.0 1184.7L288.6 1187.2L290.2 1184.7L291.8 1184.6L293.4 1186.2L295.0 1184.3L296.5 1187.7L298.1 1186.4L299.7 1185.4L301.3 1187.4L302.9 1185.8L304.5 1184.5L306.0 1184.6L307.6 1184.4L309.2 1187.8L310.8 1185.6L312.4 1184.1L314.0 1184.3L315.5 1187.3L317.1 1187.3L318.7 1187.7L320.3 1187.2L321.9 1184.5L323.5 1186.6L325.1 1186.9L326.6 1187.5L328.2 1186.4L329.8 1186.7L331.4 1187.7L333.0 1180.5L334.6 1186.6L336.1 1187.1L337.7 1185.2L339.3 1187.4L340.9 1183.9L342.5 1187.7L344.1 1185.1L345.6 1178.2L347.2 1187.5L348.8 1187.4L350.4 1185.4L352.0 1185.9L353.6 1185.7L355.2 1185.0L356.7 1186.8L358.3 1186.4L359.9 1186.8L361.5 1186.2" stroke="#0000df"/><path d="M190.4 1186.1L192.0 1186.9L193.6 1186.0L195.2 1185.0L196.7 1186.5L198.3 1184.5L199.9 1185.7L201.5 1185.3L203.1 1186.9L204.7 1186.6L206.2 1183.7L207.8 1184.2L209.4 1187.1L211.0 1186.4L212.6 1185.5L214.2 1186.7L215.7 1187.1L217.3 1185.9L218.9 1186.6L220.5 1187.0L222.1 1186.8L223.7 1185.0L225.3 1183.7L226.8 1186.7L228.4 1187.1L230.0 1186.9L231.6 1184.6L233.2 1185.5L234.8 1186.6L236.3 1185.8L237.9 1184.4L239.5 1186.6L241.1 1184.9L242.7 1185.2L244.3 1186.1L245.8 1185.7L247.4 1186.5L249.0 1185.8L250.6 1185.8" stroke="#0000ff"/><path d="M725.8 1186.0L727.4 1187.9L729.0 1185.8L730.6 1186.6L732.2 1187.7L733.8 1184.7L735.4 1185.4L736.9 1187.8L738.5 1186.1L740.1 1184.9L741.7 1185.5L743.3 1187.0L744.9 1186.8L746.4 1183.7L748.0 1185.5L749.6 1157.4L751.2 1186.0L752.8 1187.6L754.4 1187.0L755.9 1184.1L757.5 1185.5L759.1 1187.3L760.7 1185.9L762.3 1185.9L763.9 1181.7L765.5 1187.4L767.0 1187.1L768.6 1181.6L770.2 1186.2L771.8 1185.9L773.4 1183.8L775.0 1184.4L776.5 1185.4L778.1 1186.2L779.7 1176.2L781.3 1185.5L782.9 1187.8L784.5 1187.7L786.0 1180.8L787.6 1183.8L789.2 1184.0L790.8 1187.6L792.4 1186.5L794.0 1183.0L795.6 1188.0L797.1 1187.2L798.7 1181.0L800.3 1187.5L801.9 1187.0L803.5 1186.1L805.1 1187.7L806.6 1185.2L808.2 1176.4L809.8 1186.2L811.4 1186.4L813.0 1186.5L814.6 1185.1L816.1 1183.6L817.7 1181.8L819.3 1187.9L820.9 1179.7L822.5 1178.9L824.1 1185.8L825.7 1183.7L827.2 1187.5L828.8 1186.6L830.4 1186.2L832.0 1179.7L833.6 1180.5L835.2 1185.0L836.7 1186.2L838.3 1187.1L839.9 1187.2L841.5 1188.0L843.1 1185.8L844.7 1183.4L846.2 1188.0L847.8 1184.6L849.4 1184.4L851.0 1187.7L852.6 1179.4L854.2 1186.7L855.8 1186.8L857.3 1182.2L858.9 1187.5L860.5 1187.2L862.1 1186.3L863.7 1187.4L865.3 1185.2L866.8 1183.5L868.4 1175.2L870.0 1186.1L871.6 1187.9L873.2 1187.8L874.8 1185.5L876.3 1186.0L877.9 1177.1L879.5 1187.5L881.1 1186.9L882.7 1183.3L884.3 1185.1L885.8 1184.8L887.4 1186.2L889.0 1185.5L890.6 1185.8L892.2 1184.4L893.8 1184.2L895.4 1187.3L896.9 1185.6L898.5 1187.8L900.1 1185.1L901.7 1188.1L903.3 1187.1L904.9 1185.9L906.4 1184.1L908.0 1184.5L909.6 1184.5L911.2 1184.7L912.8 1185.6L914.4 1184.5L915.9 1186.7L917.5 1187.1L919.1 1188.0L920.7 1186.3L922.3 1187.1L923.9 1187.8L925.5 1186.3L927.0 1184.3L928.6 1184.0L930.2 1187.5L931.8 1186.7L933.4 1186.1L935.0 1184.7L936.5 1187.7L938.1 1185.6L939.7 1185.1L941.3 1184.1L942.9 1187.2L944.5 1187.6L946.0 1187.1L947.6 1187.0L949.2 1187.2L950.8 1186.3L952.4 1183.5L954.0 1184.3L955.6 1186.1L957.1 1185.8L958.7 1186.1L960.3 1187.9L961.9 1184.4L963.5 1186.5L965.1 1185.1L966.6 1186.1L968.2 1187.8L969.8 1187.7L971.4 1185.8L973.0 1185.9L974.6 1173.7L976.1 1183.7L977.7 1167.6L979.3 1186.8L980.9 1186.7L982.5 1187.9L984.1 1187.5L985.7 1177.5L987.2 1183.1L988.8 1185.4L990.4 1187.9L992.0 1187.2L993.6 1186.5L995.2 1185.5L996.7 1184.2L998.3 1186.2L999.9 1184.8L1001.5 1185.9L1003.1 1187.5L1004.7 1185.2L1006.2 1187.7L1007.8 1187.0L1009.4 1187.6L1011.0 1185.3L1012.6 1187.8L1014.2 1187.7L1015.8 1186.3L1017.3 1186.4L1018.9 1184.7L1020.5 1187.8L1022.1 1185.4L1023.7 1183.0L1025.3 1184.7L1026.8 1188.1L1028.4 1187.4L1030.0 1185.8L1031.6 1186.7L1033.2 1187.3L1034.8 1187.5L1036.3 1185.8L1037.9 1187.4L1039.5 1183.6L1041.1 1187.9L1042.7 1185.3L1044.3 1186.5L1045.8 1188.0L1047.4 1186.1L1049.0 1187.8L1050.6 1187.6L1052.2 1187.9L1053.8 1185.6L1055.4 1186.3L1056.9 1187.8L1058.5 1184.3L1060.1 1187.4L1061.7 1186.6L1063.3 1187.4L1064.9 1186.2L1066.4 1184.9L1068.0 1184.3L1069.6 1184.9L1071.2 1185.9L1072.8 1183.6L1074.4 1185.9L1075.9 1187.1L1077.5 1187.8L1079.1 1185.9L1080.7 1186.0" stroke="#0000ff"/><path d="M1517.9 1188.9L1519.5 1187.6L1521.1 1187.6L1522.7 1187.0L1524.4 1187.2L1526.0 1188.8L1527.6 1188.7L1529.2 1188.8L1530.8 1187.8L1532.4 1188.4L1534.0 1187.1L1535.6 1182.9L1537.2 1188.3L1538.8 1187.6L1540.4 1187.0L1542.0 1178.6L1543.6 1177.9L1545.2 1186.7L1546.8 1185.8L1548.4 1188.0L1550.1 1188.7L1551.7 1186.3L1553.3 1188.4L1554.9 1187.0L1556.5 1187.1L1558.1 1187.7L1559.7 1185.2L1561.3 1188.7L1562.9 1179.6L1564.5 1187.2L1566.1 1178.1L1567.7 1188.2L1569.3 1188.4L1570.9 1187.1L1572.5 1182.0L1574.1 1186.6L1575.7 1184.2L1577.4 1187.8L1579.0 1182.5L1580.6 1188.8L1582.2 1185.9L1583.8 1184.1L1585.4 1184.4L1587.0 1185.8L1588.6 1186.0L1590.2 1184.1L1591.8 1184.5L1593.4 1188.2L1595.0 1187.7L1596.6 1188.1L1598.2 1186.8L1599.8 1187.8L1601.4 1186.2L1603.1 1186.6L1604.7 1187.3L1606.3 1188.7L1607.9 1188.3L1609.5 1188.3L1611.1 1185.3" stroke="#0000ff"/><path d="M1125.1 1183.3L1126.6 1185.8L1128.2 1184.4L1129.8 1185.8L1131.4 1186.1L1133.0 1184.6L1134.6 1183.8L1136.2 1184.9L1137.8 1184.6L1139.4 1183.5L1141.0 1170.7L1142.5 1172.5L1144.1 1182.5L1145.7 1168.9L1147.3 1185.9L1148.9 1186.3L1150.5 1185.6L1152.1 1184.0L1153.7 1186.0L1155.3 1185.9L1156.9 1181.3L1158.4 1186.3L1160.0 1164.9L1161.6 1184.0L1163.2 1175.1L1164.8 1184.3L1166.4 1184.0L1168.0 1184.7L1169.6 1182.2L1171.2 1185.3L1172.7 1168.8L1174.3 1186.3L1175.9 1184.0L1177.5 1167.1L1179.1 1184.3L1180.7 1183.9L1182.3 1182.1L1183.9 1170.4L1185.5 1183.7L1187.1 1181.5L1188.6 1186.2L1190.2 1185.4L1191.8 1184.4L1193.4 1185.1L1195.0 1164.8L1196.6 1182.8L1198.2 1184.7L1199.8 1179.5L1201.4 1186.2L1203.0 1185.3L1204.5 1184.7L1206.1 1183.7L1207.7 1184.7L1209.3 1184.3L1210.9 1183.5L1212.5 1184.2L1214.1 1184.4L1215.7 1185.1L1217.3 1175.4L1218.8 1183.1L1220.4 1184.6L1222.0 1182.9L1223.6 1164.8L1225.2 1185.4L1226.8 1184.8L1228.4 1177.9L1230.0 1182.0L1231.6 1185.2L1233.2 1184.9L1234.7 1184.7L1236.3 1185.6L1237.9 1186.3L1239.5 1185.4L1241.1 1185.5L1242.7 1184.2L1244.3 1184.9L1245.9 1175.3L1247.5 1175.0L1249.0 1185.7L1250.6 1184.1L1252.2 1182.1L1253.8 1182.9L1255.4 1185.2L1257.0 1185.9L1258.6 1186.3L1260.2 1182.9L1261.8 1183.7L1263.4 1184.0L1264.9 1185.4L1266.5 1185.3L1268.1 1185.7L1269.7 1184.3L1271.3 1182.9L1272.9 1185.1L1274.5 1185.7L1276.1 1185.1L1277.7 1184.9L1279.3 1183.2L1280.8 1182.5L1282.4 1185.0L1284.0 1186.0L1285.6 1185.0L1287.2 1185.1L1288.8 1184.7L1290.4 1184.1L1292.0 1181.9L1293.6 1185.2L1295.1 1185.0L1296.7 1186.1L1298.3 1184.1L1299.9 1185.4L1301.5 1183.3L1303.1 1185.7L1304.7 1186.0L1306.3 1184.1L1307.9 1186.0L1309.5 1184.4" stroke="#0020ff"/><path d="M1614.2 1185.9L1615.8 1186.5L1617.4 1186.2L1619.0 1185.2L1620.6 1186.6L1622.2 1186.2L1623.8 1184.5L1625.4 1185.5L1627.0 1185.5L1628.6 1185.6L1630.1 1184.9L1631.7 1184.8L1633.3 1185.1L1634.9 1186.7L1636.5 1186.5L1638.1 1187.0L1639.7 1186.5L1641.3 1185.8L1642.9 1185.7L1644.4 1185.7L1646.0 1183.8L1647.6 1186.2L1649.2 1185.4L1650.8 1184.7L1652.4 1185.9L1654.0 1185.7L1655.6 1184.2L1657.2 1181.4L1658.8 1184.2L1660.3 1186.7L1661.9 1183.5L1663.5 1185.7L1665.1 1186.2L1666.7 1187.1L1668.3 1187.1L1669.9 1187.0L1671.5 1186.7L1673.1 1184.0L1674.6 1186.4L1676.2 1185.1L1677.8 1185.4L1679.4 1185.4L1681.0 1183.2L1682.6 1184.7L1684.2 1186.3L1685.8 1185.1L1687.4 1184.9L1688.9 1187.3L1690.5 1182.8L1692.1 1186.4L1693.7 1185.9L1695.3 1186.2L1696.9 1184.2L1698.5 1185.5L1700.1 1187.4L1701.7 1183.1L1703.3 1186.5L1704.8 1185.5L1706.4 1184.2L1708.0 1187.0L1709.6 1186.6L1711.2 1185.7" stroke="#0020ff"/><path d="M1140.9 1186.6L1142.5 1185.9L1144.1 1185.3L1145.7 1185.7L1147.3 1185.4L1148.9 1181.8L1150.5 1184.1L1152.0 1187.0L1153.6 1186.9L1155.2 1178.5L1156.8 1186.5L1158.4 1183.7L1160.0 1186.6L1161.6 1186.3L1163.2 1171.0L1164.8 1185.6L1166.4 1185.3L1168.0 1185.9L1169.6 1186.8L1171.1 1185.6L1172.7 1186.6L1174.3 1184.1L1175.9 1185.9L1177.5 1186.3L1179.1 1185.0L1180.7 1184.2L1182.3 1182.6L1183.9 1185.1L1185.5 1171.0L1187.1 1185.5L1188.7 1176.3L1190.2 1186.6L1191.8 1185.8L1193.4 1185.9L1195.0 1186.2L1196.6 1184.4L1198.2 1177.7L1199.8 1185.9L1201.4 1185.9L1203.0 1184.7L1204.6 1183.5L1206.2 1187.0" stroke="#0040ff"/><path d="M1324.7 1186.6L1326.2 1187.4L1327.8 1184.8L1329.4 1187.4L1331.0 1186.4L1332.6 1185.8L1334.2 1187.0L1335.8 1187.0L1337.3 1185.9L1338.9 1186.8L1340.5 1186.8L1342.1 1186.3L1343.7 1185.7L1345.3 1186.1L1346.8 1162.9L1348.4 1183.4L1350.0 1187.4L1351.6 1187.3L1353.2 1185.5L1354.8 1187.5L1356.3 1184.6L1357.9 1187.2L1359.5 1182.0L1361.1 1187.5L1362.7 1185.5L1364.3 1186.8L1365.9 1187.0L1367.4 1185.7L1369.0 1186.7L1370.6 1187.3L1372.2 1162.4L1373.8 1184.7L1375.4 1186.7L1376.9 1186.6L1378.5 1184.4L1380.1 1180.7L1381.7 1184.6L1383.3 1152.1L1384.9 1185.2L1386.4 1156.6L1388.0 1186.6L1389.6 1186.9L1391.2 1149.1L1392.8 1154.9L1394.4 1186.5L1396.0 1186.7L1397.5 1187.0L1399.1 1187.0L1400.7 1153.6L1402.3 1186.1L1403.9 1184.3L1405.5 1182.5L1407.0 1186.4L1408.6 1185.1L1410.2 1184.6L1411.8 1184.2L1413.4 1152.6L1415.0 1185.7L1416.5 1185.8L1418.1 1186.1L1419.7 1187.2L1421.3 1187.4L1422.9 1155.3L1424.5 1184.4L1426.0 1186.5L1427.6 1149.7L1429.2 1185.5L1430.8 1181.6L1432.4 1185.0L1434.0 1185.4L1435.6 1151.4L1437.1 1186.4L1438.7 1184.8L1440.3 1187.4L1441.9 1186.8L1443.5 1186.0L1445.1 1186.4L1446.6 1184.0L1448.2 1186.4L1449.8 1185.0L1451.4 1186.5L1453.0 1185.7L1454.6 1186.2" stroke="#0040ff"/><path d="M472.4 1187.2L474.0 1182.1L475.6 1186.2L477.2 1187.5L478.8 1186.0L480.4 1186.2L482.0 1185.9L483.6 1186.8L485.2 1183.2L486.8 1185.7L488.4 1186.8L490.0 1187.3L491.6 1187.0L493.2 1183.8L494.8 1187.2L496.4 1185.4L498.0 1186.2L499.6 1186.1L501.1 1183.7L502.7 1182.3L504.3 1183.8L505.9 1187.5L507.5 1186.4L509.1 1186.9L510.7 1186.8L512.3 1185.1L513.9 1187.4L515.5 1185.5L517.1 1187.0L518.7 1186.3L520.3 1185.2L521.9 1186.5L523.5 1184.7L525.1 1186.2L526.7 1186.7L528.3 1184.4L529.9 1185.8L531.5 1186.5L533.1 1187.4L534.7 1186.9L536.3 1184.0L537.9 1187.3L539.5 1186.6L541.1 1185.2L542.7 1184.0L544.3 1186.4L545.9 1185.8L547.5 1186.5L549.1 1184.6L550.7 1187.0L552.3 1184.1L553.9 1185.5L555.5 1184.9L557.1 1187.4L558.7 1186.5L560.3 1187.2L561.9 1187.3L563.5 1185.3L565.1 1183.8L566.7 1186.5L568.3 1187.1L569.9 1186.9L571.5 1185.1L573.1 1184.4L574.7 1187.0L576.3 1186.0L577.9 1187.5L579.5 1184.0L581.1 1185.3L582.7 1185.0L584.3 1187.4L585.9 1183.4L587.5 1187.5L589.0 1186.8L590.6 1187.5L592.2 1185.9L593.8 1173.3L595.4 1185.7L597.0 1187.3L598.6 1186.0L600.2 1187.2L601.8 1184.7L603.4 1186.1L605.0 1185.3L606.6 1185.8L608.2 1186.7L609.8 1185.9L611.4 1186.1L613.0 1184.1L614.6 1187.1L616.2 1178.3L617.8 1179.8L619.4 1185.4L621.0 1178.5L622.6 1183.4L624.2 1185.1L625.8 1173.1L627.4 1186.8L629.0 1184.6L630.6 1185.2L632.2 1186.2L633.8 1187.4L635.4 1186.9L637.0 1186.2L638.6 1167.0L640.2 1159.9L641.8 1187.0L643.4 1161.1L645.0 1184.0L646.6 1187.5L648.2 1185.5L649.8 1187.3L651.4 1185.6L653.0 1183.3" stroke="#0060ff"/><path d="M1331.0 1185.8L1332.6 1156.2L1334.2 1184.0L1335.8 1184.8L1337.3 1185.5L1338.9 1152.8L1340.5 1186.0L1342.1 1184.4L1343.7 1178.1L1345.3 1183.6L1346.8 1183.8L1348.4 1182.5L1350.0 1185.5L1351.6 1179.0L1353.2 1182.9L1354.8 1184.5L1356.3 1184.5L1357.9 1184.4L1359.5 1162.6L1361.1 1184.8L1362.7 1156.0L1364.3 1149.3L1365.9 1162.3L1367.4 1153.4L1369.0 1185.2L1370.6 1184.4L1372.2 1185.9L1373.8 1184.8L1375.4 1184.5L1376.9 1183.8L1378.5 1185.8" stroke="#0060ff"/><path d="M247.4 1186.7L249.0 1186.2L250.6 1186.3L252.2 1187.4L253.8 1186.9L255.4 1187.5L256.9 1185.8L258.5 1187.6L260.1 1187.3L261.7 1187.4L263.3 1188.4L264.9 1185.6L266.4 1187.7L268.0 1182.1L269.6 1188.4L271.2 1186.5L272.8 1187.4L274.4 1188.7L275.9 1188.1L277.5 1187.2L279.1 1186.9L280.7 1185.8L282.3 1188.3L283.9 1187.9L285.4 1187.2L287.0 1187.2L288.6 1187.1L290.2 1186.3L291.8 1187.8L293.4 1184.6L295.0 1185.8L296.5 1185.2L298.1 1186.8L299.7 1186.5L301.3 1187.8L302.9 1188.0L304.5 1184.0L306.0 1188.7L307.6 1188.1L309.2 1186.9L310.8 1187.1L312.4 1188.5L314.0 1186.4L315.5 1187.4L317.1 1186.2L318.7 1186.4L320.3 1185.7L321.9 1188.1L323.5 1186.7L325.1 1184.5L326.6 1187.4L328.2 1187.1L329.8 1183.2L331.4 1180.3L333.0 1187.3L334.6 1183.9L336.1 1184.6L337.7 1188.5L339.3 1186.7L340.9 1180.6L342.5 1187.5L344.1 1187.4L345.6 1184.6L347.2 1183.9L348.8 1183.7L350.4 1185.7L352.0 1184.3L353.6 1184.3L355.2 1180.7L356.7 1186.8L358.3 1188.3L359.9 1187.8L361.5 1185.7L363.1 1185.7L364.7 1186.2L366.2 1188.3L367.8 1185.0L369.4 1184.9L371.0 1187.7L372.6 1188.6L374.2 1187.1L375.7 1187.2L377.3 1185.6L378.9 1188.5L380.5 1188.6L382.1 1187.8L383.7 1185.3L385.3 1185.7L386.8 1186.0L388.4 1185.8L390.0 1186.5L391.6 1187.5L393.2 1184.2L394.8 1188.2L396.3 1181.4L397.9 1188.5L399.5 1187.4L401.1 1186.6L402.7 1184.5L404.3 1188.6L405.8 1188.7L407.4 1185.7L409.0 1184.9L410.6 1188.6L412.2 1187.5L413.8 1186.7L415.4 1188.3L416.9 1187.9L418.5 1188.6L420.1 1188.2L421.7 1187.9L423.3 1187.0L424.9 1188.2L426.4 1187.4L428.0 1188.1L429.6 1185.2L431.2 1187.5L432.8 1187.8L434.4 1187.0L435.9 1185.2L437.5 1188.4L439.1 1184.5L440.7 1185.0L442.3 1188.3L443.9 1187.6L445.5 1187.0L447.0 1187.8L448.6 1187.9L450.2 1187.3L451.8 1188.0L453.4 1182.3L455.0 1187.7L456.5 1187.9L458.1 1188.2L459.7 1188.4L461.3 1184.7L462.9 1188.7L464.5 1179.9L466.0 1188.5L467.6 1180.2L469.2 1187.8L470.8 1183.3L472.4 1186.9" stroke="#009fff"/><path d="M824.1 1186.0L825.7 1187.1L827.2 1186.7L828.8 1185.8L830.4 1177.1L832.0 1183.9L833.6 1186.5L835.2 1179.7L836.7 1185.4L838.3 1186.9L839.9 1183.7L841.5 1185.5L843.1 1185.8L844.7 1185.9L846.2 1185.5L847.8 1186.5L849.4 1187.0L851.0 1187.0L852.6 1186.9L854.2 1175.8L855.8 1184.0L857.3 1187.1L858.9 1186.5L860.5 1187.5L862.1 1186.0L863.7 1186.7L865.3 1182.7L866.8 1184.2L868.4 1179.8L870.0 1187.1L871.6 1186.2L873.2 1177.7L874.8 1184.9L876.3 1187.2L877.9 1184.6L879.5 1187.1L881.1 1185.2L882.7 1185.9L884.3 1186.5L885.8 1186.7L887.4 1185.5L889.0 1186.8L890.6 1186.8L892.2 1187.1L893.8 1187.1L895.4 1186.4L896.9 1186.4L898.5 1185.8L900.1 1185.2L901.7 1186.8L903.3 1186.0L904.9 1186.3L906.4 1186.1L908.0 1186.9L909.6 1186.1L911.2 1185.6L912.8 1183.3L914.4 1186.3L915.9 1187.5L917.5 1186.4L919.1 1187.4L920.7 1185.8L922.3 1186.3L923.9 1185.0L925.5 1185.5L927.0 1186.9L928.6 1184.8L930.2 1186.5L931.8 1184.9L933.4 1186.8L935.0 1185.4L936.5 1185.3L938.1 1185.5L939.7 1186.7L941.3 1185.7L942.9 1187.0L944.5 1186.6L946.0 1186.7L947.6 1184.3L949.2 1185.5L950.8 1186.9L952.4 1185.3L954.0 1184.4L955.6 1186.0L957.1 1187.0L958.7 1187.5L960.3 1186.7L961.9 1179.3L963.5 1182.4L965.1 1187.4L966.6 1186.8L968.2 1186.3L969.8 1186.6L971.4 1186.3L973.0 1182.9L974.6 1186.6L976.1 1185.5L977.7 1186.3L979.3 1183.4L980.9 1185.2L982.5 1186.3L984.1 1187.0L985.7 1187.1L987.2 1187.2L988.8 1186.8L990.4 1183.6L992.0 1187.6L993.6 1186.3L995.2 1185.1L996.7 1185.6L998.3 1185.8L999.9 1185.0L1001.5 1187.0L1003.1 1186.2L1004.7 1186.4L1006.2 1184.3L1007.8 1182.1L1009.4 1181.7L1011.0 1186.6L1012.6 1185.3L1014.2 1185.9L1015.8 1186.6L1017.3 1187.4L1018.9 1186.2L1020.5 1186.5L1022.1 1186.7L1023.7 1186.4L1025.3 1186.3L1026.8 1184.2L1028.4 1186.0L1030.0 1187.3L1031.6 1186.7L1033.2 1187.4L1034.8 1183.8L1036.3 1186.8L1037.9 1187.0L1039.5 1186.7L1041.1 1186.9L1042.7 1187.3L1044.3 1181.8L1045.8 1184.3L1047.4 1186.4L1049.0 1186.3L1050.6 1187.3L1052.2 1185.1L1053.8 1185.1L1055.4 1185.4L1056.9 1187.5L1058.5 1186.8L1060.1 1186.0L1061.7 1185.0L1063.3 1185.3L1064.9 1187.0L1066.4 1186.9L1068.0 1186.0L1069.6 1187.3L1071.2 1184.7L1072.8 1185.2L1074.4 1186.2L1075.9 1185.7L1077.5 1184.9L1079.1 1187.1L1080.7 1186.9L1082.3 1187.0L1083.9 1186.3L1085.5 1186.3L1087.0 1185.8L1088.6 1187.5L1090.2 1184.8L1091.8 1185.6L1093.4 1185.8L1095.0 1186.5L1096.5 1185.0L1098.1 1186.7L1099.7 1184.8L1101.3 1186.7L1102.9 1185.5L1104.5 1184.8L1106.0 1186.2L1107.6 1185.6L1109.2 1185.8" stroke="#009fff"/><path d="M1331.0 1185.5L1332.6 1187.5L1334.2 1187.1L1335.8 1185.4L1337.3 1150.3L1338.9 1187.2L1340.5 1183.9L1342.1 1155.0L1343.7 1186.8L1345.3 1187.5L1346.8 1184.4L1348.4 1185.7L1350.0 1186.4L1351.6 1186.8L1353.2 1187.1L1354.8 1187.0L1356.3 1176.4L1357.9 1184.5L1359.5 1187.2L1361.1 1187.0L1362.7 1187.7L1364.3 1185.9L1365.9 1186.4L1367.4 1180.9L1369.0 1185.3L1370.6 1184.8L1372.2 1187.3L1373.8 1186.3L1375.4 1185.8L1376.9 1185.4L1378.5 1186.5L1380.1 1186.7L1381.7 1186.9L1383.3 1186.8L1384.9 1184.9L1386.4 1186.0L1388.0 1187.4L1389.6 1186.1L1391.2 1185.6L1392.8 1185.6L1394.4 1187.4L1396.0 1187.4L1397.5 1184.9L1399.1 1186.6L1400.7 1185.8L1402.3 1181.3L1403.9 1187.6L1405.5 1186.8L1407.0 1184.1L1408.6 1184.8L1410.2 1185.9L1411.8 1187.7L1413.4 1187.5" stroke="#009fff"/><path d="M1413.4 1170.2L1415.0 1186.8L1416.6 1186.7L1418.2 1185.6L1419.8 1186.5L1421.4 1188.0L1423.0 1185.5L1424.6 1186.8L1426.2 1184.5L1427.8 1187.3L1429.5 1186.9L1431.1 1185.1L1432.7 1187.2L1434.3 1185.8L1435.9 1187.7L1437.5 1186.9L1439.1 1188.0L1440.7 1173.4L1442.3 1185.6L1443.9 1186.1L1445.5 1187.7L1447.1 1157.0L1448.7 1182.1L1450.4 1185.4L1452.0 1187.5L1453.6 1185.8L1455.2 1185.9L1456.8 1186.2L1458.4 1187.4L1460.0 1187.1L1461.6 1186.0L1463.2 1186.8L1464.8 1187.6L1466.4 1187.4L1468.0 1184.1L1469.7 1186.4L1471.3 1157.1L1472.9 1186.2L1474.5 1184.3L1476.1 1183.9L1477.7 1187.1L1479.3 1186.1L1480.9 1185.1L1482.5 1182.6L1484.1 1175.1L1485.7 1184.2L1487.3 1186.5L1488.9 1185.2L1490.6 1176.3L1492.2 1187.0L1493.8 1185.4L1495.4 1188.0L1497.0 1150.6L1498.6 1187.3L1500.2 1187.6L1501.8 1186.8L1503.4 1186.5L1505.0 1186.7L1506.6 1184.3L1508.2 1166.9L1509.8 1186.5L1511.5 1182.7L1513.1 1169.4L1514.7 1186.6L1516.3 1186.7L1517.9 1184.8L1519.5 1185.4L1521.1 1186.1" stroke="#009fff"/><path d="M570.6 1188.0L572.2 1185.8L573.8 1183.7L575.4 1187.0L576.9 1184.8L578.5 1185.1L580.1 1183.9L581.7 1187.9L583.3 1187.4L584.9 1186.5L586.4 1187.7L588.0 1188.1L589.6 1186.1L591.2 1186.9L592.8 1186.2L594.4 1187.1L595.9 1184.0L597.5 1175.1L599.1 1184.5L600.7 1185.0L602.3 1187.3L603.9 1185.5L605.5 1175.4L607.0 1187.3L608.6 1187.9L610.2 1187.6L611.8 1186.8L613.4 1186.8L615.0 1186.6L616.5 1160.3L618.1 1173.9L619.7 1186.7L621.3 1186.6L622.9 1188.0L624.5 1184.4L626.0 1181.6L627.6 1164.3L629.2 1187.0L630.8 1187.3L632.4 1186.8L634.0 1187.0L635.6 1187.7L637.1 1185.9L638.7 1187.5L640.3 1187.8L641.9 1187.4L643.5 1185.5L645.1 1185.2L646.6 1184.9L648.2 1167.5L649.8 1188.0L651.4 1186.1L653.0 1188.0L654.6 1164.3L656.1 1187.1L657.7 1183.0L659.3 1176.7L660.9 1187.1L662.5 1188.0L664.1 1185.8L665.6 1187.5L667.2 1185.9L668.8 1185.7L670.4 1183.0L672.0 1187.9L673.6 1175.1L675.2 1187.4L676.7 1186.5L678.3 1187.3L679.9 1184.8L681.5 1172.7L683.1 1185.7L684.7 1184.9L686.2 1160.2L687.8 1185.2L689.4 1187.0L691.0 1183.8L692.6 1184.0L694.2 1187.0L695.7 1187.8L697.3 1186.0L698.9 1186.1L700.5 1184.0L702.1 1187.5L703.7 1187.7L705.3 1183.2L706.8 1187.9L708.4 1188.0L710.0 1185.4L711.6 1158.1L713.2 1188.1L714.8 1187.7L716.3 1188.0L717.9 1188.1L719.5 1186.6L721.1 1163.6L722.7 1184.0L724.3 1186.0L725.8 1188.1L727.4 1187.8L729.0 1185.6L730.6 1185.5L732.2 1186.6L733.8 1185.6L735.4 1187.5L736.9 1187.5L738.5 1187.9L740.1 1183.0L741.7 1184.1L743.3 1187.4L744.9 1186.2" stroke="#00bfff"/><path d="M1175.8 1184.1L1177.4 1185.8L1179.0 1180.3L1180.6 1185.2L1182.2 1187.8L1183.8 1186.5L1185.4 1187.7L1187.0 1187.1L1188.6 1186.5L1190.2 1184.7L1191.8 1187.1L1193.4 1187.5L1195.0 1187.8L1196.6 1170.4L1198.2 1187.7L1199.8 1184.3L1201.4 1176.3L1203.0 1184.1L1204.6 1187.8L1206.2 1187.3L1207.8 1185.1L1209.4 1178.1L1211.0 1186.7L1212.6 1175.2L1214.2 1185.9L1215.8 1184.4L1217.4 1187.3L1219.0 1187.6L1220.6 1184.7L1222.2 1175.4L1223.8 1187.0L1225.4 1167.8L1227.0 1187.7L1228.6 1169.1L1230.2 1187.9L1231.8 1186.7L1233.4 1185.6L1235.0 1185.9L1236.6 1187.5L1238.2 1186.9L1239.8 1178.7L1241.4 1183.8L1243.0 1185.7L1244.6 1187.1L1246.2 1186.8L1247.8 1186.9L1249.4 1176.1L1251.0 1185.3L1252.6 1187.2L1254.2 1172.3L1255.8 1183.8L1257.4 1186.2L1259.0 1186.1L1260.6 1185.7L1262.2 1186.9L1263.8 1184.1L1265.4 1182.3L1267.0 1187.5L1268.6 1186.2L1270.2 1186.1L1271.8 1186.8L1273.4 1186.5L1275.0 1187.5L1276.6 1184.5L1278.2 1186.7L1279.8 1187.6L1281.4 1186.8L1283.0 1185.5L1284.6 1186.7L1286.2 1187.9L1287.8 1187.8L1289.4 1185.6L1291.0 1185.4L1292.6 1187.6L1294.2 1185.8L1295.8 1187.2L1297.4 1187.8L1299.0 1186.8L1300.6 1184.9L1302.2 1186.6L1303.8 1184.4L1305.4 1183.6L1307.0 1187.7L1308.6 1187.1L1310.2 1186.1L1311.8 1186.7L1313.4 1186.9L1315.0 1187.0L1316.6 1187.6L1318.2 1187.3L1319.8 1187.3L1321.4 1180.5L1323.0 1186.8L1324.6 1182.9L1326.2 1185.4L1327.8 1184.8L1329.4 1185.9L1331.0 1186.7" stroke="#00bfff"/><path d="M1325.3 1188.3L1327.2 1188.1L1329.1 1188.2L1331.0 1188.1" stroke="#00bfff"/><path d="M535.7 1184.3L537.4 1187.7L539.1 1184.5L540.7 1186.0L542.4 1188.3L544.0 1185.7L545.7 1186.8L547.4 1186.6L549.0 1183.1L550.7 1185.6L552.3 1188.0L554.0 1187.8L555.7 1185.0L557.3 1186.3L559.0 1186.0L560.6 1183.7L562.3 1183.7L564.0 1188.0L565.6 1185.7L567.3 1185.6L568.9 1187.6L570.6 1188.1" stroke="#00dfff"/><path d="M1516.0 1186.1L1517.6 1164.9L1519.2 1177.7L1520.8 1179.7L1522.4 1186.8L1524.0 1184.7L1525.6 1184.8L1527.1 1181.1L1528.7 1185.7L1530.3 1186.0L1531.9 1184.9L1533.5 1187.3L1535.1 1185.0L1536.7 1186.9L1538.3 1176.6L1539.9 1185.3L1541.4 1186.8L1543.0 1186.5L1544.6 1186.6L1546.2 1183.0L1547.8 1185.9L1549.4 1182.1L1551.0 1185.4L1552.6 1186.5L1554.1 1186.5L1555.7 1174.9L1557.3 1186.9L1558.9 1185.0L1560.5 1185.9L1562.1 1186.7L1563.7 1186.3L1565.3 1185.9L1566.9 1185.9L1568.4 1184.9L1570.0 1185.3L1571.6 1186.5L1573.2 1186.7L1574.8 1182.5L1576.4 1178.5L1578.0 1184.1L1579.6 1184.2L1581.1 1186.5L1582.7 1184.8L1584.3 1185.7L1585.9 1183.8L1587.5 1184.3L1589.1 1185.8L1590.7 1185.5L1592.3 1183.6L1593.9 1187.2L1595.4 1186.4L1597.0 1186.6L1598.6 1186.8L1600.2 1185.7L1601.8 1186.9L1603.4 1185.5L1605.0 1185.5L1606.6 1182.3L1608.1 1183.0L1609.7 1179.3L1611.3 1185.6L1612.9 1186.6L1614.5 1184.1L1616.1 1183.2L1617.7 1186.7L1619.3 1186.2L1620.9 1184.5L1622.4 1187.3L1624.0 1186.3L1625.6 1186.4L1627.2 1187.1L1628.8 1187.3L1630.4 1185.2L1632.0 1186.2L1633.6 1186.1L1635.1 1185.0L1636.7 1186.0L1638.3 1186.3L1639.9 1184.4L1641.5 1184.4" stroke="#00dfff"/><path d="M1331.0 1182.7L1332.6 1149.1L1334.2 1181.9L1335.8 1183.9L1337.3 1168.8L1338.9 1172.0L1340.5 1183.0L1342.1 1185.6L1343.7 1185.9L1345.3 1185.1L1346.8 1176.0L1348.4 1166.9L1350.0 1185.8L1351.6 1185.2L1353.2 1185.2L1354.8 1186.0L1356.3 1184.0L1357.9 1184.9L1359.5 1185.2L1361.1 1183.7L1362.7 1185.2L1364.3 1185.2L1365.9 1178.9L1367.4 1182.7L1369.0 1185.0L1370.6 1183.1L1372.2 1185.9L1373.8 1158.8L1375.4 1183.6L1376.9 1182.8L1378.5 1183.6L1380.1 1185.2L1381.7 1183.1L1383.3 1183.9L1384.9 1181.1L1386.4 1147.0L1388.0 1183.8L1389.6 1181.9L1391.2 1183.9L1392.8 1182.5L1394.4 1183.9L1396.0 1183.9L1397.5 1185.7L1399.1 1183.6L1400.7 1183.5L1402.3 1185.6L1403.9 1185.6L1405.5 1185.7L1407.0 1159.2L1408.6 1161.0L1410.2 1185.6L1411.8 1181.5L1413.4 1161.8L1415.0 1184.9L1416.5 1182.2L1418.1 1184.4L1419.7 1183.9L1421.3 1156.5L1422.9 1162.0L1424.5 1184.3L1426.0 1184.9L1427.6 1166.9L1429.2 1185.3L1430.8 1182.0L1432.4 1182.2L1434.0 1181.7L1435.6 1183.9L1437.1 1183.8L1438.7 1183.1L1440.3 1175.2L1441.9 1185.0L1443.5 1185.8L1445.1 1172.7L1446.6 1183.5L1448.2 1183.9L1449.8 1181.3L1451.4 1182.0L1453.0 1158.4L1454.6 1185.1L1456.1 1184.5L1457.7 1159.6L1459.3 1181.7L1460.9 1184.7L1462.5 1185.2L1464.1 1185.3L1465.7 1184.4L1467.2 1182.7L1468.8 1183.6L1470.4 1172.7L1472.0 1182.7L1473.6 1183.2L1475.2 1184.2L1476.7 1158.8L1478.3 1154.5L1479.9 1183.3L1481.5 1164.3L1483.1 1185.7L1484.7 1185.4L1486.2 1185.2L1487.8 1168.1L1489.4 1161.9L1491.0 1184.1L1492.6 1183.9L1494.2 1185.8L1495.8 1183.6L1497.3 1148.3L1498.9 1182.1L1500.5 1185.4L1502.1 1184.4L1503.7 1174.3L1505.3 1185.8L1506.8 1183.9L1508.4 1185.1L1510.0 1150.5L1511.6 1184.3L1513.2 1180.8L1514.8 1152.3L1516.3 1185.1L1517.9 1185.3L1519.5 1183.5L1521.1 1184.3L1522.7 1176.1L1524.3 1183.0L1525.9 1184.2L1527.4 1183.8" stroke="#00dfff"/><path d="M405.8 1179.6L407.4 1188.2L409.0 1188.3L410.6 1188.3L412.2 1183.4L413.8 1186.8L415.4 1188.1L416.9 1184.3L418.5 1187.3L420.1 1185.0L421.7 1186.4L423.3 1184.3L424.9 1186.6L426.4 1187.7L428.0 1182.5L429.6 1187.3L431.2 1187.9L432.8 1186.6L434.4 1188.4L435.9 1187.0L437.5 1185.5L439.1 1188.4L440.7 1176.9L442.3 1187.4L443.9 1185.8L445.5 1186.5L447.0 1188.0L448.6 1187.4L450.2 1187.9L451.8 1186.9L453.4 1186.1L455.0 1185.4L456.5 1187.8L458.1 1185.9L459.7 1185.4L461.3 1186.6L462.9 1185.5L464.5 1180.4L466.0 1186.1L467.6 1181.7L469.2 1179.9L470.8 1186.9L472.4 1186.0L474.0 1188.0L475.5 1188.0L477.1 1187.8L478.7 1185.4L480.3 1187.2L481.9 1187.4L483.5 1187.2L485.1 1186.7L486.6 1185.7L488.2 1184.7L489.8 1187.3L491.4 1185.0L493.0 1186.8L494.6 1183.1L496.1 1187.5L497.7 1185.6L499.3 1188.1L500.9 1185.8L502.5 1186.1L504.1 1186.5L505.6 1187.8L507.2 1186.5L508.8 1187.9L510.4 1183.3L512.0 1184.2L513.6 1188.2L515.2 1187.4L516.7 1185.7L518.3 1185.7L519.9 1185.9L521.5 1187.7L523.1 1187.9L524.7 1186.3L526.2 1187.6L527.8 1186.5L529.4 1184.0L531.0 1188.3L532.6 1188.1L534.2 1186.3L535.7 1184.4L537.3 1186.5L538.9 1186.4L540.5 1186.4L542.1 1186.3L543.7 1185.6L545.3 1187.9L546.8 1187.0L548.4 1184.5L550.0 1187.9L551.6 1188.5L553.2 1185.2L554.8 1188.4L556.3 1187.7L557.9 1185.1L559.5 1187.2L561.1 1188.2L562.7 1187.1L564.3 1185.8L565.8 1184.7L567.4 1188.2L569.0 1186.9L570.6 1187.1L572.2 1185.7L573.8 1187.4L575.4 1187.2L576.9 1188.2L578.5 1186.1L580.1 1184.7L581.7 1188.1L583.3 1185.7L584.9 1185.7L586.4 1187.6L588.0 1187.4L589.6 1185.2L591.2 1172.1L592.8 1184.8L594.4 1187.2L595.9 1186.0L597.5 1188.5L599.1 1186.5L600.7 1186.6L602.3 1186.9L603.9 1187.5L605.5 1185.7L607.0 1175.5L608.6 1188.2L610.2 1188.3L611.8 1188.2L613.4 1185.7L615.0 1183.5L616.5 1185.6L618.1 1188.2L619.7 1185.6L621.3 1187.9L622.9 1186.3L624.5 1187.8L626.0 1186.7L627.6 1159.9L629.2 1186.7L630.8 1188.2L632.4 1188.3L634.0 1165.4L635.6 1173.2L637.1 1188.2L638.7 1187.6L640.3 1188.1L641.9 1187.8L643.5 1175.8L645.1 1186.1L646.6 1185.2L648.2 1166.0L649.8 1186.8L651.4 1161.8L653.0 1185.7L654.6 1186.0L656.1 1187.5L657.7 1187.9L659.3 1187.7L660.9 1188.4L662.5 1187.7L664.1 1186.2L665.6 1187.7L667.2 1184.7L668.8 1185.5L670.4 1187.9L672.0 1187.4L673.6 1184.8L675.2 1186.2L676.7 1171.7L678.3 1187.6L679.9 1187.2L681.5 1185.6L683.1 1186.9L684.7 1186.9L686.2 1187.4L687.8 1188.1L689.4 1187.0L691.0 1188.1L692.6 1176.9L694.2 1187.7L695.7 1186.7L697.3 1171.4L698.9 1186.8L700.5 1188.4L702.1 1178.8L703.7 1183.8L705.3 1179.1L706.8 1187.3L708.4 1183.9L710.0 1188.3L711.6 1183.3L713.2 1187.8L714.8 1186.0L716.3 1186.5L717.9 1186.1L719.5 1186.8L721.1 1163.6L722.7 1187.7L724.3 1187.4L725.8 1187.7L727.4 1187.6L729.0 1188.1L730.6 1185.7L732.2 1186.6L733.8 1186.4L735.4 1187.7L736.9 1171.0L738.5 1185.2L740.1 1186.8L741.7 1186.5L743.3 1187.4L744.9 1185.9L746.4 1187.7L748.0 1187.8L749.6 1163.2L751.2 1187.8L752.8 1187.2L754.4 1183.6L755.9 1186.9L757.5 1185.1L759.1 1185.8L760.7 1188.1L762.3 1175.5L763.9 1174.5L765.5 1188.1L767.0 1186.2L768.6 1187.6L770.2 1188.3L771.8 1187.7L773.4 1177.7L775.0 1187.2L776.5 1186.5L778.1 1186.6L779.7 1187.4L781.3 1187.9L782.9 1186.9L784.5 1187.5L786.0 1186.8L787.6 1188.0L789.2 1175.7L790.8 1188.5L792.4 1185.4L794.0 1186.0L795.6 1186.6" stroke="#00ffff"/><path d="M1279.0 1186.8L1280.6 1183.5L1282.2 1186.3L1283.8 1186.6L1285.4 1182.9L1287.0 1186.2L1288.6 1186.1L1290.2 1181.2L1291.8 1184.4L1293.4 1182.7L1295.0 1181.7L1296.6 1182.6L1298.1 1185.8L1299.7 1184.4L1301.3 1184.6L1302.9 1185.1L1304.5 1186.7L1306.1 1183.5L1307.7 1182.5L1309.3 1185.0L1310.9 1185.3L1312.5 1185.8L1314.1 1186.6L1315.7 1185.9L1317.3 1184.7L1318.9 1185.3L1320.4 1185.1L1322.0 1183.8L1323.6 1182.6L1325.2 1181.3L1326.8 1186.1L1328.4 1185.9L1330.0 1186.0L1331.6 1185.0L1333.2 1185.8L1334.8 1186.5L1336.4 1182.6L1338.0 1184.9L1339.6 1156.2L1341.1 1182.7L1342.7 1181.7L1344.3 1184.8L1345.9 1185.9L1347.5 1186.4L1349.1 1152.2L1350.7 1185.4L1352.3 1186.5L1353.9 1186.1L1355.5 1185.1L1357.1 1170.6L1358.7 1185.5L1360.3 1186.2L1361.8 1186.8L1363.4 1179.9L1365.0 1184.1L1366.6 1145.1L1368.2 1175.2L1369.8 1170.1L1371.4 1184.5L1373.0 1185.4L1374.6 1186.1L1376.2 1184.8L1377.8 1186.3L1379.4 1185.1L1381.0 1185.6L1382.6 1185.9L1384.1 1186.0L1385.7 1183.3L1387.3 1170.0L1388.9 1165.9L1390.5 1186.8L1392.1 1185.6L1393.7 1179.3L1395.3 1183.0L1396.9 1183.2L1398.5 1164.4L1400.1 1185.3L1401.7 1182.9L1403.3 1182.7L1404.8 1165.2L1406.4 1186.8L1408.0 1185.3L1409.6 1184.9L1411.2 1185.3L1412.8 1186.3L1414.4 1184.7L1416.0 1185.4L1417.6 1184.9L1419.2 1179.1L1420.8 1156.9L1422.4 1184.2L1424.0 1184.4L1425.5 1185.5L1427.1 1186.5L1428.7 1185.8L1430.3 1186.2L1431.9 1185.6L1433.5 1185.5L1435.1 1186.5L1436.7 1186.5L1438.3 1185.3L1439.9 1183.9L1441.5 1185.8L1443.1 1182.2L1444.7 1185.6L1446.3 1185.5L1447.8 1181.4L1449.4 1186.6L1451.0 1186.7L1452.6 1185.9L1454.2 1173.0L1455.8 1183.7L1457.4 1185.7L1459.0 1186.1L1460.6 1159.8L1462.2 1181.8L1463.8 1186.4L1465.4 1186.1L1467.0 1186.2L1468.5 1186.2L1470.1 1183.7L1471.7 1147.6L1473.3 1186.2L1474.9 1153.2L1476.5 1186.3L1478.1 1186.5L1479.7 1185.1L1481.3 1182.0L1482.9 1168.9L1484.5 1186.1L1486.1 1184.5L1487.7 1157.1L1489.2 1186.5L1490.8 1176.4L1492.4 1186.5L1494.0 1186.3L1495.6 1184.2L1497.2 1184.3L1498.8 1186.5L1500.4 1185.8L1502.0 1184.1L1503.6 1184.6L1505.2 1171.7L1506.8 1163.7L1508.4 1185.6L1510.0 1178.9L1511.5 1185.0L1513.1 1182.7L1514.7 1183.9L1516.3 1165.9L1517.9 1185.9L1519.5 1181.6L1521.1 1185.5" stroke="#00ffff"/><path d="M1331.0 1184.6L1332.8 1186.0L1334.6 1151.1L1336.4 1184.1L1338.2 1154.5L1340.1 1184.0L1341.9 1184.5L1343.7 1183.4" stroke="#00ffff"/><path d="M190.4 1188.2L192.0 1188.2L193.6 1188.1L195.2 1187.3L196.7 1184.8L198.3 1188.1L199.9 1187.2L201.5 1187.5L203.1 1188.0L204.7 1184.9L206.2 1188.2L207.8 1186.5L209.4 1187.1L211.0 1187.1L212.6 1187.3L214.2 1187.6L215.7 1185.3L217.3 1187.9L218.9 1185.6L220.5 1186.0L222.1 1185.4L223.7 1185.4L225.3 1184.9L226.8 1187.3L228.4 1188.6L230.0 1187.9L231.6 1188.0L233.2 1186.8L234.8 1184.7L236.3 1187.1L237.9 1188.3L239.5 1185.7L241.1 1186.0L242.7 1183.8L244.3 1186.1L245.8 1187.8L247.4 1186.9L249.0 1188.2L250.6 1185.3L252.2 1186.7L253.8 1187.9L255.4 1186.1L256.9 1184.8L258.5 1184.4L260.1 1188.6L261.7 1187.6L263.3 1187.5L264.9 1185.6L266.4 1185.0L268.0 1185.0L269.6 1186.9L271.2 1185.0L272.8 1187.6L274.4 1188.7L275.9 1188.3" stroke="#20ffdf"/><path d="M987.6 1187.4L989.1 1185.7L990.7 1187.5L992.3 1188.4L993.9 1187.7L995.5 1188.0L997.1 1187.7L998.7 1186.5L1000.2 1188.3L1001.8 1187.6L1003.4 1187.4L1005.0 1184.7L1006.6 1186.1L1008.2 1186.2L1009.8 1184.6L1011.4 1188.3L1012.9 1188.2L1014.5 1188.2L1016.1 1186.2L1017.7 1186.0L1019.3 1187.5L1020.9 1188.3L1022.5 1188.1L1024.0 1187.1L1025.6 1187.0L1027.2 1187.3L1028.8 1187.2L1030.4 1187.4L1032.0 1188.5L1033.6 1186.0L1035.2 1188.0L1036.7 1187.2L1038.3 1187.8L1039.9 1184.8L1041.5 1186.0L1043.1 1188.4L1044.7 1186.2L1046.3 1187.4L1047.9 1188.2L1049.4 1186.1L1051.0 1185.6L1052.6 1186.0L1054.2 1187.5L1055.8 1187.2L1057.4 1187.4L1059.0 1186.6L1060.5 1188.0L1062.1 1188.5L1063.7 1187.6L1065.3 1188.7L1066.9 1188.1L1068.5 1188.5L1070.1 1187.6L1071.7 1188.2L1073.2 1188.7L1074.8 1186.3L1076.4 1185.0L1078.0 1186.3L1079.6 1188.4L1081.2 1188.1L1082.8 1188.7L1084.3 1187.7L1085.9 1184.7L1087.5 1186.0L1089.1 1185.5L1090.7 1187.2L1092.3 1188.5L1093.9 1188.6L1095.5 1188.2L1097.0 1187.6L1098.6 1187.7L1100.2 1188.1L1101.8 1188.2L1103.4 1187.9L1105.0 1186.9L1106.6 1188.7L1108.2 1188.3L1109.7 1188.1L1111.3 1186.5L1112.9 1187.5L1114.5 1185.0L1116.1 1185.8L1117.7 1188.1L1119.3 1187.1L1120.8 1185.9L1122.4 1186.8L1124.0 1187.1L1125.6 1187.0L1127.2 1186.7L1128.8 1186.9L1130.4 1188.4L1132.0 1187.8L1133.5 1188.7L1135.1 1185.1L1136.7 1187.6L1138.3 1188.4L1139.9 1187.0L1141.5 1185.5L1143.1 1188.6L1144.6 1186.4L1146.2 1188.4L1147.8 1187.9L1149.4 1185.7L1151.0 1188.4L1152.6 1172.0L1154.2 1188.3L1155.8 1188.3L1157.3 1187.6L1158.9 1186.3L1160.5 1187.3L1162.1 1188.7L1163.7 1188.1L1165.3 1186.2L1166.9 1186.4L1168.5 1188.6L1170.0 1185.5L1171.6 1186.6L1173.2 1180.8L1174.8 1185.7L1176.4 1186.1" stroke="#20ffdf"/><path d="M877.9 1182.9L879.5 1184.9L881.1 1184.1L882.7 1183.2L884.3 1186.1L885.8 1186.0L887.4 1186.1L889.0 1183.2L890.6 1183.3L892.2 1184.2L893.8 1186.8L895.4 1186.1L896.9 1186.9L898.5 1185.8L900.1 1184.1L901.7 1184.7L903.3 1186.3L904.9 1186.8L906.4 1186.8L908.0 1186.7L909.6 1184.6L911.2 1186.8L912.8 1185.2L914.4 1184.5L915.9 1183.2L917.5 1184.1L919.1 1186.4L920.7 1185.6L922.3 1184.1L923.9 1186.5L925.5 1186.9L927.0 1186.9L928.6 1185.3L930.2 1185.3L931.8 1183.6L933.4 1186.4L935.0 1185.0L936.5 1186.7L938.1 1183.0L939.7 1185.6L941.3 1182.9L942.9 1185.2L944.5 1186.6L946.0 1185.3L947.6 1185.4L949.2 1185.8L950.8 1186.6" stroke="#40ffbf"/><path d="M190.4 1182.2L192.0 1182.8L193.6 1185.1L195.2 1186.0L196.7 1186.8" stroke="#60ff9f"/><path d="M950.8 1185.9L952.4 1185.2L954.0 1186.2L955.6 1186.3L957.2 1186.2L958.8 1183.2L960.4 1179.8L962.0 1185.5L963.6 1186.3L965.3 1183.2L966.9 1183.7L968.5 1182.6L970.1 1183.9L971.7 1185.9L973.3 1184.2L974.9 1186.0L976.5 1185.6L978.1 1185.5L979.7 1180.3L981.3 1183.9L982.9 1183.6L984.5 1185.4L986.1 1178.3L987.7 1186.4L989.3 1185.0L990.9 1184.3L992.6 1186.5L994.2 1184.5L995.8 1186.2L997.4 1184.3L999.0 1186.1L1000.6 1184.6L1002.2 1186.3L1003.8 1185.7L1005.4 1180.6L1007.0 1180.7L1008.6 1184.7L1010.2 1184.1L1011.8 1185.7L1013.4 1184.9L1015.0 1182.1L1016.6 1186.1L1018.2 1186.3L1019.9 1186.0L1021.5 1182.7L1023.1 1182.2L1024.7 1185.1L1026.3 1184.0L1027.9 1182.6L1029.5 1184.4L1031.1 1181.7L1032.7 1186.5L1034.3 1184.8L1035.9 1185.0L1037.5 1185.6L1039.1 1185.7L1040.7 1184.9L1042.3 1186.0L1043.9 1185.1L1045.5 1186.0L1047.2 1184.0L1048.8 1185.6L1050.4 1181.8L1052.0 1183.7L1053.6 1186.3L1055.2 1186.5L1056.8 1185.1L1058.4 1185.5L1060.0 1185.9L1061.6 1186.0L1063.2 1186.5L1064.8 1183.5L1066.4 1184.5L1068.0 1181.2" stroke="#60ff9f"/><path d="M538.9 1187.7L540.5 1188.3L542.1 1186.0L543.7 1188.2L545.3 1184.8L546.8 1185.4L548.4 1185.5L550.0 1187.3L551.6 1185.2L553.2 1188.3L554.8 1188.9L556.3 1186.9L557.9 1187.9L559.5 1188.4L561.1 1185.5L562.7 1187.7L564.3 1188.3L565.8 1188.6L567.4 1185.4L569.0 1188.4L570.6 1188.6L572.2 1189.0L573.8 1188.6L575.4 1187.5L576.9 1188.7L578.5 1189.0L580.1 1188.1L581.7 1186.7L583.3 1188.1L584.9 1186.1L586.4 1187.8L588.0 1187.8L589.6 1186.8L591.2 1181.8L592.8 1188.9L594.4 1188.2L595.9 1185.5L597.5 1188.6L599.1 1179.9L600.7 1188.2L602.3 1188.8L603.9 1187.7L605.5 1164.5L607.0 1186.0L608.6 1186.7L610.2 1188.4L611.8 1178.7L613.4 1188.1L615.0 1175.8L616.5 1186.5L618.1 1186.5L619.7 1187.1L621.3 1186.1L622.9 1177.9L624.5 1188.5L626.0 1163.3L627.6 1188.8L629.2 1183.7L630.8 1188.1L632.4 1162.6L634.0 1185.7L635.6 1184.9L637.1 1167.8L638.7 1168.5L640.3 1185.1L641.9 1188.7L643.5 1188.2L645.1 1184.0L646.6 1173.6L648.2 1187.7L649.8 1187.1L651.4 1189.0L653.0 1185.3L654.6 1187.7L656.1 1188.6L657.7 1188.6L659.3 1187.8L660.9 1188.8L662.5 1162.8L664.1 1188.0L665.6 1184.6L667.2 1186.9L668.8 1185.0L670.4 1179.8L672.0 1184.7L673.6 1185.6L675.2 1188.1L676.7 1187.3L678.3 1163.2L679.9 1185.4L681.5 1186.3L683.1 1184.9L684.7 1186.0L686.2 1187.3L687.8 1181.1L689.4 1189.0L691.0 1188.7L692.6 1186.5L694.2 1188.4L695.7 1187.1L697.3 1187.4L698.9 1174.1L700.5 1187.8L702.1 1187.0L703.7 1187.8L705.3 1184.7L706.8 1185.7L708.4 1188.6L710.0 1185.0L711.6 1186.4L713.2 1185.6L714.8 1188.0L716.3 1187.5L717.9 1185.2L719.5 1188.2L721.1 1188.3L722.7 1188.1L724.3 1187.1L725.8 1187.8L727.4 1188.1L729.0 1188.9L730.6 1177.8L732.2 1188.8L733.8 1188.5L735.4 1187.8L736.9 1188.8L738.5 1187.6L740.1 1188.5L741.7 1188.5L743.3 1187.6L744.9 1189.0L746.4 1187.0L748.0 1183.9L749.6 1186.1L751.2 1175.9L752.8 1188.5L754.4 1187.5L755.9 1188.7L757.5 1185.4L759.1 1188.3L760.7 1187.1L762.3 1181.4L763.9 1188.3L765.5 1188.9L767.0 1184.7L768.6 1177.4L770.2 1188.6L771.8 1182.0L773.4 1187.1L775.0 1188.7L776.5 1181.7L778.1 1188.7L779.7 1184.8L781.3 1187.6L782.9 1188.9L784.5 1188.6L786.0 1188.0L787.6 1188.5L789.2 1187.0L790.8 1185.2L792.4 1186.8L794.0 1185.9L795.6 1178.5L797.1 1188.1L798.7 1182.8L800.3 1188.5L801.9 1188.9L803.5 1187.4L805.1 1186.1L806.6 1186.9L808.2 1185.9L809.8 1187.2L811.4 1185.0L813.0 1187.2L814.6 1189.0L816.1 1188.3L817.7 1186.6L819.3 1183.0L820.9 1189.0L822.5 1185.6L824.1 1175.6L825.7 1188.7L827.2 1189.0" stroke="#dfff20"/><path d="M1503.4 1165.7L1504.9 1184.7L1506.5 1186.1L1508.1 1184.9L1509.7 1186.3L1511.3 1185.3L1512.9 1184.7L1514.5 1149.4L1516.1 1186.3L1517.7 1183.4L1519.3 1184.6L1520.9 1185.7L1522.5 1184.8L1524.1 1185.2L1525.7 1186.0L1527.2 1174.8L1528.8 1184.8L1530.4 1186.2L1532.0 1184.6L1533.6 1185.7L1535.2 1185.8L1536.8 1182.9L1538.4 1185.6L1540.0 1185.2L1541.6 1185.2L1543.2 1186.2L1544.8 1185.5L1546.4 1185.1L1547.9 1186.0L1549.5 1179.0L1551.1 1184.6L1552.7 1185.1L1554.3 1184.8L1555.9 1183.1L1557.5 1184.9L1559.1 1183.2L1560.7 1183.3L1562.3 1181.7L1563.9 1183.7L1565.5 1186.2L1567.1 1185.9L1568.7 1184.7L1570.2 1184.7L1571.8 1183.4L1573.4 1181.8L1575.0 1186.1L1576.6 1184.6L1578.2 1185.2L1579.8 1186.1L1581.4 1173.9L1583.0 1176.9L1584.6 1174.4L1586.2 1186.1L1587.8 1184.0L1589.4 1185.8L1590.9 1185.1L1592.5 1173.6L1594.1 1182.8L1595.7 1183.7L1597.3 1184.8L1598.9 1184.4L1600.5 1183.7L1602.1 1183.7L1603.7 1185.0L1605.3 1179.4L1606.9 1185.2L1608.5 1186.0L1610.1 1185.6L1611.7 1184.1L1613.2 1183.3L1614.8 1181.8L1616.4 1185.6L1618.0 1185.7L1619.6 1184.2L1621.2 1186.1L1622.8 1184.9L1624.4 1185.4L1626.0 1184.7L1627.6 1184.5L1629.2 1184.2L1630.8 1185.1L1632.4 1183.5L1633.9 1181.8L1635.5 1184.6L1637.1 1185.7L1638.7 1183.3L1640.3 1184.5L1641.9 1184.6L1643.5 1185.3L1645.1 1178.3L1646.7 1183.2L1648.3 1184.9L1649.9 1186.2L1651.5 1184.5L1653.1 1183.3L1654.7 1184.5L1656.2 1184.5L1657.8 1183.8L1659.4 1183.4L1661.0 1184.5L1662.6 1184.5L1664.2 1183.5L1665.8 1186.3L1667.4 1183.8L1669.0 1184.6L1670.6 1185.9L1672.2 1185.3L1673.8 1184.4L1675.4 1182.5L1676.9 1185.1L1678.5 1183.8L1680.1 1185.3L1681.7 1182.6L1683.3 1181.8" stroke="#dfff20"/><path d="M763.9 1186.9L765.5 1178.2L767.1 1186.3L768.7 1183.7L770.2 1182.6L771.8 1183.6L773.4 1185.4L775.0 1177.6L776.6 1186.1L778.2 1187.3L779.8 1183.4L781.4 1186.6L783.0 1185.3L784.6 1186.8L786.2 1185.9L787.8 1183.9L789.4 1182.6L791.0 1187.1L792.6 1185.4L794.2 1183.0L795.8 1186.9L797.4 1179.4L799.0 1177.9L800.6 1185.8L802.1 1184.0L803.7 1186.2L805.3 1186.3L806.9 1175.4L808.5 1181.8L810.1 1184.3L811.7 1182.8L813.3 1175.8L814.9 1185.1L816.5 1183.5L818.1 1185.7L819.7 1185.2L821.3 1186.0L822.9 1186.7L824.5 1186.6L826.1 1183.5L827.7 1185.8L829.3 1187.1L830.9 1185.5L832.5 1186.6L834.0 1186.5L835.6 1176.1L837.2 1186.5L838.8 1185.4L840.4 1184.5L842.0 1185.9L843.6 1187.3L845.2 1186.7L846.8 1184.6L848.4 1184.8L850.0 1186.7L851.6 1187.0L853.2 1185.6L854.8 1185.1L856.4 1182.2L858.0 1182.7L859.6 1186.2L861.2 1185.9L862.8 1186.9L864.3 1177.2L865.9 1187.1L867.5 1185.6L869.1 1186.1L870.7 1185.2L872.3 1175.0L873.9 1186.2L875.5 1184.5L877.1 1186.7L878.7 1182.7L880.3 1187.3L881.9 1187.0L883.5 1186.5L885.1 1184.0L886.7 1186.5L888.3 1185.1L889.9 1187.0L891.5 1186.9L893.1 1185.6L894.7 1187.1L896.2 1185.9L897.8 1187.0L899.4 1186.2L901.0 1186.0L902.6 1186.2L904.2 1187.0L905.8 1186.2L907.4 1186.2L909.0 1185.5L910.6 1184.7L912.2 1183.7L913.8 1182.7L915.4 1184.5L917.0 1184.6L918.6 1184.8L920.2 1182.7L921.8 1186.5L923.4 1184.5L925.0 1183.4L926.6 1184.6L928.1 1187.0L929.7 1186.6L931.3 1183.3L932.9 1184.7L934.5 1185.5L936.1 1186.3L937.7 1186.6L939.3 1184.8L940.9 1187.1L942.5 1185.6L944.1 1184.6L945.7 1186.2L947.3 1187.3L948.9 1186.3L950.5 1183.6L952.1 1185.7L953.7 1184.3L955.3 1187.0L956.9 1186.4L958.5 1185.2L960.0 1185.5L961.6 1186.2L963.2 1186.8L964.8 1185.5L966.4 1185.9L968.0 1187.2L969.6 1185.4L971.2 1177.9L972.8 1185.3L974.4 1180.3L976.0 1186.3L977.6 1185.3L979.2 1185.7L980.8 1166.5L982.4 1187.1L984.0 1186.0L985.6 1172.6L987.2 1186.3L988.8 1183.7L990.4 1182.9L991.9 1185.4L993.5 1184.4L995.1 1184.3L996.7 1187.3L998.3 1186.8" stroke="#ffdf00"/><path d="M1701.7 1185.7L1703.6 1187.5L1705.5 1187.0L1707.4 1187.6L1709.3 1187.9L1711.2 1187.1" stroke="#ffdf00"/><path d="M247.4 1187.5L249.0 1184.8L250.6 1184.7L252.2 1185.9L253.8 1186.2L255.4 1184.2L256.9 1185.3L258.5 1185.9L260.1 1185.8L261.7 1187.2L263.3 1186.2L264.9 1186.3L266.4 1186.4L268.0 1183.8L269.6 1186.5L271.2 1185.1L272.8 1186.5L274.4 1187.3L275.9 1186.8L277.5 1185.0L279.1 1186.3L280.7 1185.7L282.3 1186.9L283.9 1186.6L285.4 1187.4L287.0 1184.9L288.6 1185.5L290.2 1187.0L291.8 1184.2L293.4 1186.0L295.0 1185.7L296.5 1185.3L298.1 1186.6L299.7 1186.1L301.3 1183.9L302.9 1181.6L304.5 1186.0L306.0 1187.1L307.6 1183.0L309.2 1186.7L310.8 1187.6L312.4 1184.0L314.0 1185.4L315.5 1185.8L317.1 1187.4L318.7 1185.4L320.3 1186.4L321.9 1184.1L323.5 1185.0L325.1 1181.7L326.6 1186.4L328.2 1185.4L329.8 1183.8L331.4 1185.1L333.0 1185.4L334.6 1184.0L336.1 1185.8L337.7 1187.2L339.3 1184.9L340.9 1184.8L342.5 1185.4L344.1 1185.4L345.6 1187.1L347.2 1184.5L348.8 1186.2L350.4 1185.5L352.0 1187.3L353.6 1185.6L355.2 1183.2L356.7 1183.6L358.3 1185.7L359.9 1187.1L361.5 1186.4L363.1 1187.4L364.7 1183.2L366.2 1184.9L367.8 1186.6L369.4 1187.2L371.0 1185.9L372.6 1185.0L374.2 1186.1L375.7 1186.9L377.3 1186.7L378.9 1187.0L380.5 1185.8L382.1 1181.4L383.7 1183.3L385.3 1185.5L386.8 1180.5L388.4 1185.7L390.0 1187.0L391.6 1186.7L393.2 1183.0L394.8 1187.2L396.3 1187.6L397.9 1184.5L399.5 1185.1L401.1 1184.7L402.7 1186.2L404.3 1185.2L405.8 1178.4L407.4 1183.9L409.0 1184.2L410.6 1186.7L412.2 1183.7L413.8 1176.1L415.4 1182.7L416.9 1181.0L418.5 1186.9L420.1 1184.9L421.7 1187.4L423.3 1185.9L424.9 1184.4L426.4 1186.5L428.0 1185.3L429.6 1181.1L431.2 1185.1L432.8 1185.7L434.4 1185.2L435.9 1186.2L437.5 1187.1L439.1 1185.2L440.7 1186.0L442.3 1182.4L443.9 1186.6L445.5 1186.7L447.0 1181.2L448.6 1186.7L450.2 1186.8L451.8 1184.8L453.4 1187.3L455.0 1186.3L456.5 1181.2L458.1 1186.5L459.7 1185.3" stroke="#ff8000"/><path d="M1071.2 1186.3L1072.8 1182.3L1074.4 1185.9L1075.9 1185.9L1077.5 1185.8L1079.1 1185.5L1080.7 1183.8L1082.3 1183.6L1083.9 1185.3L1085.5 1186.2L1087.0 1186.1L1088.6 1185.4L1090.2 1184.5L1091.8 1182.9L1093.4 1180.1L1095.0 1184.7L1096.5 1185.7L1098.1 1184.0L1099.7 1186.3L1101.3 1185.6L1102.9 1184.5L1104.5 1186.5L1106.0 1184.5L1107.6 1185.0L1109.2 1186.6L1110.8 1186.5L1112.4 1183.1L1114.0 1184.5L1115.6 1184.8L1117.1 1185.1L1118.7 1184.4L1120.3 1183.3L1121.9 1184.9L1123.5 1185.4L1125.1 1186.1L1126.6 1184.0L1128.2 1185.9L1129.8 1184.4L1131.4 1186.1L1133.0 1185.9L1134.6 1182.8L1136.1 1184.6L1137.7 1185.3L1139.3 1184.7L1140.9 1185.6L1142.5 1183.9L1144.1 1175.5L1145.7 1184.6L1147.2 1180.9L1148.8 1184.9L1150.4 1183.0L1152.0 1185.4L1153.6 1185.9L1155.2 1185.7L1156.7 1185.4L1158.3 1182.1L1159.9 1184.3L1161.5 1184.7L1163.1 1186.1L1164.7 1184.0L1166.2 1169.2L1167.8 1186.5L1169.4 1181.3L1171.0 1185.6L1172.6 1170.9L1174.2 1184.4L1175.8 1184.1L1177.3 1184.9L1178.9 1170.5L1180.5 1185.8L1182.1 1180.2L1183.7 1183.7L1185.3 1167.0L1186.8 1184.4L1188.4 1182.7L1190.0 1185.3L1191.6 1184.6L1193.2 1181.4L1194.8 1186.0L1196.3 1184.4L1197.9 1185.5L1199.5 1172.7L1201.1 1169.1L1202.7 1185.4L1204.3 1172.9L1205.9 1185.9L1207.4 1171.5L1209.0 1185.3L1210.6 1183.6L1212.2 1184.5L1213.8 1185.4L1215.4 1184.6L1216.9 1185.9L1218.5 1181.5L1220.1 1185.4L1221.7 1184.5L1223.3 1185.5L1224.9 1186.0L1226.4 1185.5L1228.0 1185.9L1229.6 1184.3L1231.2 1170.1L1232.8 1186.1L1234.4 1185.3L1236.0 1184.4L1237.5 1185.0L1239.1 1186.0L1240.7 1186.0L1242.3 1186.2L1243.9 1183.7L1245.5 1184.6L1247.0 1186.4L1248.6 1169.2L1250.2 1176.0L1251.8 1172.6L1253.4 1186.2L1255.0 1185.4L1256.5 1185.3L1258.1 1184.0L1259.7 1185.6L1261.3 1183.9L1262.9 1177.7L1264.5 1185.6L1266.0 1183.2L1267.6 1183.7L1269.2 1184.6L1270.8 1183.4L1272.4 1185.7L1274.0 1186.0L1275.6 1185.1L1277.1 1185.5L1278.7 1183.6L1280.3 1185.9L1281.9 1185.4L1283.5 1183.8L1285.1 1186.3L1286.6 1185.6L1288.2 1180.5L1289.8 1182.7L1291.4 1186.1L1293.0 1185.2L1294.6 1184.4L1296.1 1183.7L1297.7 1184.8L1299.3 1183.8L1300.9 1183.1L1302.5 1184.6L1304.1 1183.5L1305.7 1185.4L1307.2 1184.3L1308.8 1186.3L1310.4 1184.4L1312.0 1181.2L1313.6 1185.1L1315.2 1184.1L1316.7 1184.9L1318.3 1185.3L1319.9 1186.1L1321.5 1183.6L1323.1 1185.2L1324.7 1185.0L1326.2 1186.0L1327.8 1186.3L1329.4 1184.3L1331.0 1185.5" stroke="#ff8000"/><path d="M1331.0 1183.2L1332.6 1187.4L1334.2 1187.5L1335.8 1186.3L1337.4 1185.9L1338.9 1150.2L1340.5 1184.1L1342.1 1185.4L1343.7 1187.1L1345.3 1187.9L1346.9 1188.4L1348.5 1188.1L1350.1 1186.4L1351.7 1186.3L1353.3 1187.9L1354.8 1187.3L1356.4 1184.7L1358.0 1187.7L1359.6 1187.7L1361.2 1159.0L1362.8 1186.7L1364.4 1150.3L1366.0 1188.4L1367.6 1188.6L1369.2 1188.5L1370.7 1184.7L1372.3 1188.1L1373.9 1187.7L1375.5 1177.2L1377.1 1187.8L1378.7 1167.8L1380.3 1188.6L1381.9 1187.3L1383.5 1188.4L1385.1 1188.2L1386.6 1186.5L1388.2 1163.5L1389.8 1188.3L1391.4 1186.4L1393.0 1152.9L1394.6 1153.2L1396.2 1186.7L1397.8 1188.4L1399.4 1186.9L1401.0 1188.6L1402.5 1167.7L1404.1 1185.4L1405.7 1187.8L1407.3 1186.0L1408.9 1186.6L1410.5 1187.1L1412.1 1185.6L1413.7 1187.3L1415.3 1186.1L1416.9 1186.3L1418.4 1185.7L1420.0 1187.0L1421.6 1177.3L1423.2 1186.7L1424.8 1184.5L1426.4 1177.4L1428.0 1187.6L1429.6 1186.0L1431.2 1188.3L1432.8 1183.1L1434.3 1188.0L1435.9 1184.2L1437.5 1187.8L1439.1 1187.4L1440.7 1185.0L1442.3 1188.1L1443.9 1186.7L1445.5 1187.4L1447.1 1186.4L1448.7 1182.7L1450.2 1185.0L1451.8 1187.6L1453.4 1185.0L1455.0 1184.1L1456.6 1150.6L1458.2 1186.0L1459.8 1171.1L1461.4 1187.5L1463.0 1150.0L1464.6 1187.3L1466.1 1187.5L1467.7 1187.6L1469.3 1187.5L1470.9 1186.7L1472.5 1187.2L1474.1 1187.7L1475.7 1186.7L1477.3 1185.6L1478.9 1186.3L1480.5 1187.6L1482.0 1188.3L1483.6 1157.6L1485.2 1171.1L1486.8 1187.9L1488.4 1186.1L1490.0 1148.5L1491.6 1188.3L1493.2 1186.5L1494.8 1185.3L1496.4 1185.5L1497.9 1187.5L1499.5 1187.1L1501.1 1185.5L1502.7 1188.3L1504.3 1174.2L1505.9 1185.9" stroke="#ff8000"/><path d="M500.9 1186.4L502.5 1182.9L504.1 1184.3L505.7 1185.9L507.3 1182.5L508.9 1184.0L510.5 1185.9L512.1 1186.6L513.7 1184.2L515.3 1185.2L516.9 1186.0L518.5 1185.3L520.1 1186.1L521.7 1183.9L523.3 1185.3L524.9 1186.1L526.5 1184.1L528.1 1182.1L529.7 1186.2L531.3 1186.4L532.9 1185.8L534.5 1183.8L536.1 1186.5L537.7 1184.6L539.3 1185.2L540.9 1186.5L542.5 1184.4L544.1 1185.2L545.7 1181.7L547.3 1185.2L548.9 1186.0L550.6 1184.8L552.2 1184.0L553.8 1185.5L555.4 1185.8L557.0 1183.0L558.6 1185.8" stroke="#ff6000"/><path d="M1197.9 1188.3L1199.5 1187.0L1201.1 1184.5L1202.7 1185.7L1204.3 1187.0L1205.9 1187.1L1207.5 1187.6L1209.2 1187.4L1210.8 1186.6L1212.4 1183.2L1214.0 1184.6L1215.6 1187.6L1217.2 1186.0L1218.8 1186.5L1220.4 1188.1L1222.0 1188.2L1223.6 1187.2L1225.2 1171.7L1226.8 1186.2L1228.4 1188.1L1230.0 1188.4L1231.6 1184.1L1233.2 1184.6L1234.8 1187.7L1236.4 1186.9L1238.0 1187.5L1239.6 1185.1L1241.2 1186.5L1242.8 1186.4L1244.4 1186.9L1246.0 1187.6L1247.6 1187.7L1249.2 1188.4L1250.8 1188.2L1252.4 1183.5L1254.0 1173.4L1255.6 1186.5L1257.3 1187.1L1258.9 1186.5L1260.5 1187.3L1262.1 1187.7L1263.7 1186.9L1265.3 1186.9L1266.9 1188.4L1268.5 1187.1L1270.1 1187.2L1271.7 1186.2L1273.3 1186.9L1274.9 1187.4L1276.5 1188.5L1278.1 1186.3L1279.7 1184.3L1281.3 1186.1L1282.9 1185.0L1284.5 1187.6L1286.1 1187.5L1287.7 1188.1L1289.3 1185.6L1290.9 1188.3L1292.5 1188.1L1294.1 1184.7L1295.7 1188.3L1297.3 1186.8L1298.9 1187.4L1300.5 1185.4L1302.1 1184.3L1303.7 1182.8L1305.3 1187.2L1307.0 1187.6L1308.6 1186.6L1310.2 1186.4L1311.8 1186.8L1313.4 1188.1L1315.0 1185.2L1316.6 1186.7L1318.2 1182.2L1319.8 1188.2L1321.4 1187.9L1323.0 1187.8L1324.6 1186.9L1326.2 1188.1L1327.8 1185.3L1329.4 1187.6L1331.0 1187.9" stroke="#ff6000"/><path d="M1331.0 1183.3L1332.6 1186.8L1334.2 1182.1L1335.8 1168.3L1337.3 1186.5L1338.9 1173.3L1340.5 1185.9L1342.1 1185.3L1343.7 1150.0L1345.3 1184.4L1346.8 1159.1L1348.4 1186.4L1350.0 1185.6L1351.6 1186.3L1353.2 1185.4L1354.8 1184.7L1356.3 1185.5L1357.9 1185.6L1359.5 1185.2L1361.1 1163.6L1362.7 1186.1L1364.3 1185.7L1365.9 1147.9L1367.4 1183.5L1369.0 1186.8L1370.6 1185.1L1372.2 1162.5L1373.8 1160.9L1375.4 1183.6L1376.9 1184.8L1378.5 1184.1L1380.1 1186.3L1381.7 1182.5L1383.3 1186.1L1384.9 1184.2L1386.4 1184.8L1388.0 1186.4L1389.6 1186.8L1391.2 1186.4L1392.8 1186.9L1394.4 1183.7" stroke="#ff6000"/><path d="M1394.4 1151.3L1396.0 1184.4L1397.6 1146.9L1399.2 1186.2L1400.8 1161.9L1402.4 1181.8L1404.0 1181.8L1405.6 1184.3L1407.2 1186.1L1408.8 1185.0L1410.4 1184.0L1412.1 1148.4L1413.7 1184.8L1415.3 1184.6L1416.9 1186.2L1418.5 1184.6L1420.1 1181.2L1421.7 1186.2L1423.3 1183.0L1424.9 1184.4L1426.5 1183.7L1428.1 1185.8L1429.7 1184.8L1431.3 1184.8L1433.0 1185.0L1434.6 1186.0L1436.2 1184.2L1437.8 1164.8L1439.4 1185.6L1441.0 1185.7L1442.6 1185.6L1444.2 1184.2L1445.8 1178.8L1447.4 1183.0L1449.0 1185.4L1450.6 1184.4L1452.2 1181.7L1453.9 1186.2L1455.5 1185.0L1457.1 1184.5L1458.7 1185.3L1460.3 1184.8L1461.9 1185.8L1463.5 1185.6L1465.1 1156.5L1466.7 1185.7L1468.3 1181.3L1469.9 1184.7L1471.5 1185.5L1473.1 1185.1L1474.8 1185.0L1476.4 1181.4L1478.0 1182.9L1479.6 1174.9L1481.2 1186.2L1482.8 1184.8L1484.4 1184.4L1486.0 1184.0L1487.6 1184.6L1489.2 1186.0L1490.8 1150.8L1492.4 1185.8L1494.1 1183.5L1495.7 1182.9L1497.3 1184.4L1498.9 1181.9L1500.5 1185.7L1502.1 1185.6" stroke="#ff6000"/><path d="M190.4 1187.5L192.0 1187.5L193.6 1187.0L195.2 1187.2L196.7 1186.3L198.3 1184.4L199.9 1184.8L201.5 1186.3L203.1 1186.0L204.7 1185.4L206.2 1187.4L207.8 1182.3L209.4 1186.5L211.0 1185.2L212.6 1184.3L214.2 1185.9L215.7 1186.6L217.3 1187.5L218.9 1184.3L220.5 1187.4L222.1 1186.6L223.7 1186.8L225.3 1186.4L226.8 1187.0L228.4 1187.4L230.0 1186.7L231.6 1186.4L233.2 1187.1L234.8 1185.7L236.3 1187.3L237.9 1187.0L239.5 1187.4L241.1 1186.5L242.7 1187.1L244.3 1187.1L245.8 1186.4L247.4 1183.8L249.0 1185.1L250.6 1187.5L252.2 1187.0L253.8 1187.5L255.4 1186.1L256.9 1186.4L258.5 1187.2L260.1 1184.7L261.7 1184.7L263.3 1187.1L264.9 1185.5L266.4 1187.3L268.0 1186.9L269.6 1186.9L271.2 1186.4L272.8 1186.3L274.4 1187.3L275.9 1186.4L277.5 1185.7L279.1 1186.9L280.7 1184.8L282.3 1184.2L283.9 1187.7L285.4 1184.6L287.0 1187.4L288.6 1186.1L290.2 1185.3L291.8 1187.3L293.4 1185.7L295.0 1184.7L296.5 1186.6L298.1 1187.2L299.7 1185.4L301.3 1186.6L302.9 1186.1L304.5 1186.2L306.0 1187.2L307.6 1184.6L309.2 1181.7L310.8 1183.4L312.4 1186.9L314.0 1185.7L315.5 1185.9L317.1 1186.5L318.7 1187.1L320.3 1187.6L321.9 1182.1L323.5 1185.0L325.1 1187.5L326.6 1185.6L328.2 1187.5L329.8 1184.9L331.4 1186.9L333.0 1186.7L334.6 1184.4L336.1 1186.3L337.7 1186.9L339.3 1186.3L340.9 1185.7L342.5 1187.0L344.1 1187.1L345.6 1186.8L347.2 1187.0L348.8 1186.4L350.4 1187.4L352.0 1185.1L353.6 1187.0L355.2 1187.7L356.7 1186.5L358.3 1187.1L359.9 1187.0L361.5 1185.7L363.1 1187.4L364.7 1178.8L366.2 1186.7L367.8 1186.2L369.4 1185.9L371.0 1186.1L372.6 1186.5L374.2 1186.5L375.7 1181.0L377.3 1185.6L378.9 1183.9L380.5 1182.8L382.1 1187.0L383.7 1186.9L385.3 1184.6L386.8 1185.9L388.4 1186.6L390.0 1185.8L391.6 1186.7L393.2 1186.2L394.8 1185.1L396.3 1186.6L397.9 1185.7L399.5 1185.2L401.1 1186.2L402.7 1187.7L404.3 1186.9L405.8 1186.7L407.4 1185.5L409.0 1186.0L410.6 1186.1L412.2 1186.1L413.8 1182.9L415.4 1185.3L416.9 1181.9L418.5 1186.8L420.1 1186.4L421.7 1187.4L423.3 1186.2L424.9 1186.8L426.4 1186.1L428.0 1181.2L429.6 1186.2L431.2 1187.7L432.8 1185.3L434.4 1186.8L435.9 1187.2L437.5 1187.7L439.1 1184.4L440.7 1183.4L442.3 1186.9L443.9 1183.9L445.5 1187.5L447.0 1187.1L448.6 1184.2L450.2 1186.8L451.8 1185.4L453.4 1181.8L455.0 1187.4L456.5 1185.6L458.1 1187.7L459.7 1182.5" stroke="#ff4000"/><path d="M1091.5 1184.5L1093.1 1185.8L1094.7 1187.6L1096.2 1188.2L1097.8 1186.3L1099.4 1183.6L1101.0 1185.9L1102.6 1187.8L1104.2 1186.7L1105.8 1186.4L1107.4 1185.2L1109.0 1185.4L1110.6 1186.5L1112.2 1185.4L1113.8 1187.8L1115.4 1187.2L1116.9 1187.1L1118.5 1187.2L1120.1 1186.6L1121.7 1188.3L1123.3 1188.3L1124.9 1185.7L1126.5 1187.8L1128.1 1186.4L1129.7 1185.4L1131.3 1187.5L1132.9 1187.8L1134.5 1187.7L1136.0 1187.0L1137.6 1188.0L1139.2 1187.9L1140.8 1187.8L1142.4 1184.1L1144.0 1184.5L1145.6 1172.5L1147.2 1187.7L1148.8 1185.3L1150.4 1186.3L1152.0 1186.8L1153.6 1174.2L1155.1 1186.4L1156.7 1184.2L1158.3 1186.4L1159.9 1181.9L1161.5 1187.9L1163.1 1170.8L1164.7 1187.1L1166.3 1185.6L1167.9 1182.9L1169.5 1187.7L1171.1 1187.9L1172.7 1186.0L1174.3 1184.2L1175.8 1187.6L1177.4 1187.6L1179.0 1166.2L1180.6 1187.5L1182.2 1187.2L1183.8 1186.1L1185.4 1184.7L1187.0 1187.6L1188.6 1186.7L1190.2 1187.7L1191.8 1182.5L1193.4 1187.1L1194.9 1185.2L1196.5 1184.8L1198.1 1188.2L1199.7 1169.0L1201.3 1184.8L1202.9 1186.9L1204.5 1187.2L1206.1 1185.8L1207.7 1185.8L1209.3 1187.4L1210.9 1186.9L1212.5 1186.9L1214.0 1188.3L1215.6 1187.7L1217.2 1187.5L1218.8 1186.2L1220.4 1176.7L1222.0 1187.5L1223.6 1186.2L1225.2 1184.6L1226.8 1188.0L1228.4 1187.0L1230.0 1187.3L1231.6 1186.5L1233.2 1184.2L1234.7 1182.4L1236.3 1187.7L1237.9 1187.2L1239.5 1185.6L1241.1 1177.2L1242.7 1186.2L1244.3 1188.3L1245.9 1188.0L1247.5 1185.9L1249.1 1186.1L1250.7 1172.9L1252.3 1187.0L1253.8 1187.8L1255.4 1186.2L1257.0 1187.7L1258.6 1187.9L1260.2 1186.2L1261.8 1187.2L1263.4 1187.6L1265.0 1185.2L1266.6 1186.5L1268.2 1187.1L1269.8 1187.3L1271.4 1188.2L1272.9 1185.5L1274.5 1186.0L1276.1 1187.2L1277.7 1188.3L1279.3 1186.7L1280.9 1188.0L1282.5 1186.3L1284.1 1188.0L1285.7 1187.8L1287.3 1186.1" stroke="#ff4000"/><path d="M668.8 1188.0L670.4 1187.5L672.0 1188.7L673.6 1184.2L675.2 1186.6L676.8 1165.9L678.3 1186.8L679.9 1187.5L681.5 1186.9L683.1 1188.0L684.7 1186.3L686.3 1183.9L687.9 1184.9L689.4 1188.4L691.0 1187.9L692.6 1174.0L694.2 1188.0L695.8 1184.8L697.4 1187.5L699.0 1186.7L700.5 1160.3L702.1 1187.4L703.7 1188.5L705.3 1188.5L706.9 1188.1L708.5 1188.9L710.1 1186.1L711.7 1187.6L713.2 1188.1L714.8 1186.8L716.4 1188.9L718.0 1165.4L719.6 1186.9L721.2 1186.1L722.8 1185.0L724.3 1187.5L725.9 1187.5L727.5 1187.9L729.1 1186.7L730.7 1187.3L732.3 1187.1L733.9 1170.4L735.5 1187.5L737.0 1186.4L738.6 1180.6L740.2 1187.1L741.8 1187.8L743.4 1160.3L745.0 1188.0L746.6 1187.8L748.1 1186.7L749.7 1175.8L751.3 1187.5L752.9 1188.4L754.5 1188.9L756.1 1188.0L757.7 1187.4L759.3 1188.6L760.8 1187.3L762.4 1187.0L764.0 1181.0L765.6 1187.7L767.2 1188.1L768.8 1188.3L770.4 1185.5L771.9 1187.9L773.5 1175.9L775.1 1188.2L776.7 1188.8L778.3 1188.0L779.9 1186.5L781.5 1188.8L783.0 1181.8L784.6 1188.5L786.2 1186.4L787.8 1188.3L789.4 1186.0L791.0 1182.7L792.6 1177.4L794.2 1188.9L795.7 1185.6L797.3 1183.9L798.9 1188.1L800.5 1176.6L802.1 1187.6L803.7 1181.3L805.3 1184.9L806.8 1185.8L808.4 1187.3L810.0 1186.2L811.6 1186.8L813.2 1187.9L814.8 1178.4L816.4 1183.0L818.0 1188.3L819.5 1188.8L821.1 1188.6L822.7 1182.7L824.3 1184.1L825.9 1184.5L827.5 1179.9L829.1 1188.3L830.6 1186.7L832.2 1188.7L833.8 1187.9L835.4 1176.2L837.0 1182.0L838.6 1187.9L840.2 1188.9L841.8 1186.2L843.3 1187.0L844.9 1185.5L846.5 1172.4L848.1 1177.1L849.7 1182.9L851.3 1186.8L852.9 1188.4L854.4 1187.2L856.0 1185.7L857.6 1188.6L859.2 1188.5L860.8 1186.7L862.4 1188.0L864.0 1187.7L865.6 1186.8L867.1 1178.5L868.7 1188.4L870.3 1186.8L871.9 1180.8L873.5 1184.4L875.1 1188.2L876.7 1185.8L878.2 1188.1L879.8 1186.2" stroke="#ff2000"/><path d="M1571.8 1186.3L1573.4 1186.6L1575.0 1186.5L1576.6 1181.1L1578.2 1174.8L1579.8 1187.0L1581.4 1187.1L1583.0 1185.8L1584.6 1186.7L1586.2 1185.6L1587.8 1184.5L1589.4 1184.3L1591.0 1185.6L1592.6 1186.6L1594.2 1182.8L1595.8 1182.1L1597.4 1176.4L1599.0 1186.5L1600.6 1173.9L1602.2 1186.0L1603.8 1184.7L1605.4 1174.1L1607.0 1187.1L1608.6 1174.3L1610.3 1183.7L1611.9 1184.0L1613.5 1184.6L1615.1 1180.4L1616.7 1187.1L1618.3 1186.1L1619.9 1185.4L1621.5 1183.7L1623.1 1185.9L1624.7 1186.9L1626.3 1185.8L1627.9 1184.3L1629.5 1184.8L1631.1 1186.8L1632.7 1183.7L1634.3 1184.3L1635.9 1184.1L1637.5 1186.3L1639.1 1185.6L1640.7 1184.7L1642.3 1187.1L1643.9 1186.6L1645.5 1184.4L1647.1 1184.6L1648.7 1185.8L1650.3 1183.5L1651.9 1184.5L1653.5 1183.5L1655.1 1186.6L1656.7 1186.7L1658.3 1187.0L1659.9 1187.0L1661.5 1186.7L1663.1 1186.9L1664.7 1183.5L1666.3 1185.2L1667.9 1185.4L1669.5 1186.7L1671.1 1182.9L1672.7 1187.1L1674.3 1185.1L1675.9 1187.0L1677.6 1186.1L1679.2 1184.2L1680.8 1186.9L1682.4 1185.5L1684.0 1185.7L1685.6 1187.0L1687.2 1186.5L1688.8 1183.5L1690.4 1185.1L1692.0 1186.2L1693.6 1183.0L1695.2 1186.7L1696.8 1184.8L1698.4 1186.4L1700.0 1184.8L1701.6 1186.5L1703.2 1186.6L1704.8 1187.0L1706.4 1182.4L1708.0 1186.8L1709.6 1186.1L1711.2 1186.9" stroke="#ff2000"/><path d="M567.4 1188.6L569.0 1188.3L570.6 1183.3L572.2 1184.3L573.8 1186.4L575.4 1188.2L576.9 1189.0L578.5 1189.0L580.1 1187.7L581.7 1187.9L583.3 1185.8L584.9 1186.3L586.4 1188.2L588.0 1187.1L589.6 1187.9L591.2 1187.9L592.8 1186.6L594.4 1160.7L595.9 1187.9L597.5 1184.6L599.1 1185.6L600.7 1188.4L602.3 1188.7L603.9 1188.5L605.5 1185.6L607.0 1188.4L608.6 1187.7L610.2 1184.9L611.8 1183.5L613.4 1186.1L615.0 1188.0L616.5 1186.9L618.1 1187.3L619.7 1156.6L621.3 1183.6L622.9 1184.3L624.5 1188.5L626.0 1174.2L627.6 1158.1L629.2 1187.8L630.8 1188.5L632.4 1188.6L634.0 1181.2L635.6 1174.1L637.1 1188.5L638.7 1177.6L640.3 1187.4L641.9 1187.3L643.5 1162.2L645.1 1185.5L646.6 1189.0L648.2 1187.7L649.8 1187.9L651.4 1185.9L653.0 1186.5L654.6 1183.6L656.1 1186.4L657.7 1188.3L659.3 1188.9L660.9 1188.5L662.5 1189.0L664.1 1179.0L665.6 1186.9L667.2 1174.4L668.8 1188.9L670.4 1187.9L672.0 1186.9L673.6 1186.3L675.2 1188.7L676.7 1188.2L678.3 1188.2L679.9 1186.4L681.5 1188.0L683.1 1188.3L684.7 1188.8L686.2 1186.7L687.8 1168.1L689.4 1186.7L691.0 1187.0L692.6 1184.7L694.2 1186.2L695.7 1188.6L697.3 1187.7L698.9 1187.2L700.5 1188.4L702.1 1185.6L703.7 1188.8L705.3 1187.8L706.8 1186.7L708.4 1186.9L710.0 1186.6L711.6 1163.4L713.2 1188.7L714.8 1185.9L716.3 1187.3L717.9 1186.1L719.5 1184.1L721.1 1188.2L722.7 1187.6L724.3 1185.4L725.8 1187.6L727.4 1178.6L729.0 1166.1L730.6 1172.1L732.2 1186.7L733.8 1187.4L735.4 1183.4L736.9 1184.0L738.5 1187.0L740.1 1188.5L741.7 1176.4L743.3 1187.9L744.9 1188.2L746.4 1188.4L748.0 1157.6L749.6 1179.7L751.2 1187.7L752.8 1188.1L754.4 1186.6L755.9 1188.5L757.5 1188.3L759.1 1186.2L760.7 1186.7" stroke="#bf0000"/><path d="M1445.1 1185.5L1446.7 1180.2L1448.2 1187.7L1449.8 1186.6L1451.4 1186.0L1453.0 1187.7L1454.6 1187.6L1456.2 1186.3L1457.8 1186.7L1459.4 1187.1L1461.0 1185.7L1462.6 1187.5L1464.2 1185.3L1465.8 1186.1L1467.4 1186.8L1469.0 1156.2L1470.6 1187.0L1472.2 1184.4L1473.7 1167.0L1475.3 1186.9L1476.9 1185.8L1478.5 1171.6L1480.1 1187.1L1481.7 1185.8L1483.3 1184.3L1484.9 1184.7L1486.5 1187.0L1488.1 1186.5L1489.7 1185.7L1491.3 1187.3L1492.9 1185.3L1494.5 1185.6L1496.1 1186.2L1497.7 1185.0L1499.2 1186.0L1500.8 1187.9L1502.4 1186.0L1504.0 1185.3L1505.6 1186.2L1507.2 1186.7L1508.8 1184.8L1510.4 1159.7L1512.0 1185.5L1513.6 1187.4L1515.2 1185.3L1516.8 1187.1L1518.4 1187.3L1520.0 1186.9L1521.6 1185.3L1523.1 1185.9L1524.7 1186.9L1526.3 1184.0L1527.9 1184.9L1529.5 1185.5L1531.1 1187.0L1532.7 1187.2L1534.3 1185.3L1535.9 1186.9L1537.5 1187.9L1539.1 1185.8L1540.7 1187.4L1542.3 1186.9L1543.9 1187.7L1545.5 1186.9L1547.1 1184.3L1548.6 1185.3L1550.2 1187.4L1551.8 1177.1L1553.4 1185.9L1555.0 1186.2L1556.6 1186.1L1558.2 1185.0L1559.8 1177.8L1561.4 1185.3L1563.0 1180.1L1564.6 1185.2L1566.2 1186.3L1567.8 1187.7L1569.4 1187.4L1571.0 1187.8L1572.6 1185.3L1574.1 1186.5L1575.7 1184.8L1577.3 1180.6L1578.9 1187.6L1580.5 1186.3L1582.1 1186.7L1583.7 1186.9L1585.3 1178.6L1586.9 1187.3L1588.5 1187.7L1590.1 1179.0L1591.7 1187.3L1593.3 1175.9L1594.9 1186.7L1596.5 1185.0L1598.1 1185.9L1599.6 1181.6L1601.2 1178.9L1602.8 1186.7L1604.4 1186.7L1606.0 1186.4L1607.6 1182.7L1609.2 1184.4L1610.8 1187.3L1612.4 1187.5L1614.0 1187.6L1615.6 1182.5L1617.2 1186.6L1618.8 1185.8L1620.4 1185.9L1622.0 1187.0L1623.5 1186.8L1625.1 1186.8L1626.7 1187.1L1628.3 1184.5L1629.9 1187.6L1631.5 1183.3L1633.1 1187.0L1634.7 1183.5L1636.3 1187.9L1637.9 1184.8L1639.5 1186.3L1641.1 1186.5L1642.7 1185.3L1644.3 1187.5L1645.9 1187.7L1647.5 1184.5L1649.0 1186.4L1650.6 1184.7L1652.2 1186.4L1653.8 1187.9L1655.4 1186.8L1657.0 1186.5L1658.6 1187.9L1660.2 1185.8L1661.8 1184.3L1663.4 1186.6L1665.0 1183.5L1666.6 1185.2L1668.2 1187.6L1669.8 1187.7L1671.4 1187.5L1673.0 1186.6L1674.5 1184.1L1676.1 1184.6L1677.7 1187.9L1679.3 1187.0L1680.9 1186.8L1682.5 1186.4L1684.1 1186.4L1685.7 1185.4L1687.3 1185.0L1688.9 1186.4L1690.5 1187.9L1692.1 1185.3L1693.7 1185.2L1695.3 1184.6L1696.9 1185.9L1698.5 1187.8L1700.0 1185.7L1701.6 1186.0L1703.2 1184.4L1704.8 1186.4L1706.4 1186.1L1708.0 1186.1L1709.6 1186.6L1711.2 1187.8" stroke="#bf0000"/><path d="M190.4 1182.4L192.0 1183.5L193.6 1183.1L195.2 1184.4L196.7 1185.3L198.3 1185.3L199.9 1185.8L201.5 1184.2L203.1 1183.9L204.7 1183.3L206.2 1183.9L207.8 1185.4L209.4 1185.8L211.0 1184.3L212.6 1184.5L214.2 1185.9L215.7 1183.1L217.3 1185.3L218.9 1181.3L220.5 1181.5L222.1 1184.5L223.7 1182.8L225.3 1181.9L226.8 1183.3L228.4 1185.8L230.0 1185.0L231.6 1185.9L233.2 1184.1L234.8 1184.9L236.3 1185.0L237.9 1180.2L239.5 1183.6L241.1 1185.8L242.7 1185.6L244.3 1184.7L245.8 1185.8L247.4 1185.0L249.0 1183.2L250.6 1185.5L252.2 1184.5L253.8 1179.9L255.4 1185.0L256.9 1186.0L258.5 1186.0L260.1 1185.0L261.7 1182.7L263.3 1185.2L264.9 1185.7L266.4 1183.3L268.0 1182.8L269.6 1185.1L271.2 1186.0L272.8 1184.4L274.4 1185.7L275.9 1183.9L277.5 1185.5L279.1 1183.0L280.7 1185.3L282.3 1181.6L283.9 1185.8L285.4 1185.3L287.0 1183.7L288.6 1185.8L290.2 1185.0L291.8 1185.3L293.4 1185.2L295.0 1184.3L296.5 1183.8L298.1 1182.7L299.7 1185.4L301.3 1186.0L302.9 1185.7L304.5 1186.0L306.0 1184.9L307.6 1183.5L309.2 1185.4L310.8 1185.8L312.4 1183.8L314.0 1185.7L315.5 1185.9L317.1 1186.0L318.7 1183.7L320.3 1184.3L321.9 1182.7L323.5 1185.7L325.1 1176.7L326.6 1180.3L328.2 1186.0L329.8 1178.6L331.4 1180.1L333.0 1185.6L334.6 1184.1L336.1 1185.2L337.7 1186.1L339.3 1186.0L340.9 1184.4L342.5 1185.7L344.1 1185.3L345.6 1183.5L347.2 1181.4L348.8 1184.3L350.4 1185.8L352.0 1185.0L353.6 1182.0L355.2 1184.8L356.7 1183.7L358.3 1184.3L359.9 1185.1L361.5 1182.9L363.1 1184.4L364.7 1182.6L366.2 1184.4L367.8 1184.8L369.4 1185.7L371.0 1184.8" stroke="#9f0000"/><path d="M964.1 1186.8L965.7 1185.1L967.3 1186.0L968.9 1184.1L970.5 1184.8L972.0 1184.2L973.6 1186.5L975.2 1185.5L976.8 1186.1L978.4 1186.2L980.0 1186.1L981.6 1185.1L983.2 1185.9L984.7 1184.9L986.3 1185.4L987.9 1186.3L989.5 1184.8L991.1 1184.5L992.7 1185.5L994.3 1185.9L995.9 1184.2L997.4 1186.8L999.0 1185.9L1000.6 1186.7L1002.2 1186.8L1003.8 1183.9L1005.4 1185.9L1007.0 1182.9L1008.6 1184.2L1010.1 1184.5L1011.7 1182.8L1013.3 1183.7L1014.9 1183.6L1016.5 1185.7L1018.1 1184.3L1019.7 1186.5L1021.3 1186.4L1022.8 1186.2L1024.4 1185.1L1026.0 1184.6L1027.6 1185.5L1029.2 1185.3L1030.8 1181.3L1032.4 1183.4L1034.0 1185.8L1035.5 1186.3L1037.1 1185.9L1038.7 1186.1L1040.3 1185.7L1041.9 1186.1L1043.5 1186.1L1045.1 1186.1L1046.7 1184.8L1048.2 1184.2L1049.8 1186.5L1051.4 1184.7L1053.0 1184.1L1054.6 1185.1L1056.2 1186.9L1057.8 1184.2L1059.4 1185.4L1060.9 1185.6L1062.5 1185.3L1064.1 1184.9L1065.7 1184.7L1067.3 1185.8L1068.9 1184.6L1070.5 1186.7L1072.1 1186.7L1073.6 1185.6L1075.2 1182.8L1076.8 1185.5L1078.4 1182.7L1080.0 1186.5L1081.6 1186.7L1083.2 1184.5L1084.7 1186.3L1086.3 1184.2L1087.9 1182.8L1089.5 1185.1L1091.1 1186.1L1092.7 1186.6L1094.3 1186.5L1095.9 1186.8L1097.4 1183.5L1099.0 1184.1L1100.6 1186.2L1102.2 1186.3L1103.8 1185.8L1105.4 1186.6L1107.0 1185.8L1108.6 1185.8L1110.1 1185.5L1111.7 1185.6L1113.3 1185.8L1114.9 1184.9L1116.5 1184.0L1118.1 1183.1L1119.7 1186.7L1121.3 1186.0L1122.8 1186.9L1124.4 1182.3L1126.0 1186.7L1127.6 1186.4L1129.2 1185.3L1130.8 1183.7L1132.4 1185.9L1134.0 1185.9L1135.5 1185.5L1137.1 1184.6L1138.7 1185.6L1140.3 1185.5L1141.9 1167.0L1143.5 1186.5L1145.1 1174.2L1146.7 1183.6L1148.2 1185.7L1149.8 1183.7L1151.4 1185.8L1153.0 1183.2L1154.6 1183.2L1156.2 1185.6L1157.8 1183.7L1159.4 1186.2L1160.9 1186.6L1162.5 1186.2L1164.1 1185.2L1165.7 1185.1L1167.3 1184.4L1168.9 1186.4L1170.5 1185.0L1172.1 1185.6L1173.6 1186.8L1175.2 1185.7L1176.8 1186.4L1178.4 1183.4L1180.0 1186.6L1181.6 1183.3L1183.2 1165.7L1184.8 1186.6L1186.3 1185.0L1187.9 1185.0L1189.5 1185.2L1191.1 1186.5L1192.7 1186.0L1194.3 1184.4L1195.9 1164.6L1197.5 1184.9L1199.0 1185.9L1200.6 1171.4L1202.2 1186.5L1203.8 1186.3L1205.4 1184.9L1207.0 1182.6L1208.6 1185.2L1210.2 1186.9L1211.7 1186.0L1213.3 1185.0L1214.9 1180.8L1216.5 1169.2L1218.1 1171.9L1219.7 1186.2L1221.3 1184.4L1222.9 1186.7L1224.4 1186.4L1226.0 1177.4L1227.6 1186.9L1229.2 1184.3L1230.8 1185.0L1232.4 1186.6L1234.0 1186.1L1235.6 1183.5L1237.1 1184.4L1238.7 1185.8L1240.3 1179.1L1241.9 1184.9L1243.5 1181.5L1245.1 1186.8L1246.7 1174.7L1248.3 1186.5L1249.8 1184.7L1251.4 1184.9L1253.0 1183.3L1254.6 1186.4L1256.2 1186.0L1257.8 1185.9L1259.4 1185.0L1261.0 1185.7L1262.5 1183.9L1264.1 1184.0L1265.7 1181.8L1267.3 1182.3L1268.9 1183.9L1270.5 1186.5L1272.1 1184.9L1273.6 1185.1L1275.2 1186.2" stroke="#9f0000"/><path d="M339.6 1188.8L340.6 1166.9L341.5 1188.6" stroke="#ff4000"/><path d="M446.1 1187.8L447.0 1160.7L448.0 1187.7" stroke="#ff4000"/><path d="M417.6 1189.0L418.5 1181.3L419.5 1188.7" stroke="#ff8000"/><path d="M373.2 1188.7L374.2 1181.3L375.1 1188.8" stroke="#9f0000"/><path d="M509.5 1188.1L510.4 1164.8L511.4 1188.0" stroke="#0060ff"/><path d="M525.3 1188.8L526.2 1171.0L527.2 1188.9" stroke="#0060ff"/><path d="M559.5 1185.3L560.5 1078.1L561.4 1184.8" stroke="#00ffff"/><path d="M544.3 1188.8L545.3 1181.3L546.2 1188.9" stroke="#00ffff"/><path d="M618.4 1188.9L619.4 1101.3L620.3 1188.2" stroke="#dfff20"/><path d="M604.5 1188.7L605.5 1171.0L606.4 1188.5" stroke="#dfff20"/><path d="M629.8 1188.2L630.8 1158.1L631.7 1187.7" stroke="#dfff20"/><path d="M639.4 1188.9L640.3 1142.6L641.3 1189.0" stroke="#dfff20"/><path d="M645.7 1188.2L646.6 1165.8L647.6 1188.2" stroke="#dfff20"/><path d="M661.5 1186.6L662.5 1111.7L663.4 1187.1" stroke="#00bfff"/><path d="M671.0 1187.6L672.0 1124.6L672.9 1186.9" stroke="#00ffff"/><path d="M690.0 1188.7L691.0 1134.9L691.9 1186.8" stroke="#dfff20"/><path d="M709.1 1184.9L710.0 1084.3L711.0 1182.8" stroke="#dfff20"/><path d="M718.6 1187.3L719.5 1096.2L720.5 1188.6" stroke="#0000ff"/><path d="M715.4 1187.5L716.3 1119.4L717.3 1185.5" stroke="#dfff20"/><path d="M731.2 1188.1L732.2 1119.4L733.1 1188.1" stroke="#00ffff"/><path d="M740.7 1188.1L741.7 1132.3L742.6 1186.5" stroke="#0000ff"/><path d="M686.9 1188.2L687.8 1171.0L688.8 1188.6" stroke="#ff2000"/><path d="M699.6 1188.9L700.5 1160.7L701.5 1188.8" stroke="#ff2000"/><path d="M715.4 1189.0L716.3 1165.8L717.3 1188.1" stroke="#ff2000"/><path d="M728.1 1188.2L729.0 1171.0L730.0 1188.0" stroke="#ff2000"/><path d="M614.0 1188.5L615.0 1165.8L615.9 1189.0" stroke="#00ffff"/><path d="M633.0 1188.4L634.0 1171.0L634.9 1188.3" stroke="#00bfff"/><path d="M652.0 1188.5L653.0 1165.8L653.9 1188.0" stroke="#00ffff"/><path d="M680.5 1189.0L681.5 1152.9L682.4 1187.0" stroke="#00bfff"/><path d="M705.9 1188.1L706.8 1158.1L707.8 1187.4" stroke="#0000ff"/><path d="M724.9 1187.3L725.8 1150.4L726.8 1188.5" stroke="#0000ff"/><path d="M791.4 1187.8L792.4 1152.9L793.3 1188.9" stroke="#0000ff"/><path d="M804.1 1188.0L805.1 1119.4L806.0 1188.4" stroke="#0000ff"/><path d="M816.8 1188.7L817.7 1145.2L818.7 1187.2" stroke="#009fff"/><path d="M829.5 1187.5L830.4 1124.6L831.4 1185.6" stroke="#009fff"/><path d="M854.8 1186.5L855.8 1134.9L856.7 1186.7" stroke="#009fff"/><path d="M842.1 1187.9L843.1 1165.8L844.0 1188.3" stroke="#009fff"/><path d="M899.2 1188.2L900.1 1158.1L901.1 1188.5" stroke="#009fff"/><path d="M943.5 1188.5L944.5 1158.1L945.4 1188.7" stroke="#0000ff"/><path d="M778.8 1188.9L779.7 1165.8L780.7 1188.5" stroke="#ff2000"/><path d="M800.9 1188.3L801.9 1171.0L802.8 1188.3" stroke="#ffdf00"/><path d="M873.8 1188.5L874.8 1176.2L875.7 1188.4" stroke="#ffdf00"/><path d="M962.2 1183.1L964.0 1165.6L965.8 1130.5L967.5 1159.7L969.3 1169.7L971.1 1184.7" stroke="#9f0000"/><path d="M967.6 1185.1L968.7 1171.8L969.8 1143.7L970.9 1179.8L972.0 1183.3" stroke="#0000ff"/><path d="M981.5 1188.7L982.5 1171.0L983.4 1188.7" stroke="#9f0000"/><path d="M1057.6 1188.8L1058.5 1178.7L1059.5 1188.6" stroke="#009fff"/><path d="M1127.3 1187.1L1128.2 1142.6L1129.2 1187.9" stroke="#9f0000"/><path d="M1146.3 1188.4L1147.2 1132.3L1148.2 1187.1" stroke="#0020ff"/><path d="M1168.5 1188.9L1169.4 1165.8L1170.4 1188.4" stroke="#0020ff"/><path d="M1174.8 1188.4L1175.8 1171.0L1176.7 1188.4" stroke="#0020ff"/><path d="M1190.6 1188.7L1191.6 1158.1L1192.5 1187.6" stroke="#0020ff"/><path d="M1197.0 1188.1L1197.9 1165.8L1198.9 1188.0" stroke="#0020ff"/><path d="M1219.2 1188.4L1220.1 1158.1L1221.1 1187.9" stroke="#00bfff"/><path d="M1228.7 1188.9L1229.6 1165.8L1230.6 1187.7" stroke="#00bfff"/><path d="M1231.8 1188.7L1232.8 1176.2L1233.7 1188.6" stroke="#ff6000"/><path d="M1247.7 1188.9L1248.6 1165.8L1249.6 1188.5" stroke="#00bfff"/><path d="M1241.3 1188.2L1242.3 1158.1L1243.2 1187.6" stroke="#00bfff"/><path d="M1335.1 1180.4L1336.1 925.9L1337.0 1180.0" stroke="#00bfff"/><path d="M1337.7 1183.3L1338.6 1067.8L1339.6 1188.2" stroke="#00bfff"/><path d="M1336.4 1185.3L1337.3 1111.7L1338.3 1186.2" stroke="#ff8000"/><path d="M1354.1 1185.2L1355.1 995.6L1356.0 1180.4" stroke="#ff8000"/><path d="M1356.7 1182.4L1357.6 925.9L1358.6 1183.7" stroke="#ff8000"/><path d="M1359.2 1183.4L1360.1 1067.8L1361.1 1188.5" stroke="#ff8000"/><path d="M1364.9 1184.2L1365.9 946.5L1366.8 1180.4" stroke="#0040ff"/><path d="M1369.3 1185.3L1370.3 1067.8L1371.2 1182.3" stroke="#00ffff"/><path d="M1374.4 1185.7L1375.4 1106.5L1376.3 1187.7" stroke="#00ffff"/><path d="M1380.7 1186.3L1381.7 1132.3L1382.6 1186.2" stroke="#00ffff"/><path d="M1387.1 1184.7L1388.0 1098.8L1389.0 1184.4" stroke="#009fff"/><path d="M1390.2 1187.1L1391.2 956.9L1392.1 1187.2" stroke="#00ffff"/><path d="M1393.4 1186.9L1394.4 1075.5L1395.3 1183.7" stroke="#ff8000"/><path d="M1396.6 1188.9L1397.5 1132.3L1398.5 1186.9" stroke="#ff8000"/><path d="M1406.1 1188.6L1407.0 1160.7L1408.0 1187.6" stroke="#00ffff"/><path d="M1383.9 1189.1L1384.9 1145.2L1385.8 1188.2" stroke="#ff6000"/><path d="M1361.7 1186.9L1362.7 1145.2L1363.6 1187.0" stroke="#00ffff"/><path d="M1451.7 1184.4L1452.7 925.9L1453.6 1178.2" stroke="#0000bf"/><path d="M1455.5 1185.3L1456.5 925.9L1457.4 1174.1" stroke="#0000bf"/><path d="M1460.0 1186.2L1460.9 1031.7L1461.9 1184.9" stroke="#00bfff"/><path d="M1456.8 1188.3L1457.7 1119.4L1458.7 1186.0" stroke="#00bfff"/><path d="M1463.1 1185.6L1464.1 1054.9L1465.0 1184.2" stroke="#00ffff"/><path d="M1465.7 1187.4L1466.6 1096.2L1467.6 1185.5" stroke="#00ffff"/><path d="M1469.5 1184.2L1470.4 986.3L1471.4 1176.9" stroke="#bf0000"/><path d="M1480.9 1185.9L1481.8 1042.0L1482.8 1186.9" stroke="#ff8000"/><path d="M1483.4 1183.8L1484.3 1054.9L1485.3 1186.9" stroke="#ff8000"/><path d="M1491.6 1187.3L1492.6 1096.2L1493.5 1184.9" stroke="#ff8000"/><path d="M1475.8 1187.9L1476.7 1132.3L1477.7 1187.4" stroke="#0000bf"/><path d="M1466.3 1186.2L1467.2 1119.4L1468.2 1185.5" stroke="#0000bf"/><path d="M1498.0 1187.6L1498.9 1158.1L1499.9 1188.8" stroke="#00ffff"/><path d="M1504.3 1187.9L1505.3 1158.1L1506.2 1187.5" stroke="#00ffff"/><path d="M1532.8 1188.3L1533.8 1165.8L1534.7 1188.5" stroke="#dfff20"/><path d="M1551.8 1189.0L1552.8 1165.8L1553.7 1188.4" stroke="#bf0000"/><path d="M1577.2 1188.0L1578.1 1160.7L1579.1 1188.2" stroke="#0000ff"/><path d="M1539.2 1188.7L1540.1 1176.2L1541.1 1188.6" stroke="#00dfff"/><path d="M1602.5 1188.8L1603.5 1181.3L1604.4 1188.8" stroke="#0000ff"/><path d="M1672.2 1189.1L1673.2 1181.3L1674.1 1188.7" stroke="#dfff20"/><path d="M1707.1 1188.7L1708.0 1171.0L1709.0 1188.8" stroke="#ffdf00"/></g></g>
<text transform="translate(179.4,1208.4) scale(1,1.05)" text-anchor="end" class="tl">0</text>
<text transform="translate(179.4,1182.6) scale(1,1.05)" text-anchor="end" class="tl">0.1</text>
<text transform="translate(179.4,1156.8) scale(1,1.05)" text-anchor="end" class="tl">0.2</text>
<text transform="translate(179.4,1105.2) scale(1,1.05)" text-anchor="end" class="tl">0.4</text>
<text transform="translate(179.4,1053.6) scale(1,1.05)" text-anchor="end" class="tl">0.6</text>
<text transform="translate(179.4,1002.0) scale(1,1.05)" text-anchor="end" class="tl">0.8</text>
<text transform="translate(190.4,1238.0) scale(1,1.05)" text-anchor="middle" class="tl">00</text>
<text transform="translate(253.8,1238.0) scale(1,1.05)" text-anchor="middle" class="tl">01</text>
<text transform="translate(317.1,1238.0) scale(1,1.05)" text-anchor="middle" class="tl">02</text>
<text transform="translate(380.5,1238.0) scale(1,1.05)" text-anchor="middle" class="tl">03</text>
<text transform="translate(443.9,1238.0) scale(1,1.05)" text-anchor="middle" class="tl">04</text>
<text transform="translate(507.2,1238.0) scale(1,1.05)" text-anchor="middle" class="tl">05</text>
<text transform="translate(570.6,1238.0) scale(1,1.05)" text-anchor="middle" class="tl">06</text>
<text transform="translate(634.0,1238.0) scale(1,1.05)" text-anchor="middle" class="tl">07</text>
<text transform="translate(697.3,1238.0) scale(1,1.05)" text-anchor="middle" class="tl">08</text>
<text transform="translate(760.7,1238.0) scale(1,1.05)" text-anchor="middle" class="tl">09</text>
<text transform="translate(824.1,1238.0) scale(1,1.05)" text-anchor="middle" class="tl">10</text>
<text transform="translate(887.4,1238.0) scale(1,1.05)" text-anchor="middle" class="tl">11</text>
<text transform="translate(950.8,1238.0) scale(1,1.05)" text-anchor="middle" class="tl">12</text>
<text transform="translate(1014.2,1238.0) scale(1,1.05)" text-anchor="middle" class="tl">13</text>
<text transform="translate(1077.5,1238.0) scale(1,1.05)" text-anchor="middle" class="tl">14</text>
<text transform="translate(1140.9,1238.0) scale(1,1.05)" text-anchor="middle" class="tl">15</text>
<text transform="translate(1204.3,1238.0) scale(1,1.05)" text-anchor="middle" class="tl">16</text>
<text transform="translate(1267.6,1238.0) scale(1,1.05)" text-anchor="middle" class="tl">17</text>
<text transform="translate(1331.0,1238.0) scale(1,1.05)" text-anchor="middle" class="tl">18</text>
<text transform="translate(1394.4,1238.0) scale(1,1.05)" text-anchor="middle" class="tl">19</text>
<text transform="translate(1457.7,1238.0) scale(1,1.05)" text-anchor="middle" class="tl">20</text>
<text transform="translate(1521.1,1238.0) scale(1,1.05)" text-anchor="middle" class="tl">21</text>
<text transform="translate(1584.5,1238.0) scale(1,1.05)" text-anchor="middle" class="tl">22</text>
<text transform="translate(1647.8,1238.0) scale(1,1.05)" text-anchor="middle" class="tl">23</text>
<text transform="translate(1711.2,1238.0) scale(1,1.05)" text-anchor="middle" class="tl">00</text>
<text x="951" y="1279.5" text-anchor="middle" class="yl">UT</text>
<text x="950.5" y="128.2" text-anchor="middle" style="font-size:32.3px;fill:#000">20221126-UiB-NYA-GALILEO</text>
<text transform="translate(132.5,270.5) rotate(-90)" text-anchor="middle" class="yl">VTEC[TECU]</text>
<text transform="translate(140,536.5) rotate(-90)" text-anchor="middle" class="yl">ROT [TECU/min]</text>
<text transform="translate(110.8,911) rotate(-90)" class="yl">S<tspan dy="15.5" style="font-size:26px">4</tspan><tspan dy="-15.5" dx="1"> ("ism.mat")</tspan></text>
<text transform="translate(112,1121) rotate(-90)" class="yl"><tspan style="font-family:'Liberation Serif',serif;font-style:italic;font-weight:normal;font-weight:bold">σ</tspan><tspan dy="16" dx="4.5" style="font-family:'Liberation Serif',serif;font-style:italic;font-weight:normal;font-size:26px">ϕ</tspan><tspan dy="-16" dx="1.5">[rad]</tspan></text>
<rect x="1731.8" y="264.90" width="21.4" height="799.60" fill="#800000"/>
<rect x="1731.8" y="289.89" width="21.4" height="774.61" fill="#9f0000"/>
<rect x="1731.8" y="314.88" width="21.4" height="749.62" fill="#bf0000"/>
<rect x="1731.8" y="339.86" width="21.4" height="724.64" fill="#df0000"/>
<rect x="1731.8" y="364.85" width="21.4" height="699.65" fill="#ff0000"/>
<rect x="1731.8" y="389.84" width="21.4" height="674.66" fill="#ff2000"/>
<rect x="1731.8" y="414.82" width="21.4" height="649.68" fill="#ff4000"/>
<rect x="1731.8" y="439.81" width="21.4" height="624.69" fill="#ff6000"/>
<rect x="1731.8" y="464.80" width="21.4" height="599.70" fill="#ff8000"/>
<rect x="1731.8" y="489.79" width="21.4" height="574.71" fill="#ff9f00"/>
<rect x="1731.8" y="514.77" width="21.4" height="549.73" fill="#ffbf00"/>
<rect x="1731.8" y="539.76" width="21.4" height="524.74" fill="#ffdf00"/>
<rect x="1731.8" y="564.75" width="21.4" height="499.75" fill="#ffff00"/>
<rect x="1731.8" y="589.74" width="21.4" height="474.76" fill="#dfff20"/>
<rect x="1731.8" y="614.72" width="21.4" height="449.78" fill="#bfff40"/>
<rect x="1731.8" y="639.71" width="21.4" height="424.79" fill="#9fff60"/>
<rect x="1731.8" y="664.70" width="21.4" height="399.80" fill="#80ff80"/>
<rect x="1731.8" y="689.69" width="21.4" height="374.81" fill="#60ff9f"/>
<rect x="1731.8" y="714.67" width="21.4" height="349.83" fill="#40ffbf"/>
<rect x="1731.8" y="739.66" width="21.4" height="324.84" fill="#20ffdf"/>
<rect x="1731.8" y="764.65" width="21.4" height="299.85" fill="#00ffff"/>
<rect x="1731.8" y="789.64" width="21.4" height="274.86" fill="#00dfff"/>
<rect x="1731.8" y="814.62" width="21.4" height="249.88" fill="#00bfff"/>
<rect x="1731.8" y="839.61" width="21.4" height="224.89" fill="#009fff"/>
<rect x="1731.8" y="864.60" width="21.4" height="199.90" fill="#0080ff"/>
<rect x="1731.8" y="889.59" width="21.4" height="174.91" fill="#0060ff"/>
<rect x="1731.8" y="914.58" width="21.4" height="149.92" fill="#0040ff"/>
<rect x="1731.8" y="939.56" width="21.4" height="124.94" fill="#0020ff"/>
<rect x="1731.8" y="964.55" width="21.4" height="99.95" fill="#0000ff"/>
<rect x="1731.8" y="989.54" width="21.4" height="74.96" fill="#0000df"/>
<rect x="1731.8" y="1014.52" width="21.4" height="49.98" fill="#0000bf"/>
<rect x="1731.8" y="1039.51" width="21.4" height="24.99" fill="#00009f"/>
<text x="1765" y="1050.7" class="tl" style="font-size:34px">2</text>
<text x="1765" y="999.1" class="tl" style="font-size:34px">4</text>
<text x="1765" y="947.5" class="tl" style="font-size:34px">6</text>
<text x="1765" y="895.9" class="tl" style="font-size:34px">8</text>
<text x="1765" y="844.4" class="tl" style="font-size:34px">10</text>
<text x="1765" y="792.8" class="tl" style="font-size:34px">12</text>
<text x="1765" y="741.2" class="tl" style="font-size:34px">14</text>
<text x="1765" y="689.6" class="tl" style="font-size:34px">16</text>
<text x="1765" y="638.0" class="tl" style="font-size:34px">18</text>
<text x="1765" y="586.4" class="tl" style="font-size:34px">20</text>
<text x="1765" y="534.8" class="tl" style="font-size:34px">22</text>
<text x="1765" y="483.2" class="tl" style="font-size:34px">24</text>
<text x="1765" y="431.7" class="tl" style="font-size:34px">26</text>
<text x="1765" y="380.1" class="tl" style="font-size:34px">28</text>
<text x="1765" y="328.5" class="tl" style="font-size:34px">30</text>
<text x="1765" y="276.9" class="tl" style="font-size:34px">32</text>
<path d="M1753.2 1038.71h-8M1753.2 987.12h-8M1753.2 935.53h-8M1753.2 883.95h-8M1753.2 832.36h-8M1753.2 780.77h-8M1753.2 729.18h-8M1753.2 677.60h-8M1753.2 626.01h-8M1753.2 574.42h-8M1753.2 522.84h-8M1753.2 471.25h-8M1753.2 419.66h-8M1753.2 368.07h-8M1753.2 316.49h-8M1753.2 264.90h-8" stroke="#262626" stroke-width="3" fill="none"/>
<rect x="1731.8" y="266.3" width="21.4" height="796.9" stroke="#262626" stroke-width="3" fill="none"/>
<text x="1719" y="245.8" style="font-size:33.7px;fill:#000">#PRN</text>
</svg></body></html>
